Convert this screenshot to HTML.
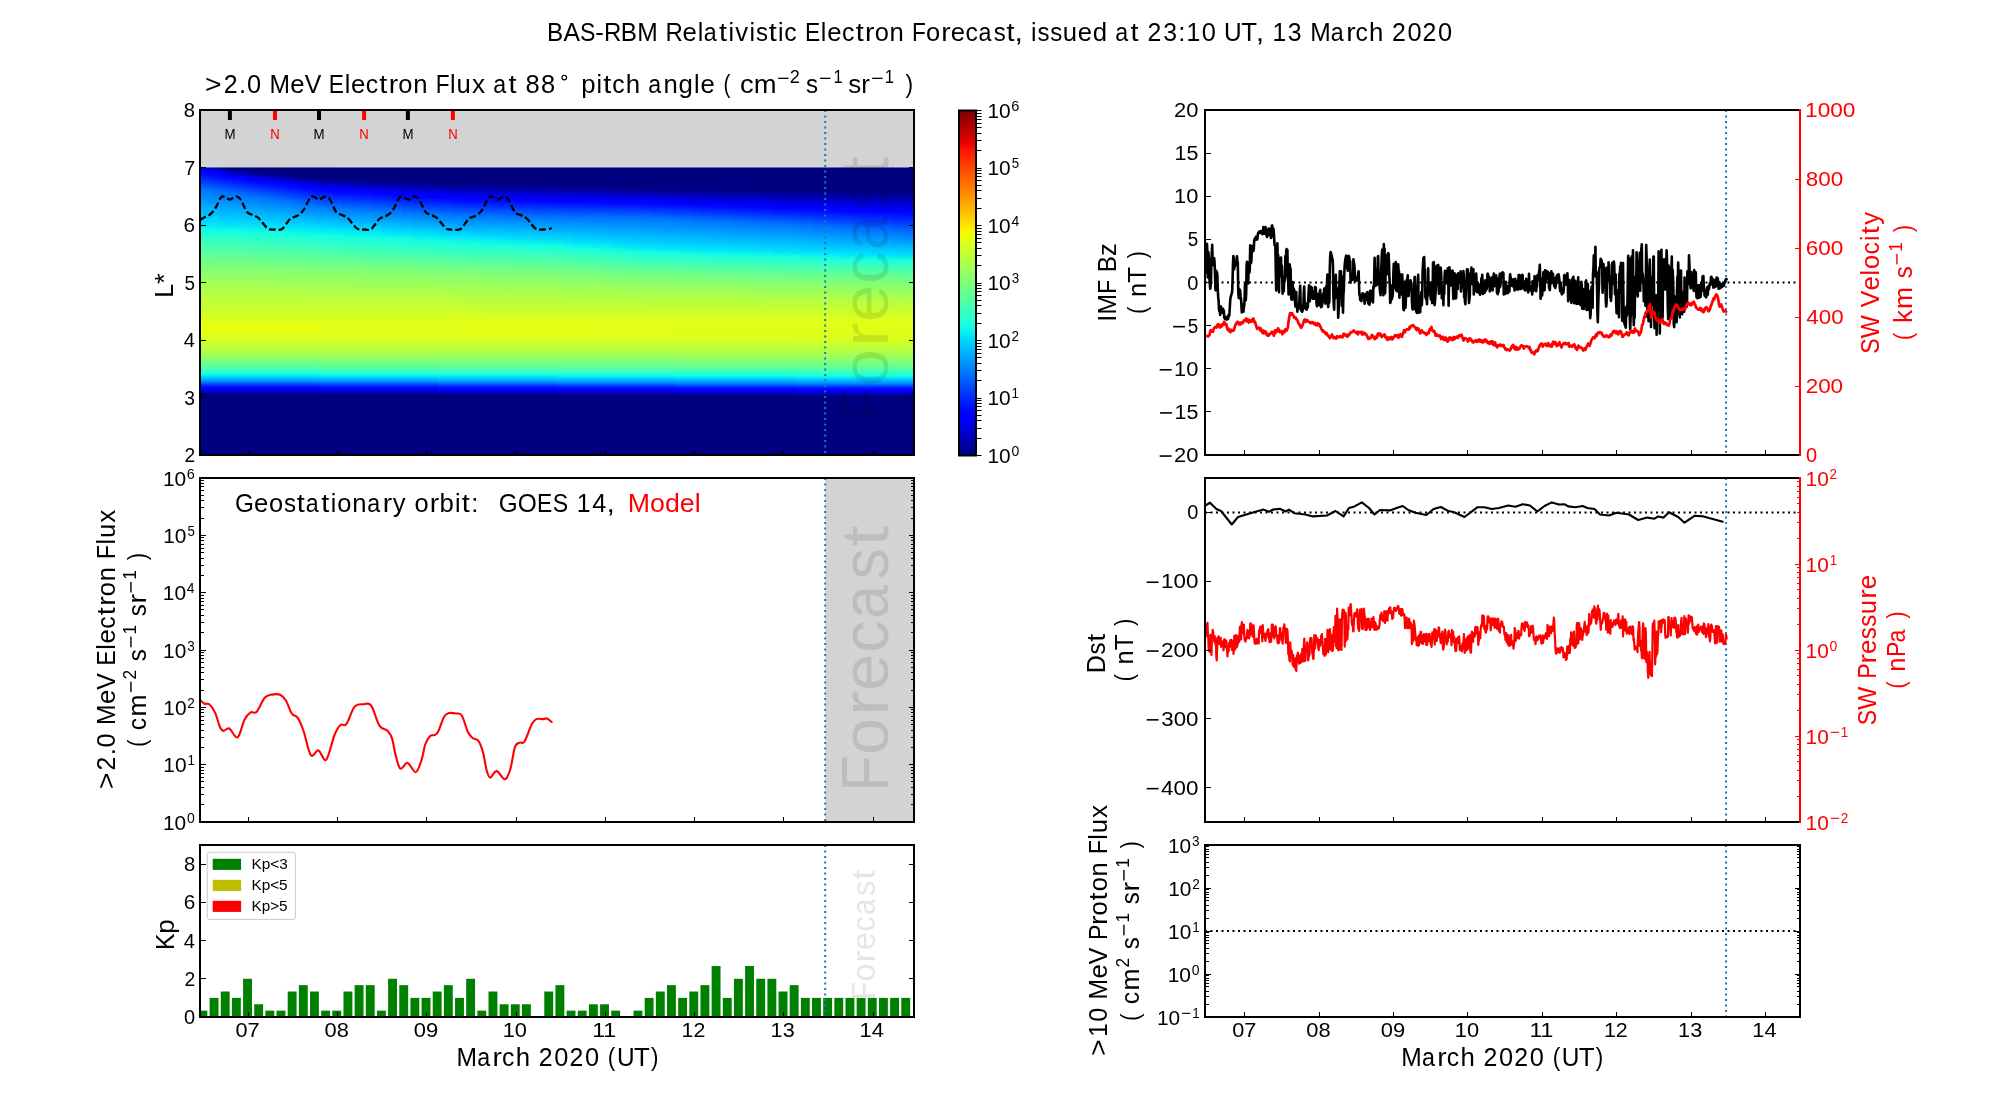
<!DOCTYPE html><html><head><meta charset="utf-8"><title>BAS-RBM Forecast</title><style>html,body{margin:0;padding:0;background:#fff;width:2000px;height:1100px;overflow:hidden}svg{display:block;font-family:"Liberation Sans",sans-serif;will-change:transform}</style></head><body><svg width="2000" height="1100" viewBox="0 0 2000 1100" font-family="Liberation Sans, sans-serif" style="white-space:pre" xml:space="preserve"><defs><clipPath id="c1"><rect x="200" y="110" width="714" height="345"/></clipPath><clipPath id="c2"><rect x="200" y="478" width="714" height="344"/></clipPath><clipPath id="c3"><rect x="200" y="845" width="714" height="172"/></clipPath><clipPath id="c4"><rect x="1205" y="110" width="595" height="345"/></clipPath><clipPath id="c5"><rect x="1205" y="478" width="595" height="344"/></clipPath><clipPath id="c6"><rect x="1205" y="845" width="595" height="172"/></clipPath><linearGradient id="hb0" x1="0" y1="1" x2="0" y2="0"><stop offset="0.000" stop-color="#000080"/><stop offset="0.019" stop-color="#000080"/><stop offset="0.038" stop-color="#000080"/><stop offset="0.058" stop-color="#00009b"/><stop offset="0.077" stop-color="#0000c4"/><stop offset="0.096" stop-color="#0000e3"/><stop offset="0.115" stop-color="#0000fa"/><stop offset="0.135" stop-color="#0004ff"/><stop offset="0.154" stop-color="#001cff"/><stop offset="0.173" stop-color="#0040ff"/><stop offset="0.192" stop-color="#0060ff"/><stop offset="0.212" stop-color="#0084ff"/><stop offset="0.231" stop-color="#00a0ff"/><stop offset="0.250" stop-color="#00b4ff"/><stop offset="0.269" stop-color="#00ccff"/><stop offset="0.288" stop-color="#00e4f8"/><stop offset="0.308" stop-color="#0ff8e7"/><stop offset="0.327" stop-color="#1fffd7"/><stop offset="0.346" stop-color="#30ffc7"/><stop offset="0.365" stop-color="#3cffba"/><stop offset="0.385" stop-color="#46ffb1"/><stop offset="0.404" stop-color="#50ffa7"/><stop offset="0.423" stop-color="#5dff9a"/><stop offset="0.442" stop-color="#66ff90"/><stop offset="0.462" stop-color="#70ff87"/><stop offset="0.538" stop-color="#90ff66"/><stop offset="0.615" stop-color="#b1ff46"/><stop offset="0.692" stop-color="#c4ff33"/><stop offset="0.769" stop-color="#d7ff1f"/><stop offset="0.846" stop-color="#deff19"/><stop offset="0.923" stop-color="#e7ff0f"/><stop offset="1.000" stop-color="#deff19"/></linearGradient><linearGradient id="hb1" x1="0" y1="1" x2="0" y2="0"><stop offset="0.000" stop-color="#000080"/><stop offset="0.019" stop-color="#000080"/><stop offset="0.038" stop-color="#000080"/><stop offset="0.058" stop-color="#0000a4"/><stop offset="0.077" stop-color="#0000cd"/><stop offset="0.096" stop-color="#0000e8"/><stop offset="0.115" stop-color="#0000ff"/><stop offset="0.135" stop-color="#0008ff"/><stop offset="0.154" stop-color="#0024ff"/><stop offset="0.173" stop-color="#0048ff"/><stop offset="0.192" stop-color="#0068ff"/><stop offset="0.212" stop-color="#008cff"/><stop offset="0.231" stop-color="#00a4ff"/><stop offset="0.250" stop-color="#00bcff"/><stop offset="0.269" stop-color="#00d4ff"/><stop offset="0.288" stop-color="#06ecf1"/><stop offset="0.308" stop-color="#13fce4"/><stop offset="0.327" stop-color="#23ffd4"/><stop offset="0.346" stop-color="#33ffc4"/><stop offset="0.365" stop-color="#40ffb7"/><stop offset="0.385" stop-color="#49ffad"/><stop offset="0.404" stop-color="#53ffa4"/><stop offset="0.423" stop-color="#60ff97"/><stop offset="0.442" stop-color="#6aff8d"/><stop offset="0.462" stop-color="#73ff83"/><stop offset="0.538" stop-color="#94ff63"/><stop offset="0.615" stop-color="#b1ff46"/><stop offset="0.692" stop-color="#c4ff33"/><stop offset="0.769" stop-color="#d7ff1f"/><stop offset="0.846" stop-color="#deff19"/><stop offset="0.923" stop-color="#e4ff13"/><stop offset="1.000" stop-color="#e1ff16"/></linearGradient><linearGradient id="hb2" x1="0" y1="1" x2="0" y2="0"><stop offset="0.000" stop-color="#000080"/><stop offset="0.019" stop-color="#000080"/><stop offset="0.038" stop-color="#000089"/><stop offset="0.058" stop-color="#0000b2"/><stop offset="0.077" stop-color="#0000d6"/><stop offset="0.096" stop-color="#0000f1"/><stop offset="0.115" stop-color="#0000ff"/><stop offset="0.135" stop-color="#0010ff"/><stop offset="0.154" stop-color="#0030ff"/><stop offset="0.173" stop-color="#0050ff"/><stop offset="0.192" stop-color="#0074ff"/><stop offset="0.212" stop-color="#0094ff"/><stop offset="0.231" stop-color="#00acff"/><stop offset="0.250" stop-color="#00c4ff"/><stop offset="0.269" stop-color="#00d8ff"/><stop offset="0.288" stop-color="#09f0ee"/><stop offset="0.308" stop-color="#19ffde"/><stop offset="0.327" stop-color="#29ffce"/><stop offset="0.346" stop-color="#36ffc1"/><stop offset="0.365" stop-color="#43ffb4"/><stop offset="0.385" stop-color="#4dffaa"/><stop offset="0.404" stop-color="#56ffa0"/><stop offset="0.423" stop-color="#60ff97"/><stop offset="0.442" stop-color="#6dff8a"/><stop offset="0.462" stop-color="#77ff80"/><stop offset="0.538" stop-color="#94ff63"/><stop offset="0.615" stop-color="#b1ff46"/><stop offset="0.692" stop-color="#c4ff33"/><stop offset="0.769" stop-color="#d7ff1f"/><stop offset="0.846" stop-color="#deff19"/><stop offset="0.923" stop-color="#e4ff13"/><stop offset="1.000" stop-color="#e1ff16"/></linearGradient><linearGradient id="hb3" x1="0" y1="1" x2="0" y2="0"><stop offset="0.000" stop-color="#000080"/><stop offset="0.019" stop-color="#000080"/><stop offset="0.038" stop-color="#000092"/><stop offset="0.058" stop-color="#0000bb"/><stop offset="0.077" stop-color="#0000da"/><stop offset="0.096" stop-color="#0000f6"/><stop offset="0.115" stop-color="#0000ff"/><stop offset="0.135" stop-color="#0018ff"/><stop offset="0.154" stop-color="#0038ff"/><stop offset="0.173" stop-color="#0058ff"/><stop offset="0.192" stop-color="#007cff"/><stop offset="0.212" stop-color="#009cff"/><stop offset="0.231" stop-color="#00b0ff"/><stop offset="0.250" stop-color="#00c8ff"/><stop offset="0.269" stop-color="#00e0fb"/><stop offset="0.288" stop-color="#0cf4eb"/><stop offset="0.308" stop-color="#1cffdb"/><stop offset="0.327" stop-color="#2cffca"/><stop offset="0.346" stop-color="#39ffbe"/><stop offset="0.365" stop-color="#46ffb1"/><stop offset="0.385" stop-color="#50ffa7"/><stop offset="0.404" stop-color="#5aff9d"/><stop offset="0.423" stop-color="#63ff94"/><stop offset="0.442" stop-color="#6dff8a"/><stop offset="0.462" stop-color="#77ff80"/><stop offset="0.538" stop-color="#97ff60"/><stop offset="0.615" stop-color="#b1ff46"/><stop offset="0.692" stop-color="#c4ff33"/><stop offset="0.769" stop-color="#d7ff1f"/><stop offset="0.846" stop-color="#deff19"/><stop offset="0.923" stop-color="#e4ff13"/><stop offset="1.000" stop-color="#e4ff13"/></linearGradient><linearGradient id="hb4" x1="0" y1="1" x2="0" y2="0"><stop offset="0.000" stop-color="#000080"/><stop offset="0.019" stop-color="#000080"/><stop offset="0.038" stop-color="#00009f"/><stop offset="0.058" stop-color="#0000c8"/><stop offset="0.077" stop-color="#0000e3"/><stop offset="0.096" stop-color="#0000ff"/><stop offset="0.115" stop-color="#0004ff"/><stop offset="0.135" stop-color="#0020ff"/><stop offset="0.154" stop-color="#0040ff"/><stop offset="0.173" stop-color="#0064ff"/><stop offset="0.192" stop-color="#0084ff"/><stop offset="0.212" stop-color="#00a0ff"/><stop offset="0.231" stop-color="#00b8ff"/><stop offset="0.250" stop-color="#00d0ff"/><stop offset="0.269" stop-color="#00e4f8"/><stop offset="0.288" stop-color="#13fce4"/><stop offset="0.308" stop-color="#1fffd7"/><stop offset="0.327" stop-color="#30ffc7"/><stop offset="0.346" stop-color="#3cffba"/><stop offset="0.365" stop-color="#46ffb1"/><stop offset="0.385" stop-color="#53ffa4"/><stop offset="0.404" stop-color="#5dff9a"/><stop offset="0.423" stop-color="#66ff90"/><stop offset="0.442" stop-color="#70ff87"/><stop offset="0.462" stop-color="#7aff7d"/><stop offset="0.538" stop-color="#97ff60"/><stop offset="0.615" stop-color="#b1ff46"/><stop offset="0.692" stop-color="#c4ff33"/><stop offset="0.769" stop-color="#d7ff1f"/><stop offset="0.846" stop-color="#deff19"/><stop offset="0.923" stop-color="#e1ff16"/><stop offset="1.000" stop-color="#e4ff13"/></linearGradient><linearGradient id="hb5" x1="0" y1="1" x2="0" y2="0"><stop offset="0.000" stop-color="#000080"/><stop offset="0.019" stop-color="#000080"/><stop offset="0.038" stop-color="#0000a8"/><stop offset="0.058" stop-color="#0000d1"/><stop offset="0.077" stop-color="#0000e8"/><stop offset="0.096" stop-color="#0000ff"/><stop offset="0.115" stop-color="#000cff"/><stop offset="0.135" stop-color="#0028ff"/><stop offset="0.154" stop-color="#0048ff"/><stop offset="0.173" stop-color="#006cff"/><stop offset="0.192" stop-color="#008cff"/><stop offset="0.212" stop-color="#00a8ff"/><stop offset="0.231" stop-color="#00bcff"/><stop offset="0.250" stop-color="#00d4ff"/><stop offset="0.269" stop-color="#06ecf1"/><stop offset="0.288" stop-color="#16ffe1"/><stop offset="0.308" stop-color="#26ffd1"/><stop offset="0.327" stop-color="#33ffc4"/><stop offset="0.346" stop-color="#40ffb7"/><stop offset="0.365" stop-color="#49ffad"/><stop offset="0.385" stop-color="#53ffa4"/><stop offset="0.404" stop-color="#60ff97"/><stop offset="0.423" stop-color="#6aff8d"/><stop offset="0.442" stop-color="#73ff83"/><stop offset="0.462" stop-color="#7aff7d"/><stop offset="0.538" stop-color="#97ff60"/><stop offset="0.615" stop-color="#b1ff46"/><stop offset="0.692" stop-color="#c4ff33"/><stop offset="0.769" stop-color="#d7ff1f"/><stop offset="0.846" stop-color="#dbff1c"/><stop offset="0.923" stop-color="#e1ff16"/><stop offset="1.000" stop-color="#e4ff13"/></linearGradient><linearGradient id="h0" x1="0" y1="1" x2="0" y2="0"><stop offset="0.000" stop-color="#e4ff13"/><stop offset="0.036" stop-color="#dbff1c"/><stop offset="0.073" stop-color="#d1ff26"/><stop offset="0.109" stop-color="#caff2c"/><stop offset="0.145" stop-color="#c1ff36"/><stop offset="0.182" stop-color="#baff3c"/><stop offset="0.218" stop-color="#b1ff46"/><stop offset="0.255" stop-color="#a7ff50"/><stop offset="0.291" stop-color="#9aff5d"/><stop offset="0.327" stop-color="#8dff6a"/><stop offset="0.364" stop-color="#80ff77"/><stop offset="0.400" stop-color="#73ff83"/><stop offset="0.418" stop-color="#6dff8a"/><stop offset="0.440" stop-color="#63ff94"/><stop offset="0.462" stop-color="#5aff9d"/><stop offset="0.484" stop-color="#50ffa7"/><stop offset="0.505" stop-color="#46ffb1"/><stop offset="0.527" stop-color="#3cffba"/><stop offset="0.549" stop-color="#33ffc4"/><stop offset="0.571" stop-color="#26ffd1"/><stop offset="0.593" stop-color="#19ffde"/><stop offset="0.615" stop-color="#0ff8e7"/><stop offset="0.636" stop-color="#02e8f4"/><stop offset="0.658" stop-color="#00dcfe"/><stop offset="0.680" stop-color="#00d0ff"/><stop offset="0.702" stop-color="#00c4ff"/><stop offset="0.724" stop-color="#00bcff"/><stop offset="0.745" stop-color="#00b0ff"/><stop offset="0.767" stop-color="#00a4ff"/><stop offset="0.789" stop-color="#0098ff"/><stop offset="0.811" stop-color="#008cff"/><stop offset="0.833" stop-color="#0080ff"/><stop offset="0.855" stop-color="#0078ff"/><stop offset="0.876" stop-color="#0064ff"/><stop offset="0.898" stop-color="#004cff"/><stop offset="0.920" stop-color="#0034ff"/><stop offset="0.942" stop-color="#001cff"/><stop offset="0.964" stop-color="#0008ff"/><stop offset="0.985" stop-color="#0000ff"/><stop offset="1.000" stop-color="#0000df"/></linearGradient><linearGradient id="h1" x1="0" y1="1" x2="0" y2="0"><stop offset="0.000" stop-color="#e4ff13"/><stop offset="0.036" stop-color="#dbff1c"/><stop offset="0.073" stop-color="#d1ff26"/><stop offset="0.109" stop-color="#caff2c"/><stop offset="0.145" stop-color="#c1ff36"/><stop offset="0.182" stop-color="#baff3c"/><stop offset="0.218" stop-color="#b1ff46"/><stop offset="0.255" stop-color="#a7ff50"/><stop offset="0.291" stop-color="#9aff5d"/><stop offset="0.327" stop-color="#8dff6a"/><stop offset="0.364" stop-color="#80ff77"/><stop offset="0.400" stop-color="#73ff83"/><stop offset="0.418" stop-color="#6dff8a"/><stop offset="0.440" stop-color="#63ff94"/><stop offset="0.462" stop-color="#5aff9d"/><stop offset="0.484" stop-color="#50ffa7"/><stop offset="0.505" stop-color="#46ffb1"/><stop offset="0.527" stop-color="#3cffba"/><stop offset="0.549" stop-color="#30ffc7"/><stop offset="0.571" stop-color="#26ffd1"/><stop offset="0.593" stop-color="#19ffde"/><stop offset="0.615" stop-color="#0ff8e7"/><stop offset="0.636" stop-color="#02e8f4"/><stop offset="0.658" stop-color="#00dcfe"/><stop offset="0.680" stop-color="#00d0ff"/><stop offset="0.702" stop-color="#00c4ff"/><stop offset="0.724" stop-color="#00b8ff"/><stop offset="0.745" stop-color="#00b0ff"/><stop offset="0.767" stop-color="#00a4ff"/><stop offset="0.789" stop-color="#0098ff"/><stop offset="0.811" stop-color="#008cff"/><stop offset="0.833" stop-color="#0080ff"/><stop offset="0.855" stop-color="#0074ff"/><stop offset="0.876" stop-color="#0060ff"/><stop offset="0.898" stop-color="#0048ff"/><stop offset="0.920" stop-color="#0030ff"/><stop offset="0.942" stop-color="#0018ff"/><stop offset="0.964" stop-color="#0000ff"/><stop offset="0.985" stop-color="#0000f6"/><stop offset="1.000" stop-color="#0000cd"/></linearGradient><linearGradient id="h2" x1="0" y1="1" x2="0" y2="0"><stop offset="0.000" stop-color="#e4ff13"/><stop offset="0.036" stop-color="#dbff1c"/><stop offset="0.073" stop-color="#d1ff26"/><stop offset="0.109" stop-color="#caff2c"/><stop offset="0.145" stop-color="#c1ff36"/><stop offset="0.182" stop-color="#baff3c"/><stop offset="0.218" stop-color="#b1ff46"/><stop offset="0.255" stop-color="#a7ff50"/><stop offset="0.291" stop-color="#9aff5d"/><stop offset="0.327" stop-color="#8dff6a"/><stop offset="0.364" stop-color="#80ff77"/><stop offset="0.400" stop-color="#73ff83"/><stop offset="0.418" stop-color="#6dff8a"/><stop offset="0.440" stop-color="#63ff94"/><stop offset="0.462" stop-color="#5aff9d"/><stop offset="0.484" stop-color="#50ffa7"/><stop offset="0.505" stop-color="#46ffb1"/><stop offset="0.527" stop-color="#3cffba"/><stop offset="0.549" stop-color="#30ffc7"/><stop offset="0.571" stop-color="#26ffd1"/><stop offset="0.593" stop-color="#19ffde"/><stop offset="0.615" stop-color="#0cf4eb"/><stop offset="0.636" stop-color="#02e8f4"/><stop offset="0.658" stop-color="#00dcfe"/><stop offset="0.680" stop-color="#00d0ff"/><stop offset="0.702" stop-color="#00c4ff"/><stop offset="0.724" stop-color="#00b8ff"/><stop offset="0.745" stop-color="#00acff"/><stop offset="0.767" stop-color="#00a0ff"/><stop offset="0.789" stop-color="#0094ff"/><stop offset="0.811" stop-color="#008cff"/><stop offset="0.833" stop-color="#0080ff"/><stop offset="0.855" stop-color="#0074ff"/><stop offset="0.876" stop-color="#005cff"/><stop offset="0.898" stop-color="#0044ff"/><stop offset="0.920" stop-color="#002cff"/><stop offset="0.942" stop-color="#0014ff"/><stop offset="0.964" stop-color="#0000ff"/><stop offset="0.985" stop-color="#0000e8"/><stop offset="1.000" stop-color="#0000bf"/></linearGradient><linearGradient id="h3" x1="0" y1="1" x2="0" y2="0"><stop offset="0.000" stop-color="#e4ff13"/><stop offset="0.036" stop-color="#dbff1c"/><stop offset="0.073" stop-color="#d1ff26"/><stop offset="0.109" stop-color="#caff2c"/><stop offset="0.145" stop-color="#c1ff36"/><stop offset="0.182" stop-color="#baff3c"/><stop offset="0.218" stop-color="#b1ff46"/><stop offset="0.255" stop-color="#a7ff50"/><stop offset="0.291" stop-color="#9aff5d"/><stop offset="0.327" stop-color="#8dff6a"/><stop offset="0.364" stop-color="#80ff77"/><stop offset="0.400" stop-color="#73ff83"/><stop offset="0.418" stop-color="#6dff8a"/><stop offset="0.440" stop-color="#63ff94"/><stop offset="0.462" stop-color="#5aff9d"/><stop offset="0.484" stop-color="#50ffa7"/><stop offset="0.505" stop-color="#46ffb1"/><stop offset="0.527" stop-color="#3cffba"/><stop offset="0.549" stop-color="#30ffc7"/><stop offset="0.571" stop-color="#23ffd4"/><stop offset="0.593" stop-color="#19ffde"/><stop offset="0.615" stop-color="#0cf4eb"/><stop offset="0.636" stop-color="#02e8f4"/><stop offset="0.658" stop-color="#00dcfe"/><stop offset="0.680" stop-color="#00d0ff"/><stop offset="0.702" stop-color="#00c4ff"/><stop offset="0.724" stop-color="#00b8ff"/><stop offset="0.745" stop-color="#00acff"/><stop offset="0.767" stop-color="#00a0ff"/><stop offset="0.789" stop-color="#0094ff"/><stop offset="0.811" stop-color="#0088ff"/><stop offset="0.833" stop-color="#007cff"/><stop offset="0.855" stop-color="#0070ff"/><stop offset="0.876" stop-color="#0058ff"/><stop offset="0.898" stop-color="#0040ff"/><stop offset="0.920" stop-color="#0028ff"/><stop offset="0.942" stop-color="#0010ff"/><stop offset="0.964" stop-color="#0000ff"/><stop offset="0.985" stop-color="#0000d6"/><stop offset="1.000" stop-color="#0000ad"/></linearGradient><linearGradient id="h4" x1="0" y1="1" x2="0" y2="0"><stop offset="0.000" stop-color="#e4ff13"/><stop offset="0.036" stop-color="#dbff1c"/><stop offset="0.073" stop-color="#d1ff26"/><stop offset="0.109" stop-color="#caff2c"/><stop offset="0.145" stop-color="#c1ff36"/><stop offset="0.182" stop-color="#baff3c"/><stop offset="0.218" stop-color="#b1ff46"/><stop offset="0.255" stop-color="#a7ff50"/><stop offset="0.291" stop-color="#9aff5d"/><stop offset="0.327" stop-color="#8dff6a"/><stop offset="0.364" stop-color="#80ff77"/><stop offset="0.400" stop-color="#73ff83"/><stop offset="0.418" stop-color="#6aff8d"/><stop offset="0.440" stop-color="#60ff97"/><stop offset="0.462" stop-color="#56ffa0"/><stop offset="0.484" stop-color="#4dffaa"/><stop offset="0.505" stop-color="#43ffb4"/><stop offset="0.527" stop-color="#39ffbe"/><stop offset="0.549" stop-color="#30ffc7"/><stop offset="0.571" stop-color="#23ffd4"/><stop offset="0.593" stop-color="#19ffde"/><stop offset="0.615" stop-color="#0cf4eb"/><stop offset="0.636" stop-color="#02e8f4"/><stop offset="0.658" stop-color="#00dcfe"/><stop offset="0.680" stop-color="#00d0ff"/><stop offset="0.702" stop-color="#00c4ff"/><stop offset="0.724" stop-color="#00b8ff"/><stop offset="0.745" stop-color="#00acff"/><stop offset="0.767" stop-color="#00a0ff"/><stop offset="0.789" stop-color="#0094ff"/><stop offset="0.811" stop-color="#0088ff"/><stop offset="0.833" stop-color="#007cff"/><stop offset="0.855" stop-color="#006cff"/><stop offset="0.876" stop-color="#0054ff"/><stop offset="0.898" stop-color="#003cff"/><stop offset="0.920" stop-color="#0024ff"/><stop offset="0.942" stop-color="#000cff"/><stop offset="0.964" stop-color="#0000ff"/><stop offset="0.985" stop-color="#0000c4"/><stop offset="1.000" stop-color="#000096"/></linearGradient><linearGradient id="h5" x1="0" y1="1" x2="0" y2="0"><stop offset="0.000" stop-color="#e4ff13"/><stop offset="0.036" stop-color="#dbff1c"/><stop offset="0.073" stop-color="#d1ff26"/><stop offset="0.109" stop-color="#caff2c"/><stop offset="0.145" stop-color="#c1ff36"/><stop offset="0.182" stop-color="#baff3c"/><stop offset="0.218" stop-color="#b1ff46"/><stop offset="0.255" stop-color="#a7ff50"/><stop offset="0.291" stop-color="#9aff5d"/><stop offset="0.327" stop-color="#8dff6a"/><stop offset="0.364" stop-color="#80ff77"/><stop offset="0.400" stop-color="#73ff83"/><stop offset="0.418" stop-color="#6aff8d"/><stop offset="0.440" stop-color="#60ff97"/><stop offset="0.462" stop-color="#56ffa0"/><stop offset="0.484" stop-color="#4dffaa"/><stop offset="0.505" stop-color="#43ffb4"/><stop offset="0.527" stop-color="#39ffbe"/><stop offset="0.549" stop-color="#30ffc7"/><stop offset="0.571" stop-color="#23ffd4"/><stop offset="0.593" stop-color="#19ffde"/><stop offset="0.615" stop-color="#0cf4eb"/><stop offset="0.636" stop-color="#00e4f8"/><stop offset="0.658" stop-color="#00d8ff"/><stop offset="0.680" stop-color="#00ccff"/><stop offset="0.702" stop-color="#00c0ff"/><stop offset="0.724" stop-color="#00b4ff"/><stop offset="0.745" stop-color="#00a8ff"/><stop offset="0.767" stop-color="#009cff"/><stop offset="0.789" stop-color="#0090ff"/><stop offset="0.811" stop-color="#0084ff"/><stop offset="0.833" stop-color="#0078ff"/><stop offset="0.855" stop-color="#0068ff"/><stop offset="0.876" stop-color="#0050ff"/><stop offset="0.898" stop-color="#0038ff"/><stop offset="0.920" stop-color="#001cff"/><stop offset="0.942" stop-color="#0004ff"/><stop offset="0.964" stop-color="#0000fa"/><stop offset="0.985" stop-color="#0000b2"/><stop offset="1.000" stop-color="#000080"/></linearGradient><linearGradient id="h6" x1="0" y1="1" x2="0" y2="0"><stop offset="0.000" stop-color="#e4ff13"/><stop offset="0.036" stop-color="#dbff1c"/><stop offset="0.073" stop-color="#d1ff26"/><stop offset="0.109" stop-color="#caff2c"/><stop offset="0.145" stop-color="#c1ff36"/><stop offset="0.182" stop-color="#baff3c"/><stop offset="0.218" stop-color="#b1ff46"/><stop offset="0.255" stop-color="#a7ff50"/><stop offset="0.291" stop-color="#9aff5d"/><stop offset="0.327" stop-color="#8dff6a"/><stop offset="0.364" stop-color="#80ff77"/><stop offset="0.400" stop-color="#73ff83"/><stop offset="0.418" stop-color="#6aff8d"/><stop offset="0.440" stop-color="#60ff97"/><stop offset="0.462" stop-color="#56ffa0"/><stop offset="0.484" stop-color="#4dffaa"/><stop offset="0.505" stop-color="#43ffb4"/><stop offset="0.527" stop-color="#39ffbe"/><stop offset="0.549" stop-color="#30ffc7"/><stop offset="0.571" stop-color="#23ffd4"/><stop offset="0.593" stop-color="#16ffe1"/><stop offset="0.615" stop-color="#0cf4eb"/><stop offset="0.636" stop-color="#00e4f8"/><stop offset="0.658" stop-color="#00d8ff"/><stop offset="0.680" stop-color="#00ccff"/><stop offset="0.702" stop-color="#00c0ff"/><stop offset="0.724" stop-color="#00b4ff"/><stop offset="0.745" stop-color="#00a8ff"/><stop offset="0.767" stop-color="#009cff"/><stop offset="0.789" stop-color="#0090ff"/><stop offset="0.811" stop-color="#0084ff"/><stop offset="0.833" stop-color="#0078ff"/><stop offset="0.855" stop-color="#0064ff"/><stop offset="0.876" stop-color="#004cff"/><stop offset="0.898" stop-color="#0030ff"/><stop offset="0.920" stop-color="#0018ff"/><stop offset="0.942" stop-color="#0000ff"/><stop offset="0.964" stop-color="#0000e8"/><stop offset="0.985" stop-color="#00009b"/><stop offset="1.000" stop-color="#000080"/></linearGradient><linearGradient id="h7" x1="0" y1="1" x2="0" y2="0"><stop offset="0.000" stop-color="#e4ff13"/><stop offset="0.036" stop-color="#dbff1c"/><stop offset="0.073" stop-color="#d1ff26"/><stop offset="0.109" stop-color="#caff2c"/><stop offset="0.145" stop-color="#c1ff36"/><stop offset="0.182" stop-color="#baff3c"/><stop offset="0.218" stop-color="#b1ff46"/><stop offset="0.255" stop-color="#a7ff50"/><stop offset="0.291" stop-color="#9aff5d"/><stop offset="0.327" stop-color="#8dff6a"/><stop offset="0.364" stop-color="#80ff77"/><stop offset="0.400" stop-color="#73ff83"/><stop offset="0.418" stop-color="#6aff8d"/><stop offset="0.440" stop-color="#60ff97"/><stop offset="0.462" stop-color="#56ffa0"/><stop offset="0.484" stop-color="#4dffaa"/><stop offset="0.505" stop-color="#43ffb4"/><stop offset="0.527" stop-color="#39ffbe"/><stop offset="0.549" stop-color="#2cffca"/><stop offset="0.571" stop-color="#23ffd4"/><stop offset="0.593" stop-color="#16ffe1"/><stop offset="0.615" stop-color="#0cf4eb"/><stop offset="0.636" stop-color="#00e4f8"/><stop offset="0.658" stop-color="#00d8ff"/><stop offset="0.680" stop-color="#00ccff"/><stop offset="0.702" stop-color="#00c0ff"/><stop offset="0.724" stop-color="#00b4ff"/><stop offset="0.745" stop-color="#00a8ff"/><stop offset="0.767" stop-color="#009cff"/><stop offset="0.789" stop-color="#0090ff"/><stop offset="0.811" stop-color="#0084ff"/><stop offset="0.833" stop-color="#0074ff"/><stop offset="0.855" stop-color="#0060ff"/><stop offset="0.876" stop-color="#0044ff"/><stop offset="0.898" stop-color="#002cff"/><stop offset="0.920" stop-color="#0014ff"/><stop offset="0.942" stop-color="#0000ff"/><stop offset="0.964" stop-color="#0000d1"/><stop offset="0.985" stop-color="#000080"/><stop offset="1.000" stop-color="#000080"/></linearGradient><linearGradient id="h8" x1="0" y1="1" x2="0" y2="0"><stop offset="0.000" stop-color="#e4ff13"/><stop offset="0.036" stop-color="#dbff1c"/><stop offset="0.073" stop-color="#d1ff26"/><stop offset="0.109" stop-color="#caff2c"/><stop offset="0.145" stop-color="#c1ff36"/><stop offset="0.182" stop-color="#baff3c"/><stop offset="0.218" stop-color="#b1ff46"/><stop offset="0.255" stop-color="#a7ff50"/><stop offset="0.291" stop-color="#9aff5d"/><stop offset="0.327" stop-color="#8dff6a"/><stop offset="0.364" stop-color="#80ff77"/><stop offset="0.400" stop-color="#73ff83"/><stop offset="0.418" stop-color="#6aff8d"/><stop offset="0.440" stop-color="#60ff97"/><stop offset="0.462" stop-color="#56ffa0"/><stop offset="0.484" stop-color="#4dffaa"/><stop offset="0.505" stop-color="#43ffb4"/><stop offset="0.527" stop-color="#39ffbe"/><stop offset="0.549" stop-color="#2cffca"/><stop offset="0.571" stop-color="#23ffd4"/><stop offset="0.593" stop-color="#16ffe1"/><stop offset="0.615" stop-color="#0cf4eb"/><stop offset="0.636" stop-color="#00e4f8"/><stop offset="0.658" stop-color="#00d8ff"/><stop offset="0.680" stop-color="#00ccff"/><stop offset="0.702" stop-color="#00c0ff"/><stop offset="0.724" stop-color="#00b4ff"/><stop offset="0.745" stop-color="#00a4ff"/><stop offset="0.767" stop-color="#0098ff"/><stop offset="0.789" stop-color="#008cff"/><stop offset="0.811" stop-color="#0080ff"/><stop offset="0.833" stop-color="#0074ff"/><stop offset="0.855" stop-color="#005cff"/><stop offset="0.876" stop-color="#0044ff"/><stop offset="0.898" stop-color="#0028ff"/><stop offset="0.920" stop-color="#0010ff"/><stop offset="0.942" stop-color="#0000ff"/><stop offset="0.964" stop-color="#0000c8"/><stop offset="0.985" stop-color="#000080"/><stop offset="1.000" stop-color="#000080"/></linearGradient><linearGradient id="h9" x1="0" y1="1" x2="0" y2="0"><stop offset="0.000" stop-color="#e4ff13"/><stop offset="0.036" stop-color="#dbff1c"/><stop offset="0.073" stop-color="#d1ff26"/><stop offset="0.109" stop-color="#caff2c"/><stop offset="0.145" stop-color="#c1ff36"/><stop offset="0.182" stop-color="#baff3c"/><stop offset="0.218" stop-color="#b1ff46"/><stop offset="0.255" stop-color="#a7ff50"/><stop offset="0.291" stop-color="#9aff5d"/><stop offset="0.327" stop-color="#8dff6a"/><stop offset="0.364" stop-color="#80ff77"/><stop offset="0.400" stop-color="#73ff83"/><stop offset="0.418" stop-color="#6aff8d"/><stop offset="0.440" stop-color="#60ff97"/><stop offset="0.462" stop-color="#56ffa0"/><stop offset="0.484" stop-color="#4dffaa"/><stop offset="0.505" stop-color="#43ffb4"/><stop offset="0.527" stop-color="#39ffbe"/><stop offset="0.549" stop-color="#2cffca"/><stop offset="0.571" stop-color="#23ffd4"/><stop offset="0.593" stop-color="#16ffe1"/><stop offset="0.615" stop-color="#09f0ee"/><stop offset="0.636" stop-color="#00e4f8"/><stop offset="0.658" stop-color="#00d8ff"/><stop offset="0.680" stop-color="#00ccff"/><stop offset="0.702" stop-color="#00bcff"/><stop offset="0.724" stop-color="#00b0ff"/><stop offset="0.745" stop-color="#00a4ff"/><stop offset="0.767" stop-color="#0098ff"/><stop offset="0.789" stop-color="#008cff"/><stop offset="0.811" stop-color="#0080ff"/><stop offset="0.833" stop-color="#0070ff"/><stop offset="0.855" stop-color="#0058ff"/><stop offset="0.876" stop-color="#0040ff"/><stop offset="0.898" stop-color="#0024ff"/><stop offset="0.920" stop-color="#000cff"/><stop offset="0.942" stop-color="#0000ff"/><stop offset="0.964" stop-color="#0000bb"/><stop offset="0.985" stop-color="#000080"/><stop offset="1.000" stop-color="#000080"/></linearGradient><linearGradient id="h10" x1="0" y1="1" x2="0" y2="0"><stop offset="0.000" stop-color="#e4ff13"/><stop offset="0.036" stop-color="#dbff1c"/><stop offset="0.073" stop-color="#d1ff26"/><stop offset="0.109" stop-color="#caff2c"/><stop offset="0.145" stop-color="#c1ff36"/><stop offset="0.182" stop-color="#baff3c"/><stop offset="0.218" stop-color="#b1ff46"/><stop offset="0.255" stop-color="#a7ff50"/><stop offset="0.291" stop-color="#9aff5d"/><stop offset="0.327" stop-color="#8dff6a"/><stop offset="0.364" stop-color="#80ff77"/><stop offset="0.400" stop-color="#73ff83"/><stop offset="0.418" stop-color="#6aff8d"/><stop offset="0.440" stop-color="#60ff97"/><stop offset="0.462" stop-color="#56ffa0"/><stop offset="0.484" stop-color="#4dffaa"/><stop offset="0.505" stop-color="#43ffb4"/><stop offset="0.527" stop-color="#39ffbe"/><stop offset="0.549" stop-color="#2cffca"/><stop offset="0.571" stop-color="#1fffd7"/><stop offset="0.593" stop-color="#16ffe1"/><stop offset="0.615" stop-color="#09f0ee"/><stop offset="0.636" stop-color="#00e4f8"/><stop offset="0.658" stop-color="#00d4ff"/><stop offset="0.680" stop-color="#00c8ff"/><stop offset="0.702" stop-color="#00bcff"/><stop offset="0.724" stop-color="#00b0ff"/><stop offset="0.745" stop-color="#00a4ff"/><stop offset="0.767" stop-color="#0098ff"/><stop offset="0.789" stop-color="#0088ff"/><stop offset="0.811" stop-color="#007cff"/><stop offset="0.833" stop-color="#006cff"/><stop offset="0.855" stop-color="#0054ff"/><stop offset="0.876" stop-color="#003cff"/><stop offset="0.898" stop-color="#0020ff"/><stop offset="0.920" stop-color="#0008ff"/><stop offset="0.942" stop-color="#0000ff"/><stop offset="0.964" stop-color="#0000ad"/><stop offset="0.985" stop-color="#000080"/><stop offset="1.000" stop-color="#000080"/></linearGradient><linearGradient id="h11" x1="0" y1="1" x2="0" y2="0"><stop offset="0.000" stop-color="#e4ff13"/><stop offset="0.036" stop-color="#dbff1c"/><stop offset="0.073" stop-color="#d1ff26"/><stop offset="0.109" stop-color="#caff2c"/><stop offset="0.145" stop-color="#c1ff36"/><stop offset="0.182" stop-color="#baff3c"/><stop offset="0.218" stop-color="#b1ff46"/><stop offset="0.255" stop-color="#a7ff50"/><stop offset="0.291" stop-color="#9aff5d"/><stop offset="0.327" stop-color="#8dff6a"/><stop offset="0.364" stop-color="#80ff77"/><stop offset="0.400" stop-color="#73ff83"/><stop offset="0.418" stop-color="#6aff8d"/><stop offset="0.440" stop-color="#60ff97"/><stop offset="0.462" stop-color="#56ffa0"/><stop offset="0.484" stop-color="#4dffaa"/><stop offset="0.505" stop-color="#43ffb4"/><stop offset="0.527" stop-color="#36ffc1"/><stop offset="0.549" stop-color="#2cffca"/><stop offset="0.571" stop-color="#1fffd7"/><stop offset="0.593" stop-color="#16ffe1"/><stop offset="0.615" stop-color="#09f0ee"/><stop offset="0.636" stop-color="#00e4f8"/><stop offset="0.658" stop-color="#00d4ff"/><stop offset="0.680" stop-color="#00c8ff"/><stop offset="0.702" stop-color="#00bcff"/><stop offset="0.724" stop-color="#00b0ff"/><stop offset="0.745" stop-color="#00a0ff"/><stop offset="0.767" stop-color="#0094ff"/><stop offset="0.789" stop-color="#0088ff"/><stop offset="0.811" stop-color="#007cff"/><stop offset="0.833" stop-color="#0068ff"/><stop offset="0.855" stop-color="#0050ff"/><stop offset="0.876" stop-color="#0038ff"/><stop offset="0.898" stop-color="#001cff"/><stop offset="0.920" stop-color="#0004ff"/><stop offset="0.942" stop-color="#0000f1"/><stop offset="0.964" stop-color="#0000a4"/><stop offset="0.985" stop-color="#000080"/><stop offset="1.000" stop-color="#000080"/></linearGradient><linearGradient id="h12" x1="0" y1="1" x2="0" y2="0"><stop offset="0.000" stop-color="#e4ff13"/><stop offset="0.036" stop-color="#dbff1c"/><stop offset="0.073" stop-color="#d1ff26"/><stop offset="0.109" stop-color="#caff2c"/><stop offset="0.145" stop-color="#c1ff36"/><stop offset="0.182" stop-color="#baff3c"/><stop offset="0.218" stop-color="#b1ff46"/><stop offset="0.255" stop-color="#a7ff50"/><stop offset="0.291" stop-color="#9aff5d"/><stop offset="0.327" stop-color="#8dff6a"/><stop offset="0.364" stop-color="#80ff77"/><stop offset="0.400" stop-color="#73ff83"/><stop offset="0.418" stop-color="#6aff8d"/><stop offset="0.440" stop-color="#60ff97"/><stop offset="0.462" stop-color="#56ffa0"/><stop offset="0.484" stop-color="#4dffaa"/><stop offset="0.505" stop-color="#40ffb7"/><stop offset="0.527" stop-color="#36ffc1"/><stop offset="0.549" stop-color="#2cffca"/><stop offset="0.571" stop-color="#1fffd7"/><stop offset="0.593" stop-color="#13fce4"/><stop offset="0.615" stop-color="#09f0ee"/><stop offset="0.636" stop-color="#00e0fb"/><stop offset="0.658" stop-color="#00d4ff"/><stop offset="0.680" stop-color="#00c8ff"/><stop offset="0.702" stop-color="#00bcff"/><stop offset="0.724" stop-color="#00acff"/><stop offset="0.745" stop-color="#00a0ff"/><stop offset="0.767" stop-color="#0094ff"/><stop offset="0.789" stop-color="#0084ff"/><stop offset="0.811" stop-color="#0078ff"/><stop offset="0.833" stop-color="#0064ff"/><stop offset="0.855" stop-color="#004cff"/><stop offset="0.876" stop-color="#0034ff"/><stop offset="0.898" stop-color="#0018ff"/><stop offset="0.920" stop-color="#0000ff"/><stop offset="0.942" stop-color="#0000e8"/><stop offset="0.964" stop-color="#000096"/><stop offset="0.985" stop-color="#000080"/><stop offset="1.000" stop-color="#000080"/></linearGradient><linearGradient id="h13" x1="0" y1="1" x2="0" y2="0"><stop offset="0.000" stop-color="#e4ff13"/><stop offset="0.036" stop-color="#dbff1c"/><stop offset="0.073" stop-color="#d1ff26"/><stop offset="0.109" stop-color="#caff2c"/><stop offset="0.145" stop-color="#c1ff36"/><stop offset="0.182" stop-color="#baff3c"/><stop offset="0.218" stop-color="#b1ff46"/><stop offset="0.255" stop-color="#a7ff50"/><stop offset="0.291" stop-color="#9aff5d"/><stop offset="0.327" stop-color="#8dff6a"/><stop offset="0.364" stop-color="#80ff77"/><stop offset="0.400" stop-color="#70ff87"/><stop offset="0.418" stop-color="#6aff8d"/><stop offset="0.440" stop-color="#60ff97"/><stop offset="0.462" stop-color="#56ffa0"/><stop offset="0.484" stop-color="#49ffad"/><stop offset="0.505" stop-color="#40ffb7"/><stop offset="0.527" stop-color="#36ffc1"/><stop offset="0.549" stop-color="#29ffce"/><stop offset="0.571" stop-color="#1fffd7"/><stop offset="0.593" stop-color="#13fce4"/><stop offset="0.615" stop-color="#09f0ee"/><stop offset="0.636" stop-color="#00e0fb"/><stop offset="0.658" stop-color="#00d4ff"/><stop offset="0.680" stop-color="#00c8ff"/><stop offset="0.702" stop-color="#00b8ff"/><stop offset="0.724" stop-color="#00acff"/><stop offset="0.745" stop-color="#00a0ff"/><stop offset="0.767" stop-color="#0090ff"/><stop offset="0.789" stop-color="#0084ff"/><stop offset="0.811" stop-color="#0078ff"/><stop offset="0.833" stop-color="#0060ff"/><stop offset="0.855" stop-color="#0048ff"/><stop offset="0.876" stop-color="#0030ff"/><stop offset="0.898" stop-color="#0014ff"/><stop offset="0.920" stop-color="#0000ff"/><stop offset="0.942" stop-color="#0000da"/><stop offset="0.964" stop-color="#00008d"/><stop offset="0.985" stop-color="#000080"/><stop offset="1.000" stop-color="#000080"/></linearGradient><linearGradient id="h14" x1="0" y1="1" x2="0" y2="0"><stop offset="0.000" stop-color="#e4ff13"/><stop offset="0.036" stop-color="#dbff1c"/><stop offset="0.073" stop-color="#d1ff26"/><stop offset="0.109" stop-color="#caff2c"/><stop offset="0.145" stop-color="#c1ff36"/><stop offset="0.182" stop-color="#baff3c"/><stop offset="0.218" stop-color="#b1ff46"/><stop offset="0.255" stop-color="#a7ff50"/><stop offset="0.291" stop-color="#9aff5d"/><stop offset="0.327" stop-color="#8dff6a"/><stop offset="0.364" stop-color="#80ff77"/><stop offset="0.400" stop-color="#70ff87"/><stop offset="0.418" stop-color="#6aff8d"/><stop offset="0.440" stop-color="#60ff97"/><stop offset="0.462" stop-color="#53ffa4"/><stop offset="0.484" stop-color="#49ffad"/><stop offset="0.505" stop-color="#40ffb7"/><stop offset="0.527" stop-color="#36ffc1"/><stop offset="0.549" stop-color="#29ffce"/><stop offset="0.571" stop-color="#1fffd7"/><stop offset="0.593" stop-color="#13fce4"/><stop offset="0.615" stop-color="#09f0ee"/><stop offset="0.636" stop-color="#00e0fb"/><stop offset="0.658" stop-color="#00d4ff"/><stop offset="0.680" stop-color="#00c4ff"/><stop offset="0.702" stop-color="#00b8ff"/><stop offset="0.724" stop-color="#00acff"/><stop offset="0.745" stop-color="#009cff"/><stop offset="0.767" stop-color="#0090ff"/><stop offset="0.789" stop-color="#0084ff"/><stop offset="0.811" stop-color="#0074ff"/><stop offset="0.833" stop-color="#005cff"/><stop offset="0.855" stop-color="#0044ff"/><stop offset="0.876" stop-color="#002cff"/><stop offset="0.898" stop-color="#0010ff"/><stop offset="0.920" stop-color="#0000ff"/><stop offset="0.942" stop-color="#0000d1"/><stop offset="0.964" stop-color="#000084"/><stop offset="0.985" stop-color="#000080"/><stop offset="1.000" stop-color="#000080"/></linearGradient><linearGradient id="h15" x1="0" y1="1" x2="0" y2="0"><stop offset="0.000" stop-color="#e4ff13"/><stop offset="0.036" stop-color="#dbff1c"/><stop offset="0.073" stop-color="#d1ff26"/><stop offset="0.109" stop-color="#caff2c"/><stop offset="0.145" stop-color="#c1ff36"/><stop offset="0.182" stop-color="#baff3c"/><stop offset="0.218" stop-color="#b1ff46"/><stop offset="0.255" stop-color="#a7ff50"/><stop offset="0.291" stop-color="#9aff5d"/><stop offset="0.327" stop-color="#8dff6a"/><stop offset="0.364" stop-color="#80ff77"/><stop offset="0.400" stop-color="#70ff87"/><stop offset="0.418" stop-color="#6aff8d"/><stop offset="0.440" stop-color="#60ff97"/><stop offset="0.462" stop-color="#53ffa4"/><stop offset="0.484" stop-color="#49ffad"/><stop offset="0.505" stop-color="#40ffb7"/><stop offset="0.527" stop-color="#36ffc1"/><stop offset="0.549" stop-color="#29ffce"/><stop offset="0.571" stop-color="#1fffd7"/><stop offset="0.593" stop-color="#13fce4"/><stop offset="0.615" stop-color="#06ecf1"/><stop offset="0.636" stop-color="#00e0fb"/><stop offset="0.658" stop-color="#00d0ff"/><stop offset="0.680" stop-color="#00c4ff"/><stop offset="0.702" stop-color="#00b8ff"/><stop offset="0.724" stop-color="#00a8ff"/><stop offset="0.745" stop-color="#009cff"/><stop offset="0.767" stop-color="#008cff"/><stop offset="0.789" stop-color="#0080ff"/><stop offset="0.811" stop-color="#0070ff"/><stop offset="0.833" stop-color="#0058ff"/><stop offset="0.855" stop-color="#0040ff"/><stop offset="0.876" stop-color="#0028ff"/><stop offset="0.898" stop-color="#000cff"/><stop offset="0.920" stop-color="#0000ff"/><stop offset="0.942" stop-color="#0000c4"/><stop offset="0.964" stop-color="#000080"/><stop offset="0.985" stop-color="#000080"/><stop offset="1.000" stop-color="#000080"/></linearGradient><linearGradient id="h16" x1="0" y1="1" x2="0" y2="0"><stop offset="0.000" stop-color="#e4ff13"/><stop offset="0.036" stop-color="#dbff1c"/><stop offset="0.073" stop-color="#d1ff26"/><stop offset="0.109" stop-color="#caff2c"/><stop offset="0.145" stop-color="#c1ff36"/><stop offset="0.182" stop-color="#baff3c"/><stop offset="0.218" stop-color="#b1ff46"/><stop offset="0.255" stop-color="#a4ff53"/><stop offset="0.291" stop-color="#9aff5d"/><stop offset="0.327" stop-color="#8dff6a"/><stop offset="0.364" stop-color="#80ff77"/><stop offset="0.400" stop-color="#70ff87"/><stop offset="0.418" stop-color="#6aff8d"/><stop offset="0.440" stop-color="#5dff9a"/><stop offset="0.462" stop-color="#53ffa4"/><stop offset="0.484" stop-color="#49ffad"/><stop offset="0.505" stop-color="#40ffb7"/><stop offset="0.527" stop-color="#33ffc4"/><stop offset="0.549" stop-color="#29ffce"/><stop offset="0.571" stop-color="#1cffdb"/><stop offset="0.593" stop-color="#13fce4"/><stop offset="0.615" stop-color="#06ecf1"/><stop offset="0.636" stop-color="#00e0fb"/><stop offset="0.658" stop-color="#00d0ff"/><stop offset="0.680" stop-color="#00c4ff"/><stop offset="0.702" stop-color="#00b4ff"/><stop offset="0.724" stop-color="#00a8ff"/><stop offset="0.745" stop-color="#0098ff"/><stop offset="0.767" stop-color="#008cff"/><stop offset="0.789" stop-color="#0080ff"/><stop offset="0.811" stop-color="#006cff"/><stop offset="0.833" stop-color="#0054ff"/><stop offset="0.855" stop-color="#003cff"/><stop offset="0.876" stop-color="#0024ff"/><stop offset="0.898" stop-color="#000cff"/><stop offset="0.920" stop-color="#0000ff"/><stop offset="0.942" stop-color="#0000bb"/><stop offset="0.964" stop-color="#000080"/><stop offset="0.985" stop-color="#000080"/><stop offset="1.000" stop-color="#000080"/></linearGradient><linearGradient id="h17" x1="0" y1="1" x2="0" y2="0"><stop offset="0.000" stop-color="#e4ff13"/><stop offset="0.036" stop-color="#dbff1c"/><stop offset="0.073" stop-color="#d1ff26"/><stop offset="0.109" stop-color="#caff2c"/><stop offset="0.145" stop-color="#c1ff36"/><stop offset="0.182" stop-color="#b7ff40"/><stop offset="0.218" stop-color="#b1ff46"/><stop offset="0.255" stop-color="#a4ff53"/><stop offset="0.291" stop-color="#9aff5d"/><stop offset="0.327" stop-color="#8dff6a"/><stop offset="0.364" stop-color="#80ff77"/><stop offset="0.400" stop-color="#70ff87"/><stop offset="0.418" stop-color="#66ff90"/><stop offset="0.440" stop-color="#5dff9a"/><stop offset="0.462" stop-color="#53ffa4"/><stop offset="0.484" stop-color="#49ffad"/><stop offset="0.505" stop-color="#40ffb7"/><stop offset="0.527" stop-color="#33ffc4"/><stop offset="0.549" stop-color="#29ffce"/><stop offset="0.571" stop-color="#1cffdb"/><stop offset="0.593" stop-color="#13fce4"/><stop offset="0.615" stop-color="#06ecf1"/><stop offset="0.636" stop-color="#00dcfe"/><stop offset="0.658" stop-color="#00d0ff"/><stop offset="0.680" stop-color="#00c0ff"/><stop offset="0.702" stop-color="#00b4ff"/><stop offset="0.724" stop-color="#00a4ff"/><stop offset="0.745" stop-color="#0098ff"/><stop offset="0.767" stop-color="#008cff"/><stop offset="0.789" stop-color="#007cff"/><stop offset="0.811" stop-color="#0068ff"/><stop offset="0.833" stop-color="#0050ff"/><stop offset="0.855" stop-color="#0038ff"/><stop offset="0.876" stop-color="#0020ff"/><stop offset="0.898" stop-color="#0008ff"/><stop offset="0.920" stop-color="#0000fa"/><stop offset="0.942" stop-color="#0000b2"/><stop offset="0.964" stop-color="#000080"/><stop offset="0.985" stop-color="#000080"/><stop offset="1.000" stop-color="#000080"/></linearGradient><linearGradient id="h18" x1="0" y1="1" x2="0" y2="0"><stop offset="0.000" stop-color="#e4ff13"/><stop offset="0.036" stop-color="#dbff1c"/><stop offset="0.073" stop-color="#d1ff26"/><stop offset="0.109" stop-color="#caff2c"/><stop offset="0.145" stop-color="#c1ff36"/><stop offset="0.182" stop-color="#b7ff40"/><stop offset="0.218" stop-color="#b1ff46"/><stop offset="0.255" stop-color="#a4ff53"/><stop offset="0.291" stop-color="#9aff5d"/><stop offset="0.327" stop-color="#8dff6a"/><stop offset="0.364" stop-color="#80ff77"/><stop offset="0.400" stop-color="#70ff87"/><stop offset="0.418" stop-color="#66ff90"/><stop offset="0.440" stop-color="#5dff9a"/><stop offset="0.462" stop-color="#53ffa4"/><stop offset="0.484" stop-color="#49ffad"/><stop offset="0.505" stop-color="#3cffba"/><stop offset="0.527" stop-color="#33ffc4"/><stop offset="0.549" stop-color="#29ffce"/><stop offset="0.571" stop-color="#1cffdb"/><stop offset="0.593" stop-color="#0ff8e7"/><stop offset="0.615" stop-color="#06ecf1"/><stop offset="0.636" stop-color="#00dcfe"/><stop offset="0.658" stop-color="#00d0ff"/><stop offset="0.680" stop-color="#00c0ff"/><stop offset="0.702" stop-color="#00b4ff"/><stop offset="0.724" stop-color="#00a4ff"/><stop offset="0.745" stop-color="#0098ff"/><stop offset="0.767" stop-color="#0088ff"/><stop offset="0.789" stop-color="#0078ff"/><stop offset="0.811" stop-color="#0064ff"/><stop offset="0.833" stop-color="#004cff"/><stop offset="0.855" stop-color="#0034ff"/><stop offset="0.876" stop-color="#001cff"/><stop offset="0.898" stop-color="#0004ff"/><stop offset="0.920" stop-color="#0000f1"/><stop offset="0.942" stop-color="#0000a8"/><stop offset="0.964" stop-color="#000080"/><stop offset="0.985" stop-color="#000080"/><stop offset="1.000" stop-color="#000080"/></linearGradient><linearGradient id="h19" x1="0" y1="1" x2="0" y2="0"><stop offset="0.000" stop-color="#e4ff13"/><stop offset="0.036" stop-color="#dbff1c"/><stop offset="0.073" stop-color="#d1ff26"/><stop offset="0.109" stop-color="#caff2c"/><stop offset="0.145" stop-color="#c1ff36"/><stop offset="0.182" stop-color="#b7ff40"/><stop offset="0.218" stop-color="#b1ff46"/><stop offset="0.255" stop-color="#a4ff53"/><stop offset="0.291" stop-color="#9aff5d"/><stop offset="0.327" stop-color="#8dff6a"/><stop offset="0.364" stop-color="#80ff77"/><stop offset="0.400" stop-color="#70ff87"/><stop offset="0.418" stop-color="#66ff90"/><stop offset="0.440" stop-color="#5dff9a"/><stop offset="0.462" stop-color="#53ffa4"/><stop offset="0.484" stop-color="#49ffad"/><stop offset="0.505" stop-color="#3cffba"/><stop offset="0.527" stop-color="#33ffc4"/><stop offset="0.549" stop-color="#26ffd1"/><stop offset="0.571" stop-color="#1cffdb"/><stop offset="0.593" stop-color="#0ff8e7"/><stop offset="0.615" stop-color="#06ecf1"/><stop offset="0.636" stop-color="#00dcfe"/><stop offset="0.658" stop-color="#00ccff"/><stop offset="0.680" stop-color="#00c0ff"/><stop offset="0.702" stop-color="#00b0ff"/><stop offset="0.724" stop-color="#00a4ff"/><stop offset="0.745" stop-color="#0094ff"/><stop offset="0.767" stop-color="#0084ff"/><stop offset="0.789" stop-color="#0078ff"/><stop offset="0.811" stop-color="#0060ff"/><stop offset="0.833" stop-color="#0048ff"/><stop offset="0.855" stop-color="#0030ff"/><stop offset="0.876" stop-color="#0018ff"/><stop offset="0.898" stop-color="#0000ff"/><stop offset="0.920" stop-color="#0000e3"/><stop offset="0.942" stop-color="#00009f"/><stop offset="0.964" stop-color="#000080"/><stop offset="0.985" stop-color="#000080"/><stop offset="1.000" stop-color="#000080"/></linearGradient><linearGradient id="h20" x1="0" y1="1" x2="0" y2="0"><stop offset="0.000" stop-color="#e4ff13"/><stop offset="0.036" stop-color="#dbff1c"/><stop offset="0.073" stop-color="#d1ff26"/><stop offset="0.109" stop-color="#caff2c"/><stop offset="0.145" stop-color="#c1ff36"/><stop offset="0.182" stop-color="#b7ff40"/><stop offset="0.218" stop-color="#b1ff46"/><stop offset="0.255" stop-color="#a4ff53"/><stop offset="0.291" stop-color="#97ff60"/><stop offset="0.327" stop-color="#8dff6a"/><stop offset="0.364" stop-color="#80ff77"/><stop offset="0.400" stop-color="#70ff87"/><stop offset="0.418" stop-color="#66ff90"/><stop offset="0.440" stop-color="#5dff9a"/><stop offset="0.462" stop-color="#53ffa4"/><stop offset="0.484" stop-color="#46ffb1"/><stop offset="0.505" stop-color="#3cffba"/><stop offset="0.527" stop-color="#33ffc4"/><stop offset="0.549" stop-color="#26ffd1"/><stop offset="0.571" stop-color="#1cffdb"/><stop offset="0.593" stop-color="#0ff8e7"/><stop offset="0.615" stop-color="#02e8f4"/><stop offset="0.636" stop-color="#00dcfe"/><stop offset="0.658" stop-color="#00ccff"/><stop offset="0.680" stop-color="#00c0ff"/><stop offset="0.702" stop-color="#00b0ff"/><stop offset="0.724" stop-color="#00a0ff"/><stop offset="0.745" stop-color="#0094ff"/><stop offset="0.767" stop-color="#0084ff"/><stop offset="0.789" stop-color="#0074ff"/><stop offset="0.811" stop-color="#005cff"/><stop offset="0.833" stop-color="#0044ff"/><stop offset="0.855" stop-color="#002cff"/><stop offset="0.876" stop-color="#0014ff"/><stop offset="0.898" stop-color="#0000ff"/><stop offset="0.920" stop-color="#0000da"/><stop offset="0.942" stop-color="#00009b"/><stop offset="0.964" stop-color="#000080"/><stop offset="0.985" stop-color="#000080"/><stop offset="1.000" stop-color="#000080"/></linearGradient><linearGradient id="h21" x1="0" y1="1" x2="0" y2="0"><stop offset="0.000" stop-color="#e4ff13"/><stop offset="0.036" stop-color="#dbff1c"/><stop offset="0.073" stop-color="#d1ff26"/><stop offset="0.109" stop-color="#caff2c"/><stop offset="0.145" stop-color="#c1ff36"/><stop offset="0.182" stop-color="#b7ff40"/><stop offset="0.218" stop-color="#b1ff46"/><stop offset="0.255" stop-color="#a4ff53"/><stop offset="0.291" stop-color="#97ff60"/><stop offset="0.327" stop-color="#8dff6a"/><stop offset="0.364" stop-color="#80ff77"/><stop offset="0.400" stop-color="#70ff87"/><stop offset="0.418" stop-color="#66ff90"/><stop offset="0.440" stop-color="#5dff9a"/><stop offset="0.462" stop-color="#50ffa7"/><stop offset="0.484" stop-color="#46ffb1"/><stop offset="0.505" stop-color="#3cffba"/><stop offset="0.527" stop-color="#30ffc7"/><stop offset="0.549" stop-color="#26ffd1"/><stop offset="0.571" stop-color="#19ffde"/><stop offset="0.593" stop-color="#0ff8e7"/><stop offset="0.615" stop-color="#02e8f4"/><stop offset="0.636" stop-color="#00dcfe"/><stop offset="0.658" stop-color="#00ccff"/><stop offset="0.680" stop-color="#00bcff"/><stop offset="0.702" stop-color="#00b0ff"/><stop offset="0.724" stop-color="#00a0ff"/><stop offset="0.745" stop-color="#0090ff"/><stop offset="0.767" stop-color="#0080ff"/><stop offset="0.789" stop-color="#0074ff"/><stop offset="0.811" stop-color="#0058ff"/><stop offset="0.833" stop-color="#0040ff"/><stop offset="0.855" stop-color="#0028ff"/><stop offset="0.876" stop-color="#0010ff"/><stop offset="0.898" stop-color="#0000ff"/><stop offset="0.920" stop-color="#0000d1"/><stop offset="0.942" stop-color="#000092"/><stop offset="0.964" stop-color="#000080"/><stop offset="0.985" stop-color="#000080"/><stop offset="1.000" stop-color="#000080"/></linearGradient><linearGradient id="h22" x1="0" y1="1" x2="0" y2="0"><stop offset="0.000" stop-color="#e4ff13"/><stop offset="0.036" stop-color="#dbff1c"/><stop offset="0.073" stop-color="#d1ff26"/><stop offset="0.109" stop-color="#caff2c"/><stop offset="0.145" stop-color="#c1ff36"/><stop offset="0.182" stop-color="#b7ff40"/><stop offset="0.218" stop-color="#b1ff46"/><stop offset="0.255" stop-color="#a4ff53"/><stop offset="0.291" stop-color="#97ff60"/><stop offset="0.327" stop-color="#8dff6a"/><stop offset="0.364" stop-color="#80ff77"/><stop offset="0.400" stop-color="#70ff87"/><stop offset="0.418" stop-color="#66ff90"/><stop offset="0.440" stop-color="#5dff9a"/><stop offset="0.462" stop-color="#50ffa7"/><stop offset="0.484" stop-color="#46ffb1"/><stop offset="0.505" stop-color="#3cffba"/><stop offset="0.527" stop-color="#30ffc7"/><stop offset="0.549" stop-color="#26ffd1"/><stop offset="0.571" stop-color="#19ffde"/><stop offset="0.593" stop-color="#0ff8e7"/><stop offset="0.615" stop-color="#02e8f4"/><stop offset="0.636" stop-color="#00d8ff"/><stop offset="0.658" stop-color="#00ccff"/><stop offset="0.680" stop-color="#00bcff"/><stop offset="0.702" stop-color="#00acff"/><stop offset="0.724" stop-color="#009cff"/><stop offset="0.745" stop-color="#0090ff"/><stop offset="0.767" stop-color="#0080ff"/><stop offset="0.789" stop-color="#0070ff"/><stop offset="0.811" stop-color="#0054ff"/><stop offset="0.833" stop-color="#003cff"/><stop offset="0.855" stop-color="#0024ff"/><stop offset="0.876" stop-color="#000cff"/><stop offset="0.898" stop-color="#0000ff"/><stop offset="0.920" stop-color="#0000c8"/><stop offset="0.942" stop-color="#00008d"/><stop offset="0.964" stop-color="#000080"/><stop offset="0.985" stop-color="#000080"/><stop offset="1.000" stop-color="#000080"/></linearGradient><linearGradient id="h23" x1="0" y1="1" x2="0" y2="0"><stop offset="0.000" stop-color="#e4ff13"/><stop offset="0.036" stop-color="#dbff1c"/><stop offset="0.073" stop-color="#d1ff26"/><stop offset="0.109" stop-color="#caff2c"/><stop offset="0.145" stop-color="#c1ff36"/><stop offset="0.182" stop-color="#b7ff40"/><stop offset="0.218" stop-color="#b1ff46"/><stop offset="0.255" stop-color="#a4ff53"/><stop offset="0.291" stop-color="#97ff60"/><stop offset="0.327" stop-color="#8aff6d"/><stop offset="0.364" stop-color="#80ff77"/><stop offset="0.400" stop-color="#70ff87"/><stop offset="0.418" stop-color="#66ff90"/><stop offset="0.440" stop-color="#5aff9d"/><stop offset="0.462" stop-color="#50ffa7"/><stop offset="0.484" stop-color="#46ffb1"/><stop offset="0.505" stop-color="#39ffbe"/><stop offset="0.527" stop-color="#30ffc7"/><stop offset="0.549" stop-color="#23ffd4"/><stop offset="0.571" stop-color="#19ffde"/><stop offset="0.593" stop-color="#0cf4eb"/><stop offset="0.615" stop-color="#02e8f4"/><stop offset="0.636" stop-color="#00d8ff"/><stop offset="0.658" stop-color="#00c8ff"/><stop offset="0.680" stop-color="#00bcff"/><stop offset="0.702" stop-color="#00acff"/><stop offset="0.724" stop-color="#009cff"/><stop offset="0.745" stop-color="#008cff"/><stop offset="0.767" stop-color="#007cff"/><stop offset="0.789" stop-color="#006cff"/><stop offset="0.811" stop-color="#0050ff"/><stop offset="0.833" stop-color="#0038ff"/><stop offset="0.855" stop-color="#0020ff"/><stop offset="0.876" stop-color="#0008ff"/><stop offset="0.898" stop-color="#0000ff"/><stop offset="0.920" stop-color="#0000c4"/><stop offset="0.942" stop-color="#000084"/><stop offset="0.964" stop-color="#000080"/><stop offset="0.985" stop-color="#000080"/><stop offset="1.000" stop-color="#000080"/></linearGradient><linearGradient id="h24" x1="0" y1="1" x2="0" y2="0"><stop offset="0.000" stop-color="#e4ff13"/><stop offset="0.036" stop-color="#dbff1c"/><stop offset="0.073" stop-color="#d1ff26"/><stop offset="0.109" stop-color="#caff2c"/><stop offset="0.145" stop-color="#c1ff36"/><stop offset="0.182" stop-color="#b7ff40"/><stop offset="0.218" stop-color="#b1ff46"/><stop offset="0.255" stop-color="#a4ff53"/><stop offset="0.291" stop-color="#97ff60"/><stop offset="0.327" stop-color="#8aff6d"/><stop offset="0.364" stop-color="#80ff77"/><stop offset="0.400" stop-color="#6dff8a"/><stop offset="0.418" stop-color="#66ff90"/><stop offset="0.440" stop-color="#5aff9d"/><stop offset="0.462" stop-color="#50ffa7"/><stop offset="0.484" stop-color="#46ffb1"/><stop offset="0.505" stop-color="#39ffbe"/><stop offset="0.527" stop-color="#30ffc7"/><stop offset="0.549" stop-color="#23ffd4"/><stop offset="0.571" stop-color="#19ffde"/><stop offset="0.593" stop-color="#0cf4eb"/><stop offset="0.615" stop-color="#02e8f4"/><stop offset="0.636" stop-color="#00d8ff"/><stop offset="0.658" stop-color="#00c8ff"/><stop offset="0.680" stop-color="#00b8ff"/><stop offset="0.702" stop-color="#00a8ff"/><stop offset="0.724" stop-color="#0098ff"/><stop offset="0.745" stop-color="#008cff"/><stop offset="0.767" stop-color="#007cff"/><stop offset="0.789" stop-color="#0068ff"/><stop offset="0.811" stop-color="#004cff"/><stop offset="0.833" stop-color="#0034ff"/><stop offset="0.855" stop-color="#001cff"/><stop offset="0.876" stop-color="#0004ff"/><stop offset="0.898" stop-color="#0000f6"/><stop offset="0.920" stop-color="#0000bb"/><stop offset="0.942" stop-color="#000080"/><stop offset="0.964" stop-color="#000080"/><stop offset="0.985" stop-color="#000080"/><stop offset="1.000" stop-color="#000080"/></linearGradient><linearGradient id="h25" x1="0" y1="1" x2="0" y2="0"><stop offset="0.000" stop-color="#e4ff13"/><stop offset="0.036" stop-color="#dbff1c"/><stop offset="0.073" stop-color="#d1ff26"/><stop offset="0.109" stop-color="#caff2c"/><stop offset="0.145" stop-color="#c1ff36"/><stop offset="0.182" stop-color="#b7ff40"/><stop offset="0.218" stop-color="#b1ff46"/><stop offset="0.255" stop-color="#a4ff53"/><stop offset="0.291" stop-color="#97ff60"/><stop offset="0.327" stop-color="#8aff6d"/><stop offset="0.364" stop-color="#80ff77"/><stop offset="0.400" stop-color="#6dff8a"/><stop offset="0.418" stop-color="#66ff90"/><stop offset="0.440" stop-color="#5aff9d"/><stop offset="0.462" stop-color="#50ffa7"/><stop offset="0.484" stop-color="#43ffb4"/><stop offset="0.505" stop-color="#39ffbe"/><stop offset="0.527" stop-color="#30ffc7"/><stop offset="0.549" stop-color="#23ffd4"/><stop offset="0.571" stop-color="#19ffde"/><stop offset="0.593" stop-color="#0cf4eb"/><stop offset="0.615" stop-color="#02e8f4"/><stop offset="0.636" stop-color="#00d8ff"/><stop offset="0.658" stop-color="#00c8ff"/><stop offset="0.680" stop-color="#00b8ff"/><stop offset="0.702" stop-color="#00a8ff"/><stop offset="0.724" stop-color="#0098ff"/><stop offset="0.745" stop-color="#0088ff"/><stop offset="0.767" stop-color="#0078ff"/><stop offset="0.789" stop-color="#0064ff"/><stop offset="0.811" stop-color="#0048ff"/><stop offset="0.833" stop-color="#0030ff"/><stop offset="0.855" stop-color="#0018ff"/><stop offset="0.876" stop-color="#0000ff"/><stop offset="0.898" stop-color="#0000ed"/><stop offset="0.920" stop-color="#0000b2"/><stop offset="0.942" stop-color="#000080"/><stop offset="0.964" stop-color="#000080"/><stop offset="0.985" stop-color="#000080"/><stop offset="1.000" stop-color="#000080"/></linearGradient><linearGradient id="h26" x1="0" y1="1" x2="0" y2="0"><stop offset="0.000" stop-color="#e4ff13"/><stop offset="0.036" stop-color="#dbff1c"/><stop offset="0.073" stop-color="#d1ff26"/><stop offset="0.109" stop-color="#caff2c"/><stop offset="0.145" stop-color="#c1ff36"/><stop offset="0.182" stop-color="#b7ff40"/><stop offset="0.218" stop-color="#b1ff46"/><stop offset="0.255" stop-color="#a4ff53"/><stop offset="0.291" stop-color="#97ff60"/><stop offset="0.327" stop-color="#8aff6d"/><stop offset="0.364" stop-color="#7dff7a"/><stop offset="0.400" stop-color="#6dff8a"/><stop offset="0.418" stop-color="#63ff94"/><stop offset="0.440" stop-color="#5aff9d"/><stop offset="0.462" stop-color="#50ffa7"/><stop offset="0.484" stop-color="#43ffb4"/><stop offset="0.505" stop-color="#39ffbe"/><stop offset="0.527" stop-color="#2cffca"/><stop offset="0.549" stop-color="#23ffd4"/><stop offset="0.571" stop-color="#16ffe1"/><stop offset="0.593" stop-color="#0cf4eb"/><stop offset="0.615" stop-color="#00e4f8"/><stop offset="0.636" stop-color="#00d4ff"/><stop offset="0.658" stop-color="#00c4ff"/><stop offset="0.680" stop-color="#00b4ff"/><stop offset="0.702" stop-color="#00a4ff"/><stop offset="0.724" stop-color="#0094ff"/><stop offset="0.745" stop-color="#0084ff"/><stop offset="0.767" stop-color="#0074ff"/><stop offset="0.789" stop-color="#0060ff"/><stop offset="0.811" stop-color="#0044ff"/><stop offset="0.833" stop-color="#002cff"/><stop offset="0.855" stop-color="#0014ff"/><stop offset="0.876" stop-color="#0000ff"/><stop offset="0.898" stop-color="#0000e3"/><stop offset="0.920" stop-color="#0000ad"/><stop offset="0.942" stop-color="#000080"/><stop offset="0.964" stop-color="#000080"/><stop offset="0.985" stop-color="#000080"/><stop offset="1.000" stop-color="#000080"/></linearGradient><linearGradient id="h27" x1="0" y1="1" x2="0" y2="0"><stop offset="0.000" stop-color="#e4ff13"/><stop offset="0.036" stop-color="#dbff1c"/><stop offset="0.073" stop-color="#d1ff26"/><stop offset="0.109" stop-color="#caff2c"/><stop offset="0.145" stop-color="#c1ff36"/><stop offset="0.182" stop-color="#b7ff40"/><stop offset="0.218" stop-color="#b1ff46"/><stop offset="0.255" stop-color="#a4ff53"/><stop offset="0.291" stop-color="#97ff60"/><stop offset="0.327" stop-color="#8aff6d"/><stop offset="0.364" stop-color="#7dff7a"/><stop offset="0.400" stop-color="#6dff8a"/><stop offset="0.418" stop-color="#63ff94"/><stop offset="0.440" stop-color="#5aff9d"/><stop offset="0.462" stop-color="#50ffa7"/><stop offset="0.484" stop-color="#43ffb4"/><stop offset="0.505" stop-color="#39ffbe"/><stop offset="0.527" stop-color="#2cffca"/><stop offset="0.549" stop-color="#23ffd4"/><stop offset="0.571" stop-color="#16ffe1"/><stop offset="0.593" stop-color="#0cf4eb"/><stop offset="0.615" stop-color="#00e4f8"/><stop offset="0.636" stop-color="#00d4ff"/><stop offset="0.658" stop-color="#00c4ff"/><stop offset="0.680" stop-color="#00b4ff"/><stop offset="0.702" stop-color="#00a4ff"/><stop offset="0.724" stop-color="#0094ff"/><stop offset="0.745" stop-color="#0084ff"/><stop offset="0.767" stop-color="#0074ff"/><stop offset="0.789" stop-color="#005cff"/><stop offset="0.811" stop-color="#0040ff"/><stop offset="0.833" stop-color="#0028ff"/><stop offset="0.855" stop-color="#0010ff"/><stop offset="0.876" stop-color="#0000ff"/><stop offset="0.898" stop-color="#0000da"/><stop offset="0.920" stop-color="#0000a4"/><stop offset="0.942" stop-color="#000080"/><stop offset="0.964" stop-color="#000080"/><stop offset="0.985" stop-color="#000080"/><stop offset="1.000" stop-color="#000080"/></linearGradient><linearGradient id="h28" x1="0" y1="1" x2="0" y2="0"><stop offset="0.000" stop-color="#e4ff13"/><stop offset="0.036" stop-color="#dbff1c"/><stop offset="0.073" stop-color="#d1ff26"/><stop offset="0.109" stop-color="#caff2c"/><stop offset="0.145" stop-color="#c1ff36"/><stop offset="0.182" stop-color="#b7ff40"/><stop offset="0.218" stop-color="#adff49"/><stop offset="0.255" stop-color="#a4ff53"/><stop offset="0.291" stop-color="#97ff60"/><stop offset="0.327" stop-color="#8aff6d"/><stop offset="0.364" stop-color="#7dff7a"/><stop offset="0.400" stop-color="#6dff8a"/><stop offset="0.418" stop-color="#63ff94"/><stop offset="0.440" stop-color="#5aff9d"/><stop offset="0.462" stop-color="#4dffaa"/><stop offset="0.484" stop-color="#43ffb4"/><stop offset="0.505" stop-color="#36ffc1"/><stop offset="0.527" stop-color="#2cffca"/><stop offset="0.549" stop-color="#1fffd7"/><stop offset="0.571" stop-color="#16ffe1"/><stop offset="0.593" stop-color="#09f0ee"/><stop offset="0.615" stop-color="#00e4f8"/><stop offset="0.636" stop-color="#00d4ff"/><stop offset="0.658" stop-color="#00c4ff"/><stop offset="0.680" stop-color="#00b4ff"/><stop offset="0.702" stop-color="#00a0ff"/><stop offset="0.724" stop-color="#0090ff"/><stop offset="0.745" stop-color="#0080ff"/><stop offset="0.767" stop-color="#0070ff"/><stop offset="0.789" stop-color="#0058ff"/><stop offset="0.811" stop-color="#003cff"/><stop offset="0.833" stop-color="#0024ff"/><stop offset="0.855" stop-color="#000cff"/><stop offset="0.876" stop-color="#0000ff"/><stop offset="0.898" stop-color="#0000d6"/><stop offset="0.920" stop-color="#00009f"/><stop offset="0.942" stop-color="#000080"/><stop offset="0.964" stop-color="#000080"/><stop offset="0.985" stop-color="#000080"/><stop offset="1.000" stop-color="#000080"/></linearGradient><linearGradient id="h29" x1="0" y1="1" x2="0" y2="0"><stop offset="0.000" stop-color="#e4ff13"/><stop offset="0.036" stop-color="#dbff1c"/><stop offset="0.073" stop-color="#d1ff26"/><stop offset="0.109" stop-color="#caff2c"/><stop offset="0.145" stop-color="#c1ff36"/><stop offset="0.182" stop-color="#b7ff40"/><stop offset="0.218" stop-color="#adff49"/><stop offset="0.255" stop-color="#a4ff53"/><stop offset="0.291" stop-color="#97ff60"/><stop offset="0.327" stop-color="#8aff6d"/><stop offset="0.364" stop-color="#7dff7a"/><stop offset="0.400" stop-color="#6dff8a"/><stop offset="0.418" stop-color="#63ff94"/><stop offset="0.440" stop-color="#5aff9d"/><stop offset="0.462" stop-color="#4dffaa"/><stop offset="0.484" stop-color="#43ffb4"/><stop offset="0.505" stop-color="#36ffc1"/><stop offset="0.527" stop-color="#2cffca"/><stop offset="0.549" stop-color="#1fffd7"/><stop offset="0.571" stop-color="#16ffe1"/><stop offset="0.593" stop-color="#09f0ee"/><stop offset="0.615" stop-color="#00e4f8"/><stop offset="0.636" stop-color="#00d4ff"/><stop offset="0.658" stop-color="#00c0ff"/><stop offset="0.680" stop-color="#00b0ff"/><stop offset="0.702" stop-color="#00a0ff"/><stop offset="0.724" stop-color="#0090ff"/><stop offset="0.745" stop-color="#0080ff"/><stop offset="0.767" stop-color="#006cff"/><stop offset="0.789" stop-color="#0054ff"/><stop offset="0.811" stop-color="#0038ff"/><stop offset="0.833" stop-color="#0020ff"/><stop offset="0.855" stop-color="#0008ff"/><stop offset="0.876" stop-color="#0000ff"/><stop offset="0.898" stop-color="#0000cd"/><stop offset="0.920" stop-color="#000096"/><stop offset="0.942" stop-color="#000080"/><stop offset="0.964" stop-color="#000080"/><stop offset="0.985" stop-color="#000080"/><stop offset="1.000" stop-color="#000080"/></linearGradient><linearGradient id="h30" x1="0" y1="1" x2="0" y2="0"><stop offset="0.000" stop-color="#e4ff13"/><stop offset="0.036" stop-color="#dbff1c"/><stop offset="0.073" stop-color="#d1ff26"/><stop offset="0.109" stop-color="#caff2c"/><stop offset="0.145" stop-color="#c1ff36"/><stop offset="0.182" stop-color="#b7ff40"/><stop offset="0.218" stop-color="#adff49"/><stop offset="0.255" stop-color="#a4ff53"/><stop offset="0.291" stop-color="#97ff60"/><stop offset="0.327" stop-color="#8aff6d"/><stop offset="0.364" stop-color="#7dff7a"/><stop offset="0.400" stop-color="#6dff8a"/><stop offset="0.418" stop-color="#63ff94"/><stop offset="0.440" stop-color="#56ffa0"/><stop offset="0.462" stop-color="#4dffaa"/><stop offset="0.484" stop-color="#43ffb4"/><stop offset="0.505" stop-color="#36ffc1"/><stop offset="0.527" stop-color="#2cffca"/><stop offset="0.549" stop-color="#1fffd7"/><stop offset="0.571" stop-color="#16ffe1"/><stop offset="0.593" stop-color="#09f0ee"/><stop offset="0.615" stop-color="#00e4f8"/><stop offset="0.636" stop-color="#00d0ff"/><stop offset="0.658" stop-color="#00c0ff"/><stop offset="0.680" stop-color="#00b0ff"/><stop offset="0.702" stop-color="#009cff"/><stop offset="0.724" stop-color="#008cff"/><stop offset="0.745" stop-color="#007cff"/><stop offset="0.767" stop-color="#0068ff"/><stop offset="0.789" stop-color="#0050ff"/><stop offset="0.811" stop-color="#0038ff"/><stop offset="0.833" stop-color="#001cff"/><stop offset="0.855" stop-color="#0004ff"/><stop offset="0.876" stop-color="#0000fa"/><stop offset="0.898" stop-color="#0000c8"/><stop offset="0.920" stop-color="#000092"/><stop offset="0.942" stop-color="#000080"/><stop offset="0.964" stop-color="#000080"/><stop offset="0.985" stop-color="#000080"/><stop offset="1.000" stop-color="#000080"/></linearGradient><linearGradient id="h31" x1="0" y1="1" x2="0" y2="0"><stop offset="0.000" stop-color="#e4ff13"/><stop offset="0.036" stop-color="#dbff1c"/><stop offset="0.073" stop-color="#d1ff26"/><stop offset="0.109" stop-color="#caff2c"/><stop offset="0.145" stop-color="#c1ff36"/><stop offset="0.182" stop-color="#b7ff40"/><stop offset="0.218" stop-color="#adff49"/><stop offset="0.255" stop-color="#a4ff53"/><stop offset="0.291" stop-color="#97ff60"/><stop offset="0.327" stop-color="#8aff6d"/><stop offset="0.364" stop-color="#7dff7a"/><stop offset="0.400" stop-color="#6dff8a"/><stop offset="0.418" stop-color="#63ff94"/><stop offset="0.440" stop-color="#56ffa0"/><stop offset="0.462" stop-color="#4dffaa"/><stop offset="0.484" stop-color="#40ffb7"/><stop offset="0.505" stop-color="#36ffc1"/><stop offset="0.527" stop-color="#29ffce"/><stop offset="0.549" stop-color="#1fffd7"/><stop offset="0.571" stop-color="#13fce4"/><stop offset="0.593" stop-color="#09f0ee"/><stop offset="0.615" stop-color="#00e0fb"/><stop offset="0.636" stop-color="#00d0ff"/><stop offset="0.658" stop-color="#00c0ff"/><stop offset="0.680" stop-color="#00acff"/><stop offset="0.702" stop-color="#009cff"/><stop offset="0.724" stop-color="#008cff"/><stop offset="0.745" stop-color="#0078ff"/><stop offset="0.767" stop-color="#0064ff"/><stop offset="0.789" stop-color="#004cff"/><stop offset="0.811" stop-color="#0034ff"/><stop offset="0.833" stop-color="#001cff"/><stop offset="0.855" stop-color="#0004ff"/><stop offset="0.876" stop-color="#0000f6"/><stop offset="0.898" stop-color="#0000bf"/><stop offset="0.920" stop-color="#00008d"/><stop offset="0.942" stop-color="#000080"/><stop offset="0.964" stop-color="#000080"/><stop offset="0.985" stop-color="#000080"/><stop offset="1.000" stop-color="#000080"/></linearGradient><linearGradient id="h32" x1="0" y1="1" x2="0" y2="0"><stop offset="0.000" stop-color="#e4ff13"/><stop offset="0.036" stop-color="#dbff1c"/><stop offset="0.073" stop-color="#d1ff26"/><stop offset="0.109" stop-color="#caff2c"/><stop offset="0.145" stop-color="#c1ff36"/><stop offset="0.182" stop-color="#b7ff40"/><stop offset="0.218" stop-color="#adff49"/><stop offset="0.255" stop-color="#a4ff53"/><stop offset="0.291" stop-color="#97ff60"/><stop offset="0.327" stop-color="#8aff6d"/><stop offset="0.364" stop-color="#7dff7a"/><stop offset="0.400" stop-color="#6dff8a"/><stop offset="0.418" stop-color="#63ff94"/><stop offset="0.440" stop-color="#56ffa0"/><stop offset="0.462" stop-color="#4dffaa"/><stop offset="0.484" stop-color="#40ffb7"/><stop offset="0.505" stop-color="#36ffc1"/><stop offset="0.527" stop-color="#29ffce"/><stop offset="0.549" stop-color="#1fffd7"/><stop offset="0.571" stop-color="#13fce4"/><stop offset="0.593" stop-color="#09f0ee"/><stop offset="0.615" stop-color="#00e0fb"/><stop offset="0.636" stop-color="#00d0ff"/><stop offset="0.658" stop-color="#00bcff"/><stop offset="0.680" stop-color="#00acff"/><stop offset="0.702" stop-color="#009cff"/><stop offset="0.724" stop-color="#0088ff"/><stop offset="0.745" stop-color="#0078ff"/><stop offset="0.767" stop-color="#0060ff"/><stop offset="0.789" stop-color="#0048ff"/><stop offset="0.811" stop-color="#0030ff"/><stop offset="0.833" stop-color="#0018ff"/><stop offset="0.855" stop-color="#0000ff"/><stop offset="0.876" stop-color="#0000f1"/><stop offset="0.898" stop-color="#0000bf"/><stop offset="0.920" stop-color="#00008d"/><stop offset="0.942" stop-color="#000080"/><stop offset="0.964" stop-color="#000080"/><stop offset="0.985" stop-color="#000080"/><stop offset="1.000" stop-color="#000080"/></linearGradient><linearGradient id="h33" x1="0" y1="1" x2="0" y2="0"><stop offset="0.000" stop-color="#e4ff13"/><stop offset="0.036" stop-color="#dbff1c"/><stop offset="0.073" stop-color="#d1ff26"/><stop offset="0.109" stop-color="#caff2c"/><stop offset="0.145" stop-color="#c1ff36"/><stop offset="0.182" stop-color="#b7ff40"/><stop offset="0.218" stop-color="#adff49"/><stop offset="0.255" stop-color="#a4ff53"/><stop offset="0.291" stop-color="#97ff60"/><stop offset="0.327" stop-color="#8aff6d"/><stop offset="0.364" stop-color="#7dff7a"/><stop offset="0.400" stop-color="#6aff8d"/><stop offset="0.418" stop-color="#60ff97"/><stop offset="0.440" stop-color="#56ffa0"/><stop offset="0.462" stop-color="#49ffad"/><stop offset="0.484" stop-color="#40ffb7"/><stop offset="0.505" stop-color="#33ffc4"/><stop offset="0.527" stop-color="#29ffce"/><stop offset="0.549" stop-color="#1cffdb"/><stop offset="0.571" stop-color="#13fce4"/><stop offset="0.593" stop-color="#06ecf1"/><stop offset="0.615" stop-color="#00e0fb"/><stop offset="0.636" stop-color="#00ccff"/><stop offset="0.658" stop-color="#00bcff"/><stop offset="0.680" stop-color="#00a8ff"/><stop offset="0.702" stop-color="#0098ff"/><stop offset="0.724" stop-color="#0088ff"/><stop offset="0.745" stop-color="#0074ff"/><stop offset="0.767" stop-color="#0060ff"/><stop offset="0.789" stop-color="#0044ff"/><stop offset="0.811" stop-color="#002cff"/><stop offset="0.833" stop-color="#0014ff"/><stop offset="0.855" stop-color="#0000ff"/><stop offset="0.876" stop-color="#0000e8"/><stop offset="0.898" stop-color="#0000bb"/><stop offset="0.920" stop-color="#000089"/><stop offset="0.942" stop-color="#000080"/><stop offset="0.964" stop-color="#000080"/><stop offset="0.985" stop-color="#000080"/><stop offset="1.000" stop-color="#000080"/></linearGradient><linearGradient id="h34" x1="0" y1="1" x2="0" y2="0"><stop offset="0.000" stop-color="#e4ff13"/><stop offset="0.036" stop-color="#dbff1c"/><stop offset="0.073" stop-color="#d1ff26"/><stop offset="0.109" stop-color="#caff2c"/><stop offset="0.145" stop-color="#c1ff36"/><stop offset="0.182" stop-color="#b7ff40"/><stop offset="0.218" stop-color="#adff49"/><stop offset="0.255" stop-color="#a4ff53"/><stop offset="0.291" stop-color="#97ff60"/><stop offset="0.327" stop-color="#8aff6d"/><stop offset="0.364" stop-color="#7dff7a"/><stop offset="0.400" stop-color="#6aff8d"/><stop offset="0.418" stop-color="#60ff97"/><stop offset="0.440" stop-color="#56ffa0"/><stop offset="0.462" stop-color="#49ffad"/><stop offset="0.484" stop-color="#3cffba"/><stop offset="0.505" stop-color="#33ffc4"/><stop offset="0.527" stop-color="#26ffd1"/><stop offset="0.549" stop-color="#1cffdb"/><stop offset="0.571" stop-color="#0ff8e7"/><stop offset="0.593" stop-color="#06ecf1"/><stop offset="0.615" stop-color="#00dcfe"/><stop offset="0.636" stop-color="#00c8ff"/><stop offset="0.658" stop-color="#00b8ff"/><stop offset="0.680" stop-color="#00a8ff"/><stop offset="0.702" stop-color="#0094ff"/><stop offset="0.724" stop-color="#0084ff"/><stop offset="0.745" stop-color="#0070ff"/><stop offset="0.767" stop-color="#0058ff"/><stop offset="0.789" stop-color="#0040ff"/><stop offset="0.811" stop-color="#0028ff"/><stop offset="0.833" stop-color="#0010ff"/><stop offset="0.855" stop-color="#0000ff"/><stop offset="0.876" stop-color="#0000e3"/><stop offset="0.898" stop-color="#0000b2"/><stop offset="0.920" stop-color="#000084"/><stop offset="0.942" stop-color="#000080"/><stop offset="0.964" stop-color="#000080"/><stop offset="0.985" stop-color="#000080"/><stop offset="1.000" stop-color="#000080"/></linearGradient><linearGradient id="h35" x1="0" y1="1" x2="0" y2="0"><stop offset="0.000" stop-color="#e4ff13"/><stop offset="0.036" stop-color="#dbff1c"/><stop offset="0.073" stop-color="#d1ff26"/><stop offset="0.109" stop-color="#caff2c"/><stop offset="0.145" stop-color="#c1ff36"/><stop offset="0.182" stop-color="#b7ff40"/><stop offset="0.218" stop-color="#adff49"/><stop offset="0.255" stop-color="#a0ff56"/><stop offset="0.291" stop-color="#97ff60"/><stop offset="0.327" stop-color="#8aff6d"/><stop offset="0.364" stop-color="#7dff7a"/><stop offset="0.400" stop-color="#6aff8d"/><stop offset="0.418" stop-color="#60ff97"/><stop offset="0.440" stop-color="#53ffa4"/><stop offset="0.462" stop-color="#49ffad"/><stop offset="0.484" stop-color="#3cffba"/><stop offset="0.505" stop-color="#30ffc7"/><stop offset="0.527" stop-color="#26ffd1"/><stop offset="0.549" stop-color="#19ffde"/><stop offset="0.571" stop-color="#0ff8e7"/><stop offset="0.593" stop-color="#02e8f4"/><stop offset="0.615" stop-color="#00d8ff"/><stop offset="0.636" stop-color="#00c8ff"/><stop offset="0.658" stop-color="#00b4ff"/><stop offset="0.680" stop-color="#00a4ff"/><stop offset="0.702" stop-color="#0090ff"/><stop offset="0.724" stop-color="#0080ff"/><stop offset="0.745" stop-color="#006cff"/><stop offset="0.767" stop-color="#0054ff"/><stop offset="0.789" stop-color="#003cff"/><stop offset="0.811" stop-color="#0024ff"/><stop offset="0.833" stop-color="#000cff"/><stop offset="0.855" stop-color="#0000ff"/><stop offset="0.876" stop-color="#0000da"/><stop offset="0.898" stop-color="#0000ad"/><stop offset="0.920" stop-color="#000080"/><stop offset="0.942" stop-color="#000080"/><stop offset="0.964" stop-color="#000080"/><stop offset="0.985" stop-color="#000080"/><stop offset="1.000" stop-color="#000080"/></linearGradient><linearGradient id="h36" x1="0" y1="1" x2="0" y2="0"><stop offset="0.000" stop-color="#e4ff13"/><stop offset="0.036" stop-color="#dbff1c"/><stop offset="0.073" stop-color="#d1ff26"/><stop offset="0.109" stop-color="#caff2c"/><stop offset="0.145" stop-color="#c1ff36"/><stop offset="0.182" stop-color="#b7ff40"/><stop offset="0.218" stop-color="#adff49"/><stop offset="0.255" stop-color="#a0ff56"/><stop offset="0.291" stop-color="#94ff63"/><stop offset="0.327" stop-color="#87ff70"/><stop offset="0.364" stop-color="#7dff7a"/><stop offset="0.400" stop-color="#66ff90"/><stop offset="0.418" stop-color="#5dff9a"/><stop offset="0.440" stop-color="#53ffa4"/><stop offset="0.462" stop-color="#46ffb1"/><stop offset="0.484" stop-color="#39ffbe"/><stop offset="0.505" stop-color="#30ffc7"/><stop offset="0.527" stop-color="#23ffd4"/><stop offset="0.549" stop-color="#19ffde"/><stop offset="0.571" stop-color="#0cf4eb"/><stop offset="0.593" stop-color="#02e8f4"/><stop offset="0.615" stop-color="#00d4ff"/><stop offset="0.636" stop-color="#00c4ff"/><stop offset="0.658" stop-color="#00b0ff"/><stop offset="0.680" stop-color="#00a0ff"/><stop offset="0.702" stop-color="#0090ff"/><stop offset="0.724" stop-color="#007cff"/><stop offset="0.745" stop-color="#0068ff"/><stop offset="0.767" stop-color="#0050ff"/><stop offset="0.789" stop-color="#0038ff"/><stop offset="0.811" stop-color="#0020ff"/><stop offset="0.833" stop-color="#0008ff"/><stop offset="0.855" stop-color="#0000ff"/><stop offset="0.876" stop-color="#0000d1"/><stop offset="0.898" stop-color="#0000a4"/><stop offset="0.920" stop-color="#000080"/><stop offset="0.942" stop-color="#000080"/><stop offset="0.964" stop-color="#000080"/><stop offset="0.985" stop-color="#000080"/><stop offset="1.000" stop-color="#000080"/></linearGradient><linearGradient id="h37" x1="0" y1="1" x2="0" y2="0"><stop offset="0.000" stop-color="#e4ff13"/><stop offset="0.036" stop-color="#dbff1c"/><stop offset="0.073" stop-color="#d1ff26"/><stop offset="0.109" stop-color="#caff2c"/><stop offset="0.145" stop-color="#c1ff36"/><stop offset="0.182" stop-color="#b7ff40"/><stop offset="0.218" stop-color="#adff49"/><stop offset="0.255" stop-color="#a0ff56"/><stop offset="0.291" stop-color="#94ff63"/><stop offset="0.327" stop-color="#87ff70"/><stop offset="0.364" stop-color="#7aff7d"/><stop offset="0.400" stop-color="#66ff90"/><stop offset="0.418" stop-color="#5dff9a"/><stop offset="0.440" stop-color="#50ffa7"/><stop offset="0.462" stop-color="#46ffb1"/><stop offset="0.484" stop-color="#39ffbe"/><stop offset="0.505" stop-color="#2cffca"/><stop offset="0.527" stop-color="#23ffd4"/><stop offset="0.549" stop-color="#16ffe1"/><stop offset="0.571" stop-color="#0cf4eb"/><stop offset="0.593" stop-color="#00e4f8"/><stop offset="0.615" stop-color="#00d4ff"/><stop offset="0.636" stop-color="#00c0ff"/><stop offset="0.658" stop-color="#00b0ff"/><stop offset="0.680" stop-color="#009cff"/><stop offset="0.702" stop-color="#008cff"/><stop offset="0.724" stop-color="#0078ff"/><stop offset="0.745" stop-color="#0064ff"/><stop offset="0.767" stop-color="#004cff"/><stop offset="0.789" stop-color="#0034ff"/><stop offset="0.811" stop-color="#001cff"/><stop offset="0.833" stop-color="#0004ff"/><stop offset="0.855" stop-color="#0000f6"/><stop offset="0.876" stop-color="#0000cd"/><stop offset="0.898" stop-color="#00009f"/><stop offset="0.920" stop-color="#000080"/><stop offset="0.942" stop-color="#000080"/><stop offset="0.964" stop-color="#000080"/><stop offset="0.985" stop-color="#000080"/><stop offset="1.000" stop-color="#000080"/></linearGradient><linearGradient id="h38" x1="0" y1="1" x2="0" y2="0"><stop offset="0.000" stop-color="#e4ff13"/><stop offset="0.036" stop-color="#dbff1c"/><stop offset="0.073" stop-color="#d1ff26"/><stop offset="0.109" stop-color="#caff2c"/><stop offset="0.145" stop-color="#c1ff36"/><stop offset="0.182" stop-color="#b7ff40"/><stop offset="0.218" stop-color="#adff49"/><stop offset="0.255" stop-color="#a0ff56"/><stop offset="0.291" stop-color="#94ff63"/><stop offset="0.327" stop-color="#87ff70"/><stop offset="0.364" stop-color="#7aff7d"/><stop offset="0.400" stop-color="#66ff90"/><stop offset="0.418" stop-color="#5dff9a"/><stop offset="0.440" stop-color="#50ffa7"/><stop offset="0.462" stop-color="#43ffb4"/><stop offset="0.484" stop-color="#39ffbe"/><stop offset="0.505" stop-color="#2cffca"/><stop offset="0.527" stop-color="#1fffd7"/><stop offset="0.549" stop-color="#16ffe1"/><stop offset="0.571" stop-color="#09f0ee"/><stop offset="0.593" stop-color="#00e0fb"/><stop offset="0.615" stop-color="#00d0ff"/><stop offset="0.636" stop-color="#00bcff"/><stop offset="0.658" stop-color="#00acff"/><stop offset="0.680" stop-color="#0098ff"/><stop offset="0.702" stop-color="#0088ff"/><stop offset="0.724" stop-color="#0078ff"/><stop offset="0.745" stop-color="#0060ff"/><stop offset="0.767" stop-color="#0048ff"/><stop offset="0.789" stop-color="#0030ff"/><stop offset="0.811" stop-color="#0018ff"/><stop offset="0.833" stop-color="#0000ff"/><stop offset="0.855" stop-color="#0000ed"/><stop offset="0.876" stop-color="#0000c4"/><stop offset="0.898" stop-color="#00009b"/><stop offset="0.920" stop-color="#000080"/><stop offset="0.942" stop-color="#000080"/><stop offset="0.964" stop-color="#000080"/><stop offset="0.985" stop-color="#000080"/><stop offset="1.000" stop-color="#000080"/></linearGradient><linearGradient id="h39" x1="0" y1="1" x2="0" y2="0"><stop offset="0.000" stop-color="#e4ff13"/><stop offset="0.036" stop-color="#dbff1c"/><stop offset="0.073" stop-color="#d1ff26"/><stop offset="0.109" stop-color="#caff2c"/><stop offset="0.145" stop-color="#c1ff36"/><stop offset="0.182" stop-color="#b7ff40"/><stop offset="0.218" stop-color="#adff49"/><stop offset="0.255" stop-color="#a0ff56"/><stop offset="0.291" stop-color="#94ff63"/><stop offset="0.327" stop-color="#87ff70"/><stop offset="0.364" stop-color="#7aff7d"/><stop offset="0.400" stop-color="#63ff94"/><stop offset="0.418" stop-color="#5aff9d"/><stop offset="0.440" stop-color="#50ffa7"/><stop offset="0.462" stop-color="#43ffb4"/><stop offset="0.484" stop-color="#36ffc1"/><stop offset="0.505" stop-color="#29ffce"/><stop offset="0.527" stop-color="#1fffd7"/><stop offset="0.549" stop-color="#13fce4"/><stop offset="0.571" stop-color="#06ecf1"/><stop offset="0.593" stop-color="#00dcfe"/><stop offset="0.615" stop-color="#00ccff"/><stop offset="0.636" stop-color="#00bcff"/><stop offset="0.658" stop-color="#00a8ff"/><stop offset="0.680" stop-color="#0098ff"/><stop offset="0.702" stop-color="#0084ff"/><stop offset="0.724" stop-color="#0074ff"/><stop offset="0.745" stop-color="#005cff"/><stop offset="0.767" stop-color="#0044ff"/><stop offset="0.789" stop-color="#0028ff"/><stop offset="0.811" stop-color="#0010ff"/><stop offset="0.833" stop-color="#0000ff"/><stop offset="0.855" stop-color="#0000e8"/><stop offset="0.876" stop-color="#0000bf"/><stop offset="0.898" stop-color="#000096"/><stop offset="0.920" stop-color="#000080"/><stop offset="0.942" stop-color="#000080"/><stop offset="0.964" stop-color="#000080"/><stop offset="0.985" stop-color="#000080"/><stop offset="1.000" stop-color="#000080"/></linearGradient><linearGradient id="h40" x1="0" y1="1" x2="0" y2="0"><stop offset="0.000" stop-color="#e4ff13"/><stop offset="0.036" stop-color="#dbff1c"/><stop offset="0.073" stop-color="#d1ff26"/><stop offset="0.109" stop-color="#caff2c"/><stop offset="0.145" stop-color="#c1ff36"/><stop offset="0.182" stop-color="#b7ff40"/><stop offset="0.218" stop-color="#adff49"/><stop offset="0.255" stop-color="#a0ff56"/><stop offset="0.291" stop-color="#94ff63"/><stop offset="0.327" stop-color="#87ff70"/><stop offset="0.364" stop-color="#77ff80"/><stop offset="0.400" stop-color="#63ff94"/><stop offset="0.418" stop-color="#5aff9d"/><stop offset="0.440" stop-color="#4dffaa"/><stop offset="0.462" stop-color="#40ffb7"/><stop offset="0.484" stop-color="#36ffc1"/><stop offset="0.505" stop-color="#29ffce"/><stop offset="0.527" stop-color="#1cffdb"/><stop offset="0.549" stop-color="#13fce4"/><stop offset="0.571" stop-color="#06ecf1"/><stop offset="0.593" stop-color="#00dcfe"/><stop offset="0.615" stop-color="#00c8ff"/><stop offset="0.636" stop-color="#00b8ff"/><stop offset="0.658" stop-color="#00a4ff"/><stop offset="0.680" stop-color="#0094ff"/><stop offset="0.702" stop-color="#0080ff"/><stop offset="0.724" stop-color="#006cff"/><stop offset="0.745" stop-color="#0054ff"/><stop offset="0.767" stop-color="#003cff"/><stop offset="0.789" stop-color="#0024ff"/><stop offset="0.811" stop-color="#000cff"/><stop offset="0.833" stop-color="#0000ff"/><stop offset="0.855" stop-color="#0000df"/><stop offset="0.876" stop-color="#0000b6"/><stop offset="0.898" stop-color="#000092"/><stop offset="0.920" stop-color="#000080"/><stop offset="0.942" stop-color="#000080"/><stop offset="0.964" stop-color="#000080"/><stop offset="0.985" stop-color="#000080"/><stop offset="1.000" stop-color="#000080"/></linearGradient><linearGradient id="h41" x1="0" y1="1" x2="0" y2="0"><stop offset="0.000" stop-color="#e4ff13"/><stop offset="0.036" stop-color="#dbff1c"/><stop offset="0.073" stop-color="#d1ff26"/><stop offset="0.109" stop-color="#caff2c"/><stop offset="0.145" stop-color="#c1ff36"/><stop offset="0.182" stop-color="#b7ff40"/><stop offset="0.218" stop-color="#adff49"/><stop offset="0.255" stop-color="#a0ff56"/><stop offset="0.291" stop-color="#94ff63"/><stop offset="0.327" stop-color="#87ff70"/><stop offset="0.364" stop-color="#77ff80"/><stop offset="0.400" stop-color="#63ff94"/><stop offset="0.418" stop-color="#5aff9d"/><stop offset="0.440" stop-color="#4dffaa"/><stop offset="0.462" stop-color="#40ffb7"/><stop offset="0.484" stop-color="#33ffc4"/><stop offset="0.505" stop-color="#26ffd1"/><stop offset="0.527" stop-color="#1cffdb"/><stop offset="0.549" stop-color="#0ff8e7"/><stop offset="0.571" stop-color="#02e8f4"/><stop offset="0.593" stop-color="#00d8ff"/><stop offset="0.615" stop-color="#00c4ff"/><stop offset="0.636" stop-color="#00b4ff"/><stop offset="0.658" stop-color="#00a0ff"/><stop offset="0.680" stop-color="#0090ff"/><stop offset="0.702" stop-color="#007cff"/><stop offset="0.724" stop-color="#0068ff"/><stop offset="0.745" stop-color="#0050ff"/><stop offset="0.767" stop-color="#0038ff"/><stop offset="0.789" stop-color="#0020ff"/><stop offset="0.811" stop-color="#0008ff"/><stop offset="0.833" stop-color="#0000ff"/><stop offset="0.855" stop-color="#0000da"/><stop offset="0.876" stop-color="#0000b2"/><stop offset="0.898" stop-color="#00008d"/><stop offset="0.920" stop-color="#000080"/><stop offset="0.942" stop-color="#000080"/><stop offset="0.964" stop-color="#000080"/><stop offset="0.985" stop-color="#000080"/><stop offset="1.000" stop-color="#000080"/></linearGradient><linearGradient id="h42" x1="0" y1="1" x2="0" y2="0"><stop offset="0.000" stop-color="#e4ff13"/><stop offset="0.036" stop-color="#dbff1c"/><stop offset="0.073" stop-color="#d1ff26"/><stop offset="0.109" stop-color="#caff2c"/><stop offset="0.145" stop-color="#c1ff36"/><stop offset="0.182" stop-color="#b7ff40"/><stop offset="0.218" stop-color="#adff49"/><stop offset="0.255" stop-color="#a0ff56"/><stop offset="0.291" stop-color="#94ff63"/><stop offset="0.327" stop-color="#83ff73"/><stop offset="0.364" stop-color="#77ff80"/><stop offset="0.400" stop-color="#60ff97"/><stop offset="0.418" stop-color="#56ffa0"/><stop offset="0.440" stop-color="#49ffad"/><stop offset="0.462" stop-color="#3cffba"/><stop offset="0.484" stop-color="#33ffc4"/><stop offset="0.505" stop-color="#26ffd1"/><stop offset="0.527" stop-color="#19ffde"/><stop offset="0.549" stop-color="#0cf4eb"/><stop offset="0.571" stop-color="#02e8f4"/><stop offset="0.593" stop-color="#00d4ff"/><stop offset="0.615" stop-color="#00c4ff"/><stop offset="0.636" stop-color="#00b0ff"/><stop offset="0.658" stop-color="#00a0ff"/><stop offset="0.680" stop-color="#008cff"/><stop offset="0.702" stop-color="#007cff"/><stop offset="0.724" stop-color="#0064ff"/><stop offset="0.745" stop-color="#004cff"/><stop offset="0.767" stop-color="#0034ff"/><stop offset="0.789" stop-color="#001cff"/><stop offset="0.811" stop-color="#0004ff"/><stop offset="0.833" stop-color="#0000fa"/><stop offset="0.855" stop-color="#0000d1"/><stop offset="0.876" stop-color="#0000ad"/><stop offset="0.898" stop-color="#000089"/><stop offset="0.920" stop-color="#000080"/><stop offset="0.942" stop-color="#000080"/><stop offset="0.964" stop-color="#000080"/><stop offset="0.985" stop-color="#000080"/><stop offset="1.000" stop-color="#000080"/></linearGradient><linearGradient id="h43" x1="0" y1="1" x2="0" y2="0"><stop offset="0.000" stop-color="#e4ff13"/><stop offset="0.036" stop-color="#dbff1c"/><stop offset="0.073" stop-color="#d1ff26"/><stop offset="0.109" stop-color="#caff2c"/><stop offset="0.145" stop-color="#c1ff36"/><stop offset="0.182" stop-color="#b7ff40"/><stop offset="0.218" stop-color="#adff49"/><stop offset="0.255" stop-color="#a0ff56"/><stop offset="0.291" stop-color="#90ff66"/><stop offset="0.327" stop-color="#83ff73"/><stop offset="0.364" stop-color="#73ff83"/><stop offset="0.400" stop-color="#60ff97"/><stop offset="0.418" stop-color="#56ffa0"/><stop offset="0.440" stop-color="#49ffad"/><stop offset="0.462" stop-color="#3cffba"/><stop offset="0.484" stop-color="#30ffc7"/><stop offset="0.505" stop-color="#23ffd4"/><stop offset="0.527" stop-color="#19ffde"/><stop offset="0.549" stop-color="#0cf4eb"/><stop offset="0.571" stop-color="#00e4f8"/><stop offset="0.593" stop-color="#00d0ff"/><stop offset="0.615" stop-color="#00c0ff"/><stop offset="0.636" stop-color="#00acff"/><stop offset="0.658" stop-color="#009cff"/><stop offset="0.680" stop-color="#0088ff"/><stop offset="0.702" stop-color="#0078ff"/><stop offset="0.724" stop-color="#0060ff"/><stop offset="0.745" stop-color="#0048ff"/><stop offset="0.767" stop-color="#0030ff"/><stop offset="0.789" stop-color="#0018ff"/><stop offset="0.811" stop-color="#0000ff"/><stop offset="0.833" stop-color="#0000f1"/><stop offset="0.855" stop-color="#0000cd"/><stop offset="0.876" stop-color="#0000a8"/><stop offset="0.898" stop-color="#000084"/><stop offset="0.920" stop-color="#000080"/><stop offset="0.942" stop-color="#000080"/><stop offset="0.964" stop-color="#000080"/><stop offset="0.985" stop-color="#000080"/><stop offset="1.000" stop-color="#000080"/></linearGradient><linearGradient id="h44" x1="0" y1="1" x2="0" y2="0"><stop offset="0.000" stop-color="#e4ff13"/><stop offset="0.036" stop-color="#dbff1c"/><stop offset="0.073" stop-color="#d4ff23"/><stop offset="0.109" stop-color="#caff2c"/><stop offset="0.145" stop-color="#c1ff36"/><stop offset="0.182" stop-color="#b7ff40"/><stop offset="0.218" stop-color="#adff49"/><stop offset="0.255" stop-color="#9dff5a"/><stop offset="0.291" stop-color="#90ff66"/><stop offset="0.327" stop-color="#83ff73"/><stop offset="0.364" stop-color="#73ff83"/><stop offset="0.400" stop-color="#60ff97"/><stop offset="0.418" stop-color="#53ffa4"/><stop offset="0.440" stop-color="#46ffb1"/><stop offset="0.462" stop-color="#39ffbe"/><stop offset="0.484" stop-color="#30ffc7"/><stop offset="0.505" stop-color="#23ffd4"/><stop offset="0.527" stop-color="#16ffe1"/><stop offset="0.549" stop-color="#09f0ee"/><stop offset="0.571" stop-color="#00e0fb"/><stop offset="0.593" stop-color="#00d0ff"/><stop offset="0.615" stop-color="#00bcff"/><stop offset="0.636" stop-color="#00acff"/><stop offset="0.658" stop-color="#0098ff"/><stop offset="0.680" stop-color="#0084ff"/><stop offset="0.702" stop-color="#0074ff"/><stop offset="0.724" stop-color="#005cff"/><stop offset="0.745" stop-color="#0044ff"/><stop offset="0.767" stop-color="#002cff"/><stop offset="0.789" stop-color="#0014ff"/><stop offset="0.811" stop-color="#0000ff"/><stop offset="0.833" stop-color="#0000ed"/><stop offset="0.855" stop-color="#0000c8"/><stop offset="0.876" stop-color="#0000a4"/><stop offset="0.898" stop-color="#000080"/><stop offset="0.920" stop-color="#000080"/><stop offset="0.942" stop-color="#000080"/><stop offset="0.964" stop-color="#000080"/><stop offset="0.985" stop-color="#000080"/><stop offset="1.000" stop-color="#000080"/></linearGradient><linearGradient id="h45" x1="0" y1="1" x2="0" y2="0"><stop offset="0.000" stop-color="#e4ff13"/><stop offset="0.036" stop-color="#dbff1c"/><stop offset="0.073" stop-color="#d4ff23"/><stop offset="0.109" stop-color="#caff2c"/><stop offset="0.145" stop-color="#c1ff36"/><stop offset="0.182" stop-color="#b7ff40"/><stop offset="0.218" stop-color="#aaff4d"/><stop offset="0.255" stop-color="#9dff5a"/><stop offset="0.291" stop-color="#90ff66"/><stop offset="0.327" stop-color="#83ff73"/><stop offset="0.364" stop-color="#73ff83"/><stop offset="0.400" stop-color="#5dff9a"/><stop offset="0.418" stop-color="#53ffa4"/><stop offset="0.440" stop-color="#46ffb1"/><stop offset="0.462" stop-color="#39ffbe"/><stop offset="0.484" stop-color="#2cffca"/><stop offset="0.505" stop-color="#1fffd7"/><stop offset="0.527" stop-color="#13fce4"/><stop offset="0.549" stop-color="#09f0ee"/><stop offset="0.571" stop-color="#00dcfe"/><stop offset="0.593" stop-color="#00ccff"/><stop offset="0.615" stop-color="#00b8ff"/><stop offset="0.636" stop-color="#00a8ff"/><stop offset="0.658" stop-color="#0094ff"/><stop offset="0.680" stop-color="#0084ff"/><stop offset="0.702" stop-color="#0070ff"/><stop offset="0.724" stop-color="#0058ff"/><stop offset="0.745" stop-color="#0040ff"/><stop offset="0.767" stop-color="#0028ff"/><stop offset="0.789" stop-color="#0010ff"/><stop offset="0.811" stop-color="#0000ff"/><stop offset="0.833" stop-color="#0000e3"/><stop offset="0.855" stop-color="#0000c4"/><stop offset="0.876" stop-color="#00009f"/><stop offset="0.898" stop-color="#000080"/><stop offset="0.920" stop-color="#000080"/><stop offset="0.942" stop-color="#000080"/><stop offset="0.964" stop-color="#000080"/><stop offset="0.985" stop-color="#000080"/><stop offset="1.000" stop-color="#000080"/></linearGradient><linearGradient id="h46" x1="0" y1="1" x2="0" y2="0"><stop offset="0.000" stop-color="#e7ff0f"/><stop offset="0.036" stop-color="#deff19"/><stop offset="0.073" stop-color="#d4ff23"/><stop offset="0.109" stop-color="#c7ff30"/><stop offset="0.145" stop-color="#beff39"/><stop offset="0.182" stop-color="#b4ff43"/><stop offset="0.218" stop-color="#aaff4d"/><stop offset="0.255" stop-color="#9dff5a"/><stop offset="0.291" stop-color="#90ff66"/><stop offset="0.327" stop-color="#83ff73"/><stop offset="0.364" stop-color="#73ff83"/><stop offset="0.400" stop-color="#5dff9a"/><stop offset="0.418" stop-color="#53ffa4"/><stop offset="0.440" stop-color="#46ffb1"/><stop offset="0.462" stop-color="#39ffbe"/><stop offset="0.484" stop-color="#2cffca"/><stop offset="0.505" stop-color="#1fffd7"/><stop offset="0.527" stop-color="#13fce4"/><stop offset="0.549" stop-color="#06ecf1"/><stop offset="0.571" stop-color="#00dcfe"/><stop offset="0.593" stop-color="#00c8ff"/><stop offset="0.615" stop-color="#00b8ff"/><stop offset="0.636" stop-color="#00a4ff"/><stop offset="0.658" stop-color="#0094ff"/><stop offset="0.680" stop-color="#0080ff"/><stop offset="0.702" stop-color="#0070ff"/><stop offset="0.724" stop-color="#0054ff"/><stop offset="0.745" stop-color="#003cff"/><stop offset="0.767" stop-color="#0024ff"/><stop offset="0.789" stop-color="#000cff"/><stop offset="0.811" stop-color="#0000ff"/><stop offset="0.833" stop-color="#0000e3"/><stop offset="0.855" stop-color="#0000bf"/><stop offset="0.876" stop-color="#00009f"/><stop offset="0.898" stop-color="#000080"/><stop offset="0.920" stop-color="#000080"/><stop offset="0.942" stop-color="#000080"/><stop offset="0.964" stop-color="#000080"/><stop offset="0.985" stop-color="#000080"/><stop offset="1.000" stop-color="#000080"/></linearGradient><linearGradient id="h47" x1="0" y1="1" x2="0" y2="0"><stop offset="0.000" stop-color="#e7ff0f"/><stop offset="0.036" stop-color="#deff19"/><stop offset="0.073" stop-color="#d4ff23"/><stop offset="0.109" stop-color="#c7ff30"/><stop offset="0.145" stop-color="#beff39"/><stop offset="0.182" stop-color="#b4ff43"/><stop offset="0.218" stop-color="#aaff4d"/><stop offset="0.255" stop-color="#9dff5a"/><stop offset="0.291" stop-color="#90ff66"/><stop offset="0.327" stop-color="#83ff73"/><stop offset="0.364" stop-color="#70ff87"/><stop offset="0.400" stop-color="#5dff9a"/><stop offset="0.418" stop-color="#50ffa7"/><stop offset="0.440" stop-color="#43ffb4"/><stop offset="0.462" stop-color="#36ffc1"/><stop offset="0.484" stop-color="#29ffce"/><stop offset="0.505" stop-color="#1fffd7"/><stop offset="0.527" stop-color="#13fce4"/><stop offset="0.549" stop-color="#06ecf1"/><stop offset="0.571" stop-color="#00d8ff"/><stop offset="0.593" stop-color="#00c8ff"/><stop offset="0.615" stop-color="#00b4ff"/><stop offset="0.636" stop-color="#00a4ff"/><stop offset="0.658" stop-color="#0094ff"/><stop offset="0.680" stop-color="#0080ff"/><stop offset="0.702" stop-color="#006cff"/><stop offset="0.724" stop-color="#0054ff"/><stop offset="0.745" stop-color="#003cff"/><stop offset="0.767" stop-color="#0024ff"/><stop offset="0.789" stop-color="#000cff"/><stop offset="0.811" stop-color="#0000ff"/><stop offset="0.833" stop-color="#0000df"/><stop offset="0.855" stop-color="#0000bf"/><stop offset="0.876" stop-color="#00009b"/><stop offset="0.898" stop-color="#000080"/><stop offset="0.920" stop-color="#000080"/><stop offset="0.942" stop-color="#000080"/><stop offset="0.964" stop-color="#000080"/><stop offset="0.985" stop-color="#000080"/><stop offset="1.000" stop-color="#000080"/></linearGradient><linearGradient id="h48" x1="0" y1="1" x2="0" y2="0"><stop offset="0.000" stop-color="#e7ff0f"/><stop offset="0.036" stop-color="#deff19"/><stop offset="0.073" stop-color="#d1ff26"/><stop offset="0.109" stop-color="#c7ff30"/><stop offset="0.145" stop-color="#beff39"/><stop offset="0.182" stop-color="#b4ff43"/><stop offset="0.218" stop-color="#aaff4d"/><stop offset="0.255" stop-color="#9dff5a"/><stop offset="0.291" stop-color="#90ff66"/><stop offset="0.327" stop-color="#80ff77"/><stop offset="0.364" stop-color="#70ff87"/><stop offset="0.400" stop-color="#5aff9d"/><stop offset="0.418" stop-color="#50ffa7"/><stop offset="0.440" stop-color="#43ffb4"/><stop offset="0.462" stop-color="#36ffc1"/><stop offset="0.484" stop-color="#29ffce"/><stop offset="0.505" stop-color="#1cffdb"/><stop offset="0.527" stop-color="#0ff8e7"/><stop offset="0.549" stop-color="#02e8f4"/><stop offset="0.571" stop-color="#00d8ff"/><stop offset="0.593" stop-color="#00c4ff"/><stop offset="0.615" stop-color="#00b4ff"/><stop offset="0.636" stop-color="#00a4ff"/><stop offset="0.658" stop-color="#0090ff"/><stop offset="0.680" stop-color="#0080ff"/><stop offset="0.702" stop-color="#006cff"/><stop offset="0.724" stop-color="#0054ff"/><stop offset="0.745" stop-color="#003cff"/><stop offset="0.767" stop-color="#0024ff"/><stop offset="0.789" stop-color="#000cff"/><stop offset="0.811" stop-color="#0000ff"/><stop offset="0.833" stop-color="#0000df"/><stop offset="0.855" stop-color="#0000bb"/><stop offset="0.876" stop-color="#00009b"/><stop offset="0.898" stop-color="#000080"/><stop offset="0.920" stop-color="#000080"/><stop offset="0.942" stop-color="#000080"/><stop offset="0.964" stop-color="#000080"/><stop offset="0.985" stop-color="#000080"/><stop offset="1.000" stop-color="#000080"/></linearGradient><linearGradient id="h49" x1="0" y1="1" x2="0" y2="0"><stop offset="0.000" stop-color="#e7ff0f"/><stop offset="0.036" stop-color="#deff19"/><stop offset="0.073" stop-color="#d1ff26"/><stop offset="0.109" stop-color="#c7ff30"/><stop offset="0.145" stop-color="#beff39"/><stop offset="0.182" stop-color="#b4ff43"/><stop offset="0.218" stop-color="#aaff4d"/><stop offset="0.255" stop-color="#9dff5a"/><stop offset="0.291" stop-color="#8dff6a"/><stop offset="0.327" stop-color="#80ff77"/><stop offset="0.364" stop-color="#70ff87"/><stop offset="0.400" stop-color="#5aff9d"/><stop offset="0.418" stop-color="#50ffa7"/><stop offset="0.440" stop-color="#43ffb4"/><stop offset="0.462" stop-color="#36ffc1"/><stop offset="0.484" stop-color="#29ffce"/><stop offset="0.505" stop-color="#1cffdb"/><stop offset="0.527" stop-color="#0ff8e7"/><stop offset="0.549" stop-color="#02e8f4"/><stop offset="0.571" stop-color="#00d4ff"/><stop offset="0.593" stop-color="#00c4ff"/><stop offset="0.615" stop-color="#00b4ff"/><stop offset="0.636" stop-color="#00a0ff"/><stop offset="0.658" stop-color="#0090ff"/><stop offset="0.680" stop-color="#0080ff"/><stop offset="0.702" stop-color="#006cff"/><stop offset="0.724" stop-color="#0054ff"/><stop offset="0.745" stop-color="#0038ff"/><stop offset="0.767" stop-color="#0020ff"/><stop offset="0.789" stop-color="#0008ff"/><stop offset="0.811" stop-color="#0000ff"/><stop offset="0.833" stop-color="#0000da"/><stop offset="0.855" stop-color="#0000bb"/><stop offset="0.876" stop-color="#000096"/><stop offset="0.898" stop-color="#000080"/><stop offset="0.920" stop-color="#000080"/><stop offset="0.942" stop-color="#000080"/><stop offset="0.964" stop-color="#000080"/><stop offset="0.985" stop-color="#000080"/><stop offset="1.000" stop-color="#000080"/></linearGradient><linearGradient id="h50" x1="0" y1="1" x2="0" y2="0"><stop offset="0.000" stop-color="#e7ff0f"/><stop offset="0.036" stop-color="#deff19"/><stop offset="0.073" stop-color="#d1ff26"/><stop offset="0.109" stop-color="#c7ff30"/><stop offset="0.145" stop-color="#beff39"/><stop offset="0.182" stop-color="#b4ff43"/><stop offset="0.218" stop-color="#aaff4d"/><stop offset="0.255" stop-color="#9aff5d"/><stop offset="0.291" stop-color="#8dff6a"/><stop offset="0.327" stop-color="#80ff77"/><stop offset="0.364" stop-color="#70ff87"/><stop offset="0.400" stop-color="#5aff9d"/><stop offset="0.418" stop-color="#50ffa7"/><stop offset="0.440" stop-color="#43ffb4"/><stop offset="0.462" stop-color="#36ffc1"/><stop offset="0.484" stop-color="#26ffd1"/><stop offset="0.505" stop-color="#19ffde"/><stop offset="0.527" stop-color="#0cf4eb"/><stop offset="0.549" stop-color="#00e4f8"/><stop offset="0.571" stop-color="#00d4ff"/><stop offset="0.593" stop-color="#00c0ff"/><stop offset="0.615" stop-color="#00b0ff"/><stop offset="0.636" stop-color="#00a0ff"/><stop offset="0.658" stop-color="#0090ff"/><stop offset="0.680" stop-color="#007cff"/><stop offset="0.702" stop-color="#0068ff"/><stop offset="0.724" stop-color="#0050ff"/><stop offset="0.745" stop-color="#0038ff"/><stop offset="0.767" stop-color="#0020ff"/><stop offset="0.789" stop-color="#0008ff"/><stop offset="0.811" stop-color="#0000ff"/><stop offset="0.833" stop-color="#0000da"/><stop offset="0.855" stop-color="#0000b6"/><stop offset="0.876" stop-color="#000096"/><stop offset="0.898" stop-color="#000080"/><stop offset="0.920" stop-color="#000080"/><stop offset="0.942" stop-color="#000080"/><stop offset="0.964" stop-color="#000080"/><stop offset="0.985" stop-color="#000080"/><stop offset="1.000" stop-color="#000080"/></linearGradient><linearGradient id="h51" x1="0" y1="1" x2="0" y2="0"><stop offset="0.000" stop-color="#e7ff0f"/><stop offset="0.036" stop-color="#deff19"/><stop offset="0.073" stop-color="#d1ff26"/><stop offset="0.109" stop-color="#c7ff30"/><stop offset="0.145" stop-color="#beff39"/><stop offset="0.182" stop-color="#b4ff43"/><stop offset="0.218" stop-color="#a7ff50"/><stop offset="0.255" stop-color="#9aff5d"/><stop offset="0.291" stop-color="#8dff6a"/><stop offset="0.327" stop-color="#80ff77"/><stop offset="0.364" stop-color="#6dff8a"/><stop offset="0.400" stop-color="#5aff9d"/><stop offset="0.418" stop-color="#4dffaa"/><stop offset="0.440" stop-color="#40ffb7"/><stop offset="0.462" stop-color="#33ffc4"/><stop offset="0.484" stop-color="#26ffd1"/><stop offset="0.505" stop-color="#19ffde"/><stop offset="0.527" stop-color="#0cf4eb"/><stop offset="0.549" stop-color="#00e0fb"/><stop offset="0.571" stop-color="#00d0ff"/><stop offset="0.593" stop-color="#00c0ff"/><stop offset="0.615" stop-color="#00b0ff"/><stop offset="0.636" stop-color="#00a0ff"/><stop offset="0.658" stop-color="#008cff"/><stop offset="0.680" stop-color="#007cff"/><stop offset="0.702" stop-color="#0068ff"/><stop offset="0.724" stop-color="#0050ff"/><stop offset="0.745" stop-color="#0038ff"/><stop offset="0.767" stop-color="#0020ff"/><stop offset="0.789" stop-color="#0004ff"/><stop offset="0.811" stop-color="#0000fa"/><stop offset="0.833" stop-color="#0000d6"/><stop offset="0.855" stop-color="#0000b6"/><stop offset="0.876" stop-color="#000092"/><stop offset="0.898" stop-color="#000080"/><stop offset="0.920" stop-color="#000080"/><stop offset="0.942" stop-color="#000080"/><stop offset="0.964" stop-color="#000080"/><stop offset="0.985" stop-color="#000080"/><stop offset="1.000" stop-color="#000080"/></linearGradient><linearGradient id="h52" x1="0" y1="1" x2="0" y2="0"><stop offset="0.000" stop-color="#e7ff0f"/><stop offset="0.036" stop-color="#deff19"/><stop offset="0.073" stop-color="#d1ff26"/><stop offset="0.109" stop-color="#c7ff30"/><stop offset="0.145" stop-color="#beff39"/><stop offset="0.182" stop-color="#b4ff43"/><stop offset="0.218" stop-color="#a7ff50"/><stop offset="0.255" stop-color="#9aff5d"/><stop offset="0.291" stop-color="#8dff6a"/><stop offset="0.327" stop-color="#80ff77"/><stop offset="0.364" stop-color="#6dff8a"/><stop offset="0.400" stop-color="#56ffa0"/><stop offset="0.418" stop-color="#4dffaa"/><stop offset="0.440" stop-color="#40ffb7"/><stop offset="0.462" stop-color="#33ffc4"/><stop offset="0.484" stop-color="#26ffd1"/><stop offset="0.505" stop-color="#16ffe1"/><stop offset="0.527" stop-color="#09f0ee"/><stop offset="0.549" stop-color="#00e0fb"/><stop offset="0.571" stop-color="#00d0ff"/><stop offset="0.593" stop-color="#00c0ff"/><stop offset="0.615" stop-color="#00acff"/><stop offset="0.636" stop-color="#009cff"/><stop offset="0.658" stop-color="#008cff"/><stop offset="0.680" stop-color="#007cff"/><stop offset="0.702" stop-color="#0068ff"/><stop offset="0.724" stop-color="#0050ff"/><stop offset="0.745" stop-color="#0034ff"/><stop offset="0.767" stop-color="#001cff"/><stop offset="0.789" stop-color="#0004ff"/><stop offset="0.811" stop-color="#0000fa"/><stop offset="0.833" stop-color="#0000d6"/><stop offset="0.855" stop-color="#0000b2"/><stop offset="0.876" stop-color="#000092"/><stop offset="0.898" stop-color="#000080"/><stop offset="0.920" stop-color="#000080"/><stop offset="0.942" stop-color="#000080"/><stop offset="0.964" stop-color="#000080"/><stop offset="0.985" stop-color="#000080"/><stop offset="1.000" stop-color="#000080"/></linearGradient><linearGradient id="h53" x1="0" y1="1" x2="0" y2="0"><stop offset="0.000" stop-color="#e7ff0f"/><stop offset="0.036" stop-color="#deff19"/><stop offset="0.073" stop-color="#d1ff26"/><stop offset="0.109" stop-color="#c7ff30"/><stop offset="0.145" stop-color="#beff39"/><stop offset="0.182" stop-color="#b4ff43"/><stop offset="0.218" stop-color="#a7ff50"/><stop offset="0.255" stop-color="#9aff5d"/><stop offset="0.291" stop-color="#8dff6a"/><stop offset="0.327" stop-color="#80ff77"/><stop offset="0.364" stop-color="#6dff8a"/><stop offset="0.400" stop-color="#56ffa0"/><stop offset="0.418" stop-color="#4dffaa"/><stop offset="0.440" stop-color="#40ffb7"/><stop offset="0.462" stop-color="#33ffc4"/><stop offset="0.484" stop-color="#23ffd4"/><stop offset="0.505" stop-color="#16ffe1"/><stop offset="0.527" stop-color="#09f0ee"/><stop offset="0.549" stop-color="#00dcfe"/><stop offset="0.571" stop-color="#00ccff"/><stop offset="0.593" stop-color="#00bcff"/><stop offset="0.615" stop-color="#00acff"/><stop offset="0.636" stop-color="#009cff"/><stop offset="0.658" stop-color="#008cff"/><stop offset="0.680" stop-color="#007cff"/><stop offset="0.702" stop-color="#0064ff"/><stop offset="0.724" stop-color="#004cff"/><stop offset="0.745" stop-color="#0034ff"/><stop offset="0.767" stop-color="#001cff"/><stop offset="0.789" stop-color="#0004ff"/><stop offset="0.811" stop-color="#0000f6"/><stop offset="0.833" stop-color="#0000d1"/><stop offset="0.855" stop-color="#0000b2"/><stop offset="0.876" stop-color="#00008d"/><stop offset="0.898" stop-color="#000080"/><stop offset="0.920" stop-color="#000080"/><stop offset="0.942" stop-color="#000080"/><stop offset="0.964" stop-color="#000080"/><stop offset="0.985" stop-color="#000080"/><stop offset="1.000" stop-color="#000080"/></linearGradient><linearGradient id="h54" x1="0" y1="1" x2="0" y2="0"><stop offset="0.000" stop-color="#e7ff0f"/><stop offset="0.036" stop-color="#deff19"/><stop offset="0.073" stop-color="#d1ff26"/><stop offset="0.109" stop-color="#c7ff30"/><stop offset="0.145" stop-color="#beff39"/><stop offset="0.182" stop-color="#b4ff43"/><stop offset="0.218" stop-color="#a7ff50"/><stop offset="0.255" stop-color="#9aff5d"/><stop offset="0.291" stop-color="#8dff6a"/><stop offset="0.327" stop-color="#7dff7a"/><stop offset="0.364" stop-color="#6aff8d"/><stop offset="0.400" stop-color="#56ffa0"/><stop offset="0.418" stop-color="#4dffaa"/><stop offset="0.440" stop-color="#40ffb7"/><stop offset="0.462" stop-color="#30ffc7"/><stop offset="0.484" stop-color="#23ffd4"/><stop offset="0.505" stop-color="#16ffe1"/><stop offset="0.527" stop-color="#06ecf1"/><stop offset="0.549" stop-color="#00dcfe"/><stop offset="0.571" stop-color="#00ccff"/><stop offset="0.593" stop-color="#00bcff"/><stop offset="0.615" stop-color="#00acff"/><stop offset="0.636" stop-color="#009cff"/><stop offset="0.658" stop-color="#008cff"/><stop offset="0.680" stop-color="#0078ff"/><stop offset="0.702" stop-color="#0064ff"/><stop offset="0.724" stop-color="#004cff"/><stop offset="0.745" stop-color="#0034ff"/><stop offset="0.767" stop-color="#0018ff"/><stop offset="0.789" stop-color="#0000ff"/><stop offset="0.811" stop-color="#0000f6"/><stop offset="0.833" stop-color="#0000d1"/><stop offset="0.855" stop-color="#0000ad"/><stop offset="0.876" stop-color="#00008d"/><stop offset="0.898" stop-color="#000080"/><stop offset="0.920" stop-color="#000080"/><stop offset="0.942" stop-color="#000080"/><stop offset="0.964" stop-color="#000080"/><stop offset="0.985" stop-color="#000080"/><stop offset="1.000" stop-color="#000080"/></linearGradient><linearGradient id="h55" x1="0" y1="1" x2="0" y2="0"><stop offset="0.000" stop-color="#e7ff0f"/><stop offset="0.036" stop-color="#deff19"/><stop offset="0.073" stop-color="#d1ff26"/><stop offset="0.109" stop-color="#c7ff30"/><stop offset="0.145" stop-color="#beff39"/><stop offset="0.182" stop-color="#b4ff43"/><stop offset="0.218" stop-color="#a7ff50"/><stop offset="0.255" stop-color="#9aff5d"/><stop offset="0.291" stop-color="#8aff6d"/><stop offset="0.327" stop-color="#7dff7a"/><stop offset="0.364" stop-color="#6aff8d"/><stop offset="0.400" stop-color="#56ffa0"/><stop offset="0.418" stop-color="#49ffad"/><stop offset="0.440" stop-color="#3cffba"/><stop offset="0.462" stop-color="#30ffc7"/><stop offset="0.484" stop-color="#23ffd4"/><stop offset="0.505" stop-color="#13fce4"/><stop offset="0.527" stop-color="#06ecf1"/><stop offset="0.549" stop-color="#00d8ff"/><stop offset="0.571" stop-color="#00c8ff"/><stop offset="0.593" stop-color="#00b8ff"/><stop offset="0.615" stop-color="#00a8ff"/><stop offset="0.636" stop-color="#0098ff"/><stop offset="0.658" stop-color="#0088ff"/><stop offset="0.680" stop-color="#0078ff"/><stop offset="0.702" stop-color="#0064ff"/><stop offset="0.724" stop-color="#004cff"/><stop offset="0.745" stop-color="#0030ff"/><stop offset="0.767" stop-color="#0018ff"/><stop offset="0.789" stop-color="#0000ff"/><stop offset="0.811" stop-color="#0000f1"/><stop offset="0.833" stop-color="#0000cd"/><stop offset="0.855" stop-color="#0000ad"/><stop offset="0.876" stop-color="#000089"/><stop offset="0.898" stop-color="#000080"/><stop offset="0.920" stop-color="#000080"/><stop offset="0.942" stop-color="#000080"/><stop offset="0.964" stop-color="#000080"/><stop offset="0.985" stop-color="#000080"/><stop offset="1.000" stop-color="#000080"/></linearGradient><linearGradient id="h56" x1="0" y1="1" x2="0" y2="0"><stop offset="0.000" stop-color="#e7ff0f"/><stop offset="0.036" stop-color="#deff19"/><stop offset="0.073" stop-color="#d1ff26"/><stop offset="0.109" stop-color="#c7ff30"/><stop offset="0.145" stop-color="#beff39"/><stop offset="0.182" stop-color="#b1ff46"/><stop offset="0.218" stop-color="#a7ff50"/><stop offset="0.255" stop-color="#97ff60"/><stop offset="0.291" stop-color="#8aff6d"/><stop offset="0.327" stop-color="#7dff7a"/><stop offset="0.364" stop-color="#6aff8d"/><stop offset="0.400" stop-color="#53ffa4"/><stop offset="0.418" stop-color="#49ffad"/><stop offset="0.440" stop-color="#3cffba"/><stop offset="0.462" stop-color="#2cffca"/><stop offset="0.484" stop-color="#1fffd7"/><stop offset="0.505" stop-color="#0ff8e7"/><stop offset="0.527" stop-color="#02e8f4"/><stop offset="0.549" stop-color="#00d8ff"/><stop offset="0.571" stop-color="#00c8ff"/><stop offset="0.593" stop-color="#00b8ff"/><stop offset="0.615" stop-color="#00a8ff"/><stop offset="0.636" stop-color="#0098ff"/><stop offset="0.658" stop-color="#0088ff"/><stop offset="0.680" stop-color="#0078ff"/><stop offset="0.702" stop-color="#0064ff"/><stop offset="0.724" stop-color="#0048ff"/><stop offset="0.745" stop-color="#0030ff"/><stop offset="0.767" stop-color="#0018ff"/><stop offset="0.789" stop-color="#0000ff"/><stop offset="0.811" stop-color="#0000f1"/><stop offset="0.833" stop-color="#0000cd"/><stop offset="0.855" stop-color="#0000a8"/><stop offset="0.876" stop-color="#000084"/><stop offset="0.898" stop-color="#000080"/><stop offset="0.920" stop-color="#000080"/><stop offset="0.942" stop-color="#000080"/><stop offset="0.964" stop-color="#000080"/><stop offset="0.985" stop-color="#000080"/><stop offset="1.000" stop-color="#000080"/></linearGradient><linearGradient id="h57" x1="0" y1="1" x2="0" y2="0"><stop offset="0.000" stop-color="#e7ff0f"/><stop offset="0.036" stop-color="#deff19"/><stop offset="0.073" stop-color="#d1ff26"/><stop offset="0.109" stop-color="#c7ff30"/><stop offset="0.145" stop-color="#beff39"/><stop offset="0.182" stop-color="#b1ff46"/><stop offset="0.218" stop-color="#a7ff50"/><stop offset="0.255" stop-color="#97ff60"/><stop offset="0.291" stop-color="#8aff6d"/><stop offset="0.327" stop-color="#7dff7a"/><stop offset="0.364" stop-color="#66ff90"/><stop offset="0.400" stop-color="#50ffa7"/><stop offset="0.418" stop-color="#46ffb1"/><stop offset="0.440" stop-color="#39ffbe"/><stop offset="0.462" stop-color="#29ffce"/><stop offset="0.484" stop-color="#1cffdb"/><stop offset="0.505" stop-color="#0cf4eb"/><stop offset="0.527" stop-color="#00e4f8"/><stop offset="0.549" stop-color="#00d4ff"/><stop offset="0.571" stop-color="#00c4ff"/><stop offset="0.593" stop-color="#00b4ff"/><stop offset="0.615" stop-color="#00a4ff"/><stop offset="0.636" stop-color="#0098ff"/><stop offset="0.658" stop-color="#0088ff"/><stop offset="0.680" stop-color="#0078ff"/><stop offset="0.702" stop-color="#0060ff"/><stop offset="0.724" stop-color="#0048ff"/><stop offset="0.745" stop-color="#0030ff"/><stop offset="0.767" stop-color="#0014ff"/><stop offset="0.789" stop-color="#0000ff"/><stop offset="0.811" stop-color="#0000ed"/><stop offset="0.833" stop-color="#0000c8"/><stop offset="0.855" stop-color="#0000a8"/><stop offset="0.876" stop-color="#000084"/><stop offset="0.898" stop-color="#000080"/><stop offset="0.920" stop-color="#000080"/><stop offset="0.942" stop-color="#000080"/><stop offset="0.964" stop-color="#000080"/><stop offset="0.985" stop-color="#000080"/><stop offset="1.000" stop-color="#000080"/></linearGradient><linearGradient id="h58" x1="0" y1="1" x2="0" y2="0"><stop offset="0.000" stop-color="#e7ff0f"/><stop offset="0.036" stop-color="#deff19"/><stop offset="0.073" stop-color="#d1ff26"/><stop offset="0.109" stop-color="#c7ff30"/><stop offset="0.145" stop-color="#beff39"/><stop offset="0.182" stop-color="#b1ff46"/><stop offset="0.218" stop-color="#a4ff53"/><stop offset="0.255" stop-color="#97ff60"/><stop offset="0.291" stop-color="#8aff6d"/><stop offset="0.327" stop-color="#7aff7d"/><stop offset="0.364" stop-color="#66ff90"/><stop offset="0.400" stop-color="#50ffa7"/><stop offset="0.418" stop-color="#43ffb4"/><stop offset="0.440" stop-color="#36ffc1"/><stop offset="0.462" stop-color="#29ffce"/><stop offset="0.484" stop-color="#19ffde"/><stop offset="0.505" stop-color="#09f0ee"/><stop offset="0.527" stop-color="#00e0fb"/><stop offset="0.549" stop-color="#00d0ff"/><stop offset="0.571" stop-color="#00c4ff"/><stop offset="0.593" stop-color="#00b4ff"/><stop offset="0.615" stop-color="#00a4ff"/><stop offset="0.636" stop-color="#0094ff"/><stop offset="0.658" stop-color="#0088ff"/><stop offset="0.680" stop-color="#0078ff"/><stop offset="0.702" stop-color="#0060ff"/><stop offset="0.724" stop-color="#0048ff"/><stop offset="0.745" stop-color="#002cff"/><stop offset="0.767" stop-color="#0014ff"/><stop offset="0.789" stop-color="#0000ff"/><stop offset="0.811" stop-color="#0000e8"/><stop offset="0.833" stop-color="#0000c8"/><stop offset="0.855" stop-color="#0000a4"/><stop offset="0.876" stop-color="#000080"/><stop offset="0.898" stop-color="#000080"/><stop offset="0.920" stop-color="#000080"/><stop offset="0.942" stop-color="#000080"/><stop offset="0.964" stop-color="#000080"/><stop offset="0.985" stop-color="#000080"/><stop offset="1.000" stop-color="#000080"/></linearGradient><linearGradient id="h59" x1="0" y1="1" x2="0" y2="0"><stop offset="0.000" stop-color="#e7ff0f"/><stop offset="0.036" stop-color="#deff19"/><stop offset="0.073" stop-color="#d1ff26"/><stop offset="0.109" stop-color="#c7ff30"/><stop offset="0.145" stop-color="#beff39"/><stop offset="0.182" stop-color="#b1ff46"/><stop offset="0.218" stop-color="#a4ff53"/><stop offset="0.255" stop-color="#97ff60"/><stop offset="0.291" stop-color="#8aff6d"/><stop offset="0.327" stop-color="#7aff7d"/><stop offset="0.364" stop-color="#63ff94"/><stop offset="0.400" stop-color="#4dffaa"/><stop offset="0.418" stop-color="#43ffb4"/><stop offset="0.440" stop-color="#33ffc4"/><stop offset="0.462" stop-color="#26ffd1"/><stop offset="0.484" stop-color="#16ffe1"/><stop offset="0.505" stop-color="#06ecf1"/><stop offset="0.527" stop-color="#00dcfe"/><stop offset="0.549" stop-color="#00d0ff"/><stop offset="0.571" stop-color="#00c0ff"/><stop offset="0.593" stop-color="#00b0ff"/><stop offset="0.615" stop-color="#00a4ff"/><stop offset="0.636" stop-color="#0094ff"/><stop offset="0.658" stop-color="#0084ff"/><stop offset="0.680" stop-color="#0078ff"/><stop offset="0.702" stop-color="#0060ff"/><stop offset="0.724" stop-color="#0044ff"/><stop offset="0.745" stop-color="#002cff"/><stop offset="0.767" stop-color="#0014ff"/><stop offset="0.789" stop-color="#0000ff"/><stop offset="0.811" stop-color="#0000e8"/><stop offset="0.833" stop-color="#0000c4"/><stop offset="0.855" stop-color="#00009f"/><stop offset="0.876" stop-color="#000080"/><stop offset="0.898" stop-color="#000080"/><stop offset="0.920" stop-color="#000080"/><stop offset="0.942" stop-color="#000080"/><stop offset="0.964" stop-color="#000080"/><stop offset="0.985" stop-color="#000080"/><stop offset="1.000" stop-color="#000080"/></linearGradient><linearGradient id="h60" x1="0" y1="1" x2="0" y2="0"><stop offset="0.000" stop-color="#e4ff13"/><stop offset="0.036" stop-color="#deff19"/><stop offset="0.073" stop-color="#d1ff26"/><stop offset="0.109" stop-color="#c7ff30"/><stop offset="0.145" stop-color="#beff39"/><stop offset="0.182" stop-color="#b1ff46"/><stop offset="0.218" stop-color="#a4ff53"/><stop offset="0.255" stop-color="#97ff60"/><stop offset="0.291" stop-color="#87ff70"/><stop offset="0.327" stop-color="#77ff80"/><stop offset="0.364" stop-color="#60ff97"/><stop offset="0.400" stop-color="#4dffaa"/><stop offset="0.418" stop-color="#40ffb7"/><stop offset="0.440" stop-color="#33ffc4"/><stop offset="0.462" stop-color="#23ffd4"/><stop offset="0.484" stop-color="#13fce4"/><stop offset="0.505" stop-color="#06ecf1"/><stop offset="0.527" stop-color="#00dcfe"/><stop offset="0.549" stop-color="#00ccff"/><stop offset="0.571" stop-color="#00bcff"/><stop offset="0.593" stop-color="#00b0ff"/><stop offset="0.615" stop-color="#00a0ff"/><stop offset="0.636" stop-color="#0094ff"/><stop offset="0.658" stop-color="#0084ff"/><stop offset="0.680" stop-color="#0078ff"/><stop offset="0.702" stop-color="#0060ff"/><stop offset="0.724" stop-color="#0044ff"/><stop offset="0.745" stop-color="#002cff"/><stop offset="0.767" stop-color="#0010ff"/><stop offset="0.789" stop-color="#0000ff"/><stop offset="0.811" stop-color="#0000e3"/><stop offset="0.833" stop-color="#0000c4"/><stop offset="0.855" stop-color="#00009f"/><stop offset="0.876" stop-color="#000080"/><stop offset="0.898" stop-color="#000080"/><stop offset="0.920" stop-color="#000080"/><stop offset="0.942" stop-color="#000080"/><stop offset="0.964" stop-color="#000080"/><stop offset="0.985" stop-color="#000080"/><stop offset="1.000" stop-color="#000080"/></linearGradient><linearGradient id="h61" x1="0" y1="1" x2="0" y2="0"><stop offset="0.000" stop-color="#e4ff13"/><stop offset="0.036" stop-color="#deff19"/><stop offset="0.073" stop-color="#d1ff26"/><stop offset="0.109" stop-color="#c7ff30"/><stop offset="0.145" stop-color="#beff39"/><stop offset="0.182" stop-color="#b1ff46"/><stop offset="0.218" stop-color="#a4ff53"/><stop offset="0.255" stop-color="#97ff60"/><stop offset="0.291" stop-color="#87ff70"/><stop offset="0.327" stop-color="#77ff80"/><stop offset="0.364" stop-color="#60ff97"/><stop offset="0.400" stop-color="#49ffad"/><stop offset="0.418" stop-color="#3cffba"/><stop offset="0.440" stop-color="#30ffc7"/><stop offset="0.462" stop-color="#1fffd7"/><stop offset="0.484" stop-color="#0ff8e7"/><stop offset="0.505" stop-color="#02e8f4"/><stop offset="0.527" stop-color="#00d8ff"/><stop offset="0.549" stop-color="#00c8ff"/><stop offset="0.571" stop-color="#00bcff"/><stop offset="0.593" stop-color="#00acff"/><stop offset="0.615" stop-color="#00a0ff"/><stop offset="0.636" stop-color="#0090ff"/><stop offset="0.658" stop-color="#0084ff"/><stop offset="0.680" stop-color="#0074ff"/><stop offset="0.702" stop-color="#005cff"/><stop offset="0.724" stop-color="#0044ff"/><stop offset="0.745" stop-color="#0028ff"/><stop offset="0.767" stop-color="#0010ff"/><stop offset="0.789" stop-color="#0000ff"/><stop offset="0.811" stop-color="#0000e3"/><stop offset="0.833" stop-color="#0000bf"/><stop offset="0.855" stop-color="#00009b"/><stop offset="0.876" stop-color="#000080"/><stop offset="0.898" stop-color="#000080"/><stop offset="0.920" stop-color="#000080"/><stop offset="0.942" stop-color="#000080"/><stop offset="0.964" stop-color="#000080"/><stop offset="0.985" stop-color="#000080"/><stop offset="1.000" stop-color="#000080"/></linearGradient><linearGradient id="h62" x1="0" y1="1" x2="0" y2="0"><stop offset="0.000" stop-color="#e4ff13"/><stop offset="0.036" stop-color="#deff19"/><stop offset="0.073" stop-color="#d1ff26"/><stop offset="0.109" stop-color="#c7ff30"/><stop offset="0.145" stop-color="#beff39"/><stop offset="0.182" stop-color="#b1ff46"/><stop offset="0.218" stop-color="#a4ff53"/><stop offset="0.255" stop-color="#94ff63"/><stop offset="0.291" stop-color="#87ff70"/><stop offset="0.327" stop-color="#73ff83"/><stop offset="0.364" stop-color="#5dff9a"/><stop offset="0.400" stop-color="#46ffb1"/><stop offset="0.418" stop-color="#3cffba"/><stop offset="0.440" stop-color="#2cffca"/><stop offset="0.462" stop-color="#1cffdb"/><stop offset="0.484" stop-color="#0cf4eb"/><stop offset="0.505" stop-color="#00e4f8"/><stop offset="0.527" stop-color="#00d4ff"/><stop offset="0.549" stop-color="#00c8ff"/><stop offset="0.571" stop-color="#00b8ff"/><stop offset="0.593" stop-color="#00acff"/><stop offset="0.615" stop-color="#00a0ff"/><stop offset="0.636" stop-color="#0090ff"/><stop offset="0.658" stop-color="#0084ff"/><stop offset="0.680" stop-color="#0074ff"/><stop offset="0.702" stop-color="#005cff"/><stop offset="0.724" stop-color="#0040ff"/><stop offset="0.745" stop-color="#0028ff"/><stop offset="0.767" stop-color="#000cff"/><stop offset="0.789" stop-color="#0000ff"/><stop offset="0.811" stop-color="#0000df"/><stop offset="0.833" stop-color="#0000bb"/><stop offset="0.855" stop-color="#000096"/><stop offset="0.876" stop-color="#000080"/><stop offset="0.898" stop-color="#000080"/><stop offset="0.920" stop-color="#000080"/><stop offset="0.942" stop-color="#000080"/><stop offset="0.964" stop-color="#000080"/><stop offset="0.985" stop-color="#000080"/><stop offset="1.000" stop-color="#000080"/></linearGradient><linearGradient id="h63" x1="0" y1="1" x2="0" y2="0"><stop offset="0.000" stop-color="#e4ff13"/><stop offset="0.036" stop-color="#deff19"/><stop offset="0.073" stop-color="#d1ff26"/><stop offset="0.109" stop-color="#c7ff30"/><stop offset="0.145" stop-color="#beff39"/><stop offset="0.182" stop-color="#b1ff46"/><stop offset="0.218" stop-color="#a4ff53"/><stop offset="0.255" stop-color="#94ff63"/><stop offset="0.291" stop-color="#83ff73"/><stop offset="0.327" stop-color="#73ff83"/><stop offset="0.364" stop-color="#5dff9a"/><stop offset="0.400" stop-color="#43ffb4"/><stop offset="0.418" stop-color="#39ffbe"/><stop offset="0.440" stop-color="#29ffce"/><stop offset="0.462" stop-color="#19ffde"/><stop offset="0.484" stop-color="#09f0ee"/><stop offset="0.505" stop-color="#00e0fb"/><stop offset="0.527" stop-color="#00d4ff"/><stop offset="0.549" stop-color="#00c4ff"/><stop offset="0.571" stop-color="#00b8ff"/><stop offset="0.593" stop-color="#00acff"/><stop offset="0.615" stop-color="#009cff"/><stop offset="0.636" stop-color="#0090ff"/><stop offset="0.658" stop-color="#0084ff"/><stop offset="0.680" stop-color="#0074ff"/><stop offset="0.702" stop-color="#005cff"/><stop offset="0.724" stop-color="#0040ff"/><stop offset="0.745" stop-color="#0028ff"/><stop offset="0.767" stop-color="#000cff"/><stop offset="0.789" stop-color="#0000ff"/><stop offset="0.811" stop-color="#0000df"/><stop offset="0.833" stop-color="#0000bb"/><stop offset="0.855" stop-color="#000096"/><stop offset="0.876" stop-color="#000080"/><stop offset="0.898" stop-color="#000080"/><stop offset="0.920" stop-color="#000080"/><stop offset="0.942" stop-color="#000080"/><stop offset="0.964" stop-color="#000080"/><stop offset="0.985" stop-color="#000080"/><stop offset="1.000" stop-color="#000080"/></linearGradient><linearGradient id="h64" x1="0" y1="1" x2="0" y2="0"><stop offset="0.000" stop-color="#e4ff13"/><stop offset="0.036" stop-color="#deff19"/><stop offset="0.073" stop-color="#d1ff26"/><stop offset="0.109" stop-color="#c7ff30"/><stop offset="0.145" stop-color="#baff3c"/><stop offset="0.182" stop-color="#b1ff46"/><stop offset="0.218" stop-color="#a4ff53"/><stop offset="0.255" stop-color="#94ff63"/><stop offset="0.291" stop-color="#83ff73"/><stop offset="0.327" stop-color="#70ff87"/><stop offset="0.364" stop-color="#5aff9d"/><stop offset="0.400" stop-color="#43ffb4"/><stop offset="0.418" stop-color="#36ffc1"/><stop offset="0.440" stop-color="#26ffd1"/><stop offset="0.462" stop-color="#16ffe1"/><stop offset="0.484" stop-color="#09f0ee"/><stop offset="0.505" stop-color="#00dcfe"/><stop offset="0.527" stop-color="#00d0ff"/><stop offset="0.549" stop-color="#00c4ff"/><stop offset="0.571" stop-color="#00b8ff"/><stop offset="0.593" stop-color="#00a8ff"/><stop offset="0.615" stop-color="#009cff"/><stop offset="0.636" stop-color="#0090ff"/><stop offset="0.658" stop-color="#0080ff"/><stop offset="0.680" stop-color="#0074ff"/><stop offset="0.702" stop-color="#005cff"/><stop offset="0.724" stop-color="#0040ff"/><stop offset="0.745" stop-color="#0024ff"/><stop offset="0.767" stop-color="#000cff"/><stop offset="0.789" stop-color="#0000ff"/><stop offset="0.811" stop-color="#0000da"/><stop offset="0.833" stop-color="#0000b6"/><stop offset="0.855" stop-color="#000092"/><stop offset="0.876" stop-color="#000080"/><stop offset="0.898" stop-color="#000080"/><stop offset="0.920" stop-color="#000080"/><stop offset="0.942" stop-color="#000080"/><stop offset="0.964" stop-color="#000080"/><stop offset="0.985" stop-color="#000080"/><stop offset="1.000" stop-color="#000080"/></linearGradient><linearGradient id="h65" x1="0" y1="1" x2="0" y2="0"><stop offset="0.000" stop-color="#e4ff13"/><stop offset="0.036" stop-color="#deff19"/><stop offset="0.073" stop-color="#d1ff26"/><stop offset="0.109" stop-color="#c7ff30"/><stop offset="0.145" stop-color="#baff3c"/><stop offset="0.182" stop-color="#b1ff46"/><stop offset="0.218" stop-color="#a0ff56"/><stop offset="0.255" stop-color="#94ff63"/><stop offset="0.291" stop-color="#83ff73"/><stop offset="0.327" stop-color="#70ff87"/><stop offset="0.364" stop-color="#56ffa0"/><stop offset="0.400" stop-color="#40ffb7"/><stop offset="0.418" stop-color="#33ffc4"/><stop offset="0.440" stop-color="#23ffd4"/><stop offset="0.462" stop-color="#16ffe1"/><stop offset="0.484" stop-color="#06ecf1"/><stop offset="0.505" stop-color="#00dcfe"/><stop offset="0.527" stop-color="#00d0ff"/><stop offset="0.549" stop-color="#00c0ff"/><stop offset="0.571" stop-color="#00b4ff"/><stop offset="0.593" stop-color="#00a8ff"/><stop offset="0.615" stop-color="#009cff"/><stop offset="0.636" stop-color="#008cff"/><stop offset="0.658" stop-color="#0080ff"/><stop offset="0.680" stop-color="#0074ff"/><stop offset="0.702" stop-color="#0058ff"/><stop offset="0.724" stop-color="#003cff"/><stop offset="0.745" stop-color="#0024ff"/><stop offset="0.767" stop-color="#0008ff"/><stop offset="0.789" stop-color="#0000fa"/><stop offset="0.811" stop-color="#0000d6"/><stop offset="0.833" stop-color="#0000b2"/><stop offset="0.855" stop-color="#00008d"/><stop offset="0.876" stop-color="#000080"/><stop offset="0.898" stop-color="#000080"/><stop offset="0.920" stop-color="#000080"/><stop offset="0.942" stop-color="#000080"/><stop offset="0.964" stop-color="#000080"/><stop offset="0.985" stop-color="#000080"/><stop offset="1.000" stop-color="#000080"/></linearGradient><linearGradient id="h66" x1="0" y1="1" x2="0" y2="0"><stop offset="0.000" stop-color="#e4ff13"/><stop offset="0.036" stop-color="#deff19"/><stop offset="0.073" stop-color="#d1ff26"/><stop offset="0.109" stop-color="#c7ff30"/><stop offset="0.145" stop-color="#baff3c"/><stop offset="0.182" stop-color="#b1ff46"/><stop offset="0.218" stop-color="#a0ff56"/><stop offset="0.255" stop-color="#94ff63"/><stop offset="0.291" stop-color="#83ff73"/><stop offset="0.327" stop-color="#70ff87"/><stop offset="0.364" stop-color="#56ffa0"/><stop offset="0.400" stop-color="#40ffb7"/><stop offset="0.418" stop-color="#33ffc4"/><stop offset="0.440" stop-color="#23ffd4"/><stop offset="0.462" stop-color="#13fce4"/><stop offset="0.484" stop-color="#02e8f4"/><stop offset="0.505" stop-color="#00dcfe"/><stop offset="0.527" stop-color="#00ccff"/><stop offset="0.549" stop-color="#00c0ff"/><stop offset="0.571" stop-color="#00b4ff"/><stop offset="0.593" stop-color="#00a4ff"/><stop offset="0.615" stop-color="#0098ff"/><stop offset="0.636" stop-color="#008cff"/><stop offset="0.658" stop-color="#0080ff"/><stop offset="0.680" stop-color="#0070ff"/><stop offset="0.702" stop-color="#0054ff"/><stop offset="0.724" stop-color="#003cff"/><stop offset="0.745" stop-color="#0020ff"/><stop offset="0.767" stop-color="#0004ff"/><stop offset="0.789" stop-color="#0000fa"/><stop offset="0.811" stop-color="#0000d6"/><stop offset="0.833" stop-color="#0000b2"/><stop offset="0.855" stop-color="#00008d"/><stop offset="0.876" stop-color="#000080"/><stop offset="0.898" stop-color="#000080"/><stop offset="0.920" stop-color="#000080"/><stop offset="0.942" stop-color="#000080"/><stop offset="0.964" stop-color="#000080"/><stop offset="0.985" stop-color="#000080"/><stop offset="1.000" stop-color="#000080"/></linearGradient><linearGradient id="h67" x1="0" y1="1" x2="0" y2="0"><stop offset="0.000" stop-color="#e4ff13"/><stop offset="0.036" stop-color="#deff19"/><stop offset="0.073" stop-color="#d1ff26"/><stop offset="0.109" stop-color="#c7ff30"/><stop offset="0.145" stop-color="#baff3c"/><stop offset="0.182" stop-color="#b1ff46"/><stop offset="0.218" stop-color="#a0ff56"/><stop offset="0.255" stop-color="#90ff66"/><stop offset="0.291" stop-color="#83ff73"/><stop offset="0.327" stop-color="#6dff8a"/><stop offset="0.364" stop-color="#56ffa0"/><stop offset="0.400" stop-color="#40ffb7"/><stop offset="0.418" stop-color="#33ffc4"/><stop offset="0.440" stop-color="#23ffd4"/><stop offset="0.462" stop-color="#13fce4"/><stop offset="0.484" stop-color="#02e8f4"/><stop offset="0.505" stop-color="#00d8ff"/><stop offset="0.527" stop-color="#00ccff"/><stop offset="0.549" stop-color="#00c0ff"/><stop offset="0.571" stop-color="#00b0ff"/><stop offset="0.593" stop-color="#00a4ff"/><stop offset="0.615" stop-color="#0098ff"/><stop offset="0.636" stop-color="#008cff"/><stop offset="0.658" stop-color="#007cff"/><stop offset="0.680" stop-color="#006cff"/><stop offset="0.702" stop-color="#0050ff"/><stop offset="0.724" stop-color="#0038ff"/><stop offset="0.745" stop-color="#001cff"/><stop offset="0.767" stop-color="#0004ff"/><stop offset="0.789" stop-color="#0000f6"/><stop offset="0.811" stop-color="#0000d1"/><stop offset="0.833" stop-color="#0000ad"/><stop offset="0.855" stop-color="#00008d"/><stop offset="0.876" stop-color="#000080"/><stop offset="0.898" stop-color="#000080"/><stop offset="0.920" stop-color="#000080"/><stop offset="0.942" stop-color="#000080"/><stop offset="0.964" stop-color="#000080"/><stop offset="0.985" stop-color="#000080"/><stop offset="1.000" stop-color="#000080"/></linearGradient><linearGradient id="h68" x1="0" y1="1" x2="0" y2="0"><stop offset="0.000" stop-color="#e4ff13"/><stop offset="0.036" stop-color="#deff19"/><stop offset="0.073" stop-color="#d1ff26"/><stop offset="0.109" stop-color="#c7ff30"/><stop offset="0.145" stop-color="#baff3c"/><stop offset="0.182" stop-color="#b1ff46"/><stop offset="0.218" stop-color="#a0ff56"/><stop offset="0.255" stop-color="#90ff66"/><stop offset="0.291" stop-color="#80ff77"/><stop offset="0.327" stop-color="#6dff8a"/><stop offset="0.364" stop-color="#56ffa0"/><stop offset="0.400" stop-color="#3cffba"/><stop offset="0.418" stop-color="#30ffc7"/><stop offset="0.440" stop-color="#1fffd7"/><stop offset="0.462" stop-color="#0ff8e7"/><stop offset="0.484" stop-color="#00e4f8"/><stop offset="0.505" stop-color="#00d8ff"/><stop offset="0.527" stop-color="#00ccff"/><stop offset="0.549" stop-color="#00bcff"/><stop offset="0.571" stop-color="#00b0ff"/><stop offset="0.593" stop-color="#00a4ff"/><stop offset="0.615" stop-color="#0094ff"/><stop offset="0.636" stop-color="#0088ff"/><stop offset="0.658" stop-color="#007cff"/><stop offset="0.680" stop-color="#0068ff"/><stop offset="0.702" stop-color="#0050ff"/><stop offset="0.724" stop-color="#0034ff"/><stop offset="0.745" stop-color="#001cff"/><stop offset="0.767" stop-color="#0000ff"/><stop offset="0.789" stop-color="#0000f1"/><stop offset="0.811" stop-color="#0000d1"/><stop offset="0.833" stop-color="#0000ad"/><stop offset="0.855" stop-color="#000089"/><stop offset="0.876" stop-color="#000080"/><stop offset="0.898" stop-color="#000080"/><stop offset="0.920" stop-color="#000080"/><stop offset="0.942" stop-color="#000080"/><stop offset="0.964" stop-color="#000080"/><stop offset="0.985" stop-color="#000080"/><stop offset="1.000" stop-color="#000080"/></linearGradient><linearGradient id="h69" x1="0" y1="1" x2="0" y2="0"><stop offset="0.000" stop-color="#e4ff13"/><stop offset="0.036" stop-color="#deff19"/><stop offset="0.073" stop-color="#d1ff26"/><stop offset="0.109" stop-color="#c7ff30"/><stop offset="0.145" stop-color="#baff3c"/><stop offset="0.182" stop-color="#b1ff46"/><stop offset="0.218" stop-color="#a0ff56"/><stop offset="0.255" stop-color="#90ff66"/><stop offset="0.291" stop-color="#80ff77"/><stop offset="0.327" stop-color="#6dff8a"/><stop offset="0.364" stop-color="#53ffa4"/><stop offset="0.400" stop-color="#3cffba"/><stop offset="0.418" stop-color="#30ffc7"/><stop offset="0.440" stop-color="#1fffd7"/><stop offset="0.462" stop-color="#0ff8e7"/><stop offset="0.484" stop-color="#00e4f8"/><stop offset="0.505" stop-color="#00d8ff"/><stop offset="0.527" stop-color="#00c8ff"/><stop offset="0.549" stop-color="#00bcff"/><stop offset="0.571" stop-color="#00b0ff"/><stop offset="0.593" stop-color="#00a0ff"/><stop offset="0.615" stop-color="#0094ff"/><stop offset="0.636" stop-color="#0088ff"/><stop offset="0.658" stop-color="#0078ff"/><stop offset="0.680" stop-color="#0064ff"/><stop offset="0.702" stop-color="#004cff"/><stop offset="0.724" stop-color="#0030ff"/><stop offset="0.745" stop-color="#0018ff"/><stop offset="0.767" stop-color="#0000ff"/><stop offset="0.789" stop-color="#0000ed"/><stop offset="0.811" stop-color="#0000cd"/><stop offset="0.833" stop-color="#0000ad"/><stop offset="0.855" stop-color="#000089"/><stop offset="0.876" stop-color="#000080"/><stop offset="0.898" stop-color="#000080"/><stop offset="0.920" stop-color="#000080"/><stop offset="0.942" stop-color="#000080"/><stop offset="0.964" stop-color="#000080"/><stop offset="0.985" stop-color="#000080"/><stop offset="1.000" stop-color="#000080"/></linearGradient><linearGradient id="h70" x1="0" y1="1" x2="0" y2="0"><stop offset="0.000" stop-color="#e4ff13"/><stop offset="0.036" stop-color="#deff19"/><stop offset="0.073" stop-color="#d1ff26"/><stop offset="0.109" stop-color="#c7ff30"/><stop offset="0.145" stop-color="#baff3c"/><stop offset="0.182" stop-color="#b1ff46"/><stop offset="0.218" stop-color="#a0ff56"/><stop offset="0.255" stop-color="#90ff66"/><stop offset="0.291" stop-color="#80ff77"/><stop offset="0.327" stop-color="#6aff8d"/><stop offset="0.364" stop-color="#53ffa4"/><stop offset="0.400" stop-color="#3cffba"/><stop offset="0.418" stop-color="#30ffc7"/><stop offset="0.440" stop-color="#1cffdb"/><stop offset="0.462" stop-color="#0cf4eb"/><stop offset="0.484" stop-color="#00e4f8"/><stop offset="0.505" stop-color="#00d4ff"/><stop offset="0.527" stop-color="#00c8ff"/><stop offset="0.549" stop-color="#00bcff"/><stop offset="0.571" stop-color="#00acff"/><stop offset="0.593" stop-color="#00a0ff"/><stop offset="0.615" stop-color="#0094ff"/><stop offset="0.636" stop-color="#0084ff"/><stop offset="0.658" stop-color="#0078ff"/><stop offset="0.680" stop-color="#0060ff"/><stop offset="0.702" stop-color="#0048ff"/><stop offset="0.724" stop-color="#002cff"/><stop offset="0.745" stop-color="#0014ff"/><stop offset="0.767" stop-color="#0000ff"/><stop offset="0.789" stop-color="#0000ed"/><stop offset="0.811" stop-color="#0000c8"/><stop offset="0.833" stop-color="#0000a8"/><stop offset="0.855" stop-color="#000089"/><stop offset="0.876" stop-color="#000080"/><stop offset="0.898" stop-color="#000080"/><stop offset="0.920" stop-color="#000080"/><stop offset="0.942" stop-color="#000080"/><stop offset="0.964" stop-color="#000080"/><stop offset="0.985" stop-color="#000080"/><stop offset="1.000" stop-color="#000080"/></linearGradient><linearGradient id="h71" x1="0" y1="1" x2="0" y2="0"><stop offset="0.000" stop-color="#e4ff13"/><stop offset="0.036" stop-color="#deff19"/><stop offset="0.073" stop-color="#d1ff26"/><stop offset="0.109" stop-color="#c7ff30"/><stop offset="0.145" stop-color="#baff3c"/><stop offset="0.182" stop-color="#b1ff46"/><stop offset="0.218" stop-color="#a0ff56"/><stop offset="0.255" stop-color="#90ff66"/><stop offset="0.291" stop-color="#80ff77"/><stop offset="0.327" stop-color="#6aff8d"/><stop offset="0.364" stop-color="#53ffa4"/><stop offset="0.400" stop-color="#39ffbe"/><stop offset="0.418" stop-color="#2cffca"/><stop offset="0.440" stop-color="#1cffdb"/><stop offset="0.462" stop-color="#0cf4eb"/><stop offset="0.484" stop-color="#00e0fb"/><stop offset="0.505" stop-color="#00d4ff"/><stop offset="0.527" stop-color="#00c8ff"/><stop offset="0.549" stop-color="#00b8ff"/><stop offset="0.571" stop-color="#00acff"/><stop offset="0.593" stop-color="#00a0ff"/><stop offset="0.615" stop-color="#0090ff"/><stop offset="0.636" stop-color="#0084ff"/><stop offset="0.658" stop-color="#0074ff"/><stop offset="0.680" stop-color="#005cff"/><stop offset="0.702" stop-color="#0044ff"/><stop offset="0.724" stop-color="#002cff"/><stop offset="0.745" stop-color="#0010ff"/><stop offset="0.767" stop-color="#0000ff"/><stop offset="0.789" stop-color="#0000e8"/><stop offset="0.811" stop-color="#0000c8"/><stop offset="0.833" stop-color="#0000a8"/><stop offset="0.855" stop-color="#000089"/><stop offset="0.876" stop-color="#000080"/><stop offset="0.898" stop-color="#000080"/><stop offset="0.920" stop-color="#000080"/><stop offset="0.942" stop-color="#000080"/><stop offset="0.964" stop-color="#000080"/><stop offset="0.985" stop-color="#000080"/><stop offset="1.000" stop-color="#000080"/></linearGradient><linearGradient id="h72" x1="0" y1="1" x2="0" y2="0"><stop offset="0.000" stop-color="#e4ff13"/><stop offset="0.036" stop-color="#deff19"/><stop offset="0.073" stop-color="#d1ff26"/><stop offset="0.109" stop-color="#c7ff30"/><stop offset="0.145" stop-color="#baff3c"/><stop offset="0.182" stop-color="#b1ff46"/><stop offset="0.218" stop-color="#a0ff56"/><stop offset="0.255" stop-color="#90ff66"/><stop offset="0.291" stop-color="#80ff77"/><stop offset="0.327" stop-color="#6aff8d"/><stop offset="0.364" stop-color="#50ffa7"/><stop offset="0.400" stop-color="#39ffbe"/><stop offset="0.418" stop-color="#2cffca"/><stop offset="0.440" stop-color="#1cffdb"/><stop offset="0.462" stop-color="#0cf4eb"/><stop offset="0.484" stop-color="#00e0fb"/><stop offset="0.505" stop-color="#00d4ff"/><stop offset="0.527" stop-color="#00c4ff"/><stop offset="0.549" stop-color="#00b8ff"/><stop offset="0.571" stop-color="#00a8ff"/><stop offset="0.593" stop-color="#009cff"/><stop offset="0.615" stop-color="#0090ff"/><stop offset="0.636" stop-color="#0080ff"/><stop offset="0.658" stop-color="#0074ff"/><stop offset="0.680" stop-color="#005cff"/><stop offset="0.702" stop-color="#0040ff"/><stop offset="0.724" stop-color="#0028ff"/><stop offset="0.745" stop-color="#0010ff"/><stop offset="0.767" stop-color="#0000ff"/><stop offset="0.789" stop-color="#0000e3"/><stop offset="0.811" stop-color="#0000c4"/><stop offset="0.833" stop-color="#0000a4"/><stop offset="0.855" stop-color="#000084"/><stop offset="0.876" stop-color="#000080"/><stop offset="0.898" stop-color="#000080"/><stop offset="0.920" stop-color="#000080"/><stop offset="0.942" stop-color="#000080"/><stop offset="0.964" stop-color="#000080"/><stop offset="0.985" stop-color="#000080"/><stop offset="1.000" stop-color="#000080"/></linearGradient><linearGradient id="h73" x1="0" y1="1" x2="0" y2="0"><stop offset="0.000" stop-color="#e4ff13"/><stop offset="0.036" stop-color="#deff19"/><stop offset="0.073" stop-color="#d1ff26"/><stop offset="0.109" stop-color="#c7ff30"/><stop offset="0.145" stop-color="#baff3c"/><stop offset="0.182" stop-color="#b1ff46"/><stop offset="0.218" stop-color="#a0ff56"/><stop offset="0.255" stop-color="#90ff66"/><stop offset="0.291" stop-color="#80ff77"/><stop offset="0.327" stop-color="#6aff8d"/><stop offset="0.364" stop-color="#50ffa7"/><stop offset="0.400" stop-color="#39ffbe"/><stop offset="0.418" stop-color="#29ffce"/><stop offset="0.440" stop-color="#19ffde"/><stop offset="0.462" stop-color="#09f0ee"/><stop offset="0.484" stop-color="#00e0fb"/><stop offset="0.505" stop-color="#00d0ff"/><stop offset="0.527" stop-color="#00c4ff"/><stop offset="0.549" stop-color="#00b4ff"/><stop offset="0.571" stop-color="#00a8ff"/><stop offset="0.593" stop-color="#009cff"/><stop offset="0.615" stop-color="#008cff"/><stop offset="0.636" stop-color="#0080ff"/><stop offset="0.658" stop-color="#0070ff"/><stop offset="0.680" stop-color="#0058ff"/><stop offset="0.702" stop-color="#0040ff"/><stop offset="0.724" stop-color="#0024ff"/><stop offset="0.745" stop-color="#000cff"/><stop offset="0.767" stop-color="#0000ff"/><stop offset="0.789" stop-color="#0000e3"/><stop offset="0.811" stop-color="#0000c4"/><stop offset="0.833" stop-color="#0000a4"/><stop offset="0.855" stop-color="#000084"/><stop offset="0.876" stop-color="#000080"/><stop offset="0.898" stop-color="#000080"/><stop offset="0.920" stop-color="#000080"/><stop offset="0.942" stop-color="#000080"/><stop offset="0.964" stop-color="#000080"/><stop offset="0.985" stop-color="#000080"/><stop offset="1.000" stop-color="#000080"/></linearGradient><linearGradient id="h74" x1="0" y1="1" x2="0" y2="0"><stop offset="0.000" stop-color="#e4ff13"/><stop offset="0.036" stop-color="#deff19"/><stop offset="0.073" stop-color="#d1ff26"/><stop offset="0.109" stop-color="#c7ff30"/><stop offset="0.145" stop-color="#baff3c"/><stop offset="0.182" stop-color="#adff49"/><stop offset="0.218" stop-color="#a0ff56"/><stop offset="0.255" stop-color="#90ff66"/><stop offset="0.291" stop-color="#7dff7a"/><stop offset="0.327" stop-color="#66ff90"/><stop offset="0.364" stop-color="#50ffa7"/><stop offset="0.400" stop-color="#36ffc1"/><stop offset="0.418" stop-color="#29ffce"/><stop offset="0.440" stop-color="#19ffde"/><stop offset="0.462" stop-color="#09f0ee"/><stop offset="0.484" stop-color="#00dcfe"/><stop offset="0.505" stop-color="#00d0ff"/><stop offset="0.527" stop-color="#00c4ff"/><stop offset="0.549" stop-color="#00b4ff"/><stop offset="0.571" stop-color="#00a8ff"/><stop offset="0.593" stop-color="#0098ff"/><stop offset="0.615" stop-color="#008cff"/><stop offset="0.636" stop-color="#007cff"/><stop offset="0.658" stop-color="#006cff"/><stop offset="0.680" stop-color="#0054ff"/><stop offset="0.702" stop-color="#003cff"/><stop offset="0.724" stop-color="#0020ff"/><stop offset="0.745" stop-color="#0008ff"/><stop offset="0.767" stop-color="#0000ff"/><stop offset="0.789" stop-color="#0000df"/><stop offset="0.811" stop-color="#0000bf"/><stop offset="0.833" stop-color="#0000a4"/><stop offset="0.855" stop-color="#000084"/><stop offset="0.876" stop-color="#000080"/><stop offset="0.898" stop-color="#000080"/><stop offset="0.920" stop-color="#000080"/><stop offset="0.942" stop-color="#000080"/><stop offset="0.964" stop-color="#000080"/><stop offset="0.985" stop-color="#000080"/><stop offset="1.000" stop-color="#000080"/></linearGradient><linearGradient id="h75" x1="0" y1="1" x2="0" y2="0"><stop offset="0.000" stop-color="#e4ff13"/><stop offset="0.036" stop-color="#deff19"/><stop offset="0.073" stop-color="#d1ff26"/><stop offset="0.109" stop-color="#c7ff30"/><stop offset="0.145" stop-color="#baff3c"/><stop offset="0.182" stop-color="#adff49"/><stop offset="0.218" stop-color="#a0ff56"/><stop offset="0.255" stop-color="#8dff6a"/><stop offset="0.291" stop-color="#7dff7a"/><stop offset="0.327" stop-color="#66ff90"/><stop offset="0.364" stop-color="#50ffa7"/><stop offset="0.400" stop-color="#36ffc1"/><stop offset="0.418" stop-color="#29ffce"/><stop offset="0.440" stop-color="#16ffe1"/><stop offset="0.462" stop-color="#06ecf1"/><stop offset="0.484" stop-color="#00dcfe"/><stop offset="0.505" stop-color="#00d0ff"/><stop offset="0.527" stop-color="#00c0ff"/><stop offset="0.549" stop-color="#00b4ff"/><stop offset="0.571" stop-color="#00a4ff"/><stop offset="0.593" stop-color="#0098ff"/><stop offset="0.615" stop-color="#0088ff"/><stop offset="0.636" stop-color="#007cff"/><stop offset="0.658" stop-color="#0068ff"/><stop offset="0.680" stop-color="#0050ff"/><stop offset="0.702" stop-color="#0038ff"/><stop offset="0.724" stop-color="#0020ff"/><stop offset="0.745" stop-color="#0008ff"/><stop offset="0.767" stop-color="#0000fa"/><stop offset="0.789" stop-color="#0000df"/><stop offset="0.811" stop-color="#0000bf"/><stop offset="0.833" stop-color="#00009f"/><stop offset="0.855" stop-color="#000080"/><stop offset="0.876" stop-color="#000080"/><stop offset="0.898" stop-color="#000080"/><stop offset="0.920" stop-color="#000080"/><stop offset="0.942" stop-color="#000080"/><stop offset="0.964" stop-color="#000080"/><stop offset="0.985" stop-color="#000080"/><stop offset="1.000" stop-color="#000080"/></linearGradient><linearGradient id="h76" x1="0" y1="1" x2="0" y2="0"><stop offset="0.000" stop-color="#e4ff13"/><stop offset="0.036" stop-color="#deff19"/><stop offset="0.073" stop-color="#d1ff26"/><stop offset="0.109" stop-color="#c7ff30"/><stop offset="0.145" stop-color="#baff3c"/><stop offset="0.182" stop-color="#adff49"/><stop offset="0.218" stop-color="#9dff5a"/><stop offset="0.255" stop-color="#8dff6a"/><stop offset="0.291" stop-color="#7dff7a"/><stop offset="0.327" stop-color="#66ff90"/><stop offset="0.364" stop-color="#4dffaa"/><stop offset="0.400" stop-color="#36ffc1"/><stop offset="0.418" stop-color="#26ffd1"/><stop offset="0.440" stop-color="#16ffe1"/><stop offset="0.462" stop-color="#06ecf1"/><stop offset="0.484" stop-color="#00dcfe"/><stop offset="0.505" stop-color="#00ccff"/><stop offset="0.527" stop-color="#00c0ff"/><stop offset="0.549" stop-color="#00b0ff"/><stop offset="0.571" stop-color="#00a4ff"/><stop offset="0.593" stop-color="#0094ff"/><stop offset="0.615" stop-color="#0088ff"/><stop offset="0.636" stop-color="#007cff"/><stop offset="0.658" stop-color="#0068ff"/><stop offset="0.680" stop-color="#004cff"/><stop offset="0.702" stop-color="#0034ff"/><stop offset="0.724" stop-color="#001cff"/><stop offset="0.745" stop-color="#0004ff"/><stop offset="0.767" stop-color="#0000fa"/><stop offset="0.789" stop-color="#0000da"/><stop offset="0.811" stop-color="#0000bb"/><stop offset="0.833" stop-color="#00009f"/><stop offset="0.855" stop-color="#000080"/><stop offset="0.876" stop-color="#000080"/><stop offset="0.898" stop-color="#000080"/><stop offset="0.920" stop-color="#000080"/><stop offset="0.942" stop-color="#000080"/><stop offset="0.964" stop-color="#000080"/><stop offset="0.985" stop-color="#000080"/><stop offset="1.000" stop-color="#000080"/></linearGradient><linearGradient id="h77" x1="0" y1="1" x2="0" y2="0"><stop offset="0.000" stop-color="#e4ff13"/><stop offset="0.036" stop-color="#deff19"/><stop offset="0.073" stop-color="#d1ff26"/><stop offset="0.109" stop-color="#c7ff30"/><stop offset="0.145" stop-color="#baff3c"/><stop offset="0.182" stop-color="#adff49"/><stop offset="0.218" stop-color="#9dff5a"/><stop offset="0.255" stop-color="#8dff6a"/><stop offset="0.291" stop-color="#7dff7a"/><stop offset="0.327" stop-color="#66ff90"/><stop offset="0.364" stop-color="#4dffaa"/><stop offset="0.400" stop-color="#33ffc4"/><stop offset="0.418" stop-color="#26ffd1"/><stop offset="0.440" stop-color="#16ffe1"/><stop offset="0.462" stop-color="#02e8f4"/><stop offset="0.484" stop-color="#00d8ff"/><stop offset="0.505" stop-color="#00ccff"/><stop offset="0.527" stop-color="#00bcff"/><stop offset="0.549" stop-color="#00b0ff"/><stop offset="0.571" stop-color="#00a0ff"/><stop offset="0.593" stop-color="#0094ff"/><stop offset="0.615" stop-color="#0088ff"/><stop offset="0.636" stop-color="#0078ff"/><stop offset="0.658" stop-color="#0064ff"/><stop offset="0.680" stop-color="#004cff"/><stop offset="0.702" stop-color="#0030ff"/><stop offset="0.724" stop-color="#0018ff"/><stop offset="0.745" stop-color="#0000ff"/><stop offset="0.767" stop-color="#0000f6"/><stop offset="0.789" stop-color="#0000d6"/><stop offset="0.811" stop-color="#0000bb"/><stop offset="0.833" stop-color="#00009f"/><stop offset="0.855" stop-color="#000080"/><stop offset="0.876" stop-color="#000080"/><stop offset="0.898" stop-color="#000080"/><stop offset="0.920" stop-color="#000080"/><stop offset="0.942" stop-color="#000080"/><stop offset="0.964" stop-color="#000080"/><stop offset="0.985" stop-color="#000080"/><stop offset="1.000" stop-color="#000080"/></linearGradient><linearGradient id="h78" x1="0" y1="1" x2="0" y2="0"><stop offset="0.000" stop-color="#e4ff13"/><stop offset="0.036" stop-color="#deff19"/><stop offset="0.073" stop-color="#d1ff26"/><stop offset="0.109" stop-color="#c7ff30"/><stop offset="0.145" stop-color="#baff3c"/><stop offset="0.182" stop-color="#adff49"/><stop offset="0.218" stop-color="#9dff5a"/><stop offset="0.255" stop-color="#8dff6a"/><stop offset="0.291" stop-color="#7dff7a"/><stop offset="0.327" stop-color="#63ff94"/><stop offset="0.364" stop-color="#4dffaa"/><stop offset="0.400" stop-color="#33ffc4"/><stop offset="0.418" stop-color="#23ffd4"/><stop offset="0.440" stop-color="#13fce4"/><stop offset="0.462" stop-color="#02e8f4"/><stop offset="0.484" stop-color="#00d8ff"/><stop offset="0.505" stop-color="#00ccff"/><stop offset="0.527" stop-color="#00bcff"/><stop offset="0.549" stop-color="#00b0ff"/><stop offset="0.571" stop-color="#00a0ff"/><stop offset="0.593" stop-color="#0094ff"/><stop offset="0.615" stop-color="#0084ff"/><stop offset="0.636" stop-color="#0078ff"/><stop offset="0.658" stop-color="#0060ff"/><stop offset="0.680" stop-color="#0048ff"/><stop offset="0.702" stop-color="#0030ff"/><stop offset="0.724" stop-color="#0018ff"/><stop offset="0.745" stop-color="#0000ff"/><stop offset="0.767" stop-color="#0000f1"/><stop offset="0.789" stop-color="#0000d6"/><stop offset="0.811" stop-color="#0000bb"/><stop offset="0.833" stop-color="#00009b"/><stop offset="0.855" stop-color="#000080"/><stop offset="0.876" stop-color="#000080"/><stop offset="0.898" stop-color="#000080"/><stop offset="0.920" stop-color="#000080"/><stop offset="0.942" stop-color="#000080"/><stop offset="0.964" stop-color="#000080"/><stop offset="0.985" stop-color="#000080"/><stop offset="1.000" stop-color="#000080"/></linearGradient><linearGradient id="h79" x1="0" y1="1" x2="0" y2="0"><stop offset="0.000" stop-color="#e4ff13"/><stop offset="0.036" stop-color="#deff19"/><stop offset="0.073" stop-color="#d1ff26"/><stop offset="0.109" stop-color="#c7ff30"/><stop offset="0.145" stop-color="#baff3c"/><stop offset="0.182" stop-color="#adff49"/><stop offset="0.218" stop-color="#9dff5a"/><stop offset="0.255" stop-color="#8dff6a"/><stop offset="0.291" stop-color="#7dff7a"/><stop offset="0.327" stop-color="#63ff94"/><stop offset="0.364" stop-color="#49ffad"/><stop offset="0.400" stop-color="#30ffc7"/><stop offset="0.418" stop-color="#23ffd4"/><stop offset="0.440" stop-color="#13fce4"/><stop offset="0.462" stop-color="#00e4f8"/><stop offset="0.484" stop-color="#00d8ff"/><stop offset="0.505" stop-color="#00c8ff"/><stop offset="0.527" stop-color="#00bcff"/><stop offset="0.549" stop-color="#00acff"/><stop offset="0.571" stop-color="#00a0ff"/><stop offset="0.593" stop-color="#0090ff"/><stop offset="0.615" stop-color="#0084ff"/><stop offset="0.636" stop-color="#0074ff"/><stop offset="0.658" stop-color="#005cff"/><stop offset="0.680" stop-color="#0044ff"/><stop offset="0.702" stop-color="#002cff"/><stop offset="0.724" stop-color="#0014ff"/><stop offset="0.745" stop-color="#0000ff"/><stop offset="0.767" stop-color="#0000f1"/><stop offset="0.789" stop-color="#0000d1"/><stop offset="0.811" stop-color="#0000b6"/><stop offset="0.833" stop-color="#00009b"/><stop offset="0.855" stop-color="#000080"/><stop offset="0.876" stop-color="#000080"/><stop offset="0.898" stop-color="#000080"/><stop offset="0.920" stop-color="#000080"/><stop offset="0.942" stop-color="#000080"/><stop offset="0.964" stop-color="#000080"/><stop offset="0.985" stop-color="#000080"/><stop offset="1.000" stop-color="#000080"/></linearGradient><linearGradient id="h80" x1="0" y1="1" x2="0" y2="0"><stop offset="0.000" stop-color="#e4ff13"/><stop offset="0.036" stop-color="#deff19"/><stop offset="0.073" stop-color="#d1ff26"/><stop offset="0.109" stop-color="#c7ff30"/><stop offset="0.145" stop-color="#baff3c"/><stop offset="0.182" stop-color="#adff49"/><stop offset="0.218" stop-color="#9dff5a"/><stop offset="0.255" stop-color="#8dff6a"/><stop offset="0.291" stop-color="#7aff7d"/><stop offset="0.327" stop-color="#63ff94"/><stop offset="0.364" stop-color="#49ffad"/><stop offset="0.400" stop-color="#30ffc7"/><stop offset="0.418" stop-color="#23ffd4"/><stop offset="0.440" stop-color="#0ff8e7"/><stop offset="0.462" stop-color="#00e4f8"/><stop offset="0.484" stop-color="#00d4ff"/><stop offset="0.505" stop-color="#00c8ff"/><stop offset="0.527" stop-color="#00b8ff"/><stop offset="0.549" stop-color="#00acff"/><stop offset="0.571" stop-color="#009cff"/><stop offset="0.593" stop-color="#0090ff"/><stop offset="0.615" stop-color="#0080ff"/><stop offset="0.636" stop-color="#0070ff"/><stop offset="0.658" stop-color="#0058ff"/><stop offset="0.680" stop-color="#0040ff"/><stop offset="0.702" stop-color="#0028ff"/><stop offset="0.724" stop-color="#0010ff"/><stop offset="0.745" stop-color="#0000ff"/><stop offset="0.767" stop-color="#0000ed"/><stop offset="0.789" stop-color="#0000d1"/><stop offset="0.811" stop-color="#0000b6"/><stop offset="0.833" stop-color="#00009b"/><stop offset="0.855" stop-color="#000080"/><stop offset="0.876" stop-color="#000080"/><stop offset="0.898" stop-color="#000080"/><stop offset="0.920" stop-color="#000080"/><stop offset="0.942" stop-color="#000080"/><stop offset="0.964" stop-color="#000080"/><stop offset="0.985" stop-color="#000080"/><stop offset="1.000" stop-color="#000080"/></linearGradient><linearGradient id="h81" x1="0" y1="1" x2="0" y2="0"><stop offset="0.000" stop-color="#e4ff13"/><stop offset="0.036" stop-color="#deff19"/><stop offset="0.073" stop-color="#d1ff26"/><stop offset="0.109" stop-color="#c7ff30"/><stop offset="0.145" stop-color="#baff3c"/><stop offset="0.182" stop-color="#adff49"/><stop offset="0.218" stop-color="#9dff5a"/><stop offset="0.255" stop-color="#8dff6a"/><stop offset="0.291" stop-color="#7aff7d"/><stop offset="0.327" stop-color="#63ff94"/><stop offset="0.364" stop-color="#49ffad"/><stop offset="0.400" stop-color="#30ffc7"/><stop offset="0.418" stop-color="#1fffd7"/><stop offset="0.440" stop-color="#0ff8e7"/><stop offset="0.462" stop-color="#00e4f8"/><stop offset="0.484" stop-color="#00d4ff"/><stop offset="0.505" stop-color="#00c4ff"/><stop offset="0.527" stop-color="#00b8ff"/><stop offset="0.549" stop-color="#00a8ff"/><stop offset="0.571" stop-color="#009cff"/><stop offset="0.593" stop-color="#008cff"/><stop offset="0.615" stop-color="#007cff"/><stop offset="0.636" stop-color="#006cff"/><stop offset="0.658" stop-color="#0054ff"/><stop offset="0.680" stop-color="#003cff"/><stop offset="0.702" stop-color="#0024ff"/><stop offset="0.724" stop-color="#0010ff"/><stop offset="0.745" stop-color="#0000ff"/><stop offset="0.767" stop-color="#0000ed"/><stop offset="0.789" stop-color="#0000d1"/><stop offset="0.811" stop-color="#0000b2"/><stop offset="0.833" stop-color="#000096"/><stop offset="0.855" stop-color="#000080"/><stop offset="0.876" stop-color="#000080"/><stop offset="0.898" stop-color="#000080"/><stop offset="0.920" stop-color="#000080"/><stop offset="0.942" stop-color="#000080"/><stop offset="0.964" stop-color="#000080"/><stop offset="0.985" stop-color="#000080"/><stop offset="1.000" stop-color="#000080"/></linearGradient><linearGradient id="h82" x1="0" y1="1" x2="0" y2="0"><stop offset="0.000" stop-color="#e4ff13"/><stop offset="0.036" stop-color="#deff19"/><stop offset="0.073" stop-color="#d1ff26"/><stop offset="0.109" stop-color="#c7ff30"/><stop offset="0.145" stop-color="#baff3c"/><stop offset="0.182" stop-color="#adff49"/><stop offset="0.218" stop-color="#9dff5a"/><stop offset="0.255" stop-color="#8aff6d"/><stop offset="0.291" stop-color="#7aff7d"/><stop offset="0.327" stop-color="#60ff97"/><stop offset="0.364" stop-color="#49ffad"/><stop offset="0.400" stop-color="#2cffca"/><stop offset="0.418" stop-color="#1fffd7"/><stop offset="0.440" stop-color="#0cf4eb"/><stop offset="0.462" stop-color="#00e0fb"/><stop offset="0.484" stop-color="#00d4ff"/><stop offset="0.505" stop-color="#00c4ff"/><stop offset="0.527" stop-color="#00b4ff"/><stop offset="0.549" stop-color="#00a8ff"/><stop offset="0.571" stop-color="#0098ff"/><stop offset="0.593" stop-color="#0088ff"/><stop offset="0.615" stop-color="#007cff"/><stop offset="0.636" stop-color="#0068ff"/><stop offset="0.658" stop-color="#0050ff"/><stop offset="0.680" stop-color="#0038ff"/><stop offset="0.702" stop-color="#0024ff"/><stop offset="0.724" stop-color="#000cff"/><stop offset="0.745" stop-color="#0000ff"/><stop offset="0.767" stop-color="#0000e8"/><stop offset="0.789" stop-color="#0000cd"/><stop offset="0.811" stop-color="#0000b2"/><stop offset="0.833" stop-color="#000096"/><stop offset="0.855" stop-color="#000080"/><stop offset="0.876" stop-color="#000080"/><stop offset="0.898" stop-color="#000080"/><stop offset="0.920" stop-color="#000080"/><stop offset="0.942" stop-color="#000080"/><stop offset="0.964" stop-color="#000080"/><stop offset="0.985" stop-color="#000080"/><stop offset="1.000" stop-color="#000080"/></linearGradient><linearGradient id="h83" x1="0" y1="1" x2="0" y2="0"><stop offset="0.000" stop-color="#e4ff13"/><stop offset="0.036" stop-color="#deff19"/><stop offset="0.073" stop-color="#d1ff26"/><stop offset="0.109" stop-color="#c7ff30"/><stop offset="0.145" stop-color="#baff3c"/><stop offset="0.182" stop-color="#adff49"/><stop offset="0.218" stop-color="#9dff5a"/><stop offset="0.255" stop-color="#8aff6d"/><stop offset="0.291" stop-color="#7aff7d"/><stop offset="0.327" stop-color="#60ff97"/><stop offset="0.364" stop-color="#46ffb1"/><stop offset="0.400" stop-color="#2cffca"/><stop offset="0.418" stop-color="#1cffdb"/><stop offset="0.440" stop-color="#0cf4eb"/><stop offset="0.462" stop-color="#00e0fb"/><stop offset="0.484" stop-color="#00d0ff"/><stop offset="0.505" stop-color="#00c0ff"/><stop offset="0.527" stop-color="#00b4ff"/><stop offset="0.549" stop-color="#00a4ff"/><stop offset="0.571" stop-color="#0094ff"/><stop offset="0.593" stop-color="#0088ff"/><stop offset="0.615" stop-color="#0078ff"/><stop offset="0.636" stop-color="#0064ff"/><stop offset="0.658" stop-color="#004cff"/><stop offset="0.680" stop-color="#0034ff"/><stop offset="0.702" stop-color="#0020ff"/><stop offset="0.724" stop-color="#0008ff"/><stop offset="0.745" stop-color="#0000ff"/><stop offset="0.767" stop-color="#0000e8"/><stop offset="0.789" stop-color="#0000cd"/><stop offset="0.811" stop-color="#0000b2"/><stop offset="0.833" stop-color="#000096"/><stop offset="0.855" stop-color="#000080"/><stop offset="0.876" stop-color="#000080"/><stop offset="0.898" stop-color="#000080"/><stop offset="0.920" stop-color="#000080"/><stop offset="0.942" stop-color="#000080"/><stop offset="0.964" stop-color="#000080"/><stop offset="0.985" stop-color="#000080"/><stop offset="1.000" stop-color="#000080"/></linearGradient><linearGradient id="h84" x1="0" y1="1" x2="0" y2="0"><stop offset="0.000" stop-color="#e4ff13"/><stop offset="0.036" stop-color="#deff19"/><stop offset="0.073" stop-color="#d1ff26"/><stop offset="0.109" stop-color="#c7ff30"/><stop offset="0.145" stop-color="#baff3c"/><stop offset="0.182" stop-color="#adff49"/><stop offset="0.218" stop-color="#9dff5a"/><stop offset="0.255" stop-color="#8aff6d"/><stop offset="0.291" stop-color="#7aff7d"/><stop offset="0.327" stop-color="#60ff97"/><stop offset="0.364" stop-color="#46ffb1"/><stop offset="0.400" stop-color="#2cffca"/><stop offset="0.418" stop-color="#1cffdb"/><stop offset="0.440" stop-color="#09f0ee"/><stop offset="0.462" stop-color="#00e0fb"/><stop offset="0.484" stop-color="#00d0ff"/><stop offset="0.505" stop-color="#00c0ff"/><stop offset="0.527" stop-color="#00b0ff"/><stop offset="0.549" stop-color="#00a0ff"/><stop offset="0.571" stop-color="#0094ff"/><stop offset="0.593" stop-color="#0084ff"/><stop offset="0.615" stop-color="#0074ff"/><stop offset="0.636" stop-color="#0060ff"/><stop offset="0.658" stop-color="#0048ff"/><stop offset="0.680" stop-color="#0034ff"/><stop offset="0.702" stop-color="#001cff"/><stop offset="0.724" stop-color="#0008ff"/><stop offset="0.745" stop-color="#0000ff"/><stop offset="0.767" stop-color="#0000e3"/><stop offset="0.789" stop-color="#0000c8"/><stop offset="0.811" stop-color="#0000ad"/><stop offset="0.833" stop-color="#000092"/><stop offset="0.855" stop-color="#000080"/><stop offset="0.876" stop-color="#000080"/><stop offset="0.898" stop-color="#000080"/><stop offset="0.920" stop-color="#000080"/><stop offset="0.942" stop-color="#000080"/><stop offset="0.964" stop-color="#000080"/><stop offset="0.985" stop-color="#000080"/><stop offset="1.000" stop-color="#000080"/></linearGradient><linearGradient id="h85" x1="0" y1="1" x2="0" y2="0"><stop offset="0.000" stop-color="#e4ff13"/><stop offset="0.036" stop-color="#deff19"/><stop offset="0.073" stop-color="#d1ff26"/><stop offset="0.109" stop-color="#c7ff30"/><stop offset="0.145" stop-color="#baff3c"/><stop offset="0.182" stop-color="#adff49"/><stop offset="0.218" stop-color="#9aff5d"/><stop offset="0.255" stop-color="#8aff6d"/><stop offset="0.291" stop-color="#77ff80"/><stop offset="0.327" stop-color="#60ff97"/><stop offset="0.364" stop-color="#46ffb1"/><stop offset="0.400" stop-color="#29ffce"/><stop offset="0.418" stop-color="#1cffdb"/><stop offset="0.440" stop-color="#09f0ee"/><stop offset="0.462" stop-color="#00dcfe"/><stop offset="0.484" stop-color="#00ccff"/><stop offset="0.505" stop-color="#00c0ff"/><stop offset="0.527" stop-color="#00b0ff"/><stop offset="0.549" stop-color="#00a0ff"/><stop offset="0.571" stop-color="#0090ff"/><stop offset="0.593" stop-color="#0080ff"/><stop offset="0.615" stop-color="#0070ff"/><stop offset="0.636" stop-color="#005cff"/><stop offset="0.658" stop-color="#0044ff"/><stop offset="0.680" stop-color="#0030ff"/><stop offset="0.702" stop-color="#0018ff"/><stop offset="0.724" stop-color="#0004ff"/><stop offset="0.745" stop-color="#0000ff"/><stop offset="0.767" stop-color="#0000e3"/><stop offset="0.789" stop-color="#0000c8"/><stop offset="0.811" stop-color="#0000ad"/><stop offset="0.833" stop-color="#000092"/><stop offset="0.855" stop-color="#000080"/><stop offset="0.876" stop-color="#000080"/><stop offset="0.898" stop-color="#000080"/><stop offset="0.920" stop-color="#000080"/><stop offset="0.942" stop-color="#000080"/><stop offset="0.964" stop-color="#000080"/><stop offset="0.985" stop-color="#000080"/><stop offset="1.000" stop-color="#000080"/></linearGradient><linearGradient id="h86" x1="0" y1="1" x2="0" y2="0"><stop offset="0.000" stop-color="#e4ff13"/><stop offset="0.036" stop-color="#deff19"/><stop offset="0.073" stop-color="#d1ff26"/><stop offset="0.109" stop-color="#c7ff30"/><stop offset="0.145" stop-color="#baff3c"/><stop offset="0.182" stop-color="#adff49"/><stop offset="0.218" stop-color="#9aff5d"/><stop offset="0.255" stop-color="#8aff6d"/><stop offset="0.291" stop-color="#77ff80"/><stop offset="0.327" stop-color="#5dff9a"/><stop offset="0.364" stop-color="#46ffb1"/><stop offset="0.400" stop-color="#29ffce"/><stop offset="0.418" stop-color="#19ffde"/><stop offset="0.440" stop-color="#06ecf1"/><stop offset="0.462" stop-color="#00dcfe"/><stop offset="0.484" stop-color="#00ccff"/><stop offset="0.505" stop-color="#00bcff"/><stop offset="0.527" stop-color="#00acff"/><stop offset="0.549" stop-color="#009cff"/><stop offset="0.571" stop-color="#008cff"/><stop offset="0.593" stop-color="#007cff"/><stop offset="0.615" stop-color="#006cff"/><stop offset="0.636" stop-color="#0058ff"/><stop offset="0.658" stop-color="#0040ff"/><stop offset="0.680" stop-color="#002cff"/><stop offset="0.702" stop-color="#0018ff"/><stop offset="0.724" stop-color="#0000ff"/><stop offset="0.745" stop-color="#0000fa"/><stop offset="0.767" stop-color="#0000df"/><stop offset="0.789" stop-color="#0000c4"/><stop offset="0.811" stop-color="#0000ad"/><stop offset="0.833" stop-color="#000092"/><stop offset="0.855" stop-color="#000080"/><stop offset="0.876" stop-color="#000080"/><stop offset="0.898" stop-color="#000080"/><stop offset="0.920" stop-color="#000080"/><stop offset="0.942" stop-color="#000080"/><stop offset="0.964" stop-color="#000080"/><stop offset="0.985" stop-color="#000080"/><stop offset="1.000" stop-color="#000080"/></linearGradient><linearGradient id="h87" x1="0" y1="1" x2="0" y2="0"><stop offset="0.000" stop-color="#e4ff13"/><stop offset="0.036" stop-color="#deff19"/><stop offset="0.073" stop-color="#d1ff26"/><stop offset="0.109" stop-color="#c7ff30"/><stop offset="0.145" stop-color="#baff3c"/><stop offset="0.182" stop-color="#adff49"/><stop offset="0.218" stop-color="#9aff5d"/><stop offset="0.255" stop-color="#8aff6d"/><stop offset="0.291" stop-color="#77ff80"/><stop offset="0.327" stop-color="#5dff9a"/><stop offset="0.364" stop-color="#43ffb4"/><stop offset="0.400" stop-color="#29ffce"/><stop offset="0.418" stop-color="#19ffde"/><stop offset="0.440" stop-color="#06ecf1"/><stop offset="0.462" stop-color="#00d8ff"/><stop offset="0.484" stop-color="#00c8ff"/><stop offset="0.505" stop-color="#00b8ff"/><stop offset="0.527" stop-color="#00acff"/><stop offset="0.549" stop-color="#009cff"/><stop offset="0.571" stop-color="#008cff"/><stop offset="0.593" stop-color="#007cff"/><stop offset="0.615" stop-color="#0068ff"/><stop offset="0.636" stop-color="#0054ff"/><stop offset="0.658" stop-color="#0040ff"/><stop offset="0.680" stop-color="#0028ff"/><stop offset="0.702" stop-color="#0014ff"/><stop offset="0.724" stop-color="#0000ff"/><stop offset="0.745" stop-color="#0000fa"/><stop offset="0.767" stop-color="#0000df"/><stop offset="0.789" stop-color="#0000c4"/><stop offset="0.811" stop-color="#0000a8"/><stop offset="0.833" stop-color="#00008d"/><stop offset="0.855" stop-color="#000080"/><stop offset="0.876" stop-color="#000080"/><stop offset="0.898" stop-color="#000080"/><stop offset="0.920" stop-color="#000080"/><stop offset="0.942" stop-color="#000080"/><stop offset="0.964" stop-color="#000080"/><stop offset="0.985" stop-color="#000080"/><stop offset="1.000" stop-color="#000080"/></linearGradient><linearGradient id="h88" x1="0" y1="1" x2="0" y2="0"><stop offset="0.000" stop-color="#e4ff13"/><stop offset="0.036" stop-color="#deff19"/><stop offset="0.073" stop-color="#d1ff26"/><stop offset="0.109" stop-color="#c4ff33"/><stop offset="0.145" stop-color="#baff3c"/><stop offset="0.182" stop-color="#adff49"/><stop offset="0.218" stop-color="#9aff5d"/><stop offset="0.255" stop-color="#8aff6d"/><stop offset="0.291" stop-color="#77ff80"/><stop offset="0.327" stop-color="#5dff9a"/><stop offset="0.364" stop-color="#43ffb4"/><stop offset="0.400" stop-color="#26ffd1"/><stop offset="0.418" stop-color="#16ffe1"/><stop offset="0.440" stop-color="#02e8f4"/><stop offset="0.462" stop-color="#00d8ff"/><stop offset="0.484" stop-color="#00c8ff"/><stop offset="0.505" stop-color="#00b8ff"/><stop offset="0.527" stop-color="#00a8ff"/><stop offset="0.549" stop-color="#0098ff"/><stop offset="0.571" stop-color="#0088ff"/><stop offset="0.593" stop-color="#0078ff"/><stop offset="0.615" stop-color="#0064ff"/><stop offset="0.636" stop-color="#0050ff"/><stop offset="0.658" stop-color="#003cff"/><stop offset="0.680" stop-color="#0028ff"/><stop offset="0.702" stop-color="#0014ff"/><stop offset="0.724" stop-color="#0000ff"/><stop offset="0.745" stop-color="#0000f6"/><stop offset="0.767" stop-color="#0000da"/><stop offset="0.789" stop-color="#0000c4"/><stop offset="0.811" stop-color="#0000a8"/><stop offset="0.833" stop-color="#00008d"/><stop offset="0.855" stop-color="#000080"/><stop offset="0.876" stop-color="#000080"/><stop offset="0.898" stop-color="#000080"/><stop offset="0.920" stop-color="#000080"/><stop offset="0.942" stop-color="#000080"/><stop offset="0.964" stop-color="#000080"/><stop offset="0.985" stop-color="#000080"/><stop offset="1.000" stop-color="#000080"/></linearGradient><linearGradient id="h89" x1="0" y1="1" x2="0" y2="0"><stop offset="0.000" stop-color="#e4ff13"/><stop offset="0.036" stop-color="#deff19"/><stop offset="0.073" stop-color="#d1ff26"/><stop offset="0.109" stop-color="#c4ff33"/><stop offset="0.145" stop-color="#baff3c"/><stop offset="0.182" stop-color="#aaff4d"/><stop offset="0.218" stop-color="#9aff5d"/><stop offset="0.255" stop-color="#8aff6d"/><stop offset="0.291" stop-color="#77ff80"/><stop offset="0.327" stop-color="#5dff9a"/><stop offset="0.364" stop-color="#43ffb4"/><stop offset="0.400" stop-color="#26ffd1"/><stop offset="0.418" stop-color="#16ffe1"/><stop offset="0.440" stop-color="#02e8f4"/><stop offset="0.462" stop-color="#00d8ff"/><stop offset="0.484" stop-color="#00c8ff"/><stop offset="0.505" stop-color="#00b4ff"/><stop offset="0.527" stop-color="#00a4ff"/><stop offset="0.549" stop-color="#0094ff"/><stop offset="0.571" stop-color="#0084ff"/><stop offset="0.593" stop-color="#0074ff"/><stop offset="0.615" stop-color="#0060ff"/><stop offset="0.636" stop-color="#004cff"/><stop offset="0.658" stop-color="#0038ff"/><stop offset="0.680" stop-color="#0024ff"/><stop offset="0.702" stop-color="#0010ff"/><stop offset="0.724" stop-color="#0000ff"/><stop offset="0.745" stop-color="#0000f6"/><stop offset="0.767" stop-color="#0000da"/><stop offset="0.789" stop-color="#0000bf"/><stop offset="0.811" stop-color="#0000a8"/><stop offset="0.833" stop-color="#00008d"/><stop offset="0.855" stop-color="#000080"/><stop offset="0.876" stop-color="#000080"/><stop offset="0.898" stop-color="#000080"/><stop offset="0.920" stop-color="#000080"/><stop offset="0.942" stop-color="#000080"/><stop offset="0.964" stop-color="#000080"/><stop offset="0.985" stop-color="#000080"/><stop offset="1.000" stop-color="#000080"/></linearGradient><linearGradient id="h90" x1="0" y1="1" x2="0" y2="0"><stop offset="0.000" stop-color="#e4ff13"/><stop offset="0.036" stop-color="#deff19"/><stop offset="0.073" stop-color="#d1ff26"/><stop offset="0.109" stop-color="#c4ff33"/><stop offset="0.145" stop-color="#b7ff40"/><stop offset="0.182" stop-color="#aaff4d"/><stop offset="0.218" stop-color="#9aff5d"/><stop offset="0.255" stop-color="#87ff70"/><stop offset="0.291" stop-color="#73ff83"/><stop offset="0.327" stop-color="#5aff9d"/><stop offset="0.364" stop-color="#43ffb4"/><stop offset="0.400" stop-color="#23ffd4"/><stop offset="0.418" stop-color="#13fce4"/><stop offset="0.440" stop-color="#00e4f8"/><stop offset="0.462" stop-color="#00d4ff"/><stop offset="0.484" stop-color="#00c4ff"/><stop offset="0.505" stop-color="#00b4ff"/><stop offset="0.527" stop-color="#00a4ff"/><stop offset="0.549" stop-color="#0090ff"/><stop offset="0.571" stop-color="#0080ff"/><stop offset="0.593" stop-color="#0070ff"/><stop offset="0.615" stop-color="#005cff"/><stop offset="0.636" stop-color="#0048ff"/><stop offset="0.658" stop-color="#0034ff"/><stop offset="0.680" stop-color="#0020ff"/><stop offset="0.702" stop-color="#000cff"/><stop offset="0.724" stop-color="#0000ff"/><stop offset="0.745" stop-color="#0000f1"/><stop offset="0.767" stop-color="#0000da"/><stop offset="0.789" stop-color="#0000bf"/><stop offset="0.811" stop-color="#0000a4"/><stop offset="0.833" stop-color="#00008d"/><stop offset="0.855" stop-color="#000080"/><stop offset="0.876" stop-color="#000080"/><stop offset="0.898" stop-color="#000080"/><stop offset="0.920" stop-color="#000080"/><stop offset="0.942" stop-color="#000080"/><stop offset="0.964" stop-color="#000080"/><stop offset="0.985" stop-color="#000080"/><stop offset="1.000" stop-color="#000080"/></linearGradient><linearGradient id="h91" x1="0" y1="1" x2="0" y2="0"><stop offset="0.000" stop-color="#e4ff13"/><stop offset="0.036" stop-color="#deff19"/><stop offset="0.073" stop-color="#d1ff26"/><stop offset="0.109" stop-color="#c4ff33"/><stop offset="0.145" stop-color="#b7ff40"/><stop offset="0.182" stop-color="#aaff4d"/><stop offset="0.218" stop-color="#9aff5d"/><stop offset="0.255" stop-color="#87ff70"/><stop offset="0.291" stop-color="#73ff83"/><stop offset="0.327" stop-color="#5aff9d"/><stop offset="0.364" stop-color="#40ffb7"/><stop offset="0.400" stop-color="#23ffd4"/><stop offset="0.418" stop-color="#13fce4"/><stop offset="0.440" stop-color="#00e4f8"/><stop offset="0.462" stop-color="#00d4ff"/><stop offset="0.484" stop-color="#00c4ff"/><stop offset="0.505" stop-color="#00b0ff"/><stop offset="0.527" stop-color="#00a0ff"/><stop offset="0.549" stop-color="#0090ff"/><stop offset="0.571" stop-color="#0080ff"/><stop offset="0.593" stop-color="#006cff"/><stop offset="0.615" stop-color="#005cff"/><stop offset="0.636" stop-color="#0048ff"/><stop offset="0.658" stop-color="#0034ff"/><stop offset="0.680" stop-color="#0020ff"/><stop offset="0.702" stop-color="#000cff"/><stop offset="0.724" stop-color="#0000ff"/><stop offset="0.745" stop-color="#0000f1"/><stop offset="0.767" stop-color="#0000d6"/><stop offset="0.789" stop-color="#0000bf"/><stop offset="0.811" stop-color="#0000a4"/><stop offset="0.833" stop-color="#000089"/><stop offset="0.855" stop-color="#000080"/><stop offset="0.876" stop-color="#000080"/><stop offset="0.898" stop-color="#000080"/><stop offset="0.920" stop-color="#000080"/><stop offset="0.942" stop-color="#000080"/><stop offset="0.964" stop-color="#000080"/><stop offset="0.985" stop-color="#000080"/><stop offset="1.000" stop-color="#000080"/></linearGradient><linearGradient id="cbg" x1="0" y1="1" x2="0" y2="0"><stop offset="0.0000" stop-color="#000080"/><stop offset="0.0156" stop-color="#000092"/><stop offset="0.0312" stop-color="#0000a4"/><stop offset="0.0469" stop-color="#0000b6"/><stop offset="0.0625" stop-color="#0000c8"/><stop offset="0.0781" stop-color="#0000da"/><stop offset="0.0938" stop-color="#0000ed"/><stop offset="0.1094" stop-color="#0000ff"/><stop offset="0.1250" stop-color="#0000ff"/><stop offset="0.1406" stop-color="#0010ff"/><stop offset="0.1562" stop-color="#0020ff"/><stop offset="0.1719" stop-color="#0030ff"/><stop offset="0.1875" stop-color="#0040ff"/><stop offset="0.2031" stop-color="#0050ff"/><stop offset="0.2188" stop-color="#0060ff"/><stop offset="0.2344" stop-color="#0070ff"/><stop offset="0.2500" stop-color="#0080ff"/><stop offset="0.2656" stop-color="#0090ff"/><stop offset="0.2812" stop-color="#00a0ff"/><stop offset="0.2969" stop-color="#00b0ff"/><stop offset="0.3125" stop-color="#00c0ff"/><stop offset="0.3281" stop-color="#00d0ff"/><stop offset="0.3438" stop-color="#00e0fb"/><stop offset="0.3594" stop-color="#09f0ee"/><stop offset="0.3750" stop-color="#16ffe1"/><stop offset="0.3906" stop-color="#23ffd4"/><stop offset="0.4062" stop-color="#30ffc7"/><stop offset="0.4219" stop-color="#3cffba"/><stop offset="0.4375" stop-color="#49ffad"/><stop offset="0.4531" stop-color="#56ffa0"/><stop offset="0.4688" stop-color="#63ff94"/><stop offset="0.4844" stop-color="#70ff87"/><stop offset="0.5000" stop-color="#7dff7a"/><stop offset="0.5156" stop-color="#8aff6d"/><stop offset="0.5312" stop-color="#97ff60"/><stop offset="0.5469" stop-color="#a4ff53"/><stop offset="0.5625" stop-color="#b1ff46"/><stop offset="0.5781" stop-color="#beff39"/><stop offset="0.5938" stop-color="#caff2c"/><stop offset="0.6094" stop-color="#d7ff1f"/><stop offset="0.6250" stop-color="#e4ff13"/><stop offset="0.6406" stop-color="#f1fc06"/><stop offset="0.6562" stop-color="#feed00"/><stop offset="0.6719" stop-color="#ffde00"/><stop offset="0.6875" stop-color="#ffd000"/><stop offset="0.7031" stop-color="#ffc100"/><stop offset="0.7188" stop-color="#ffb200"/><stop offset="0.7344" stop-color="#ffa300"/><stop offset="0.7500" stop-color="#ff9400"/><stop offset="0.7656" stop-color="#ff8600"/><stop offset="0.7812" stop-color="#ff7700"/><stop offset="0.7969" stop-color="#ff6800"/><stop offset="0.8125" stop-color="#ff5900"/><stop offset="0.8281" stop-color="#ff4a00"/><stop offset="0.8438" stop-color="#ff3b00"/><stop offset="0.8594" stop-color="#ff2d00"/><stop offset="0.8750" stop-color="#ff1e00"/><stop offset="0.8906" stop-color="#fa0f00"/><stop offset="0.9062" stop-color="#e80000"/><stop offset="0.9219" stop-color="#d60000"/><stop offset="0.9375" stop-color="#c40000"/><stop offset="0.9531" stop-color="#b20000"/><stop offset="0.9688" stop-color="#9f0000"/><stop offset="0.9844" stop-color="#8d0000"/><stop offset="1.0000" stop-color="#800000"/></linearGradient></defs><rect width="2000" height="1100" fill="#fff"/><text x="547.08" y="41.00" font-size="25.44" textLength="16.17" lengthAdjust="spacingAndGlyphs">B</text><text x="563.43" y="41.00" font-size="25.44" textLength="16.50" lengthAdjust="spacingAndGlyphs">A</text><text x="579.97" y="41.00" font-size="25.44" textLength="15.43" lengthAdjust="spacingAndGlyphs">S</text><text x="595.26" y="41.00" font-size="25.44" textLength="8.55" lengthAdjust="spacingAndGlyphs">-</text><text x="603.96" y="41.00" font-size="25.44" textLength="17.36" lengthAdjust="spacingAndGlyphs">R</text><text x="620.74" y="41.00" font-size="25.44" textLength="16.17" lengthAdjust="spacingAndGlyphs">B</text><text x="637.25" y="41.00" font-size="25.44" textLength="20.49" lengthAdjust="spacingAndGlyphs">M</text><text x="665.61" y="41.00" font-size="25.44" textLength="17.36" lengthAdjust="spacingAndGlyphs">R</text><text x="682.55" y="41.00" font-size="25.44" textLength="14.30" lengthAdjust="spacingAndGlyphs">e</text><text x="697.63" y="41.00" font-size="25.44" textLength="5.54" lengthAdjust="spacingAndGlyphs">l</text><text x="703.79" y="41.00" font-size="25.44" textLength="12.92" lengthAdjust="spacingAndGlyphs">a</text><text x="719.12" y="41.00" font-size="25.44" textLength="8.03" lengthAdjust="spacingAndGlyphs">t</text><text x="728.51" y="41.00" font-size="25.44" textLength="5.54" lengthAdjust="spacingAndGlyphs">i</text><text x="735.31" y="41.00" font-size="25.44" textLength="12.85" lengthAdjust="spacingAndGlyphs">v</text><text x="749.44" y="41.00" font-size="25.44" textLength="5.54" lengthAdjust="spacingAndGlyphs">i</text><text x="755.96" y="41.00" font-size="25.44" textLength="12.04" lengthAdjust="spacingAndGlyphs">s</text><text x="768.71" y="41.00" font-size="25.44" textLength="8.03" lengthAdjust="spacingAndGlyphs">t</text><text x="778.10" y="41.00" font-size="25.44" textLength="5.54" lengthAdjust="spacingAndGlyphs">i</text><text x="784.37" y="41.00" font-size="25.44" textLength="12.34" lengthAdjust="spacingAndGlyphs">c</text><text x="805.06" y="41.00" font-size="25.44" textLength="15.19" lengthAdjust="spacingAndGlyphs">E</text><text x="820.87" y="41.00" font-size="25.44" textLength="5.54" lengthAdjust="spacingAndGlyphs">l</text><text x="827.29" y="41.00" font-size="25.44" textLength="14.30" lengthAdjust="spacingAndGlyphs">e</text><text x="841.95" y="41.00" font-size="25.44" textLength="12.34" lengthAdjust="spacingAndGlyphs">c</text><text x="855.65" y="41.00" font-size="25.44" textLength="8.03" lengthAdjust="spacingAndGlyphs">t</text><text x="865.09" y="41.00" font-size="25.44" textLength="9.40" lengthAdjust="spacingAndGlyphs">r</text><text x="874.64" y="41.00" font-size="25.44" textLength="14.17" lengthAdjust="spacingAndGlyphs">o</text><text x="889.62" y="41.00" font-size="25.44" textLength="14.28" lengthAdjust="spacingAndGlyphs">n</text><text x="912.00" y="41.00" font-size="25.44" textLength="13.83" lengthAdjust="spacingAndGlyphs">F</text><text x="926.11" y="41.00" font-size="25.44" textLength="14.17" lengthAdjust="spacingAndGlyphs">o</text><text x="941.19" y="41.00" font-size="25.44" textLength="9.40" lengthAdjust="spacingAndGlyphs">r</text><text x="950.75" y="41.00" font-size="25.44" textLength="14.30" lengthAdjust="spacingAndGlyphs">e</text><text x="965.42" y="41.00" font-size="25.44" textLength="12.34" lengthAdjust="spacingAndGlyphs">c</text><text x="978.53" y="41.00" font-size="25.44" textLength="12.92" lengthAdjust="spacingAndGlyphs">a</text><text x="993.65" y="41.00" font-size="25.44" textLength="12.04" lengthAdjust="spacingAndGlyphs">s</text><text x="1006.40" y="41.00" font-size="25.44" textLength="8.03" lengthAdjust="spacingAndGlyphs">t</text><text x="1014.58" y="41.00" font-size="25.44" textLength="8.42" lengthAdjust="spacingAndGlyphs">,</text><text x="1031.10" y="41.00" font-size="25.44" textLength="5.54" lengthAdjust="spacingAndGlyphs">i</text><text x="1037.61" y="41.00" font-size="25.44" textLength="12.04" lengthAdjust="spacingAndGlyphs">s</text><text x="1050.15" y="41.00" font-size="25.44" textLength="12.04" lengthAdjust="spacingAndGlyphs">s</text><text x="1062.71" y="41.00" font-size="25.44" textLength="14.28" lengthAdjust="spacingAndGlyphs">u</text><text x="1077.83" y="41.00" font-size="25.44" textLength="14.30" lengthAdjust="spacingAndGlyphs">e</text><text x="1092.66" y="41.00" font-size="25.44" textLength="14.34" lengthAdjust="spacingAndGlyphs">d</text><text x="1115.31" y="41.00" font-size="25.44" textLength="12.92" lengthAdjust="spacingAndGlyphs">a</text><text x="1130.64" y="41.00" font-size="25.44" textLength="8.03" lengthAdjust="spacingAndGlyphs">t</text><text x="1147.52" y="41.00" font-size="25.44" textLength="13.82" lengthAdjust="spacingAndGlyphs">2</text><text x="1163.20" y="41.00" font-size="25.44" textLength="13.80" lengthAdjust="spacingAndGlyphs">3</text><text x="1178.21" y="41.00" font-size="25.44" textLength="7.15" lengthAdjust="spacingAndGlyphs">:</text><text x="1186.49" y="41.00" font-size="25.44" textLength="13.75" lengthAdjust="spacingAndGlyphs">1</text><text x="1201.74" y="41.00" font-size="25.44" textLength="14.11" lengthAdjust="spacingAndGlyphs">0</text><text x="1224.11" y="41.00" font-size="25.44" textLength="17.62" lengthAdjust="spacingAndGlyphs">U</text><text x="1241.19" y="41.00" font-size="25.44" textLength="15.79" lengthAdjust="spacingAndGlyphs">T</text><text x="1255.79" y="41.00" font-size="25.44" textLength="8.42" lengthAdjust="spacingAndGlyphs">,</text><text x="1272.38" y="41.00" font-size="25.44" textLength="13.75" lengthAdjust="spacingAndGlyphs">1</text><text x="1287.82" y="41.00" font-size="25.44" textLength="13.80" lengthAdjust="spacingAndGlyphs">3</text><text x="1310.15" y="41.00" font-size="25.44" textLength="20.49" lengthAdjust="spacingAndGlyphs">M</text><text x="1330.82" y="41.00" font-size="25.44" textLength="12.92" lengthAdjust="spacingAndGlyphs">a</text><text x="1346.15" y="41.00" font-size="25.44" textLength="9.40" lengthAdjust="spacingAndGlyphs">r</text><text x="1355.58" y="41.00" font-size="25.44" textLength="12.34" lengthAdjust="spacingAndGlyphs">c</text><text x="1369.12" y="41.00" font-size="25.44" textLength="14.34" lengthAdjust="spacingAndGlyphs">h</text><text x="1391.97" y="41.00" font-size="25.44" textLength="13.82" lengthAdjust="spacingAndGlyphs">2</text><text x="1407.46" y="41.00" font-size="25.44" textLength="14.11" lengthAdjust="spacingAndGlyphs">0</text><text x="1422.59" y="41.00" font-size="25.44" textLength="13.82" lengthAdjust="spacingAndGlyphs">2</text><text x="1438.08" y="41.00" font-size="25.44" textLength="14.11" lengthAdjust="spacingAndGlyphs">0</text><rect x="200" y="110" width="714" height="345" fill="#d3d3d3"/><g clip-path="url(#c1)"><rect x="200" y="391.75" width="714" height="63.25" fill="#000080"/><rect x="200.0" y="322.75" width="119.5" height="74.75" fill="url(#hb0)"/><rect x="319.0" y="322.75" width="119.5" height="74.75" fill="url(#hb1)"/><rect x="438.0" y="322.75" width="119.5" height="74.75" fill="url(#hb2)"/><rect x="557.0" y="322.75" width="119.5" height="74.75" fill="url(#hb3)"/><rect x="676.0" y="322.75" width="119.5" height="74.75" fill="url(#hb4)"/><rect x="795.0" y="322.75" width="119.5" height="74.75" fill="url(#hb5)"/><rect x="200" y="167.50" width="4.50" height="158.62" fill="url(#h0)"/><rect x="204" y="167.50" width="4.50" height="158.62" fill="url(#h1)"/><rect x="208" y="167.50" width="4.50" height="158.62" fill="url(#h2)"/><rect x="212" y="167.50" width="4.50" height="158.62" fill="url(#h3)"/><rect x="216" y="167.50" width="4.50" height="158.62" fill="url(#h4)"/><rect x="220" y="167.50" width="4.50" height="158.62" fill="url(#h5)"/><rect x="224" y="167.50" width="4.50" height="158.62" fill="url(#h6)"/><rect x="228" y="167.50" width="4.50" height="158.62" fill="url(#h7)"/><rect x="232" y="167.50" width="4.50" height="158.62" fill="url(#h8)"/><rect x="236" y="167.50" width="4.50" height="158.62" fill="url(#h9)"/><rect x="240" y="167.50" width="4.50" height="158.62" fill="url(#h10)"/><rect x="244" y="167.50" width="4.50" height="158.62" fill="url(#h11)"/><rect x="248" y="167.50" width="4.50" height="158.62" fill="url(#h12)"/><rect x="252" y="167.50" width="4.50" height="158.62" fill="url(#h13)"/><rect x="256" y="167.50" width="4.50" height="158.62" fill="url(#h14)"/><rect x="260" y="167.50" width="4.50" height="158.62" fill="url(#h15)"/><rect x="264" y="167.50" width="4.50" height="158.62" fill="url(#h16)"/><rect x="268" y="167.50" width="4.50" height="158.62" fill="url(#h17)"/><rect x="272" y="167.50" width="4.50" height="158.62" fill="url(#h18)"/><rect x="276" y="167.50" width="4.50" height="158.62" fill="url(#h19)"/><rect x="280" y="167.50" width="4.50" height="158.62" fill="url(#h20)"/><rect x="284" y="167.50" width="4.50" height="158.62" fill="url(#h21)"/><rect x="288" y="167.50" width="4.50" height="158.62" fill="url(#h22)"/><rect x="292" y="167.50" width="4.50" height="158.62" fill="url(#h23)"/><rect x="296" y="167.50" width="4.50" height="158.62" fill="url(#h24)"/><rect x="300" y="167.50" width="4.50" height="158.62" fill="url(#h25)"/><rect x="304" y="167.50" width="4.50" height="158.62" fill="url(#h26)"/><rect x="308" y="167.50" width="4.50" height="158.62" fill="url(#h27)"/><rect x="312" y="167.50" width="4.50" height="158.62" fill="url(#h28)"/><rect x="316" y="167.50" width="4.50" height="158.62" fill="url(#h29)"/><rect x="320" y="167.50" width="4.50" height="158.62" fill="url(#h30)"/><rect x="324" y="167.50" width="4.50" height="158.62" fill="url(#h31)"/><rect x="328" y="167.50" width="4.50" height="158.62" fill="url(#h32)"/><rect x="332" y="167.50" width="10.50" height="158.62" fill="url(#h33)"/><rect x="342" y="167.50" width="10.50" height="158.62" fill="url(#h34)"/><rect x="352" y="167.50" width="10.50" height="158.62" fill="url(#h35)"/><rect x="362" y="167.50" width="10.50" height="158.62" fill="url(#h36)"/><rect x="372" y="167.50" width="10.50" height="158.62" fill="url(#h37)"/><rect x="382" y="167.50" width="10.50" height="158.62" fill="url(#h38)"/><rect x="392" y="167.50" width="10.50" height="158.62" fill="url(#h39)"/><rect x="402" y="167.50" width="10.50" height="158.62" fill="url(#h40)"/><rect x="412" y="167.50" width="10.50" height="158.62" fill="url(#h41)"/><rect x="422" y="167.50" width="10.50" height="158.62" fill="url(#h42)"/><rect x="432" y="167.50" width="10.50" height="158.62" fill="url(#h43)"/><rect x="442" y="167.50" width="10.50" height="158.62" fill="url(#h44)"/><rect x="452" y="167.50" width="10.50" height="158.62" fill="url(#h45)"/><rect x="462" y="167.50" width="10.50" height="158.62" fill="url(#h46)"/><rect x="472" y="167.50" width="10.50" height="158.62" fill="url(#h47)"/><rect x="482" y="167.50" width="10.50" height="158.62" fill="url(#h48)"/><rect x="492" y="167.50" width="10.50" height="158.62" fill="url(#h49)"/><rect x="502" y="167.50" width="10.50" height="158.62" fill="url(#h50)"/><rect x="512" y="167.50" width="10.50" height="158.62" fill="url(#h51)"/><rect x="522" y="167.50" width="10.50" height="158.62" fill="url(#h52)"/><rect x="532" y="167.50" width="10.50" height="158.62" fill="url(#h53)"/><rect x="542" y="167.50" width="10.50" height="158.62" fill="url(#h54)"/><rect x="552" y="167.50" width="10.50" height="158.62" fill="url(#h55)"/><rect x="562" y="167.50" width="10.50" height="158.62" fill="url(#h56)"/><rect x="572" y="167.50" width="10.50" height="158.62" fill="url(#h57)"/><rect x="582" y="167.50" width="10.50" height="158.62" fill="url(#h58)"/><rect x="592" y="167.50" width="10.50" height="158.62" fill="url(#h59)"/><rect x="602" y="167.50" width="10.50" height="158.62" fill="url(#h60)"/><rect x="612" y="167.50" width="10.50" height="158.62" fill="url(#h61)"/><rect x="622" y="167.50" width="10.50" height="158.62" fill="url(#h62)"/><rect x="632" y="167.50" width="10.50" height="158.62" fill="url(#h63)"/><rect x="642" y="167.50" width="10.50" height="158.62" fill="url(#h64)"/><rect x="652" y="167.50" width="10.50" height="158.62" fill="url(#h65)"/><rect x="662" y="167.50" width="10.50" height="158.62" fill="url(#h66)"/><rect x="672" y="167.50" width="10.50" height="158.62" fill="url(#h67)"/><rect x="682" y="167.50" width="10.50" height="158.62" fill="url(#h68)"/><rect x="692" y="167.50" width="10.50" height="158.62" fill="url(#h69)"/><rect x="702" y="167.50" width="10.50" height="158.62" fill="url(#h70)"/><rect x="712" y="167.50" width="10.50" height="158.62" fill="url(#h71)"/><rect x="722" y="167.50" width="10.50" height="158.62" fill="url(#h72)"/><rect x="732" y="167.50" width="10.50" height="158.62" fill="url(#h73)"/><rect x="742" y="167.50" width="10.50" height="158.62" fill="url(#h74)"/><rect x="752" y="167.50" width="10.50" height="158.62" fill="url(#h75)"/><rect x="762" y="167.50" width="10.50" height="158.62" fill="url(#h76)"/><rect x="772" y="167.50" width="10.50" height="158.62" fill="url(#h77)"/><rect x="782" y="167.50" width="10.50" height="158.62" fill="url(#h78)"/><rect x="792" y="167.50" width="10.50" height="158.62" fill="url(#h79)"/><rect x="802" y="167.50" width="10.50" height="158.62" fill="url(#h80)"/><rect x="812" y="167.50" width="10.50" height="158.62" fill="url(#h81)"/><rect x="822" y="167.50" width="10.50" height="158.62" fill="url(#h82)"/><rect x="832" y="167.50" width="10.50" height="158.62" fill="url(#h83)"/><rect x="842" y="167.50" width="10.50" height="158.62" fill="url(#h84)"/><rect x="852" y="167.50" width="10.50" height="158.62" fill="url(#h85)"/><rect x="862" y="167.50" width="10.50" height="158.62" fill="url(#h86)"/><rect x="872" y="167.50" width="10.50" height="158.62" fill="url(#h87)"/><rect x="882" y="167.50" width="10.50" height="158.62" fill="url(#h88)"/><rect x="892" y="167.50" width="10.50" height="158.62" fill="url(#h89)"/><rect x="902" y="167.50" width="10.50" height="158.62" fill="url(#h90)"/><rect x="912" y="167.50" width="2.50" height="158.62" fill="url(#h91)"/></g><g clip-path="url(#c1)"><path d="M200.00,220.00C200.83,219.50 203.33,217.92 205.00,217.00C206.67,216.08 208.33,215.83 210.00,214.50C211.67,213.17 213.17,211.83 215.00,209.00C216.83,206.17 219.33,199.50 221.00,197.50C222.67,195.50 223.58,196.67 225.00,197.00C226.42,197.33 228.17,199.33 229.50,199.50C230.83,199.67 231.75,198.50 233.00,198.00C234.25,197.50 235.67,196.17 237.00,196.50C238.33,196.83 239.33,197.42 241.00,200.00C242.67,202.58 244.83,209.42 247.00,212.00C249.17,214.58 252.00,214.42 254.00,215.50C256.00,216.58 256.83,216.42 259.00,218.50C261.17,220.58 265.00,226.17 267.00,228.00C269.00,229.83 269.67,229.25 271.00,229.50C272.33,229.75 273.17,229.58 275.00,229.50C276.83,229.42 279.50,230.75 282.00,229.00C284.50,227.25 287.96,221.00 290.00,219.00C292.04,217.00 292.71,217.75 294.25,217.00C295.79,216.25 297.58,215.83 299.25,214.50C300.92,213.17 302.42,211.83 304.25,209.00C306.08,206.17 308.58,199.50 310.25,197.50C311.92,195.50 312.83,196.67 314.25,197.00C315.67,197.33 317.42,199.33 318.75,199.50C320.08,199.67 321.00,198.50 322.25,198.00C323.50,197.50 324.92,196.17 326.25,196.50C327.58,196.83 328.58,197.42 330.25,200.00C331.92,202.58 334.08,209.42 336.25,212.00C338.42,214.58 341.25,214.42 343.25,215.50C345.25,216.58 346.08,216.42 348.25,218.50C350.42,220.58 354.25,226.17 356.25,228.00C358.25,229.83 358.92,229.25 360.25,229.50C361.58,229.75 362.42,229.58 364.25,229.50C366.08,229.42 368.75,230.75 371.25,229.00C373.75,227.25 377.21,221.00 379.25,219.00C381.29,217.00 381.96,217.75 383.50,217.00C385.04,216.25 386.83,215.83 388.50,214.50C390.17,213.17 391.67,211.83 393.50,209.00C395.33,206.17 397.83,199.50 399.50,197.50C401.17,195.50 402.08,196.67 403.50,197.00C404.92,197.33 406.67,199.33 408.00,199.50C409.33,199.67 410.25,198.50 411.50,198.00C412.75,197.50 414.17,196.17 415.50,196.50C416.83,196.83 417.83,197.42 419.50,200.00C421.17,202.58 423.33,209.42 425.50,212.00C427.67,214.58 430.50,214.42 432.50,215.50C434.50,216.58 435.33,216.42 437.50,218.50C439.67,220.58 443.50,226.17 445.50,228.00C447.50,229.83 448.17,229.25 449.50,229.50C450.83,229.75 451.67,229.58 453.50,229.50C455.33,229.42 458.00,230.75 460.50,229.00C463.00,227.25 466.46,221.00 468.50,219.00C470.54,217.00 471.21,217.75 472.75,217.00C474.29,216.25 476.08,215.83 477.75,214.50C479.42,213.17 480.92,211.83 482.75,209.00C484.58,206.17 487.08,199.50 488.75,197.50C490.42,195.50 491.33,196.67 492.75,197.00C494.17,197.33 495.92,199.33 497.25,199.50C498.58,199.67 499.50,198.50 500.75,198.00C502.00,197.50 503.42,196.17 504.75,196.50C506.08,196.83 507.08,197.42 508.75,200.00C510.42,202.58 512.58,209.42 514.75,212.00C516.92,214.58 519.75,214.42 521.75,215.50C523.75,216.58 524.58,216.42 526.75,218.50C528.92,220.58 532.75,226.17 534.75,228.00C536.75,229.83 537.42,229.25 538.75,229.50C540.08,229.75 540.92,229.58 542.75,229.50C544.58,229.42 548.29,229.33 549.75,229.00C551.21,228.67 551.21,227.75 551.50,227.50" fill="none" stroke="#000" stroke-width="2.3" stroke-linejoin="round" stroke-dasharray="6.8 2.9" stroke-linecap="butt"/></g><rect x="227.9" y="110" width="4" height="10" fill="#000"/><text x="224.38" y="138.80" font-size="14.10" textLength="11.05" lengthAdjust="spacingAndGlyphs" fill="#000">M</text><rect x="273.0" y="110" width="4" height="10" fill="#ff0000"/><text x="270.25" y="138.80" font-size="14.10" textLength="9.49" lengthAdjust="spacingAndGlyphs" fill="#ff0000">N</text><rect x="317.0" y="110" width="4" height="10" fill="#000"/><text x="313.48" y="138.80" font-size="14.10" textLength="11.05" lengthAdjust="spacingAndGlyphs" fill="#000">M</text><rect x="362.1" y="110" width="4" height="10" fill="#ff0000"/><text x="359.35" y="138.80" font-size="14.10" textLength="9.49" lengthAdjust="spacingAndGlyphs" fill="#ff0000">N</text><rect x="405.9" y="110" width="4" height="10" fill="#000"/><text x="402.38" y="138.80" font-size="14.10" textLength="11.05" lengthAdjust="spacingAndGlyphs" fill="#000">M</text><rect x="450.9" y="110" width="4" height="10" fill="#ff0000"/><text x="448.15" y="138.80" font-size="14.10" textLength="9.49" lengthAdjust="spacingAndGlyphs" fill="#ff0000">N</text><line x1="825.20" y1="110.00" x2="825.20" y2="455.00" stroke="#1f77b4" stroke-width="2" stroke-dasharray="2 3.5"/><g transform="rotate(-90 888.00 288.50)" fill-opacity="0.1"><text x="753.95" y="288.50" font-size="66.25" textLength="36.01" lengthAdjust="spacingAndGlyphs" fill="#000">F</text><text x="790.60" y="288.50" font-size="66.25" textLength="36.90" lengthAdjust="spacingAndGlyphs" fill="#000">o</text><text x="829.77" y="288.50" font-size="66.25" textLength="24.49" lengthAdjust="spacingAndGlyphs" fill="#000">r</text><text x="854.59" y="288.50" font-size="66.25" textLength="37.23" lengthAdjust="spacingAndGlyphs" fill="#000">e</text><text x="892.68" y="288.50" font-size="66.25" textLength="32.14" lengthAdjust="spacingAndGlyphs" fill="#000">c</text><text x="926.74" y="288.50" font-size="66.25" textLength="33.66" lengthAdjust="spacingAndGlyphs" fill="#000">a</text><text x="966.00" y="288.50" font-size="66.25" textLength="31.34" lengthAdjust="spacingAndGlyphs" fill="#000">s</text><text x="999.12" y="288.50" font-size="66.25" textLength="20.91" lengthAdjust="spacingAndGlyphs" fill="#000">t</text></g><line x1="200.00" y1="397.50" x2="206.00" y2="397.50" stroke="#000" stroke-width="1.0" /><line x1="200.00" y1="340.50" x2="206.00" y2="340.50" stroke="#000" stroke-width="1.0" /><line x1="200.00" y1="282.50" x2="206.00" y2="282.50" stroke="#000" stroke-width="1.0" /><line x1="200.00" y1="225.50" x2="206.00" y2="225.50" stroke="#000" stroke-width="1.0" /><line x1="200.00" y1="167.50" x2="206.00" y2="167.50" stroke="#000" stroke-width="1.0" /><line x1="914.00" y1="397.50" x2="909.00" y2="397.50" stroke="#000" stroke-width="1.0" /><line x1="914.00" y1="340.50" x2="909.00" y2="340.50" stroke="#000" stroke-width="1.0" /><line x1="914.00" y1="282.50" x2="909.00" y2="282.50" stroke="#000" stroke-width="1.0" /><line x1="914.00" y1="225.50" x2="909.00" y2="225.50" stroke="#000" stroke-width="1.0" /><line x1="914.00" y1="167.50" x2="909.00" y2="167.50" stroke="#000" stroke-width="1.0" /><line x1="248.50" y1="455.00" x2="248.50" y2="450.00" stroke="#000" stroke-width="1.0" /><line x1="337.50" y1="455.00" x2="337.50" y2="450.00" stroke="#000" stroke-width="1.0" /><line x1="426.50" y1="455.00" x2="426.50" y2="450.00" stroke="#000" stroke-width="1.0" /><line x1="516.50" y1="455.00" x2="516.50" y2="450.00" stroke="#000" stroke-width="1.0" /><line x1="605.50" y1="455.00" x2="605.50" y2="450.00" stroke="#000" stroke-width="1.0" /><line x1="694.50" y1="455.00" x2="694.50" y2="450.00" stroke="#000" stroke-width="1.0" /><line x1="783.50" y1="455.00" x2="783.50" y2="450.00" stroke="#000" stroke-width="1.0" /><line x1="873.50" y1="455.00" x2="873.50" y2="450.00" stroke="#000" stroke-width="1.0" /><path d="M200,455 L200,110 L914,110" fill="none" stroke="#000" stroke-width="2" stroke-linecap="square"/><path d="M200,455 L914,455" fill="none" stroke="#000" stroke-width="2" stroke-linecap="square"/><path d="M914,110 L914,455" fill="none" stroke="#000" stroke-width="2" stroke-linecap="square"/><text x="184.43" y="462.00" font-size="20.14" textLength="10.74" lengthAdjust="spacingAndGlyphs">2</text><text x="184.35" y="404.50" font-size="20.14" textLength="10.70" lengthAdjust="spacingAndGlyphs">3</text><text x="183.65" y="347.00" font-size="20.14" textLength="11.14" lengthAdjust="spacingAndGlyphs">4</text><text x="184.48" y="289.50" font-size="20.14" textLength="10.51" lengthAdjust="spacingAndGlyphs">5</text><text x="183.58" y="232.00" font-size="20.14" textLength="11.53" lengthAdjust="spacingAndGlyphs">6</text><text x="184.29" y="174.50" font-size="20.14" textLength="10.90" lengthAdjust="spacingAndGlyphs">7</text><text x="183.82" y="117.00" font-size="20.14" textLength="11.26" lengthAdjust="spacingAndGlyphs">8</text><g transform="rotate(-90 173.00 285.30)"><text x="160.54" y="285.30" font-size="25.44" textLength="13.92" lengthAdjust="spacingAndGlyphs">L</text><text x="174.30" y="285.30" font-size="25.44" textLength="10.75" lengthAdjust="spacingAndGlyphs">*</text></g><text x="205.05" y="92.70" font-size="25.44" textLength="16.54" lengthAdjust="spacingAndGlyphs">&gt;</text><text x="223.81" y="92.70" font-size="25.44" textLength="13.82" lengthAdjust="spacingAndGlyphs">2</text><text x="238.92" y="92.70" font-size="25.44" textLength="7.15" lengthAdjust="spacingAndGlyphs">.</text><text x="246.92" y="92.70" font-size="25.44" textLength="14.11" lengthAdjust="spacingAndGlyphs">0</text><text x="269.40" y="92.70" font-size="25.44" textLength="20.49" lengthAdjust="spacingAndGlyphs">M</text><text x="290.30" y="92.70" font-size="25.44" textLength="14.30" lengthAdjust="spacingAndGlyphs">e</text><text x="304.73" y="92.70" font-size="25.44" textLength="16.57" lengthAdjust="spacingAndGlyphs">V</text><text x="328.85" y="92.70" font-size="25.44" textLength="15.19" lengthAdjust="spacingAndGlyphs">E</text><text x="344.64" y="92.70" font-size="25.44" textLength="5.54" lengthAdjust="spacingAndGlyphs">l</text><text x="351.04" y="92.70" font-size="25.44" textLength="14.30" lengthAdjust="spacingAndGlyphs">e</text><text x="365.70" y="92.70" font-size="25.44" textLength="12.34" lengthAdjust="spacingAndGlyphs">c</text><text x="379.38" y="92.70" font-size="25.44" textLength="8.03" lengthAdjust="spacingAndGlyphs">t</text><text x="388.81" y="92.70" font-size="25.44" textLength="9.40" lengthAdjust="spacingAndGlyphs">r</text><text x="398.34" y="92.70" font-size="25.44" textLength="14.17" lengthAdjust="spacingAndGlyphs">o</text><text x="413.30" y="92.70" font-size="25.44" textLength="14.28" lengthAdjust="spacingAndGlyphs">n</text><text x="435.65" y="92.70" font-size="25.44" textLength="13.83" lengthAdjust="spacingAndGlyphs">F</text><text x="450.04" y="92.70" font-size="25.44" textLength="5.54" lengthAdjust="spacingAndGlyphs">l</text><text x="456.58" y="92.70" font-size="25.44" textLength="14.28" lengthAdjust="spacingAndGlyphs">u</text><text x="471.93" y="92.70" font-size="25.44" textLength="13.04" lengthAdjust="spacingAndGlyphs">x</text><text x="493.30" y="92.70" font-size="25.44" textLength="12.92" lengthAdjust="spacingAndGlyphs">a</text><text x="508.61" y="92.70" font-size="25.44" textLength="8.03" lengthAdjust="spacingAndGlyphs">t</text><text x="525.60" y="92.70" font-size="25.44" textLength="14.19" lengthAdjust="spacingAndGlyphs">8</text><text x="540.90" y="92.70" font-size="25.44" textLength="14.19" lengthAdjust="spacingAndGlyphs">8</text><circle cx="564.3" cy="77.6" r="2.3" fill="none" stroke="#000" stroke-width="1.15"/><text x="581.23" y="92.70" font-size="25.44" textLength="14.35" lengthAdjust="spacingAndGlyphs">p</text><text x="596.49" y="92.70" font-size="25.44" textLength="5.54" lengthAdjust="spacingAndGlyphs">i</text><text x="603.22" y="92.70" font-size="25.44" textLength="8.03" lengthAdjust="spacingAndGlyphs">t</text><text x="612.21" y="92.70" font-size="25.44" textLength="12.34" lengthAdjust="spacingAndGlyphs">c</text><text x="625.76" y="92.70" font-size="25.44" textLength="14.34" lengthAdjust="spacingAndGlyphs">h</text><text x="648.26" y="92.70" font-size="25.44" textLength="12.92" lengthAdjust="spacingAndGlyphs">a</text><text x="663.51" y="92.70" font-size="25.44" textLength="14.28" lengthAdjust="spacingAndGlyphs">n</text><text x="678.56" y="92.70" font-size="25.44" textLength="14.34" lengthAdjust="spacingAndGlyphs">g</text><text x="694.10" y="92.70" font-size="25.44" textLength="5.54" lengthAdjust="spacingAndGlyphs">l</text><text x="700.52" y="92.70" font-size="25.44" textLength="14.30" lengthAdjust="spacingAndGlyphs">e</text><text x="723.46" y="92.70" font-size="25.44" textLength="6.91" lengthAdjust="spacingAndGlyphs">(</text><text x="740.09" y="92.70" font-size="25.44" textLength="36.52" lengthAdjust="spacingAndGlyphs">cm</text><rect x="778.1" y="77.7" width="10.50" height="1.3"/><text x="789.84" y="82.90" font-size="17.81" textLength="10.07" lengthAdjust="spacingAndGlyphs">2</text><rect x="819.9" y="77.7" width="10.50" height="1.3"/><text x="833.55" y="82.90" font-size="17.81" textLength="9.16" lengthAdjust="spacingAndGlyphs">1</text><rect x="872.2" y="77.7" width="10.40" height="1.3"/><text x="884.63" y="82.90" font-size="17.81" textLength="9.29" lengthAdjust="spacingAndGlyphs">1</text><text x="806.03" y="92.70" font-size="25.44" textLength="12.04" lengthAdjust="spacingAndGlyphs">s</text><text x="848.28" y="92.70" font-size="25.44" textLength="21.55" lengthAdjust="spacingAndGlyphs">sr</text><text x="905.57" y="92.70" font-size="25.44" textLength="7.66" lengthAdjust="spacingAndGlyphs">)</text><rect x="959" y="110.5" width="17" height="345.0" fill="url(#cbg)"/><line x1="977.00" y1="438.50" x2="981.50" y2="438.50" stroke="#000" stroke-width="1" /><line x1="977.00" y1="428.50" x2="981.50" y2="428.50" stroke="#000" stroke-width="1" /><line x1="977.00" y1="420.50" x2="981.50" y2="420.50" stroke="#000" stroke-width="1" /><line x1="977.00" y1="415.50" x2="981.50" y2="415.50" stroke="#000" stroke-width="1" /><line x1="977.00" y1="410.50" x2="981.50" y2="410.50" stroke="#000" stroke-width="1" /><line x1="977.00" y1="406.50" x2="981.50" y2="406.50" stroke="#000" stroke-width="1" /><line x1="977.00" y1="403.50" x2="981.50" y2="403.50" stroke="#000" stroke-width="1" /><line x1="977.00" y1="400.50" x2="981.50" y2="400.50" stroke="#000" stroke-width="1" /><line x1="977.00" y1="380.50" x2="981.50" y2="380.50" stroke="#000" stroke-width="1" /><line x1="977.00" y1="370.50" x2="981.50" y2="370.50" stroke="#000" stroke-width="1" /><line x1="977.00" y1="363.50" x2="981.50" y2="363.50" stroke="#000" stroke-width="1" /><line x1="977.00" y1="357.50" x2="981.50" y2="357.50" stroke="#000" stroke-width="1" /><line x1="977.00" y1="353.50" x2="981.50" y2="353.50" stroke="#000" stroke-width="1" /><line x1="977.00" y1="349.50" x2="981.50" y2="349.50" stroke="#000" stroke-width="1" /><line x1="977.00" y1="346.50" x2="981.50" y2="346.50" stroke="#000" stroke-width="1" /><line x1="977.00" y1="343.50" x2="981.50" y2="343.50" stroke="#000" stroke-width="1" /><line x1="977.00" y1="323.50" x2="981.50" y2="323.50" stroke="#000" stroke-width="1" /><line x1="977.00" y1="313.50" x2="981.50" y2="313.50" stroke="#000" stroke-width="1" /><line x1="977.00" y1="305.50" x2="981.50" y2="305.50" stroke="#000" stroke-width="1" /><line x1="977.00" y1="300.50" x2="981.50" y2="300.50" stroke="#000" stroke-width="1" /><line x1="977.00" y1="295.50" x2="981.50" y2="295.50" stroke="#000" stroke-width="1" /><line x1="977.00" y1="291.50" x2="981.50" y2="291.50" stroke="#000" stroke-width="1" /><line x1="977.00" y1="288.50" x2="981.50" y2="288.50" stroke="#000" stroke-width="1" /><line x1="977.00" y1="285.50" x2="981.50" y2="285.50" stroke="#000" stroke-width="1" /><line x1="977.00" y1="265.50" x2="981.50" y2="265.50" stroke="#000" stroke-width="1" /><line x1="977.00" y1="255.50" x2="981.50" y2="255.50" stroke="#000" stroke-width="1" /><line x1="977.00" y1="248.50" x2="981.50" y2="248.50" stroke="#000" stroke-width="1" /><line x1="977.00" y1="242.50" x2="981.50" y2="242.50" stroke="#000" stroke-width="1" /><line x1="977.00" y1="238.50" x2="981.50" y2="238.50" stroke="#000" stroke-width="1" /><line x1="977.00" y1="234.50" x2="981.50" y2="234.50" stroke="#000" stroke-width="1" /><line x1="977.00" y1="231.50" x2="981.50" y2="231.50" stroke="#000" stroke-width="1" /><line x1="977.00" y1="228.50" x2="981.50" y2="228.50" stroke="#000" stroke-width="1" /><line x1="977.00" y1="208.50" x2="981.50" y2="208.50" stroke="#000" stroke-width="1" /><line x1="977.00" y1="198.50" x2="981.50" y2="198.50" stroke="#000" stroke-width="1" /><line x1="977.00" y1="190.50" x2="981.50" y2="190.50" stroke="#000" stroke-width="1" /><line x1="977.00" y1="185.50" x2="981.50" y2="185.50" stroke="#000" stroke-width="1" /><line x1="977.00" y1="180.50" x2="981.50" y2="180.50" stroke="#000" stroke-width="1" /><line x1="977.00" y1="176.50" x2="981.50" y2="176.50" stroke="#000" stroke-width="1" /><line x1="977.00" y1="173.50" x2="981.50" y2="173.50" stroke="#000" stroke-width="1" /><line x1="977.00" y1="170.50" x2="981.50" y2="170.50" stroke="#000" stroke-width="1" /><line x1="977.00" y1="150.50" x2="981.50" y2="150.50" stroke="#000" stroke-width="1" /><line x1="977.00" y1="140.50" x2="981.50" y2="140.50" stroke="#000" stroke-width="1" /><line x1="977.00" y1="133.50" x2="981.50" y2="133.50" stroke="#000" stroke-width="1" /><line x1="977.00" y1="127.50" x2="981.50" y2="127.50" stroke="#000" stroke-width="1" /><line x1="977.00" y1="123.50" x2="981.50" y2="123.50" stroke="#000" stroke-width="1" /><line x1="977.00" y1="119.50" x2="981.50" y2="119.50" stroke="#000" stroke-width="1" /><line x1="977.00" y1="116.50" x2="981.50" y2="116.50" stroke="#000" stroke-width="1" /><line x1="977.00" y1="113.50" x2="981.50" y2="113.50" stroke="#000" stroke-width="1" /><line x1="977.00" y1="455.50" x2="981.50" y2="455.50" stroke="#000" stroke-width="1" /><line x1="977.00" y1="398.50" x2="981.50" y2="398.50" stroke="#000" stroke-width="1" /><line x1="977.00" y1="340.50" x2="981.50" y2="340.50" stroke="#000" stroke-width="1" /><line x1="977.00" y1="283.50" x2="981.50" y2="283.50" stroke="#000" stroke-width="1" /><line x1="977.00" y1="225.50" x2="981.50" y2="225.50" stroke="#000" stroke-width="1" /><line x1="977.00" y1="168.50" x2="981.50" y2="168.50" stroke="#000" stroke-width="1" /><line x1="977.00" y1="110.50" x2="981.50" y2="110.50" stroke="#000" stroke-width="1" /><rect x="959" y="110.5" width="17" height="345.0" fill="none" stroke="#000" stroke-width="2"/><text x="987.50" y="462.90" font-size="20.14" textLength="23.23" lengthAdjust="spacingAndGlyphs">10</text><text x="1011.51" y="455.90" font-size="14.10" textLength="7.80" lengthAdjust="spacingAndGlyphs">0</text><text x="987.50" y="405.40" font-size="20.14" textLength="23.23" lengthAdjust="spacingAndGlyphs">10</text><text x="1011.62" y="398.40" font-size="14.10" textLength="7.45" lengthAdjust="spacingAndGlyphs">1</text><text x="987.50" y="347.90" font-size="20.14" textLength="23.23" lengthAdjust="spacingAndGlyphs">10</text><text x="1011.47" y="340.90" font-size="14.10" textLength="7.52" lengthAdjust="spacingAndGlyphs">2</text><text x="987.50" y="290.40" font-size="20.14" textLength="23.23" lengthAdjust="spacingAndGlyphs">10</text><text x="1011.68" y="283.40" font-size="14.10" textLength="7.49" lengthAdjust="spacingAndGlyphs">3</text><text x="987.50" y="232.90" font-size="20.14" textLength="23.23" lengthAdjust="spacingAndGlyphs">10</text><text x="1011.50" y="225.90" font-size="14.10" textLength="7.80" lengthAdjust="spacingAndGlyphs">4</text><text x="987.50" y="175.40" font-size="20.14" textLength="23.23" lengthAdjust="spacingAndGlyphs">10</text><text x="1011.67" y="168.40" font-size="14.10" textLength="7.36" lengthAdjust="spacingAndGlyphs">5</text><text x="987.50" y="117.90" font-size="20.14" textLength="23.23" lengthAdjust="spacingAndGlyphs">10</text><text x="1011.37" y="110.90" font-size="14.10" textLength="8.07" lengthAdjust="spacingAndGlyphs">6</text><rect x="825.2" y="478" width="88.79999999999995" height="344" fill="#d3d3d3"/><g transform="rotate(-90 888.40 657.50)" fill-opacity="0.1"><text x="754.35" y="657.50" font-size="66.25" textLength="36.01" lengthAdjust="spacingAndGlyphs" fill="#000">F</text><text x="791.00" y="657.50" font-size="66.25" textLength="36.90" lengthAdjust="spacingAndGlyphs" fill="#000">o</text><text x="830.17" y="657.50" font-size="66.25" textLength="24.49" lengthAdjust="spacingAndGlyphs" fill="#000">r</text><text x="854.99" y="657.50" font-size="66.25" textLength="37.23" lengthAdjust="spacingAndGlyphs" fill="#000">e</text><text x="893.08" y="657.50" font-size="66.25" textLength="32.14" lengthAdjust="spacingAndGlyphs" fill="#000">c</text><text x="927.14" y="657.50" font-size="66.25" textLength="33.66" lengthAdjust="spacingAndGlyphs" fill="#000">a</text><text x="966.40" y="657.50" font-size="66.25" textLength="31.34" lengthAdjust="spacingAndGlyphs" fill="#000">s</text><text x="999.52" y="657.50" font-size="66.25" textLength="20.91" lengthAdjust="spacingAndGlyphs" fill="#000">t</text></g><line x1="825.20" y1="478.00" x2="825.20" y2="822.00" stroke="#1f77b4" stroke-width="2" stroke-dasharray="2 3.5"/><g clip-path="url(#c2)"><path d="M200.30,700.10C201.00,700.70 203.02,703.00 204.50,703.70C205.98,704.40 207.43,702.82 209.20,704.30C210.97,705.78 213.33,708.87 215.10,712.60C216.87,716.33 218.42,723.65 219.80,726.70C221.18,729.75 221.82,730.60 223.40,730.90C224.98,731.20 226.93,727.42 229.30,728.50C231.67,729.58 235.05,738.88 237.60,737.40C240.15,735.92 242.43,723.78 244.60,719.60C246.77,715.42 248.62,713.57 250.60,712.30C252.58,711.03 254.15,714.42 256.50,712.00C258.85,709.58 262.15,700.70 264.70,697.80C267.25,694.90 269.23,695.10 271.80,694.60C274.37,694.10 277.73,693.78 280.10,694.80C282.47,695.82 284.03,697.55 286.00,700.70C287.97,703.85 289.93,710.83 291.90,713.70C293.87,716.57 295.83,714.93 297.80,717.90C299.77,720.87 301.53,725.30 303.70,731.50C305.87,737.70 308.33,751.95 310.80,755.10C313.27,758.25 315.93,749.62 318.50,750.40C321.07,751.18 323.53,762.37 326.20,759.80C328.87,757.23 332.13,740.80 334.50,735.00C336.87,729.20 338.43,726.82 340.40,725.00C342.37,723.18 343.93,727.17 346.30,724.10C348.67,721.03 351.85,709.90 354.60,706.60C357.35,703.30 360.05,704.48 362.80,704.30C365.55,704.12 368.33,701.95 371.10,705.50C373.87,709.05 376.63,721.37 379.40,725.60C382.17,729.83 385.58,728.73 387.70,730.90C389.82,733.07 390.78,734.57 392.10,738.60C393.42,742.63 394.22,750.08 395.60,755.10C396.98,760.12 398.42,767.42 400.40,768.70C402.38,769.98 404.95,762.22 407.50,762.80C410.05,763.38 413.35,772.70 415.70,772.20C418.05,771.70 420.02,764.42 421.60,759.80C423.18,755.18 423.82,748.43 425.20,744.50C426.58,740.57 428.33,737.78 429.90,736.20C431.47,734.62 433.22,735.78 434.60,735.00C435.98,734.22 436.62,734.55 438.20,731.50C439.78,728.45 442.33,719.77 444.10,716.70C445.87,713.63 446.83,713.63 448.80,713.10C450.77,712.57 453.73,713.10 455.90,713.50C458.07,713.90 459.83,712.50 461.80,715.50C463.77,718.50 465.92,727.75 467.70,731.50C469.48,735.25 470.72,736.43 472.50,738.00C474.28,739.57 476.63,738.45 478.40,740.90C480.17,743.35 481.72,747.77 483.10,752.70C484.48,757.63 485.52,766.35 486.70,770.50C487.88,774.65 488.53,777.50 490.20,777.60C491.87,777.70 494.23,770.82 496.70,771.10C499.17,771.38 502.73,779.60 505.00,779.30C507.27,779.00 508.63,774.72 510.30,769.30C511.97,763.88 513.42,751.23 515.00,746.80C516.58,742.37 518.22,743.58 519.80,742.70C521.38,741.82 522.53,744.55 524.50,741.50C526.47,738.45 529.63,728.13 531.60,724.40C533.57,720.67 534.33,719.98 536.30,719.10C538.27,718.22 541.62,719.20 543.40,719.10C545.18,719.00 545.62,718.02 547.00,718.50C548.38,718.98 550.92,721.42 551.70,722.00" fill="none" stroke="#ff0000" stroke-width="2.1" stroke-linejoin="round" stroke-linecap="round" /></g><line x1="200.00" y1="764.50" x2="206.00" y2="764.50" stroke="#000" stroke-width="1.0" /><line x1="200.00" y1="707.50" x2="206.00" y2="707.50" stroke="#000" stroke-width="1.0" /><line x1="200.00" y1="650.50" x2="206.00" y2="650.50" stroke="#000" stroke-width="1.0" /><line x1="200.00" y1="592.50" x2="206.00" y2="592.50" stroke="#000" stroke-width="1.0" /><line x1="200.00" y1="535.50" x2="206.00" y2="535.50" stroke="#000" stroke-width="1.0" /><line x1="200.00" y1="804.50" x2="204.00" y2="804.50" stroke="#000" stroke-width="1.0" /><line x1="200.00" y1="794.50" x2="204.00" y2="794.50" stroke="#000" stroke-width="1.0" /><line x1="200.00" y1="787.50" x2="204.00" y2="787.50" stroke="#000" stroke-width="1.0" /><line x1="200.00" y1="781.50" x2="204.00" y2="781.50" stroke="#000" stroke-width="1.0" /><line x1="200.00" y1="777.50" x2="204.00" y2="777.50" stroke="#000" stroke-width="1.0" /><line x1="200.00" y1="773.50" x2="204.00" y2="773.50" stroke="#000" stroke-width="1.0" /><line x1="200.00" y1="770.50" x2="204.00" y2="770.50" stroke="#000" stroke-width="1.0" /><line x1="200.00" y1="767.50" x2="204.00" y2="767.50" stroke="#000" stroke-width="1.0" /><line x1="200.00" y1="747.50" x2="204.00" y2="747.50" stroke="#000" stroke-width="1.0" /><line x1="200.00" y1="737.50" x2="204.00" y2="737.50" stroke="#000" stroke-width="1.0" /><line x1="200.00" y1="730.50" x2="204.00" y2="730.50" stroke="#000" stroke-width="1.0" /><line x1="200.00" y1="724.50" x2="204.00" y2="724.50" stroke="#000" stroke-width="1.0" /><line x1="200.00" y1="720.50" x2="204.00" y2="720.50" stroke="#000" stroke-width="1.0" /><line x1="200.00" y1="716.50" x2="204.00" y2="716.50" stroke="#000" stroke-width="1.0" /><line x1="200.00" y1="712.50" x2="204.00" y2="712.50" stroke="#000" stroke-width="1.0" /><line x1="200.00" y1="709.50" x2="204.00" y2="709.50" stroke="#000" stroke-width="1.0" /><line x1="200.00" y1="690.50" x2="204.00" y2="690.50" stroke="#000" stroke-width="1.0" /><line x1="200.00" y1="679.50" x2="204.00" y2="679.50" stroke="#000" stroke-width="1.0" /><line x1="200.00" y1="672.50" x2="204.00" y2="672.50" stroke="#000" stroke-width="1.0" /><line x1="200.00" y1="667.50" x2="204.00" y2="667.50" stroke="#000" stroke-width="1.0" /><line x1="200.00" y1="662.50" x2="204.00" y2="662.50" stroke="#000" stroke-width="1.0" /><line x1="200.00" y1="658.50" x2="204.00" y2="658.50" stroke="#000" stroke-width="1.0" /><line x1="200.00" y1="655.50" x2="204.00" y2="655.50" stroke="#000" stroke-width="1.0" /><line x1="200.00" y1="652.50" x2="204.00" y2="652.50" stroke="#000" stroke-width="1.0" /><line x1="200.00" y1="632.50" x2="204.00" y2="632.50" stroke="#000" stroke-width="1.0" /><line x1="200.00" y1="622.50" x2="204.00" y2="622.50" stroke="#000" stroke-width="1.0" /><line x1="200.00" y1="615.50" x2="204.00" y2="615.50" stroke="#000" stroke-width="1.0" /><line x1="200.00" y1="609.50" x2="204.00" y2="609.50" stroke="#000" stroke-width="1.0" /><line x1="200.00" y1="605.50" x2="204.00" y2="605.50" stroke="#000" stroke-width="1.0" /><line x1="200.00" y1="601.50" x2="204.00" y2="601.50" stroke="#000" stroke-width="1.0" /><line x1="200.00" y1="598.50" x2="204.00" y2="598.50" stroke="#000" stroke-width="1.0" /><line x1="200.00" y1="595.50" x2="204.00" y2="595.50" stroke="#000" stroke-width="1.0" /><line x1="200.00" y1="575.50" x2="204.00" y2="575.50" stroke="#000" stroke-width="1.0" /><line x1="200.00" y1="565.50" x2="204.00" y2="565.50" stroke="#000" stroke-width="1.0" /><line x1="200.00" y1="558.50" x2="204.00" y2="558.50" stroke="#000" stroke-width="1.0" /><line x1="200.00" y1="552.50" x2="204.00" y2="552.50" stroke="#000" stroke-width="1.0" /><line x1="200.00" y1="548.50" x2="204.00" y2="548.50" stroke="#000" stroke-width="1.0" /><line x1="200.00" y1="544.50" x2="204.00" y2="544.50" stroke="#000" stroke-width="1.0" /><line x1="200.00" y1="540.50" x2="204.00" y2="540.50" stroke="#000" stroke-width="1.0" /><line x1="200.00" y1="537.50" x2="204.00" y2="537.50" stroke="#000" stroke-width="1.0" /><line x1="200.00" y1="518.50" x2="204.00" y2="518.50" stroke="#000" stroke-width="1.0" /><line x1="200.00" y1="507.50" x2="204.00" y2="507.50" stroke="#000" stroke-width="1.0" /><line x1="200.00" y1="500.50" x2="204.00" y2="500.50" stroke="#000" stroke-width="1.0" /><line x1="200.00" y1="495.50" x2="204.00" y2="495.50" stroke="#000" stroke-width="1.0" /><line x1="200.00" y1="490.50" x2="204.00" y2="490.50" stroke="#000" stroke-width="1.0" /><line x1="200.00" y1="486.50" x2="204.00" y2="486.50" stroke="#000" stroke-width="1.0" /><line x1="200.00" y1="483.50" x2="204.00" y2="483.50" stroke="#000" stroke-width="1.0" /><line x1="200.00" y1="480.50" x2="204.00" y2="480.50" stroke="#000" stroke-width="1.0" /><line x1="914.00" y1="764.50" x2="909.00" y2="764.50" stroke="#000" stroke-width="1.0" /><line x1="914.00" y1="707.50" x2="909.00" y2="707.50" stroke="#000" stroke-width="1.0" /><line x1="914.00" y1="650.50" x2="909.00" y2="650.50" stroke="#000" stroke-width="1.0" /><line x1="914.00" y1="592.50" x2="909.00" y2="592.50" stroke="#000" stroke-width="1.0" /><line x1="914.00" y1="535.50" x2="909.00" y2="535.50" stroke="#000" stroke-width="1.0" /><line x1="914.00" y1="804.50" x2="911.00" y2="804.50" stroke="#000" stroke-width="1.0" /><line x1="914.00" y1="794.50" x2="911.00" y2="794.50" stroke="#000" stroke-width="1.0" /><line x1="914.00" y1="787.50" x2="911.00" y2="787.50" stroke="#000" stroke-width="1.0" /><line x1="914.00" y1="781.50" x2="911.00" y2="781.50" stroke="#000" stroke-width="1.0" /><line x1="914.00" y1="777.50" x2="911.00" y2="777.50" stroke="#000" stroke-width="1.0" /><line x1="914.00" y1="773.50" x2="911.00" y2="773.50" stroke="#000" stroke-width="1.0" /><line x1="914.00" y1="770.50" x2="911.00" y2="770.50" stroke="#000" stroke-width="1.0" /><line x1="914.00" y1="767.50" x2="911.00" y2="767.50" stroke="#000" stroke-width="1.0" /><line x1="914.00" y1="747.50" x2="911.00" y2="747.50" stroke="#000" stroke-width="1.0" /><line x1="914.00" y1="737.50" x2="911.00" y2="737.50" stroke="#000" stroke-width="1.0" /><line x1="914.00" y1="730.50" x2="911.00" y2="730.50" stroke="#000" stroke-width="1.0" /><line x1="914.00" y1="724.50" x2="911.00" y2="724.50" stroke="#000" stroke-width="1.0" /><line x1="914.00" y1="720.50" x2="911.00" y2="720.50" stroke="#000" stroke-width="1.0" /><line x1="914.00" y1="716.50" x2="911.00" y2="716.50" stroke="#000" stroke-width="1.0" /><line x1="914.00" y1="712.50" x2="911.00" y2="712.50" stroke="#000" stroke-width="1.0" /><line x1="914.00" y1="709.50" x2="911.00" y2="709.50" stroke="#000" stroke-width="1.0" /><line x1="914.00" y1="690.50" x2="911.00" y2="690.50" stroke="#000" stroke-width="1.0" /><line x1="914.00" y1="679.50" x2="911.00" y2="679.50" stroke="#000" stroke-width="1.0" /><line x1="914.00" y1="672.50" x2="911.00" y2="672.50" stroke="#000" stroke-width="1.0" /><line x1="914.00" y1="667.50" x2="911.00" y2="667.50" stroke="#000" stroke-width="1.0" /><line x1="914.00" y1="662.50" x2="911.00" y2="662.50" stroke="#000" stroke-width="1.0" /><line x1="914.00" y1="658.50" x2="911.00" y2="658.50" stroke="#000" stroke-width="1.0" /><line x1="914.00" y1="655.50" x2="911.00" y2="655.50" stroke="#000" stroke-width="1.0" /><line x1="914.00" y1="652.50" x2="911.00" y2="652.50" stroke="#000" stroke-width="1.0" /><line x1="914.00" y1="632.50" x2="911.00" y2="632.50" stroke="#000" stroke-width="1.0" /><line x1="914.00" y1="622.50" x2="911.00" y2="622.50" stroke="#000" stroke-width="1.0" /><line x1="914.00" y1="615.50" x2="911.00" y2="615.50" stroke="#000" stroke-width="1.0" /><line x1="914.00" y1="609.50" x2="911.00" y2="609.50" stroke="#000" stroke-width="1.0" /><line x1="914.00" y1="605.50" x2="911.00" y2="605.50" stroke="#000" stroke-width="1.0" /><line x1="914.00" y1="601.50" x2="911.00" y2="601.50" stroke="#000" stroke-width="1.0" /><line x1="914.00" y1="598.50" x2="911.00" y2="598.50" stroke="#000" stroke-width="1.0" /><line x1="914.00" y1="595.50" x2="911.00" y2="595.50" stroke="#000" stroke-width="1.0" /><line x1="914.00" y1="575.50" x2="911.00" y2="575.50" stroke="#000" stroke-width="1.0" /><line x1="914.00" y1="565.50" x2="911.00" y2="565.50" stroke="#000" stroke-width="1.0" /><line x1="914.00" y1="558.50" x2="911.00" y2="558.50" stroke="#000" stroke-width="1.0" /><line x1="914.00" y1="552.50" x2="911.00" y2="552.50" stroke="#000" stroke-width="1.0" /><line x1="914.00" y1="548.50" x2="911.00" y2="548.50" stroke="#000" stroke-width="1.0" /><line x1="914.00" y1="544.50" x2="911.00" y2="544.50" stroke="#000" stroke-width="1.0" /><line x1="914.00" y1="540.50" x2="911.00" y2="540.50" stroke="#000" stroke-width="1.0" /><line x1="914.00" y1="537.50" x2="911.00" y2="537.50" stroke="#000" stroke-width="1.0" /><line x1="914.00" y1="518.50" x2="911.00" y2="518.50" stroke="#000" stroke-width="1.0" /><line x1="914.00" y1="507.50" x2="911.00" y2="507.50" stroke="#000" stroke-width="1.0" /><line x1="914.00" y1="500.50" x2="911.00" y2="500.50" stroke="#000" stroke-width="1.0" /><line x1="914.00" y1="495.50" x2="911.00" y2="495.50" stroke="#000" stroke-width="1.0" /><line x1="914.00" y1="490.50" x2="911.00" y2="490.50" stroke="#000" stroke-width="1.0" /><line x1="914.00" y1="486.50" x2="911.00" y2="486.50" stroke="#000" stroke-width="1.0" /><line x1="914.00" y1="483.50" x2="911.00" y2="483.50" stroke="#000" stroke-width="1.0" /><line x1="914.00" y1="480.50" x2="911.00" y2="480.50" stroke="#000" stroke-width="1.0" /><line x1="248.50" y1="822.00" x2="248.50" y2="817.00" stroke="#000" stroke-width="1.0" /><line x1="337.50" y1="822.00" x2="337.50" y2="817.00" stroke="#000" stroke-width="1.0" /><line x1="426.50" y1="822.00" x2="426.50" y2="817.00" stroke="#000" stroke-width="1.0" /><line x1="516.50" y1="822.00" x2="516.50" y2="817.00" stroke="#000" stroke-width="1.0" /><line x1="605.50" y1="822.00" x2="605.50" y2="817.00" stroke="#000" stroke-width="1.0" /><line x1="694.50" y1="822.00" x2="694.50" y2="817.00" stroke="#000" stroke-width="1.0" /><line x1="783.50" y1="822.00" x2="783.50" y2="817.00" stroke="#000" stroke-width="1.0" /><line x1="873.50" y1="822.00" x2="873.50" y2="817.00" stroke="#000" stroke-width="1.0" /><path d="M200,822 L200,478 L914,478" fill="none" stroke="#000" stroke-width="2" stroke-linecap="square"/><path d="M200,822 L914,822" fill="none" stroke="#000" stroke-width="2" stroke-linecap="square"/><path d="M914,478 L914,822" fill="none" stroke="#000" stroke-width="2" stroke-linecap="square"/><text x="162.94" y="829.50" font-size="20.14" textLength="23.23" lengthAdjust="spacingAndGlyphs">10</text><text x="186.95" y="822.50" font-size="14.10" textLength="7.80" lengthAdjust="spacingAndGlyphs">0</text><text x="163.29" y="772.17" font-size="20.14" textLength="23.23" lengthAdjust="spacingAndGlyphs">10</text><text x="187.41" y="765.17" font-size="14.10" textLength="7.45" lengthAdjust="spacingAndGlyphs">1</text><text x="163.39" y="714.83" font-size="20.14" textLength="23.23" lengthAdjust="spacingAndGlyphs">10</text><text x="187.36" y="707.83" font-size="14.10" textLength="7.52" lengthAdjust="spacingAndGlyphs">2</text><text x="163.12" y="657.50" font-size="20.14" textLength="23.23" lengthAdjust="spacingAndGlyphs">10</text><text x="187.30" y="650.50" font-size="14.10" textLength="7.49" lengthAdjust="spacingAndGlyphs">3</text><text x="162.80" y="600.17" font-size="20.14" textLength="23.23" lengthAdjust="spacingAndGlyphs">10</text><text x="186.81" y="593.17" font-size="14.10" textLength="7.80" lengthAdjust="spacingAndGlyphs">4</text><text x="163.22" y="542.83" font-size="20.14" textLength="23.23" lengthAdjust="spacingAndGlyphs">10</text><text x="187.40" y="535.83" font-size="14.10" textLength="7.36" lengthAdjust="spacingAndGlyphs">5</text><text x="162.90" y="485.50" font-size="20.14" textLength="23.23" lengthAdjust="spacingAndGlyphs">10</text><text x="186.77" y="478.50" font-size="14.10" textLength="8.07" lengthAdjust="spacingAndGlyphs">6</text><text x="234.88" y="512.00" font-size="25.44" textLength="18.90" lengthAdjust="spacingAndGlyphs">G</text><text x="254.13" y="512.00" font-size="25.44" textLength="14.30" lengthAdjust="spacingAndGlyphs">e</text><text x="269.05" y="512.00" font-size="25.44" textLength="14.17" lengthAdjust="spacingAndGlyphs">o</text><text x="284.04" y="512.00" font-size="25.44" textLength="12.04" lengthAdjust="spacingAndGlyphs">s</text><text x="296.89" y="512.00" font-size="25.44" textLength="8.03" lengthAdjust="spacingAndGlyphs">t</text><text x="305.85" y="512.00" font-size="25.44" textLength="12.92" lengthAdjust="spacingAndGlyphs">a</text><text x="321.29" y="512.00" font-size="25.44" textLength="8.03" lengthAdjust="spacingAndGlyphs">t</text><text x="330.76" y="512.00" font-size="25.44" textLength="5.54" lengthAdjust="spacingAndGlyphs">i</text><text x="337.25" y="512.00" font-size="25.44" textLength="14.17" lengthAdjust="spacingAndGlyphs">o</text><text x="352.36" y="512.00" font-size="25.44" textLength="14.28" lengthAdjust="spacingAndGlyphs">n</text><text x="367.26" y="512.00" font-size="25.44" textLength="12.92" lengthAdjust="spacingAndGlyphs">a</text><text x="382.73" y="512.00" font-size="25.44" textLength="9.40" lengthAdjust="spacingAndGlyphs">r</text><text x="392.80" y="512.00" font-size="25.44" textLength="12.81" lengthAdjust="spacingAndGlyphs">y</text><text x="414.47" y="512.00" font-size="25.44" textLength="14.17" lengthAdjust="spacingAndGlyphs">o</text><text x="429.67" y="512.00" font-size="25.44" textLength="9.40" lengthAdjust="spacingAndGlyphs">r</text><text x="439.64" y="512.00" font-size="25.44" textLength="14.35" lengthAdjust="spacingAndGlyphs">b</text><text x="455.00" y="512.00" font-size="25.44" textLength="5.54" lengthAdjust="spacingAndGlyphs">i</text><text x="461.80" y="512.00" font-size="25.44" textLength="8.03" lengthAdjust="spacingAndGlyphs">t</text><text x="471.17" y="512.00" font-size="25.44" textLength="7.15" lengthAdjust="spacingAndGlyphs">:</text><text x="498.66" y="512.00" font-size="25.44" textLength="18.90" lengthAdjust="spacingAndGlyphs">G</text><text x="517.79" y="512.00" font-size="25.44" textLength="19.04" lengthAdjust="spacingAndGlyphs">O</text><text x="537.10" y="512.00" font-size="25.44" textLength="15.19" lengthAdjust="spacingAndGlyphs">E</text><text x="552.68" y="512.00" font-size="25.44" textLength="15.43" lengthAdjust="spacingAndGlyphs">S</text><text x="576.67" y="512.00" font-size="25.44" textLength="13.75" lengthAdjust="spacingAndGlyphs">1</text><text x="592.22" y="512.00" font-size="25.44" textLength="14.11" lengthAdjust="spacingAndGlyphs">4</text><text x="606.53" y="512.00" font-size="25.44" textLength="8.42" lengthAdjust="spacingAndGlyphs">,</text><text x="627.81" y="512.00" font-size="25.44" textLength="72.78" lengthAdjust="spacingAndGlyphs" fill="#ff0000">Model</text><g transform="rotate(-90 115.00 650.00)"><text x="-24.18" y="650.00" font-size="25.44" textLength="16.54" lengthAdjust="spacingAndGlyphs">&gt;</text><text x="-5.44" y="650.00" font-size="25.44" textLength="13.82" lengthAdjust="spacingAndGlyphs">2</text><text x="9.65" y="650.00" font-size="25.44" textLength="7.15" lengthAdjust="spacingAndGlyphs">.</text><text x="17.63" y="650.00" font-size="25.44" textLength="14.11" lengthAdjust="spacingAndGlyphs">0</text><text x="40.07" y="650.00" font-size="25.44" textLength="20.49" lengthAdjust="spacingAndGlyphs">M</text><text x="60.94" y="650.00" font-size="25.44" textLength="14.30" lengthAdjust="spacingAndGlyphs">e</text><text x="75.35" y="650.00" font-size="25.44" textLength="16.57" lengthAdjust="spacingAndGlyphs">V</text><text x="99.43" y="650.00" font-size="25.44" textLength="15.19" lengthAdjust="spacingAndGlyphs">E</text><text x="115.20" y="650.00" font-size="25.44" textLength="5.54" lengthAdjust="spacingAndGlyphs">l</text><text x="121.59" y="650.00" font-size="25.44" textLength="14.30" lengthAdjust="spacingAndGlyphs">e</text><text x="136.22" y="650.00" font-size="25.44" textLength="12.34" lengthAdjust="spacingAndGlyphs">c</text><text x="149.88" y="650.00" font-size="25.44" textLength="8.03" lengthAdjust="spacingAndGlyphs">t</text><text x="159.29" y="650.00" font-size="25.44" textLength="9.40" lengthAdjust="spacingAndGlyphs">r</text><text x="168.81" y="650.00" font-size="25.44" textLength="14.17" lengthAdjust="spacingAndGlyphs">o</text><text x="183.74" y="650.00" font-size="25.44" textLength="14.28" lengthAdjust="spacingAndGlyphs">n</text><text x="206.06" y="650.00" font-size="25.44" textLength="13.83" lengthAdjust="spacingAndGlyphs">F</text><text x="220.43" y="650.00" font-size="25.44" textLength="5.54" lengthAdjust="spacingAndGlyphs">l</text><text x="226.95" y="650.00" font-size="25.44" textLength="14.28" lengthAdjust="spacingAndGlyphs">u</text><text x="242.28" y="650.00" font-size="25.44" textLength="13.04" lengthAdjust="spacingAndGlyphs">x</text></g><g transform="rotate(-90 146.00 650.00)"><text x="48.89" y="650.00" font-size="25.44" textLength="7.48" lengthAdjust="spacingAndGlyphs">(</text><text x="65.64" y="650.00" font-size="25.44" textLength="12.34" lengthAdjust="spacingAndGlyphs">c</text><text x="79.42" y="650.00" font-size="25.44" textLength="22.05" lengthAdjust="spacingAndGlyphs">m</text><rect x="103.85" y="634.24" width="10.52" height="1.39"/><text x="116.43" y="640.20" font-size="17.81" textLength="9.68" lengthAdjust="spacingAndGlyphs">2</text><text x="134.87" y="650.00" font-size="25.44" textLength="12.04" lengthAdjust="spacingAndGlyphs">s</text><rect x="148.75" y="634.24" width="10.52" height="1.39"/><text x="161.49" y="640.20" font-size="17.81" textLength="9.63" lengthAdjust="spacingAndGlyphs">1</text><text x="179.76" y="650.00" font-size="25.44" textLength="12.04" lengthAdjust="spacingAndGlyphs">s</text><text x="192.49" y="650.00" font-size="25.44" textLength="9.40" lengthAdjust="spacingAndGlyphs">r</text><rect x="203.52" y="634.24" width="10.52" height="1.39"/><text x="216.25" y="640.20" font-size="17.81" textLength="9.63" lengthAdjust="spacingAndGlyphs">1</text><text x="235.63" y="650.00" font-size="25.44" textLength="7.48" lengthAdjust="spacingAndGlyphs">)</text></g><g transform="rotate(-90 875.00 934.00)" fill-opacity="0.1"><text x="809.58" y="934.00" font-size="32.33" textLength="17.57" lengthAdjust="spacingAndGlyphs" fill="#000">F</text><text x="827.47" y="934.00" font-size="32.33" textLength="18.01" lengthAdjust="spacingAndGlyphs" fill="#000">o</text><text x="846.58" y="934.00" font-size="32.33" textLength="11.95" lengthAdjust="spacingAndGlyphs" fill="#000">r</text><text x="858.70" y="934.00" font-size="32.33" textLength="18.17" lengthAdjust="spacingAndGlyphs" fill="#000">e</text><text x="877.29" y="934.00" font-size="32.33" textLength="15.68" lengthAdjust="spacingAndGlyphs" fill="#000">c</text><text x="893.90" y="934.00" font-size="32.33" textLength="16.43" lengthAdjust="spacingAndGlyphs" fill="#000">a</text><text x="913.07" y="934.00" font-size="32.33" textLength="15.30" lengthAdjust="spacingAndGlyphs" fill="#000">s</text><text x="929.23" y="934.00" font-size="32.33" textLength="10.20" lengthAdjust="spacingAndGlyphs" fill="#000">t</text></g><g clip-path="url(#c3)"><rect x="198.45" y="1010.63" width="8.9" height="6.37" fill="#008000"/><rect x="209.61" y="997.89" width="8.9" height="19.11" fill="#008000"/><rect x="220.76" y="991.52" width="8.9" height="25.48" fill="#008000"/><rect x="231.92" y="997.89" width="8.9" height="19.11" fill="#008000"/><rect x="243.07" y="978.78" width="8.9" height="38.22" fill="#008000"/><rect x="254.23" y="1004.26" width="8.9" height="12.74" fill="#008000"/><rect x="265.39" y="1010.63" width="8.9" height="6.37" fill="#008000"/><rect x="276.54" y="1010.63" width="8.9" height="6.37" fill="#008000"/><rect x="287.70" y="991.52" width="8.9" height="25.48" fill="#008000"/><rect x="298.85" y="985.15" width="8.9" height="31.85" fill="#008000"/><rect x="310.01" y="991.52" width="8.9" height="25.48" fill="#008000"/><rect x="321.17" y="1010.63" width="8.9" height="6.37" fill="#008000"/><rect x="332.32" y="1010.63" width="8.9" height="6.37" fill="#008000"/><rect x="343.48" y="991.52" width="8.9" height="25.48" fill="#008000"/><rect x="354.63" y="985.15" width="8.9" height="31.85" fill="#008000"/><rect x="365.79" y="985.15" width="8.9" height="31.85" fill="#008000"/><rect x="376.95" y="1010.63" width="8.9" height="6.37" fill="#008000"/><rect x="388.10" y="978.78" width="8.9" height="38.22" fill="#008000"/><rect x="399.26" y="985.15" width="8.9" height="31.85" fill="#008000"/><rect x="410.41" y="997.89" width="8.9" height="19.11" fill="#008000"/><rect x="421.57" y="997.89" width="8.9" height="19.11" fill="#008000"/><rect x="432.73" y="991.52" width="8.9" height="25.48" fill="#008000"/><rect x="443.88" y="985.15" width="8.9" height="31.85" fill="#008000"/><rect x="455.04" y="997.89" width="8.9" height="19.11" fill="#008000"/><rect x="466.19" y="978.78" width="8.9" height="38.22" fill="#008000"/><rect x="477.35" y="1010.63" width="8.9" height="6.37" fill="#008000"/><rect x="488.51" y="991.52" width="8.9" height="25.48" fill="#008000"/><rect x="499.66" y="1004.26" width="8.9" height="12.74" fill="#008000"/><rect x="510.82" y="1004.26" width="8.9" height="12.74" fill="#008000"/><rect x="521.97" y="1004.26" width="8.9" height="12.74" fill="#008000"/><rect x="544.29" y="991.52" width="8.9" height="25.48" fill="#008000"/><rect x="555.44" y="985.15" width="8.9" height="31.85" fill="#008000"/><rect x="566.60" y="1010.63" width="8.9" height="6.37" fill="#008000"/><rect x="577.75" y="1010.63" width="8.9" height="6.37" fill="#008000"/><rect x="588.91" y="1004.26" width="8.9" height="12.74" fill="#008000"/><rect x="600.07" y="1004.26" width="8.9" height="12.74" fill="#008000"/><rect x="611.22" y="1010.63" width="8.9" height="6.37" fill="#008000"/><rect x="633.53" y="1010.63" width="8.9" height="6.37" fill="#008000"/><rect x="644.69" y="997.89" width="8.9" height="19.11" fill="#008000"/><rect x="655.85" y="991.52" width="8.9" height="25.48" fill="#008000"/><rect x="667.00" y="985.15" width="8.9" height="31.85" fill="#008000"/><rect x="678.16" y="997.89" width="8.9" height="19.11" fill="#008000"/><rect x="689.31" y="991.52" width="8.9" height="25.48" fill="#008000"/><rect x="700.47" y="985.15" width="8.9" height="31.85" fill="#008000"/><rect x="711.63" y="966.04" width="8.9" height="50.96" fill="#008000"/><rect x="722.78" y="997.89" width="8.9" height="19.11" fill="#008000"/><rect x="733.94" y="978.78" width="8.9" height="38.22" fill="#008000"/><rect x="745.09" y="966.04" width="8.9" height="50.96" fill="#008000"/><rect x="756.25" y="978.78" width="8.9" height="38.22" fill="#008000"/><rect x="767.41" y="978.78" width="8.9" height="38.22" fill="#008000"/><rect x="778.56" y="991.52" width="8.9" height="25.48" fill="#008000"/><rect x="789.72" y="985.15" width="8.9" height="31.85" fill="#008000"/><rect x="800.87" y="997.89" width="8.9" height="19.11" fill="#008000"/><rect x="812.03" y="997.89" width="8.9" height="19.11" fill="#008000"/><rect x="823.19" y="997.89" width="8.9" height="19.11" fill="#008000"/><rect x="834.34" y="997.89" width="8.9" height="19.11" fill="#008000"/><rect x="845.50" y="997.89" width="8.9" height="19.11" fill="#008000"/><rect x="856.65" y="997.89" width="8.9" height="19.11" fill="#008000"/><rect x="867.81" y="997.89" width="8.9" height="19.11" fill="#008000"/><rect x="878.97" y="997.89" width="8.9" height="19.11" fill="#008000"/><rect x="890.12" y="997.89" width="8.9" height="19.11" fill="#008000"/><rect x="901.28" y="997.89" width="8.9" height="19.11" fill="#008000"/></g><line x1="825.20" y1="845.00" x2="825.20" y2="1017.00" stroke="#1f77b4" stroke-width="2" stroke-dasharray="2 3.5"/><line x1="200.00" y1="978.50" x2="206.00" y2="978.50" stroke="#000" stroke-width="1.0" /><line x1="200.00" y1="940.50" x2="206.00" y2="940.50" stroke="#000" stroke-width="1.0" /><line x1="200.00" y1="902.50" x2="206.00" y2="902.50" stroke="#000" stroke-width="1.0" /><line x1="200.00" y1="864.50" x2="206.00" y2="864.50" stroke="#000" stroke-width="1.0" /><line x1="914.00" y1="978.50" x2="909.00" y2="978.50" stroke="#000" stroke-width="1.0" /><line x1="914.00" y1="940.50" x2="909.00" y2="940.50" stroke="#000" stroke-width="1.0" /><line x1="914.00" y1="902.50" x2="909.00" y2="902.50" stroke="#000" stroke-width="1.0" /><line x1="914.00" y1="864.50" x2="909.00" y2="864.50" stroke="#000" stroke-width="1.0" /><line x1="248.50" y1="1017.00" x2="248.50" y2="1012.00" stroke="#000" stroke-width="1.0" /><line x1="337.50" y1="1017.00" x2="337.50" y2="1012.00" stroke="#000" stroke-width="1.0" /><line x1="426.50" y1="1017.00" x2="426.50" y2="1012.00" stroke="#000" stroke-width="1.0" /><line x1="516.50" y1="1017.00" x2="516.50" y2="1012.00" stroke="#000" stroke-width="1.0" /><line x1="605.50" y1="1017.00" x2="605.50" y2="1012.00" stroke="#000" stroke-width="1.0" /><line x1="694.50" y1="1017.00" x2="694.50" y2="1012.00" stroke="#000" stroke-width="1.0" /><line x1="783.50" y1="1017.00" x2="783.50" y2="1012.00" stroke="#000" stroke-width="1.0" /><line x1="873.50" y1="1017.00" x2="873.50" y2="1012.00" stroke="#000" stroke-width="1.0" /><path d="M200,1017 L200,845 L914,845" fill="none" stroke="#000" stroke-width="2" stroke-linecap="square"/><path d="M200,1017 L914,1017" fill="none" stroke="#000" stroke-width="2" stroke-linecap="square"/><path d="M914,845 L914,1017" fill="none" stroke="#000" stroke-width="2" stroke-linecap="square"/><text x="183.94" y="1024.00" font-size="20.14" textLength="11.14" lengthAdjust="spacingAndGlyphs">0</text><text x="184.53" y="985.78" font-size="20.14" textLength="10.74" lengthAdjust="spacingAndGlyphs">2</text><text x="183.75" y="947.56" font-size="20.14" textLength="11.14" lengthAdjust="spacingAndGlyphs">4</text><text x="183.68" y="909.33" font-size="20.14" textLength="11.53" lengthAdjust="spacingAndGlyphs">6</text><text x="183.92" y="871.11" font-size="20.14" textLength="11.26" lengthAdjust="spacingAndGlyphs">8</text><g transform="rotate(-90 173.60 934.60)"><text x="158.28" y="934.60" font-size="25.44" textLength="16.51" lengthAdjust="spacingAndGlyphs">K</text><text x="174.44" y="934.60" font-size="25.44" textLength="14.35" lengthAdjust="spacingAndGlyphs">p</text></g><text x="235.55" y="1036.80" font-size="20.14" textLength="24.15" lengthAdjust="spacingAndGlyphs">07</text><text x="324.63" y="1036.80" font-size="20.14" textLength="24.34" lengthAdjust="spacingAndGlyphs">08</text><text x="413.89" y="1036.80" font-size="20.14" textLength="24.40" lengthAdjust="spacingAndGlyphs">09</text><text x="502.72" y="1036.80" font-size="20.14" textLength="24.25" lengthAdjust="spacingAndGlyphs">10</text><text x="592.24" y="1036.80" font-size="20.14" textLength="23.94" lengthAdjust="spacingAndGlyphs">11</text><text x="681.57" y="1036.80" font-size="20.14" textLength="23.81" lengthAdjust="spacingAndGlyphs">12</text><text x="770.61" y="1036.80" font-size="20.14" textLength="24.08" lengthAdjust="spacingAndGlyphs">13</text><text x="859.62" y="1036.80" font-size="20.14" textLength="24.23" lengthAdjust="spacingAndGlyphs">14</text><text x="456.42" y="1066.00" font-size="25.44" textLength="20.49" lengthAdjust="spacingAndGlyphs">M</text><text x="477.18" y="1066.00" font-size="25.44" textLength="12.92" lengthAdjust="spacingAndGlyphs">a</text><text x="492.58" y="1066.00" font-size="25.44" textLength="9.40" lengthAdjust="spacingAndGlyphs">r</text><text x="502.06" y="1066.00" font-size="25.44" textLength="12.34" lengthAdjust="spacingAndGlyphs">c</text><text x="515.67" y="1066.00" font-size="25.44" textLength="14.34" lengthAdjust="spacingAndGlyphs">h</text><text x="538.64" y="1066.00" font-size="25.44" textLength="13.82" lengthAdjust="spacingAndGlyphs">2</text><text x="554.21" y="1066.00" font-size="25.44" textLength="14.11" lengthAdjust="spacingAndGlyphs">0</text><text x="569.42" y="1066.00" font-size="25.44" textLength="13.82" lengthAdjust="spacingAndGlyphs">2</text><text x="584.98" y="1066.00" font-size="25.44" textLength="14.11" lengthAdjust="spacingAndGlyphs">0</text><text x="607.84" y="1066.00" font-size="25.44" textLength="7.48" lengthAdjust="spacingAndGlyphs">(</text><text x="616.90" y="1066.00" font-size="25.44" textLength="17.62" lengthAdjust="spacingAndGlyphs">U</text><text x="634.07" y="1066.00" font-size="25.44" textLength="15.79" lengthAdjust="spacingAndGlyphs">T</text><text x="650.88" y="1066.00" font-size="25.44" textLength="7.48" lengthAdjust="spacingAndGlyphs">)</text><rect x="207.3" y="852.3" width="88.1" height="67.2" rx="2.5" fill="#fff" fill-opacity="0.8" stroke="#cccccc" stroke-width="1"/><rect x="212.7" y="858.8" width="28.4" height="11.1" fill="#008000"/><text x="251.44" y="868.60" font-size="14.10" textLength="36.34" lengthAdjust="spacingAndGlyphs">Kp&lt;3</text><rect x="212.7" y="879.8" width="28.4" height="11.1" fill="#bfbf00"/><text x="251.44" y="889.60" font-size="14.10" textLength="36.20" lengthAdjust="spacingAndGlyphs">Kp&lt;5</text><rect x="212.7" y="900.8" width="28.4" height="11.1" fill="#ff0000"/><text x="251.44" y="910.60" font-size="14.10" textLength="36.20" lengthAdjust="spacingAndGlyphs">Kp&gt;5</text><line x1="1205.00" y1="282.50" x2="1800.00" y2="282.50" stroke="#000" stroke-width="2" stroke-dasharray="2 3.5"/><line x1="1726.02" y1="110.00" x2="1726.02" y2="455.00" stroke="#1f77b4" stroke-width="2" stroke-dasharray="2 3.5"/><g clip-path="url(#c4)"><polyline points="1205.0,241.7 1205.4,250.2 1205.8,272.1 1206.2,260.8 1206.6,245.2 1207.0,243.9 1207.4,254.2 1207.8,277.4 1208.2,251.8 1208.6,253.8 1209.0,268.4 1209.4,278.0 1209.8,283.4 1210.2,288.7 1210.6,286.3 1211.0,280.7 1211.4,259.2 1211.8,253.9 1212.2,244.7 1212.6,260.7 1213.0,262.5 1213.4,265.1 1213.8,259.2 1214.2,258.3 1214.6,262.9 1215.0,274.2 1215.4,289.0 1215.8,290.3 1216.2,270.8 1216.6,281.4 1217.0,272.4 1217.4,276.2 1217.8,289.8 1218.2,297.1 1218.6,300.7 1219.0,309.2 1219.4,311.2 1219.8,310.8 1220.2,314.9 1220.6,308.1 1221.0,306.4 1221.4,309.7 1221.8,309.0 1222.2,311.3 1222.6,312.6 1223.0,308.9 1223.4,312.3 1223.8,310.2 1224.2,317.6 1224.6,316.6 1225.0,319.0 1225.4,319.0 1225.8,318.6 1226.2,316.9 1226.6,319.6 1227.0,319.2 1227.4,317.2 1227.8,319.0 1228.2,318.7 1228.6,314.7 1229.0,316.1 1229.4,314.8 1229.8,307.8 1230.2,300.7 1230.6,297.1 1231.0,296.0 1231.4,294.5 1231.8,293.1 1232.2,291.0 1232.6,278.8 1233.0,263.1 1233.4,256.1 1233.8,259.0 1234.2,269.1 1234.6,261.0 1235.0,266.4 1235.4,261.7 1235.8,264.9 1236.2,263.3 1236.6,259.6 1237.0,256.3 1237.4,261.5 1237.8,262.4 1238.2,288.7 1238.6,297.6 1239.0,288.8 1239.4,298.2 1239.8,289.6 1240.2,291.0 1240.6,296.7 1241.0,298.5 1241.4,304.9 1241.8,312.5 1242.2,307.8 1242.6,304.5 1243.0,306.1 1243.4,311.8 1243.8,307.2 1244.2,306.5 1244.6,297.9 1245.0,284.5 1245.4,293.4 1245.8,300.2 1246.2,292.8 1246.6,265.0 1247.0,261.7 1247.4,262.3 1247.8,266.4 1248.2,283.4 1248.6,269.1 1249.0,267.3 1249.4,272.6 1249.8,268.8 1250.2,245.4 1250.6,252.1 1251.0,263.2 1251.4,260.8 1251.8,250.9 1252.2,246.0 1252.6,246.2 1253.0,249.5 1253.4,250.9 1253.8,248.8 1254.2,240.8 1254.6,238.8 1255.0,240.1 1255.4,238.2 1255.8,236.8 1256.2,238.3 1256.6,238.5 1257.0,239.6 1257.4,238.8 1257.8,234.5 1258.2,232.8 1258.6,233.5 1259.0,231.7 1259.4,232.6 1259.8,231.3 1260.2,232.7 1260.6,232.4 1261.0,231.1 1261.4,231.1 1261.8,232.0 1262.2,234.1 1262.6,232.6 1263.0,231.6 1263.4,227.1 1263.8,232.0 1264.2,233.7 1264.6,233.0 1265.0,231.1 1265.4,227.0 1265.8,228.0 1266.2,229.2 1266.6,235.8 1267.0,236.9 1267.4,234.5 1267.8,229.5 1268.2,234.6 1268.6,235.2 1269.0,228.6 1269.4,228.9 1269.8,230.1 1270.2,230.3 1270.6,235.3 1271.0,238.0 1271.4,237.1 1271.8,225.7 1272.2,225.3 1272.6,231.3 1273.0,235.7 1273.4,228.6 1273.8,231.2 1274.2,238.9 1274.6,245.2 1275.0,245.0 1275.4,247.1 1275.8,270.8 1276.2,290.5 1276.6,269.3 1277.0,255.4 1277.4,243.3 1277.8,267.6 1278.2,255.2 1278.6,279.7 1279.0,292.3 1279.4,269.1 1279.8,268.5 1280.2,267.3 1280.6,257.7 1281.0,257.6 1281.4,276.2 1281.8,265.6 1282.2,274.2 1282.6,293.7 1283.0,287.0 1283.4,287.1 1283.8,291.1 1284.2,280.1 1284.6,281.4 1285.0,275.2 1285.4,256.1 1285.8,276.3 1286.2,250.9 1286.6,249.0 1287.0,249.8 1287.4,250.1 1287.8,278.0 1288.2,281.7 1288.6,294.4 1289.0,281.7 1289.4,265.6 1289.8,264.4 1290.2,280.2 1290.6,268.5 1291.0,293.8 1291.4,299.5 1291.8,290.0 1292.2,299.6 1292.6,282.0 1293.0,290.8 1293.4,290.7 1293.8,288.8 1294.2,290.1 1294.6,294.9 1295.0,301.1 1295.4,306.5 1295.8,296.0 1296.2,292.1 1296.6,306.4 1297.0,306.8 1297.4,311.7 1297.8,304.6 1298.2,306.4 1298.6,308.2 1299.0,308.3 1299.4,300.1 1299.8,291.5 1300.2,285.7 1300.6,302.9 1301.0,310.2 1301.4,308.9 1301.8,311.2 1302.2,311.7 1302.6,310.3 1303.0,308.3 1303.4,305.0 1303.8,292.7 1304.2,286.5 1304.6,302.6 1305.0,307.9 1305.4,308.4 1305.8,306.1 1306.2,306.6 1306.6,309.8 1307.0,303.5 1307.4,305.2 1307.8,307.4 1308.2,300.1 1308.6,292.5 1309.0,285.4 1309.4,292.9 1309.8,301.2 1310.2,289.1 1310.6,286.7 1311.0,287.6 1311.4,287.1 1311.8,288.1 1312.2,298.0 1312.6,298.6 1313.0,297.4 1313.4,292.4 1313.8,291.5 1314.2,298.7 1314.6,295.6 1315.0,287.0 1315.4,295.6 1315.8,287.6 1316.2,296.4 1316.6,304.1 1317.0,306.3 1317.4,304.5 1317.8,298.3 1318.2,294.0 1318.6,299.2 1319.0,305.0 1319.4,294.4 1319.8,292.3 1320.2,289.9 1320.6,296.9 1321.0,307.3 1321.4,297.8 1321.8,306.6 1322.2,303.8 1322.6,300.7 1323.0,296.0 1323.4,293.3 1323.8,297.7 1324.2,288.5 1324.6,297.5 1325.0,302.4 1325.4,303.6 1325.8,292.0 1326.2,286.3 1326.6,289.9 1327.0,283.2 1327.4,274.6 1327.8,299.1 1328.2,306.9 1328.6,295.0 1329.0,303.4 1329.4,300.8 1329.8,268.0 1330.2,256.2 1330.6,252.0 1331.0,253.0 1331.4,256.2 1331.8,255.6 1332.2,259.8 1332.6,259.1 1333.0,266.5 1333.4,296.4 1333.8,305.5 1334.2,309.6 1334.6,283.5 1335.0,283.1 1335.4,297.9 1335.8,274.9 1336.2,294.6 1336.6,287.8 1337.0,295.0 1337.4,292.7 1337.8,296.7 1338.2,317.8 1338.6,310.8 1339.0,297.9 1339.4,284.4 1339.8,271.4 1340.2,283.6 1340.6,274.3 1341.0,271.2 1341.4,286.2 1341.8,306.0 1342.2,276.3 1342.6,284.3 1343.0,312.6 1343.4,294.6 1343.8,290.4 1344.2,277.2 1344.6,266.5 1345.0,261.8 1345.4,259.1 1345.8,257.2 1346.2,255.7 1346.6,267.9 1347.0,265.6 1347.4,260.0 1347.8,270.7 1348.2,259.8 1348.6,255.7 1349.0,256.8 1349.4,257.9 1349.8,263.4 1350.2,261.0 1350.6,282.6 1351.0,276.5 1351.4,275.2 1351.8,280.0 1352.2,278.8 1352.6,279.8 1353.0,278.0 1353.4,259.4 1353.8,262.4 1354.2,263.7 1354.6,268.5 1355.0,280.5 1355.4,281.2 1355.8,279.1 1356.2,279.5 1356.6,277.6 1357.0,279.8 1357.4,280.2 1357.8,277.3 1358.2,272.7 1358.6,271.3 1359.0,283.8 1359.4,294.6 1359.8,294.1 1360.2,299.9 1360.6,297.6 1361.0,298.0 1361.4,301.2 1361.8,297.0 1362.2,296.3 1362.6,293.2 1363.0,296.9 1363.4,294.3 1363.8,294.0 1364.2,296.3 1364.6,303.8 1365.0,299.9 1365.4,295.0 1365.8,299.9 1366.2,293.7 1366.6,296.1 1367.0,292.7 1367.4,292.0 1367.8,299.5 1368.2,303.4 1368.6,300.4 1369.0,295.1 1369.4,304.8 1369.8,302.7 1370.2,290.8 1370.6,293.0 1371.0,290.9 1371.4,291.3 1371.8,300.5 1372.2,298.8 1372.6,300.7 1373.0,302.4 1373.4,286.7 1373.8,288.0 1374.2,279.3 1374.6,257.7 1375.0,272.7 1375.4,284.3 1375.8,285.6 1376.2,269.7 1376.6,276.4 1377.0,284.8 1377.4,283.1 1377.8,257.1 1378.2,256.0 1378.6,281.2 1379.0,280.7 1379.4,283.2 1379.8,289.4 1380.2,292.9 1380.6,295.2 1381.0,273.8 1381.4,265.8 1381.8,255.3 1382.2,249.7 1382.6,253.7 1383.0,264.5 1383.4,295.3 1383.8,244.1 1384.2,251.8 1384.6,248.8 1385.0,293.4 1385.4,286.4 1385.8,255.9 1386.2,264.2 1386.6,255.4 1387.0,274.1 1387.4,255.8 1387.8,254.7 1388.2,253.1 1388.6,253.7 1389.0,263.0 1389.4,276.8 1389.8,285.3 1390.2,302.9 1390.6,302.1 1391.0,285.4 1391.4,289.3 1391.8,299.2 1392.2,296.6 1392.6,296.4 1393.0,290.7 1393.4,272.6 1393.8,263.8 1394.2,287.8 1394.6,276.7 1395.0,265.1 1395.4,272.7 1395.8,262.0 1396.2,290.5 1396.6,287.6 1397.0,285.9 1397.4,291.5 1397.8,290.7 1398.2,264.3 1398.6,270.7 1399.0,271.2 1399.4,297.7 1399.8,280.9 1400.2,274.2 1400.6,291.2 1401.0,294.4 1401.4,279.8 1401.8,278.8 1402.2,274.6 1402.6,282.2 1403.0,295.8 1403.4,309.3 1403.8,310.2 1404.2,297.2 1404.6,281.8 1405.0,285.7 1405.4,307.9 1405.8,301.3 1406.2,290.0 1406.6,280.0 1407.0,283.8 1407.4,278.2 1407.8,275.3 1408.2,295.9 1408.6,295.9 1409.0,288.5 1409.4,282.7 1409.8,285.8 1410.2,285.4 1410.6,280.3 1411.0,283.5 1411.4,282.9 1411.8,297.4 1412.2,306.4 1412.6,309.4 1413.0,304.8 1413.4,309.3 1413.8,309.2 1414.2,287.8 1414.6,277.1 1415.0,277.0 1415.4,295.1 1415.8,291.3 1416.2,311.6 1416.6,310.9 1417.0,313.0 1417.4,307.8 1417.8,288.2 1418.2,274.9 1418.6,306.2 1419.0,312.6 1419.4,306.8 1419.8,307.7 1420.2,312.2 1420.6,301.4 1421.0,297.7 1421.4,292.0 1421.8,305.2 1422.2,297.7 1422.6,272.1 1423.0,264.7 1423.4,257.7 1423.8,269.1 1424.2,257.1 1424.6,275.5 1425.0,269.6 1425.4,297.4 1425.8,296.5 1426.2,299.2 1426.6,299.2 1427.0,304.2 1427.4,291.9 1427.8,296.2 1428.2,268.2 1428.6,291.6 1429.0,291.6 1429.4,286.3 1429.8,285.8 1430.2,283.0 1430.6,297.1 1431.0,299.6 1431.4,282.5 1431.8,290.8 1432.2,303.1 1432.6,301.1 1433.0,262.8 1433.4,265.0 1433.8,262.1 1434.2,279.0 1434.6,305.1 1435.0,301.2 1435.4,294.9 1435.8,290.2 1436.2,277.9 1436.6,265.9 1437.0,267.7 1437.4,272.8 1437.8,265.3 1438.2,264.9 1438.6,285.6 1439.0,293.6 1439.4,282.5 1439.8,285.9 1440.2,272.7 1440.6,267.5 1441.0,270.9 1441.4,280.4 1441.8,298.2 1442.2,297.7 1442.6,296.8 1443.0,286.7 1443.4,305.2 1443.8,289.8 1444.2,294.1 1444.6,275.8 1445.0,270.7 1445.4,278.7 1445.8,271.5 1446.2,283.1 1446.6,271.1 1447.0,277.1 1447.4,277.0 1447.8,268.4 1448.2,268.4 1448.6,305.7 1449.0,282.2 1449.4,267.4 1449.8,272.0 1450.2,273.0 1450.6,270.8 1451.0,285.5 1451.4,281.0 1451.8,276.6 1452.2,271.7 1452.6,270.7 1453.0,288.5 1453.4,299.0 1453.8,281.3 1454.2,275.8 1454.6,273.4 1455.0,284.1 1455.4,287.2 1455.8,298.4 1456.2,297.6 1456.6,274.7 1457.0,280.4 1457.4,283.0 1457.8,289.0 1458.2,273.3 1458.6,274.1 1459.0,277.0 1459.4,273.9 1459.8,278.1 1460.2,282.3 1460.6,271.2 1461.0,291.4 1461.4,280.4 1461.8,273.1 1462.2,287.1 1462.6,286.3 1463.0,282.1 1463.4,271.0 1463.8,276.1 1464.2,297.3 1464.6,297.2 1465.0,301.8 1465.4,304.3 1465.8,290.4 1466.2,284.3 1466.6,279.7 1467.0,269.2 1467.4,269.8 1467.8,269.4 1468.2,273.7 1468.6,293.0 1469.0,303.0 1469.4,299.1 1469.8,295.6 1470.2,275.2 1470.6,273.6 1471.0,280.7 1471.4,267.6 1471.8,283.8 1472.2,279.4 1472.6,284.1 1473.0,279.9 1473.4,269.2 1473.8,294.5 1474.2,280.3 1474.6,291.2 1475.0,284.4 1475.4,287.6 1475.8,278.3 1476.2,273.6 1476.6,284.0 1477.0,291.9 1477.4,282.5 1477.8,282.6 1478.2,292.5 1478.6,285.8 1479.0,292.9 1479.4,284.9 1479.8,290.7 1480.2,294.8 1480.6,286.2 1481.0,289.5 1481.4,278.4 1481.8,284.4 1482.2,274.7 1482.6,281.3 1483.0,294.0 1483.4,289.6 1483.8,285.0 1484.2,292.8 1484.6,292.7 1485.0,283.0 1485.4,280.3 1485.8,290.9 1486.2,288.5 1486.6,289.3 1487.0,286.7 1487.4,274.5 1487.8,273.7 1488.2,276.3 1488.6,277.7 1489.0,276.5 1489.4,283.1 1489.8,291.5 1490.2,286.6 1490.6,289.2 1491.0,284.6 1491.4,281.6 1491.8,277.6 1492.2,279.6 1492.6,290.4 1493.0,279.5 1493.4,278.0 1493.8,273.5 1494.2,277.0 1494.6,286.1 1495.0,284.2 1495.4,276.9 1495.8,277.5 1496.2,275.4 1496.6,283.3 1497.0,292.9 1497.4,287.5 1497.8,294.2 1498.2,281.0 1498.6,291.6 1499.0,277.6 1499.4,287.6 1499.8,273.7 1500.2,286.6 1500.6,283.0 1501.0,275.4 1501.4,273.2 1501.8,276.3 1502.2,276.6 1502.6,272.2 1503.0,274.6 1503.4,273.1 1503.8,294.4 1504.2,290.5 1504.6,293.9 1505.0,294.0 1505.4,287.6 1505.8,281.8 1506.2,286.4 1506.6,292.6 1507.0,292.9 1507.4,286.1 1507.8,293.3 1508.2,292.4 1508.6,287.5 1509.0,290.3 1509.4,291.5 1509.8,277.6 1510.2,274.4 1510.6,277.8 1511.0,278.6 1511.4,280.6 1511.8,285.1 1512.2,286.1 1512.6,286.1 1513.0,282.1 1513.4,279.4 1513.8,281.6 1514.2,286.5 1514.6,290.5 1515.0,281.9 1515.4,278.8 1515.8,286.3 1516.2,289.2 1516.6,282.6 1517.0,281.8 1517.4,286.5 1517.8,289.7 1518.2,286.8 1518.6,275.0 1519.0,276.9 1519.4,275.0 1519.8,275.5 1520.2,288.9 1520.6,287.1 1521.0,289.0 1521.4,283.5 1521.8,276.2 1522.2,274.8 1522.6,274.9 1523.0,288.1 1523.4,285.6 1523.8,281.6 1524.2,289.2 1524.6,289.9 1525.0,281.4 1525.4,290.5 1525.8,288.4 1526.2,278.9 1526.6,281.2 1527.0,284.9 1527.4,282.4 1527.8,287.7 1528.2,292.4 1528.6,285.6 1529.0,273.8 1529.4,288.5 1529.8,287.5 1530.2,290.5 1530.6,289.6 1531.0,287.4 1531.4,285.8 1531.8,286.0 1532.2,294.5 1532.6,281.2 1533.0,287.3 1533.4,290.9 1533.8,290.2 1534.2,286.3 1534.6,276.0 1535.0,277.2 1535.4,289.3 1535.8,285.7 1536.2,291.1 1536.6,284.1 1537.0,286.8 1537.4,275.3 1537.8,279.4 1538.2,276.5 1538.6,280.1 1539.0,272.2 1539.4,269.7 1539.8,264.8 1540.2,278.7 1540.6,298.8 1541.0,294.1 1541.4,292.3 1541.8,293.6 1542.2,295.5 1542.6,278.3 1543.0,281.7 1543.4,272.2 1543.8,283.6 1544.2,290.4 1544.6,290.2 1545.0,270.4 1545.4,275.3 1545.8,280.9 1546.2,270.8 1546.6,278.4 1547.0,279.0 1547.4,277.6 1547.8,271.9 1548.2,276.1 1548.6,272.7 1549.0,286.9 1549.4,288.5 1549.8,290.1 1550.2,285.0 1550.6,280.1 1551.0,275.7 1551.4,271.3 1551.8,278.2 1552.2,276.1 1552.6,282.9 1553.0,273.8 1553.4,281.1 1553.8,280.9 1554.2,286.2 1554.6,285.4 1555.0,278.4 1555.4,287.9 1555.8,284.5 1556.2,283.3 1556.6,276.3 1557.0,277.9 1557.4,274.8 1557.8,277.1 1558.2,279.8 1558.6,274.4 1559.0,276.8 1559.4,280.2 1559.8,287.5 1560.2,291.2 1560.6,282.4 1561.0,287.8 1561.4,291.5 1561.8,294.4 1562.2,291.2 1562.6,288.8 1563.0,291.2 1563.4,293.0 1563.8,288.8 1564.2,275.6 1564.6,274.8 1565.0,276.9 1565.4,284.7 1565.8,278.3 1566.2,284.4 1566.6,283.1 1567.0,284.2 1567.4,273.4 1567.8,282.9 1568.2,301.2 1568.6,299.4 1569.0,292.0 1569.4,280.1 1569.8,289.7 1570.2,291.0 1570.6,282.7 1571.0,295.9 1571.4,302.9 1571.8,298.1 1572.2,279.3 1572.6,278.3 1573.0,285.3 1573.4,276.9 1573.8,287.3 1574.2,303.3 1574.6,296.4 1575.0,288.6 1575.4,280.9 1575.8,291.6 1576.2,303.1 1576.6,296.9 1577.0,303.9 1577.4,303.0 1577.8,298.5 1578.2,277.4 1578.6,286.5 1579.0,303.8 1579.4,298.6 1579.8,293.3 1580.2,300.8 1580.6,305.2 1581.0,289.7 1581.4,281.7 1581.8,285.7 1582.2,308.8 1582.6,300.8 1583.0,308.4 1583.4,289.0 1583.8,308.9 1584.2,294.6 1584.6,306.9 1585.0,293.1 1585.4,289.3 1585.8,281.3 1586.2,280.4 1586.6,309.9 1587.0,291.2 1587.4,297.6 1587.8,284.0 1588.2,298.6 1588.6,310.0 1589.0,302.5 1589.4,291.1 1589.8,291.3 1590.2,318.1 1590.6,313.8 1591.0,299.3 1591.4,289.2 1591.8,286.2 1592.2,303.8 1592.6,307.7 1593.0,274.1 1593.4,268.7 1593.8,255.3 1594.2,256.4 1594.6,257.0 1595.0,276.1 1595.4,246.8 1595.8,274.0 1596.2,276.2 1596.6,271.7 1597.0,282.2 1597.4,311.9 1597.8,322.1 1598.2,306.8 1598.6,292.4 1599.0,286.1 1599.4,268.1 1599.8,266.8 1600.2,267.0 1600.6,258.7 1601.0,261.4 1601.4,259.8 1601.8,262.6 1602.2,264.8 1602.6,292.8 1603.0,285.4 1603.4,264.0 1603.8,268.1 1604.2,272.3 1604.6,267.8 1605.0,269.5 1605.4,282.6 1605.8,300.9 1606.2,306.5 1606.6,302.6 1607.0,269.2 1607.4,267.4 1607.8,278.6 1608.2,279.2 1608.6,262.3 1609.0,280.2 1609.4,276.4 1609.8,280.7 1610.2,297.5 1610.6,295.0 1611.0,300.9 1611.4,294.9 1611.8,265.9 1612.2,263.1 1612.6,283.4 1613.0,283.8 1613.4,267.5 1613.8,261.5 1614.2,264.1 1614.6,279.2 1615.0,294.2 1615.4,274.8 1615.8,274.6 1616.2,303.4 1616.6,313.3 1617.0,299.1 1617.4,296.9 1617.8,290.2 1618.2,309.1 1618.6,310.0 1619.0,317.1 1619.4,273.6 1619.8,278.0 1620.2,266.3 1620.6,293.0 1621.0,262.8 1621.4,281.0 1621.8,287.5 1622.2,320.6 1622.6,276.3 1623.0,263.1 1623.4,297.0 1623.8,322.1 1624.2,308.3 1624.6,323.9 1625.0,325.5 1625.4,326.0 1625.8,327.6 1626.2,310.1 1626.6,306.2 1627.0,315.4 1627.4,308.6 1627.8,277.2 1628.2,255.9 1628.6,271.2 1629.0,263.4 1629.4,258.4 1629.8,317.5 1630.2,329.1 1630.6,317.0 1631.0,312.9 1631.4,275.5 1631.8,256.4 1632.2,261.9 1632.6,264.8 1633.0,250.4 1633.4,312.4 1633.8,325.2 1634.2,311.7 1634.6,317.9 1635.0,294.4 1635.4,276.7 1635.8,277.9 1636.2,285.9 1636.6,252.3 1637.0,261.2 1637.4,291.2 1637.8,296.5 1638.2,261.7 1638.6,271.9 1639.0,275.4 1639.4,272.5 1639.8,252.9 1640.2,290.7 1640.6,263.4 1641.0,260.5 1641.4,248.2 1641.8,244.2 1642.2,282.4 1642.6,273.4 1643.0,276.8 1643.4,280.4 1643.8,301.2 1644.2,297.5 1644.6,281.9 1645.0,289.7 1645.4,305.8 1645.8,284.2 1646.2,245.1 1646.6,256.9 1647.0,287.1 1647.4,316.9 1647.8,293.1 1648.2,297.9 1648.6,321.2 1649.0,285.8 1649.4,266.3 1649.8,259.5 1650.2,305.6 1650.6,276.8 1651.0,326.9 1651.4,290.0 1651.8,304.9 1652.2,295.4 1652.6,293.8 1653.0,272.2 1653.4,256.6 1653.8,256.5 1654.2,316.4 1654.6,328.3 1655.0,326.2 1655.4,327.4 1655.8,302.6 1656.2,295.2 1656.6,334.7 1657.0,309.6 1657.4,297.2 1657.8,306.3 1658.2,305.9 1658.6,251.2 1659.0,265.0 1659.4,281.1 1659.8,333.5 1660.2,312.1 1660.6,312.0 1661.0,266.3 1661.4,249.7 1661.8,271.5 1662.2,309.4 1662.6,317.6 1663.0,278.5 1663.4,277.2 1663.8,275.1 1664.2,259.3 1664.6,270.2 1665.0,289.5 1665.4,283.5 1665.8,287.2 1666.2,268.4 1666.6,250.4 1667.0,260.4 1667.4,286.9 1667.8,306.7 1668.2,319.3 1668.6,265.6 1669.0,268.9 1669.4,304.6 1669.8,311.9 1670.2,318.2 1670.6,309.5 1671.0,309.1 1671.4,269.8 1671.8,256.5 1672.2,296.3 1672.6,269.8 1673.0,276.6 1673.4,291.3 1673.8,324.1 1674.2,327.1 1674.6,298.6 1675.0,310.2 1675.4,305.6 1675.8,296.2 1676.2,299.8 1676.6,322.3 1677.0,291.1 1677.4,276.7 1677.8,281.4 1678.2,262.5 1678.6,275.9 1679.0,293.2 1679.4,314.1 1679.8,317.4 1680.2,294.7 1680.6,273.5 1681.0,270.5 1681.4,302.7 1681.8,291.4 1682.2,314.3 1682.6,307.0 1683.0,306.0 1683.4,302.8 1683.8,294.6 1684.2,311.8 1684.6,277.6 1685.0,298.2 1685.4,306.0 1685.8,295.9 1686.2,306.5 1686.6,306.9 1687.0,305.4 1687.4,271.3 1687.8,273.5 1688.2,284.2 1688.6,283.2 1689.0,255.3 1689.4,264.0 1689.8,277.2 1690.2,280.6 1690.6,288.3 1691.0,282.5 1691.4,272.0 1691.8,281.0 1692.2,275.9 1692.6,279.1 1693.0,278.6 1693.4,289.0 1693.8,290.9 1694.2,270.0 1694.6,272.0 1695.0,281.9 1695.4,274.2 1695.8,272.3 1696.2,291.6 1696.6,297.5 1697.0,291.2 1697.4,298.3 1697.8,286.9 1698.2,285.3 1698.6,295.3 1699.0,297.8 1699.4,295.7 1699.8,292.9 1700.2,284.7 1700.6,297.0 1701.0,292.6 1701.4,283.2 1701.8,291.0 1702.2,284.4 1702.6,276.3 1703.0,287.1 1703.4,276.0 1703.8,286.4 1704.2,288.1 1704.6,295.7 1705.0,296.1 1705.4,290.2 1705.8,292.9 1706.2,297.3 1706.6,295.1 1707.0,290.3 1707.4,287.1 1707.8,294.6 1708.2,286.7 1708.6,286.1 1709.0,289.2 1709.4,285.4 1709.8,283.3 1710.2,285.1 1710.6,282.7 1711.0,276.9 1711.4,276.8 1711.8,278.0 1712.2,280.1 1712.6,284.4 1713.0,279.4 1713.4,287.7 1713.8,286.6 1714.2,282.2 1714.6,280.1 1715.0,282.5 1715.4,287.0 1715.8,285.0 1716.2,285.6 1716.6,277.6 1717.0,278.4 1717.4,277.9 1717.8,278.7 1718.2,282.7 1718.6,288.8 1719.0,285.7 1719.4,282.3 1719.8,288.4 1720.2,286.8 1720.6,286.5 1721.0,284.1 1721.4,285.6 1721.8,287.3 1722.2,286.8 1722.6,285.9 1723.0,285.2 1723.4,283.8 1723.8,285.8 1724.2,283.9 1724.6,283.0 1725.0,282.1 1725.4,280.1 1725.8,279.5 1726.2,279.0 1726.6,279.4" fill="none" stroke="#000" stroke-width="2.6" stroke-linejoin="round" stroke-linecap="round" /></g><g clip-path="url(#c4)"><polyline points="1206.0,335.8 1206.7,336.0 1207.4,336.0 1208.1,336.4 1208.8,335.4 1209.5,335.4 1210.2,331.1 1210.9,330.2 1211.6,331.5 1212.3,331.0 1213.0,331.8 1213.7,328.6 1214.4,328.2 1215.1,326.9 1215.8,327.2 1216.5,327.5 1217.2,325.1 1217.9,324.4 1218.6,324.2 1219.3,326.8 1220.0,327.6 1220.7,325.4 1221.4,326.7 1222.1,324.5 1222.8,325.2 1223.5,323.4 1224.2,321.7 1224.9,324.5 1225.6,324.0 1226.3,324.1 1227.0,327.7 1227.7,329.7 1228.4,328.7 1229.1,331.2 1229.8,331.2 1230.5,332.1 1231.2,329.7 1231.9,330.9 1232.6,330.2 1233.3,330.6 1234.0,330.2 1234.7,327.0 1235.4,325.0 1236.1,323.5 1236.8,322.6 1237.5,321.8 1238.2,322.5 1238.9,324.3 1239.6,322.8 1240.3,324.5 1241.0,323.3 1241.7,322.2 1242.4,323.4 1243.1,322.4 1243.8,320.7 1244.5,320.1 1245.2,320.6 1245.9,318.6 1246.6,321.5 1247.3,319.1 1248.0,320.9 1248.7,322.5 1249.4,319.8 1250.1,321.7 1250.8,321.1 1251.5,321.7 1252.2,319.7 1252.9,318.7 1253.6,318.7 1254.3,322.3 1255.0,321.7 1255.7,324.2 1256.4,326.9 1257.1,328.8 1257.8,327.7 1258.5,327.5 1259.2,328.3 1259.9,330.0 1260.6,328.2 1261.3,330.2 1262.0,331.8 1262.7,333.2 1263.4,330.6 1264.1,333.3 1264.8,331.3 1265.5,331.5 1266.2,332.8 1266.9,335.0 1267.6,333.8 1268.3,335.8 1269.0,335.4 1269.7,334.3 1270.4,333.7 1271.1,332.8 1271.8,331.9 1272.5,331.8 1273.2,333.9 1273.9,335.7 1274.6,332.8 1275.3,330.2 1276.0,332.5 1276.7,331.5 1277.4,330.0 1278.1,328.3 1278.8,329.9 1279.5,332.1 1280.2,332.1 1280.9,332.2 1281.6,331.0 1282.3,334.3 1283.0,331.9 1283.7,331.5 1284.4,332.4 1285.1,329.4 1285.8,329.8 1286.5,330.7 1287.2,329.3 1287.9,327.3 1288.6,321.1 1289.3,317.3 1290.0,313.2 1290.7,315.0 1291.4,313.5 1292.1,313.1 1292.8,315.0 1293.5,315.6 1294.2,317.8 1294.9,317.3 1295.6,317.6 1296.3,319.3 1297.0,319.6 1297.7,320.9 1298.4,323.1 1299.1,324.3 1299.8,324.8 1300.5,326.9 1301.2,327.8 1301.9,326.6 1302.6,325.0 1303.3,323.1 1304.0,320.5 1304.7,319.5 1305.4,320.9 1306.1,321.8 1306.8,319.9 1307.5,320.3 1308.2,321.3 1308.9,321.8 1309.6,322.2 1310.3,323.1 1311.0,322.1 1311.7,323.2 1312.4,322.2 1313.1,322.4 1313.8,323.8 1314.5,324.4 1315.2,323.0 1315.9,325.2 1316.6,325.2 1317.3,325.3 1318.0,323.2 1318.7,324.7 1319.4,324.5 1320.1,326.5 1320.8,327.1 1321.5,329.3 1322.2,330.2 1322.9,331.6 1323.6,330.8 1324.3,331.8 1325.0,332.8 1325.7,334.0 1326.4,332.8 1327.1,334.3 1327.8,335.6 1328.5,335.7 1329.2,337.2 1329.9,338.1 1330.6,336.8 1331.3,336.2 1332.0,334.4 1332.7,336.3 1333.4,338.1 1334.1,337.2 1334.8,337.7 1335.5,338.3 1336.2,338.7 1336.9,336.2 1337.6,337.3 1338.3,337.1 1339.0,337.2 1339.7,336.2 1340.4,336.4 1341.1,337.1 1341.8,336.9 1342.5,337.4 1343.2,334.6 1343.9,333.6 1344.6,334.3 1345.3,335.7 1346.0,334.6 1346.7,336.1 1347.4,336.8 1348.1,334.7 1348.8,335.3 1349.5,334.4 1350.2,332.9 1350.9,332.2 1351.6,332.4 1352.3,331.9 1353.0,331.5 1353.7,330.4 1354.4,331.5 1355.1,331.7 1355.8,332.7 1356.5,333.1 1357.2,331.9 1357.9,334.4 1358.6,332.0 1359.3,332.4 1360.0,332.2 1360.7,332.7 1361.4,331.8 1362.1,334.5 1362.8,334.2 1363.5,332.6 1364.2,334.3 1364.9,333.1 1365.6,334.4 1366.3,334.4 1367.0,335.5 1367.7,337.9 1368.4,338.9 1369.1,337.6 1369.8,338.4 1370.5,338.2 1371.2,336.8 1371.9,334.9 1372.6,335.8 1373.3,336.1 1374.0,338.0 1374.7,339.2 1375.4,338.3 1376.1,336.6 1376.8,337.9 1377.5,334.7 1378.2,333.3 1378.9,334.4 1379.6,335.3 1380.3,333.7 1381.0,335.0 1381.7,337.0 1382.4,336.0 1383.1,335.7 1383.8,334.7 1384.5,334.4 1385.2,337.3 1385.9,336.5 1386.6,338.6 1387.3,339.8 1388.0,339.1 1388.7,337.3 1389.4,339.4 1390.1,338.6 1390.8,337.8 1391.5,337.0 1392.2,339.5 1392.9,338.6 1393.6,337.1 1394.3,336.9 1395.0,335.2 1395.7,336.3 1396.4,336.1 1397.1,335.2 1397.8,336.8 1398.5,337.8 1399.2,334.8 1399.9,335.2 1400.6,334.3 1401.3,336.5 1402.0,336.9 1402.7,334.1 1403.4,332.2 1404.1,330.2 1404.8,332.4 1405.5,330.2 1406.2,330.0 1406.9,329.2 1407.6,329.4 1408.3,329.2 1409.0,329.5 1409.7,326.7 1410.4,327.7 1411.1,326.1 1411.8,326.0 1412.5,325.1 1413.2,325.1 1413.9,326.3 1414.6,327.0 1415.3,327.2 1416.0,329.2 1416.7,330.0 1417.4,328.2 1418.1,328.4 1418.8,329.3 1419.5,331.9 1420.2,333.4 1420.9,332.8 1421.6,330.3 1422.3,332.1 1423.0,331.8 1423.7,332.3 1424.4,333.3 1425.1,333.6 1425.8,333.2 1426.5,334.9 1427.2,333.7 1427.9,332.8 1428.6,333.4 1429.3,330.5 1430.0,328.8 1430.7,329.8 1431.4,326.9 1432.1,329.8 1432.8,331.2 1433.5,331.3 1434.2,331.0 1434.9,333.4 1435.6,335.7 1436.3,334.0 1437.0,334.9 1437.7,335.8 1438.4,336.2 1439.1,336.0 1439.8,335.2 1440.5,336.9 1441.2,339.1 1441.9,337.4 1442.6,336.7 1443.3,338.9 1444.0,340.0 1444.7,340.0 1445.4,337.3 1446.1,338.6 1446.8,340.5 1447.5,341.7 1448.2,341.1 1448.9,337.8 1449.6,339.3 1450.3,337.4 1451.0,338.2 1451.7,340.0 1452.4,340.1 1453.1,337.6 1453.8,336.9 1454.5,339.2 1455.2,337.2 1455.9,338.1 1456.6,337.8 1457.3,336.5 1458.0,337.8 1458.7,336.1 1459.4,335.3 1460.1,336.1 1460.8,335.3 1461.5,334.7 1462.2,336.7 1462.9,338.6 1463.6,340.5 1464.3,338.4 1465.0,338.5 1465.7,338.1 1466.4,339.2 1467.1,339.4 1467.8,341.5 1468.5,340.4 1469.2,338.4 1469.9,340.0 1470.6,338.7 1471.3,340.1 1472.0,340.4 1472.7,342.4 1473.4,342.1 1474.1,342.3 1474.8,340.8 1475.5,341.2 1476.2,340.2 1476.9,341.8 1477.6,341.7 1478.3,340.1 1479.0,339.5 1479.7,339.8 1480.4,341.7 1481.1,340.3 1481.8,341.9 1482.5,342.6 1483.2,340.6 1483.9,342.0 1484.6,340.3 1485.3,339.4 1486.0,341.0 1486.7,340.5 1487.4,343.0 1488.1,342.8 1488.8,342.1 1489.5,343.9 1490.2,341.6 1490.9,343.4 1491.6,341.6 1492.3,341.1 1493.0,344.4 1493.7,345.2 1494.4,343.8 1495.1,342.5 1495.8,345.7 1496.5,346.2 1497.2,347.4 1497.9,345.1 1498.6,346.0 1499.3,345.4 1500.0,344.6 1500.7,344.7 1501.4,346.0 1502.1,345.7 1502.8,345.8 1503.5,344.8 1504.2,347.4 1504.9,348.2 1505.6,349.5 1506.3,348.7 1507.0,350.1 1507.7,349.6 1508.4,349.7 1509.1,349.8 1509.8,350.6 1510.5,349.5 1511.2,347.5 1511.9,345.9 1512.6,345.8 1513.3,344.9 1514.0,348.1 1514.7,348.2 1515.4,349.5 1516.1,346.9 1516.8,347.4 1517.5,349.5 1518.2,349.6 1518.9,348.8 1519.6,348.4 1520.3,346.6 1521.0,345.7 1521.7,345.2 1522.4,345.8 1523.1,346.2 1523.8,348.6 1524.5,346.8 1525.2,346.5 1525.9,346.5 1526.6,346.1 1527.3,346.5 1528.0,346.7 1528.7,347.9 1529.4,346.8 1530.1,350.2 1530.8,349.9 1531.5,352.3 1532.2,352.8 1532.9,353.1 1533.6,352.5 1534.3,354.4 1535.0,351.6 1535.7,351.9 1536.4,350.2 1537.1,350.7 1537.8,351.0 1538.5,348.5 1539.2,346.9 1539.9,345.0 1540.6,344.6 1541.3,343.4 1542.0,344.0 1542.7,346.6 1543.4,345.3 1544.1,344.4 1544.8,344.5 1545.5,343.8 1546.2,345.3 1546.9,346.0 1547.6,344.0 1548.3,343.1 1549.0,344.4 1549.7,346.3 1550.4,346.1 1551.1,345.0 1551.8,346.7 1552.5,343.4 1553.2,341.7 1553.9,344.0 1554.6,343.8 1555.3,342.1 1556.0,343.4 1556.7,346.1 1557.4,345.8 1558.1,344.9 1558.8,343.2 1559.5,342.2 1560.2,345.3 1560.9,345.4 1561.6,347.5 1562.3,344.9 1563.0,344.2 1563.7,343.1 1564.4,343.9 1565.1,343.0 1565.8,343.4 1566.5,344.3 1567.2,344.5 1567.9,343.5 1568.6,342.9 1569.3,346.7 1570.0,345.5 1570.7,346.2 1571.4,346.2 1572.1,346.8 1572.8,345.2 1573.5,345.3 1574.2,344.4 1574.9,345.9 1575.6,348.4 1576.3,348.6 1577.0,349.8 1577.7,347.7 1578.4,345.6 1579.1,346.7 1579.8,347.2 1580.5,347.8 1581.2,347.4 1581.9,348.2 1582.6,349.2 1583.3,350.6 1584.0,348.8 1584.7,348.4 1585.4,349.8 1586.1,348.1 1586.8,346.2 1587.5,345.3 1588.2,343.5 1588.9,345.1 1589.6,345.9 1590.3,343.9 1591.0,341.5 1591.7,339.6 1592.4,338.8 1593.1,337.3 1593.8,337.6 1594.5,338.2 1595.2,336.7 1595.9,334.7 1596.6,336.0 1597.3,333.6 1598.0,332.5 1598.7,332.6 1599.4,333.0 1600.1,332.0 1600.8,332.8 1601.5,332.8 1602.2,334.7 1602.9,334.9 1603.6,336.6 1604.3,336.4 1605.0,336.8 1605.7,336.2 1606.4,335.2 1607.1,336.2 1607.8,336.1 1608.5,337.3 1609.2,337.0 1609.9,336.7 1610.6,334.5 1611.3,335.6 1612.0,334.4 1612.7,332.5 1613.4,331.2 1614.1,330.9 1614.8,331.1 1615.5,333.1 1616.2,332.6 1616.9,331.4 1617.6,333.8 1618.3,334.3 1619.0,332.3 1619.7,331.3 1620.4,331.0 1621.1,331.9 1621.8,334.7 1622.5,336.8 1623.2,336.6 1623.9,334.8 1624.6,334.6 1625.3,334.3 1626.0,333.9 1626.7,332.4 1627.4,333.6 1628.1,335.1 1628.8,335.3 1629.5,332.5 1630.2,332.5 1630.9,330.7 1631.6,331.8 1632.3,331.1 1633.0,332.6 1633.7,332.7 1634.4,329.6 1635.1,328.5 1635.8,331.3 1636.5,331.1 1637.2,331.1 1637.9,331.4 1638.6,333.2 1639.3,335.2 1640.0,333.7 1640.7,332.8 1641.4,329.8 1642.1,324.9 1642.8,324.2 1643.5,321.1 1644.2,316.7 1644.9,317.3 1645.6,312.6 1646.3,312.1 1647.0,310.8 1647.7,311.3 1648.4,308.9 1649.1,306.1 1649.8,304.1 1650.5,311.8 1651.2,317.9 1651.9,314.3 1652.6,312.5 1653.3,311.6 1654.0,312.4 1654.7,312.8 1655.4,316.6 1656.1,318.7 1656.8,320.5 1657.5,320.9 1658.2,320.6 1658.9,319.7 1659.6,322.6 1660.3,322.8 1661.0,320.7 1661.7,320.0 1662.4,319.3 1663.1,321.7 1663.8,323.9 1664.5,322.3 1665.2,323.9 1665.9,322.8 1666.6,323.8 1667.3,325.2 1668.0,325.1 1668.7,325.8 1669.4,324.1 1670.1,319.9 1670.8,318.8 1671.5,317.8 1672.2,314.7 1672.9,313.1 1673.6,311.1 1674.3,307.9 1675.0,306.5 1675.7,305.3 1676.4,304.3 1677.1,306.0 1677.8,305.7 1678.5,308.2 1679.2,309.0 1679.9,310.1 1680.6,309.8 1681.3,309.5 1682.0,308.9 1682.7,309.8 1683.4,308.4 1684.1,308.7 1684.8,309.2 1685.5,308.3 1686.2,306.5 1686.9,304.3 1687.6,302.8 1688.3,302.9 1689.0,303.8 1689.7,304.9 1690.4,305.2 1691.1,303.3 1691.8,304.8 1692.5,302.6 1693.2,303.4 1693.9,301.7 1694.6,303.9 1695.3,305.0 1696.0,307.2 1696.7,308.4 1697.4,308.5 1698.1,309.4 1698.8,309.7 1699.5,309.6 1700.2,307.9 1700.9,308.5 1701.6,310.8 1702.3,309.4 1703.0,312.1 1703.7,311.9 1704.4,310.6 1705.1,308.0 1705.8,308.1 1706.5,307.1 1707.2,308.4 1707.9,310.3 1708.6,311.3 1709.3,310.5 1710.0,308.9 1710.7,306.3 1711.4,305.0 1712.1,302.5 1712.8,300.6 1713.5,298.4 1714.2,299.5 1714.9,297.0 1715.6,295.7 1716.3,294.5 1717.0,295.1 1717.7,296.5 1718.4,300.0 1719.1,305.0 1719.8,306.7 1720.5,305.7 1721.2,304.5 1721.9,306.4 1722.6,308.9 1723.3,310.8 1724.0,311.6 1724.7,311.0 1725.4,310.9 1726.1,311.5" fill="none" stroke="#ff0000" stroke-width="2.7" stroke-linejoin="round" stroke-linecap="round" /></g><line x1="1205.00" y1="411.50" x2="1211.00" y2="411.50" stroke="#000" stroke-width="1.0" /><line x1="1205.00" y1="368.50" x2="1211.00" y2="368.50" stroke="#000" stroke-width="1.0" /><line x1="1205.00" y1="325.50" x2="1211.00" y2="325.50" stroke="#000" stroke-width="1.0" /><line x1="1205.00" y1="282.50" x2="1211.00" y2="282.50" stroke="#000" stroke-width="1.0" /><line x1="1205.00" y1="239.50" x2="1211.00" y2="239.50" stroke="#000" stroke-width="1.0" /><line x1="1205.00" y1="196.50" x2="1211.00" y2="196.50" stroke="#000" stroke-width="1.0" /><line x1="1205.00" y1="153.50" x2="1211.00" y2="153.50" stroke="#000" stroke-width="1.0" /><line x1="1800.00" y1="386.50" x2="1795.00" y2="386.50" stroke="#ff0000" stroke-width="1.0" /><line x1="1800.00" y1="317.50" x2="1795.00" y2="317.50" stroke="#ff0000" stroke-width="1.0" /><line x1="1800.00" y1="248.50" x2="1795.00" y2="248.50" stroke="#ff0000" stroke-width="1.0" /><line x1="1800.00" y1="179.50" x2="1795.00" y2="179.50" stroke="#ff0000" stroke-width="1.0" /><line x1="1244.50" y1="455.00" x2="1244.50" y2="450.00" stroke="#000" stroke-width="1.0" /><line x1="1319.50" y1="455.00" x2="1319.50" y2="450.00" stroke="#000" stroke-width="1.0" /><line x1="1393.50" y1="455.00" x2="1393.50" y2="450.00" stroke="#000" stroke-width="1.0" /><line x1="1467.50" y1="455.00" x2="1467.50" y2="450.00" stroke="#000" stroke-width="1.0" /><line x1="1542.50" y1="455.00" x2="1542.50" y2="450.00" stroke="#000" stroke-width="1.0" /><line x1="1616.50" y1="455.00" x2="1616.50" y2="450.00" stroke="#000" stroke-width="1.0" /><line x1="1691.50" y1="455.00" x2="1691.50" y2="450.00" stroke="#000" stroke-width="1.0" /><line x1="1765.50" y1="455.00" x2="1765.50" y2="450.00" stroke="#000" stroke-width="1.0" /><path d="M1205,455 L1205,110 L1800,110" fill="none" stroke="#000" stroke-width="2" stroke-linecap="square"/><path d="M1205,455 L1800,455" fill="none" stroke="#000" stroke-width="2" stroke-linecap="square"/><path d="M1800,110 L1800,455" fill="none" stroke="#ff0000" stroke-width="2" stroke-linecap="square"/><rect x="1159.69" y="455.26" width="11.89" height="1.58"/><text x="1173.96" y="462.00" font-size="20.14" textLength="24.39" lengthAdjust="spacingAndGlyphs">20</text><rect x="1160.09" y="412.13" width="11.89" height="1.58"/><text x="1174.52" y="418.88" font-size="20.14" textLength="23.88" lengthAdjust="spacingAndGlyphs">15</text><rect x="1159.69" y="369.01" width="11.89" height="1.58"/><text x="1174.10" y="375.75" font-size="20.14" textLength="24.25" lengthAdjust="spacingAndGlyphs">10</text><rect x="1173.09" y="325.88" width="11.89" height="1.58"/><text x="1187.78" y="332.62" font-size="20.14" textLength="10.51" lengthAdjust="spacingAndGlyphs">5</text><text x="1187.14" y="289.50" font-size="20.14" textLength="11.14" lengthAdjust="spacingAndGlyphs">0</text><text x="1187.78" y="246.38" font-size="20.14" textLength="10.51" lengthAdjust="spacingAndGlyphs">5</text><text x="1174.10" y="203.25" font-size="20.14" textLength="24.25" lengthAdjust="spacingAndGlyphs">10</text><text x="1174.52" y="160.12" font-size="20.14" textLength="23.88" lengthAdjust="spacingAndGlyphs">15</text><text x="1173.96" y="117.00" font-size="20.14" textLength="24.39" lengthAdjust="spacingAndGlyphs">20</text><text x="1806.02" y="462.00" font-size="20.14" textLength="11.14" lengthAdjust="spacingAndGlyphs" fill="#ff0000">0</text><text x="1805.67" y="393.00" font-size="20.14" textLength="37.44" lengthAdjust="spacingAndGlyphs" fill="#ff0000">200</text><text x="1806.29" y="324.00" font-size="20.14" textLength="37.28" lengthAdjust="spacingAndGlyphs" fill="#ff0000">400</text><text x="1805.66" y="255.00" font-size="20.14" textLength="37.52" lengthAdjust="spacingAndGlyphs" fill="#ff0000">600</text><text x="1805.83" y="186.00" font-size="20.14" textLength="37.39" lengthAdjust="spacingAndGlyphs" fill="#ff0000">800</text><text x="1805.08" y="117.00" font-size="20.14" textLength="50.35" lengthAdjust="spacingAndGlyphs" fill="#ff0000">1000</text><g transform="rotate(-90 1116.40 282.50)"><text x="1077.27" y="282.50" font-size="25.44" textLength="7.06" lengthAdjust="spacingAndGlyphs">I</text><text x="1084.45" y="282.50" font-size="25.44" textLength="20.49" lengthAdjust="spacingAndGlyphs">M</text><text x="1105.04" y="282.50" font-size="25.44" textLength="13.83" lengthAdjust="spacingAndGlyphs">F</text><text x="1126.60" y="282.50" font-size="25.44" textLength="16.17" lengthAdjust="spacingAndGlyphs">B</text><text x="1142.96" y="282.50" font-size="25.44" textLength="12.80" lengthAdjust="spacingAndGlyphs">z</text></g><g transform="rotate(-90 1146.00 282.50)"><text x="1114.45" y="282.50" font-size="25.44" textLength="7.48" lengthAdjust="spacingAndGlyphs">(</text><text x="1131.58" y="282.50" font-size="25.44" textLength="14.28" lengthAdjust="spacingAndGlyphs">n</text><text x="1145.72" y="282.50" font-size="25.44" textLength="15.79" lengthAdjust="spacingAndGlyphs">T</text><text x="1170.07" y="282.50" font-size="25.44" textLength="7.48" lengthAdjust="spacingAndGlyphs">)</text></g><g transform="rotate(-90 1879.00 282.50)"><text x="1807.73" y="282.50" font-size="25.44" textLength="15.43" lengthAdjust="spacingAndGlyphs" fill="#ff0000">S</text><text x="1823.25" y="282.50" font-size="25.44" textLength="23.07" lengthAdjust="spacingAndGlyphs" fill="#ff0000">W</text><text x="1854.21" y="282.50" font-size="25.44" textLength="16.57" lengthAdjust="spacingAndGlyphs" fill="#ff0000">V</text><text x="1870.99" y="282.50" font-size="25.44" textLength="14.30" lengthAdjust="spacingAndGlyphs" fill="#ff0000">e</text><text x="1886.04" y="282.50" font-size="25.44" textLength="5.54" lengthAdjust="spacingAndGlyphs" fill="#ff0000">l</text><text x="1892.40" y="282.50" font-size="25.44" textLength="14.17" lengthAdjust="spacingAndGlyphs" fill="#ff0000">o</text><text x="1906.97" y="282.50" font-size="25.44" textLength="12.34" lengthAdjust="spacingAndGlyphs" fill="#ff0000">c</text><text x="1920.60" y="282.50" font-size="25.44" textLength="5.54" lengthAdjust="spacingAndGlyphs" fill="#ff0000">i</text><text x="1927.30" y="282.50" font-size="25.44" textLength="8.03" lengthAdjust="spacingAndGlyphs" fill="#ff0000">t</text><text x="1936.79" y="282.50" font-size="25.44" textLength="12.81" lengthAdjust="spacingAndGlyphs" fill="#ff0000">y</text></g><g transform="rotate(-90 1912.00 282.50)"><text x="1854.30" y="282.50" font-size="25.44" textLength="7.48" lengthAdjust="spacingAndGlyphs" fill="#ff0000">(</text><text x="1871.46" y="282.50" font-size="25.44" textLength="13.10" lengthAdjust="spacingAndGlyphs" fill="#ff0000">k</text><text x="1885.54" y="282.50" font-size="25.44" textLength="22.05" lengthAdjust="spacingAndGlyphs" fill="#ff0000">m</text><text x="1916.22" y="282.50" font-size="25.44" textLength="12.04" lengthAdjust="spacingAndGlyphs" fill="#ff0000">s</text><rect x="1930.10" y="266.74" width="10.52" height="1.39" fill="#ff0000"/><text x="1942.84" y="272.70" font-size="17.81" textLength="9.63" lengthAdjust="spacingAndGlyphs" fill="#ff0000">1</text><text x="1962.22" y="282.50" font-size="25.44" textLength="7.48" lengthAdjust="spacingAndGlyphs" fill="#ff0000">)</text></g><line x1="1205.00" y1="512.40" x2="1800.00" y2="512.40" stroke="#000" stroke-width="2" stroke-dasharray="2 3.5"/><line x1="1726.02" y1="478.00" x2="1726.02" y2="822.00" stroke="#1f77b4" stroke-width="2" stroke-dasharray="2 3.5"/><g clip-path="url(#c5)"><polyline points="1205.5,505.5 1210.0,502.7 1216.4,509.0 1221.0,511.0 1231.8,524.5 1238.0,517.0 1254.5,512.0 1263.6,509.6 1269.0,511.8 1272.7,509.6 1280.0,508.7 1285.5,511.5 1289.0,509.6 1294.5,513.3 1305.5,514.5 1312.7,516.4 1327.0,515.5 1335.5,511.0 1343.6,516.4 1349.0,508.0 1354.5,506.4 1361.8,502.4 1369.0,508.0 1374.5,514.5 1380.0,510.0 1390.0,510.4 1397.3,507.8 1402.7,506.0 1408.2,510.0 1415.5,512.7 1426.4,515.0 1433.6,509.0 1440.9,507.0 1448.2,511.0 1453.6,512.0 1464.5,517.0 1477.3,507.3 1484.5,507.3 1491.8,509.0 1499.0,508.0 1508.2,505.5 1515.5,506.7 1522.7,504.2 1530.0,505.5 1537.3,511.5 1544.5,506.0 1551.8,502.4 1559.0,504.5 1564.5,504.2 1568.2,506.4 1575.5,507.3 1582.7,506.0 1587.3,508.0 1594.5,509.0 1600.0,514.5 1609.0,515.5 1616.4,512.7 1629.0,514.5 1638.2,520.0 1647.3,517.6 1654.5,518.7 1658.2,516.4 1663.6,517.6 1669.0,512.2 1678.2,517.0 1684.5,522.7 1694.5,515.8 1703.6,516.4 1709.0,518.0 1716.4,520.0 1722.7,521.8" fill="none" stroke="#000" stroke-width="2.1" stroke-linejoin="round" stroke-linecap="round" /></g><g clip-path="url(#c5)"><polyline points="1205.5,631.2 1205.9,636.3 1206.3,634.7 1206.7,632.2 1207.1,623.8 1207.5,622.8 1207.9,634.0 1208.3,638.7 1208.7,649.6 1209.1,651.0 1209.5,649.3 1209.9,651.9 1210.3,634.9 1210.7,644.5 1211.1,650.5 1211.5,654.9 1211.9,637.4 1212.3,635.0 1212.7,629.8 1213.1,631.9 1213.5,635.8 1213.9,636.0 1214.3,641.9 1214.7,636.1 1215.1,639.8 1215.5,644.4 1215.9,638.5 1216.3,655.3 1216.7,660.4 1217.1,649.5 1217.5,644.0 1217.9,637.7 1218.3,636.8 1218.7,636.3 1219.1,641.7 1219.5,643.8 1219.9,640.6 1220.3,641.4 1220.7,637.9 1221.1,646.8 1221.5,641.4 1221.9,643.2 1222.3,646.0 1222.7,641.6 1223.1,641.9 1223.5,650.4 1223.9,640.7 1224.3,639.4 1224.7,639.3 1225.1,644.0 1225.5,647.3 1225.9,646.9 1226.3,640.6 1226.7,646.0 1227.1,650.3 1227.5,656.5 1227.9,648.2 1228.3,650.5 1228.7,651.3 1229.1,642.9 1229.5,646.9 1229.9,642.9 1230.3,640.0 1230.7,646.2 1231.1,639.9 1231.5,641.5 1231.9,649.9 1232.3,640.6 1232.7,644.6 1233.1,645.3 1233.5,654.0 1233.9,649.4 1234.3,635.9 1234.7,647.8 1235.1,649.4 1235.5,643.6 1235.9,635.1 1236.3,640.9 1236.7,647.5 1237.1,645.8 1237.5,645.3 1237.9,642.9 1238.3,635.5 1238.7,639.0 1239.1,641.9 1239.5,639.0 1239.9,626.9 1240.3,636.0 1240.7,639.4 1241.1,639.2 1241.5,625.0 1241.9,622.2 1242.3,628.3 1242.7,627.7 1243.1,626.5 1243.5,633.9 1243.9,624.5 1244.3,636.2 1244.7,640.2 1245.1,639.2 1245.5,641.7 1245.9,637.9 1246.3,638.9 1246.7,637.5 1247.1,632.8 1247.5,629.9 1247.9,637.5 1248.3,637.7 1248.7,631.5 1249.1,638.4 1249.5,636.8 1249.9,633.7 1250.3,623.8 1250.7,623.3 1251.1,624.1 1251.5,624.6 1251.9,634.8 1252.3,627.5 1252.7,636.6 1253.1,627.6 1253.5,625.4 1253.9,630.1 1254.3,638.3 1254.7,643.4 1255.1,642.1 1255.5,643.1 1255.9,643.8 1256.3,640.1 1256.7,638.8 1257.1,640.8 1257.5,643.1 1257.9,643.1 1258.3,639.4 1258.7,643.5 1259.1,630.0 1259.5,632.4 1259.9,629.3 1260.3,626.6 1260.7,626.5 1261.1,633.2 1261.5,630.7 1261.9,633.5 1262.3,641.3 1262.7,625.2 1263.1,630.9 1263.5,632.6 1263.9,635.5 1264.3,637.2 1264.7,634.1 1265.1,638.8 1265.5,640.9 1265.9,637.1 1266.3,633.4 1266.7,636.0 1267.1,632.0 1267.5,631.2 1267.9,629.6 1268.3,629.2 1268.7,638.5 1269.1,635.0 1269.5,642.2 1269.9,633.8 1270.3,633.3 1270.7,640.2 1271.1,641.7 1271.5,635.7 1271.9,624.6 1272.3,625.9 1272.7,624.5 1273.1,629.1 1273.5,637.0 1273.9,630.5 1274.3,638.5 1274.7,627.9 1275.1,632.9 1275.5,626.0 1275.9,627.3 1276.3,636.1 1276.7,635.0 1277.1,636.4 1277.5,642.3 1277.9,643.3 1278.3,642.7 1278.7,635.0 1279.1,642.7 1279.5,640.6 1279.9,628.2 1280.3,628.3 1280.7,635.1 1281.1,633.1 1281.5,634.1 1281.9,639.4 1282.3,641.1 1282.7,643.7 1283.1,632.3 1283.5,627.0 1283.9,631.7 1284.3,624.4 1284.7,631.3 1285.1,627.8 1285.5,637.3 1285.9,642.9 1286.3,635.8 1286.7,628.8 1287.1,629.4 1287.5,630.7 1287.9,639.4 1288.3,654.2 1288.7,649.3 1289.1,655.7 1289.5,660.3 1289.9,661.4 1290.3,642.4 1290.7,656.8 1291.1,656.1 1291.5,650.3 1291.9,654.5 1292.3,658.8 1292.7,664.8 1293.1,654.8 1293.5,666.3 1293.9,658.6 1294.3,667.1 1294.7,665.5 1295.1,658.4 1295.5,668.6 1295.9,670.0 1296.3,670.9 1296.7,657.7 1297.1,655.3 1297.5,656.2 1297.9,652.7 1298.3,654.6 1298.7,661.6 1299.1,663.7 1299.5,657.0 1299.9,656.0 1300.3,662.8 1300.7,662.5 1301.1,654.8 1301.5,653.3 1301.9,661.8 1302.3,649.0 1302.7,660.3 1303.1,654.2 1303.5,661.3 1303.9,644.5 1304.3,638.6 1304.7,652.2 1305.1,661.0 1305.5,649.9 1305.9,649.7 1306.3,647.9 1306.7,647.6 1307.1,642.3 1307.5,644.3 1307.9,660.0 1308.3,660.3 1308.7,656.0 1309.1,656.0 1309.5,654.2 1309.9,643.0 1310.3,638.1 1310.7,647.4 1311.1,638.2 1311.5,638.1 1311.9,646.8 1312.3,653.7 1312.7,653.7 1313.1,658.3 1313.5,659.0 1313.9,648.7 1314.3,635.1 1314.7,640.6 1315.1,648.5 1315.5,643.5 1315.9,635.7 1316.3,640.6 1316.7,642.0 1317.1,640.9 1317.5,638.3 1317.9,641.3 1318.3,647.6 1318.7,650.2 1319.1,644.7 1319.5,640.1 1319.9,646.1 1320.3,643.7 1320.7,643.0 1321.1,635.7 1321.5,638.0 1321.9,634.1 1322.3,640.5 1322.7,646.5 1323.1,651.8 1323.5,654.4 1323.9,647.0 1324.3,652.2 1324.7,655.8 1325.1,638.9 1325.5,646.0 1325.9,654.4 1326.3,651.9 1326.7,648.1 1327.1,646.3 1327.5,629.8 1327.9,631.7 1328.3,652.1 1328.7,640.8 1329.1,648.1 1329.5,632.5 1329.9,629.1 1330.3,636.7 1330.7,649.6 1331.1,636.4 1331.5,635.0 1331.9,639.1 1332.3,651.1 1332.7,650.5 1333.1,647.6 1333.5,632.5 1333.9,627.0 1334.3,640.1 1334.7,641.6 1335.1,628.7 1335.5,615.8 1335.9,646.1 1336.3,638.6 1336.7,648.2 1337.1,608.6 1337.5,617.9 1337.9,625.1 1338.3,650.3 1338.7,644.2 1339.1,643.1 1339.5,649.7 1339.9,619.3 1340.3,635.3 1340.7,640.3 1341.1,629.2 1341.5,650.0 1341.9,621.5 1342.3,612.6 1342.7,609.5 1343.1,613.8 1343.5,616.4 1343.9,610.1 1344.3,615.1 1344.7,646.6 1345.1,630.7 1345.5,612.7 1345.9,616.2 1346.3,640.6 1346.7,633.9 1347.1,627.9 1347.5,638.9 1347.9,626.3 1348.3,629.5 1348.7,607.5 1349.1,609.5 1349.5,608.5 1349.9,615.3 1350.3,605.7 1350.7,604.1 1351.1,610.2 1351.5,615.0 1351.9,623.1 1352.3,625.6 1352.7,621.5 1353.1,631.0 1353.5,631.4 1353.9,621.4 1354.3,614.0 1354.7,614.0 1355.1,612.8 1355.5,614.6 1355.9,614.6 1356.3,616.5 1356.7,615.1 1357.1,609.3 1357.5,613.8 1357.9,624.6 1358.3,628.9 1358.7,626.8 1359.1,631.0 1359.5,621.4 1359.9,609.7 1360.3,610.4 1360.7,611.7 1361.1,618.5 1361.5,608.8 1361.9,628.5 1362.3,619.4 1362.7,629.2 1363.1,625.8 1363.5,614.5 1363.9,608.5 1364.3,612.8 1364.7,616.8 1365.1,618.4 1365.5,630.0 1365.9,625.2 1366.3,625.2 1366.7,629.8 1367.1,618.8 1367.5,626.2 1367.9,627.5 1368.3,619.6 1368.7,618.7 1369.1,624.1 1369.5,622.1 1369.9,629.9 1370.3,628.1 1370.7,627.9 1371.1,626.5 1371.5,618.5 1371.9,627.2 1372.3,625.8 1372.7,626.5 1373.1,619.2 1373.5,617.1 1373.9,623.0 1374.3,629.6 1374.7,629.8 1375.1,622.2 1375.5,623.1 1375.9,625.1 1376.3,629.8 1376.7,626.7 1377.1,626.5 1377.5,628.2 1377.9,627.8 1378.3,628.8 1378.7,628.7 1379.1,626.9 1379.5,625.5 1379.9,619.0 1380.3,615.0 1380.7,614.8 1381.1,615.3 1381.5,612.6 1381.9,619.6 1382.3,615.5 1382.7,618.4 1383.1,621.2 1383.5,620.6 1383.9,619.1 1384.3,611.2 1384.7,620.6 1385.1,623.0 1385.5,617.4 1385.9,612.5 1386.3,611.3 1386.7,613.7 1387.1,617.3 1387.5,620.7 1387.9,611.0 1388.3,610.5 1388.7,613.3 1389.1,608.4 1389.5,613.0 1389.9,607.7 1390.3,607.3 1390.7,611.3 1391.1,611.4 1391.5,612.6 1391.9,615.6 1392.3,619.0 1392.7,612.1 1393.1,617.8 1393.5,611.4 1393.9,608.9 1394.3,607.7 1394.7,608.9 1395.1,608.5 1395.5,608.5 1395.9,611.0 1396.3,608.0 1396.7,609.2 1397.1,609.0 1397.5,608.0 1397.9,606.4 1398.3,606.0 1398.7,608.5 1399.1,612.2 1399.5,614.0 1399.9,613.6 1400.3,610.0 1400.7,609.1 1401.1,615.6 1401.5,610.4 1401.9,610.6 1402.3,609.0 1402.7,612.2 1403.1,615.3 1403.5,615.4 1403.9,615.3 1404.3,614.2 1404.7,620.4 1405.1,628.2 1405.5,627.9 1405.9,619.1 1406.3,617.6 1406.7,617.5 1407.1,625.1 1407.5,628.2 1407.9,620.8 1408.3,628.0 1408.7,624.2 1409.1,618.5 1409.5,628.1 1409.9,627.0 1410.3,622.0 1410.7,623.1 1411.1,628.5 1411.5,624.3 1411.9,644.2 1412.3,641.0 1412.7,640.0 1413.1,641.2 1413.5,639.6 1413.9,620.6 1414.3,623.5 1414.7,626.0 1415.1,632.0 1415.5,636.9 1415.9,640.1 1416.3,639.3 1416.7,645.1 1417.1,637.6 1417.5,642.6 1417.9,641.1 1418.3,646.0 1418.7,635.5 1419.1,645.0 1419.5,635.2 1419.9,637.6 1420.3,633.9 1420.7,631.8 1421.1,632.0 1421.5,643.2 1421.9,643.4 1422.3,635.7 1422.7,638.2 1423.1,643.8 1423.5,641.5 1423.9,634.2 1424.3,641.2 1424.7,635.0 1425.1,635.2 1425.5,637.8 1425.9,633.8 1426.3,645.0 1426.7,638.6 1427.1,644.9 1427.5,640.6 1427.9,634.3 1428.3,641.1 1428.7,639.9 1429.1,639.9 1429.5,633.9 1429.9,641.4 1430.3,641.0 1430.7,644.0 1431.1,636.7 1431.5,646.9 1431.9,642.4 1432.3,632.3 1432.7,632.4 1433.1,639.5 1433.5,634.0 1433.9,633.7 1434.3,629.1 1434.7,644.7 1435.1,639.8 1435.5,629.5 1435.9,632.5 1436.3,630.8 1436.7,640.9 1437.1,637.2 1437.5,636.8 1437.9,634.3 1438.3,633.5 1438.7,627.3 1439.1,627.7 1439.5,636.6 1439.9,636.2 1440.3,638.9 1440.7,642.8 1441.1,641.0 1441.5,633.9 1441.9,635.3 1442.3,631.6 1442.7,644.2 1443.1,649.6 1443.5,648.8 1443.9,645.2 1444.3,639.7 1444.7,632.4 1445.1,629.6 1445.5,632.1 1445.9,636.3 1446.3,641.0 1446.7,644.4 1447.1,638.8 1447.5,639.0 1447.9,641.4 1448.3,632.0 1448.7,630.7 1449.1,632.2 1449.5,633.5 1449.9,637.0 1450.3,635.1 1450.7,638.2 1451.1,638.8 1451.5,645.3 1451.9,630.2 1452.3,637.1 1452.7,637.1 1453.1,631.6 1453.5,637.3 1453.9,642.5 1454.3,637.2 1454.7,642.4 1455.1,648.6 1455.5,651.1 1455.9,651.1 1456.3,650.3 1456.7,638.8 1457.1,638.5 1457.5,642.3 1457.9,638.0 1458.3,637.2 1458.7,643.4 1459.1,636.3 1459.5,641.5 1459.9,650.2 1460.3,645.7 1460.7,647.0 1461.1,645.8 1461.5,648.8 1461.9,651.4 1462.3,648.5 1462.7,642.9 1463.1,642.9 1463.5,642.8 1463.9,634.1 1464.3,645.7 1464.7,653.0 1465.1,639.0 1465.5,645.0 1465.9,643.9 1466.3,647.5 1466.7,650.5 1467.1,638.6 1467.5,636.9 1467.9,648.8 1468.3,644.3 1468.7,636.2 1469.1,638.4 1469.5,635.2 1469.9,637.9 1470.3,651.0 1470.7,652.7 1471.1,651.8 1471.5,636.1 1471.9,631.6 1472.3,633.7 1472.7,637.5 1473.1,641.6 1473.5,633.0 1473.9,633.1 1474.3,635.1 1474.7,636.7 1475.1,628.2 1475.5,626.9 1475.9,630.2 1476.3,633.6 1476.7,632.2 1477.1,631.0 1477.5,627.0 1477.9,634.9 1478.3,644.9 1478.7,640.8 1479.1,640.1 1479.5,632.5 1479.9,632.2 1480.3,638.2 1480.7,629.8 1481.1,625.5 1481.5,624.7 1481.9,626.3 1482.3,615.4 1482.7,615.5 1483.1,618.6 1483.5,621.7 1483.9,616.2 1484.3,628.6 1484.7,628.7 1485.1,630.5 1485.5,626.0 1485.9,632.7 1486.3,630.3 1486.7,625.6 1487.1,628.9 1487.5,617.4 1487.9,616.4 1488.3,616.3 1488.7,622.0 1489.1,620.8 1489.5,622.7 1489.9,618.4 1490.3,620.2 1490.7,630.3 1491.1,625.9 1491.5,622.5 1491.9,618.6 1492.3,618.7 1492.7,619.6 1493.1,624.9 1493.5,618.3 1493.9,622.2 1494.3,625.0 1494.7,627.9 1495.1,625.5 1495.5,618.8 1495.9,620.1 1496.3,621.8 1496.7,626.7 1497.1,628.9 1497.5,624.4 1497.9,618.6 1498.3,618.9 1498.7,630.0 1499.1,631.3 1499.5,629.8 1499.9,632.7 1500.3,624.2 1500.7,624.6 1501.1,623.6 1501.5,621.3 1501.9,625.3 1502.3,622.2 1502.7,626.1 1503.1,626.7 1503.5,627.5 1503.9,626.9 1504.3,632.5 1504.7,635.7 1505.1,635.4 1505.5,639.8 1505.9,639.5 1506.3,633.2 1506.7,642.5 1507.1,640.4 1507.5,635.0 1507.9,642.3 1508.3,644.9 1508.7,635.4 1509.1,645.9 1509.5,644.8 1509.9,643.4 1510.3,645.3 1510.7,644.9 1511.1,634.8 1511.5,642.0 1511.9,642.7 1512.3,641.2 1512.7,644.2 1513.1,644.9 1513.5,648.6 1513.9,644.8 1514.3,643.4 1514.7,628.0 1515.1,629.4 1515.5,632.9 1515.9,640.7 1516.3,637.2 1516.7,635.2 1517.1,635.3 1517.5,633.2 1517.9,637.8 1518.3,630.9 1518.7,631.1 1519.1,638.7 1519.5,634.2 1519.9,635.4 1520.3,634.8 1520.7,635.4 1521.1,635.3 1521.5,627.7 1521.9,623.7 1522.3,623.7 1522.7,626.6 1523.1,623.5 1523.5,626.4 1523.9,629.6 1524.3,628.0 1524.7,630.9 1525.1,622.2 1525.5,626.4 1525.9,626.1 1526.3,622.3 1526.7,624.7 1527.1,622.6 1527.5,627.1 1527.9,627.5 1528.3,625.4 1528.7,628.2 1529.1,636.2 1529.5,636.1 1529.9,634.1 1530.3,631.5 1530.7,632.7 1531.1,626.3 1531.5,632.6 1531.9,627.6 1532.3,625.9 1532.7,625.7 1533.1,628.2 1533.5,634.8 1533.9,639.3 1534.3,640.2 1534.7,638.3 1535.1,640.4 1535.5,644.1 1535.9,640.2 1536.3,636.5 1536.7,636.4 1537.1,640.4 1537.5,639.5 1537.9,638.0 1538.3,639.5 1538.7,637.1 1539.1,636.0 1539.5,635.4 1539.9,635.2 1540.3,637.1 1540.7,637.1 1541.1,639.6 1541.5,643.6 1541.9,639.3 1542.3,636.7 1542.7,635.3 1543.1,642.9 1543.5,639.2 1543.9,636.8 1544.3,636.7 1544.7,638.3 1545.1,635.5 1545.5,635.2 1545.9,633.2 1546.3,632.8 1546.7,632.8 1547.1,639.0 1547.5,624.8 1547.9,629.1 1548.3,630.1 1548.7,633.3 1549.1,636.1 1549.5,628.5 1549.9,626.5 1550.3,632.2 1550.7,628.9 1551.1,633.2 1551.5,627.4 1551.9,626.3 1552.3,628.6 1552.7,630.8 1553.1,629.3 1553.5,622.4 1553.9,617.7 1554.3,623.0 1554.7,633.5 1555.1,640.9 1555.5,648.6 1555.9,653.7 1556.3,651.7 1556.7,650.3 1557.1,648.3 1557.5,652.0 1557.9,652.4 1558.3,651.5 1558.7,649.3 1559.1,648.4 1559.5,651.1 1559.9,652.7 1560.3,647.8 1560.7,649.7 1561.1,650.6 1561.5,647.1 1561.9,650.4 1562.3,649.4 1562.7,648.1 1563.1,651.6 1563.5,657.4 1563.9,654.7 1564.3,656.7 1564.7,653.1 1565.1,656.7 1565.5,654.1 1565.9,659.8 1566.3,656.2 1566.7,659.3 1567.1,646.7 1567.5,653.8 1567.9,650.4 1568.3,653.2 1568.7,651.5 1569.1,645.5 1569.5,652.9 1569.9,652.6 1570.3,638.5 1570.7,644.4 1571.1,632.3 1571.5,640.8 1571.9,634.9 1572.3,635.0 1572.7,645.2 1573.1,645.5 1573.5,632.7 1573.9,631.6 1574.3,641.8 1574.7,648.0 1575.1,640.5 1575.5,647.7 1575.9,643.2 1576.3,645.7 1576.7,626.0 1577.1,623.2 1577.5,630.6 1577.9,636.5 1578.3,643.5 1578.7,622.8 1579.1,623.9 1579.5,627.7 1579.9,639.4 1580.3,631.3 1580.7,628.4 1581.1,628.4 1581.5,635.2 1581.9,631.4 1582.3,640.0 1582.7,633.3 1583.1,634.9 1583.5,630.4 1583.9,631.1 1584.3,625.3 1584.7,621.9 1585.1,629.9 1585.5,631.7 1585.9,627.0 1586.3,628.1 1586.7,635.1 1587.1,627.3 1587.5,626.0 1587.9,629.5 1588.3,632.9 1588.7,630.0 1589.1,614.1 1589.5,622.7 1589.9,624.7 1590.3,624.4 1590.7,621.9 1591.1,623.5 1591.5,619.9 1591.9,611.7 1592.3,612.4 1592.7,609.5 1593.1,611.6 1593.5,612.9 1593.9,617.6 1594.3,606.4 1594.7,611.4 1595.1,608.0 1595.5,610.5 1595.9,621.9 1596.3,623.7 1596.7,617.7 1597.1,618.3 1597.5,619.8 1597.9,605.7 1598.3,611.0 1598.7,612.6 1599.1,609.1 1599.5,610.1 1599.9,616.3 1600.3,622.6 1600.7,629.8 1601.1,625.5 1601.5,623.5 1601.9,623.6 1602.3,621.7 1602.7,619.6 1603.1,618.5 1603.5,614.9 1603.9,612.8 1604.3,612.9 1604.7,616.8 1605.1,616.9 1605.5,620.9 1605.9,620.0 1606.3,629.6 1606.7,614.6 1607.1,613.7 1607.5,626.1 1607.9,632.7 1608.3,615.5 1608.7,630.4 1609.1,631.4 1609.5,631.9 1609.9,630.1 1610.3,633.7 1610.7,620.0 1611.1,625.3 1611.5,627.2 1611.9,626.9 1612.3,623.0 1612.7,626.3 1613.1,623.1 1613.5,624.0 1613.9,620.7 1614.3,621.2 1614.7,620.6 1615.1,621.3 1615.5,624.8 1615.9,619.9 1616.3,619.3 1616.7,622.0 1617.1,622.3 1617.5,623.5 1617.9,617.8 1618.3,613.8 1618.7,620.8 1619.1,626.1 1619.5,622.1 1619.9,628.2 1620.3,627.7 1620.7,624.7 1621.1,620.6 1621.5,627.4 1621.9,621.6 1622.3,622.3 1622.7,616.4 1623.1,636.5 1623.5,625.0 1623.9,619.9 1624.3,620.2 1624.7,622.5 1625.1,619.4 1625.5,630.8 1625.9,630.7 1626.3,621.9 1626.7,633.6 1627.1,629.0 1627.5,631.4 1627.9,631.8 1628.3,629.5 1628.7,632.9 1629.1,627.1 1629.5,634.2 1629.9,631.3 1630.3,626.5 1630.7,627.6 1631.1,627.6 1631.5,628.0 1631.9,633.2 1632.3,634.3 1632.7,626.3 1633.1,626.7 1633.5,640.5 1633.9,638.7 1634.3,643.8 1634.7,649.6 1635.1,648.4 1635.5,646.6 1635.9,647.2 1636.3,647.5 1636.7,649.0 1637.1,649.5 1637.5,652.1 1637.9,638.3 1638.3,631.5 1638.7,627.0 1639.1,622.0 1639.5,626.6 1639.9,646.0 1640.3,640.5 1640.7,641.7 1641.1,650.5 1641.5,650.3 1641.9,658.3 1642.3,646.7 1642.7,628.1 1643.1,623.4 1643.5,631.1 1643.9,655.8 1644.3,658.7 1644.7,644.7 1645.1,639.1 1645.5,628.0 1645.9,634.3 1646.3,662.1 1646.7,651.6 1647.1,652.8 1647.5,661.5 1647.9,672.0 1648.3,677.8 1648.7,666.6 1649.1,674.0 1649.5,651.8 1649.9,663.2 1650.3,668.9 1650.7,670.7 1651.1,675.4 1651.5,671.4 1651.9,676.2 1652.3,653.9 1652.7,625.1 1653.1,623.3 1653.5,627.2 1653.9,625.3 1654.3,620.7 1654.7,633.8 1655.1,664.4 1655.5,653.8 1655.9,656.8 1656.3,631.7 1656.7,654.6 1657.1,653.7 1657.5,651.3 1657.9,635.9 1658.3,634.1 1658.7,621.4 1659.1,621.8 1659.5,625.8 1659.9,625.3 1660.3,627.5 1660.7,620.4 1661.1,632.2 1661.5,626.8 1661.9,622.2 1662.3,620.6 1662.7,619.6 1663.1,622.6 1663.5,619.7 1663.9,622.1 1664.3,621.6 1664.7,620.4 1665.1,632.1 1665.5,637.6 1665.9,636.4 1666.3,637.4 1666.7,636.4 1667.1,636.0 1667.5,637.1 1667.9,636.4 1668.3,617.1 1668.7,617.1 1669.1,624.1 1669.5,629.3 1669.9,624.4 1670.3,625.6 1670.7,635.5 1671.1,627.1 1671.5,618.1 1671.9,627.2 1672.3,626.0 1672.7,623.0 1673.1,625.9 1673.5,620.8 1673.9,628.0 1674.3,617.8 1674.7,622.7 1675.1,617.5 1675.5,619.3 1675.9,621.9 1676.3,632.3 1676.7,629.3 1677.1,637.1 1677.5,637.7 1677.9,636.4 1678.3,625.1 1678.7,635.7 1679.1,633.2 1679.5,636.4 1679.9,635.1 1680.3,635.3 1680.7,631.5 1681.1,621.8 1681.5,617.9 1681.9,625.3 1682.3,633.8 1682.7,633.4 1683.1,624.9 1683.5,634.4 1683.9,629.4 1684.3,616.2 1684.7,628.6 1685.1,633.9 1685.5,620.7 1685.9,618.6 1686.3,622.0 1686.7,624.7 1687.1,625.8 1687.5,626.8 1687.9,632.6 1688.3,622.9 1688.7,615.3 1689.1,623.7 1689.5,620.1 1689.9,616.3 1690.3,618.7 1690.7,620.5 1691.1,620.9 1691.5,616.9 1691.9,617.4 1692.3,623.4 1692.7,628.2 1693.1,628.9 1693.5,627.2 1693.9,630.5 1694.3,627.1 1694.7,631.1 1695.1,629.9 1695.5,628.5 1695.9,633.6 1696.3,627.2 1696.7,633.3 1697.1,634.6 1697.5,625.5 1697.9,629.6 1698.3,624.6 1698.7,632.2 1699.1,628.4 1699.5,627.7 1699.9,629.5 1700.3,627.8 1700.7,629.5 1701.1,626.5 1701.5,630.6 1701.9,630.9 1702.3,632.4 1702.7,626.3 1703.1,633.3 1703.5,633.8 1703.9,623.4 1704.3,624.2 1704.7,627.2 1705.1,633.8 1705.5,627.6 1705.9,637.1 1706.3,636.4 1706.7,629.3 1707.1,628.6 1707.5,632.9 1707.9,630.9 1708.3,624.1 1708.7,630.9 1709.1,636.8 1709.5,636.6 1709.9,641.5 1710.3,637.9 1710.7,626.7 1711.1,624.6 1711.5,626.8 1711.9,625.5 1712.3,629.6 1712.7,632.0 1713.1,630.1 1713.5,631.4 1713.9,630.3 1714.3,632.0 1714.7,637.9 1715.1,643.5 1715.5,638.2 1715.9,626.1 1716.3,637.8 1716.7,638.9 1717.1,642.8 1717.5,629.0 1717.9,626.2 1718.3,626.8 1718.7,630.8 1719.1,627.0 1719.5,633.2 1719.9,641.6 1720.3,638.2 1720.7,632.4 1721.1,630.4 1721.5,634.3 1721.9,640.6 1722.3,641.9 1722.7,634.4 1723.1,639.2 1723.5,643.6 1723.9,644.2 1724.3,641.8 1724.7,643.4 1725.1,643.5 1725.5,641.3 1725.9,634.3 1726.3,636.1 1726.7,638.3" fill="none" stroke="#ff0000" stroke-width="2.2" stroke-linejoin="round" stroke-linecap="round" /></g><line x1="1205.00" y1="787.50" x2="1211.00" y2="787.50" stroke="#000" stroke-width="1.0" /><line x1="1205.00" y1="718.50" x2="1211.00" y2="718.50" stroke="#000" stroke-width="1.0" /><line x1="1205.00" y1="650.50" x2="1211.00" y2="650.50" stroke="#000" stroke-width="1.0" /><line x1="1205.00" y1="581.50" x2="1211.00" y2="581.50" stroke="#000" stroke-width="1.0" /><line x1="1205.00" y1="512.50" x2="1211.00" y2="512.50" stroke="#000" stroke-width="1.0" /><line x1="1800.00" y1="736.50" x2="1795.00" y2="736.50" stroke="#ff0000" stroke-width="1.0" /><line x1="1800.00" y1="650.50" x2="1795.00" y2="650.50" stroke="#ff0000" stroke-width="1.0" /><line x1="1800.00" y1="564.50" x2="1795.00" y2="564.50" stroke="#ff0000" stroke-width="1.0" /><line x1="1800.00" y1="796.50" x2="1797.00" y2="796.50" stroke="#ff0000" stroke-width="1.0" /><line x1="1800.00" y1="780.50" x2="1797.00" y2="780.50" stroke="#ff0000" stroke-width="1.0" /><line x1="1800.00" y1="770.50" x2="1797.00" y2="770.50" stroke="#ff0000" stroke-width="1.0" /><line x1="1800.00" y1="761.50" x2="1797.00" y2="761.50" stroke="#ff0000" stroke-width="1.0" /><line x1="1800.00" y1="755.50" x2="1797.00" y2="755.50" stroke="#ff0000" stroke-width="1.0" /><line x1="1800.00" y1="749.50" x2="1797.00" y2="749.50" stroke="#ff0000" stroke-width="1.0" /><line x1="1800.00" y1="744.50" x2="1797.00" y2="744.50" stroke="#ff0000" stroke-width="1.0" /><line x1="1800.00" y1="739.50" x2="1797.00" y2="739.50" stroke="#ff0000" stroke-width="1.0" /><line x1="1800.00" y1="710.50" x2="1797.00" y2="710.50" stroke="#ff0000" stroke-width="1.0" /><line x1="1800.00" y1="694.50" x2="1797.00" y2="694.50" stroke="#ff0000" stroke-width="1.0" /><line x1="1800.00" y1="684.50" x2="1797.00" y2="684.50" stroke="#ff0000" stroke-width="1.0" /><line x1="1800.00" y1="675.50" x2="1797.00" y2="675.50" stroke="#ff0000" stroke-width="1.0" /><line x1="1800.00" y1="669.50" x2="1797.00" y2="669.50" stroke="#ff0000" stroke-width="1.0" /><line x1="1800.00" y1="663.50" x2="1797.00" y2="663.50" stroke="#ff0000" stroke-width="1.0" /><line x1="1800.00" y1="658.50" x2="1797.00" y2="658.50" stroke="#ff0000" stroke-width="1.0" /><line x1="1800.00" y1="653.50" x2="1797.00" y2="653.50" stroke="#ff0000" stroke-width="1.0" /><line x1="1800.00" y1="624.50" x2="1797.00" y2="624.50" stroke="#ff0000" stroke-width="1.0" /><line x1="1800.00" y1="608.50" x2="1797.00" y2="608.50" stroke="#ff0000" stroke-width="1.0" /><line x1="1800.00" y1="598.50" x2="1797.00" y2="598.50" stroke="#ff0000" stroke-width="1.0" /><line x1="1800.00" y1="589.50" x2="1797.00" y2="589.50" stroke="#ff0000" stroke-width="1.0" /><line x1="1800.00" y1="583.50" x2="1797.00" y2="583.50" stroke="#ff0000" stroke-width="1.0" /><line x1="1800.00" y1="577.50" x2="1797.00" y2="577.50" stroke="#ff0000" stroke-width="1.0" /><line x1="1800.00" y1="572.50" x2="1797.00" y2="572.50" stroke="#ff0000" stroke-width="1.0" /><line x1="1800.00" y1="567.50" x2="1797.00" y2="567.50" stroke="#ff0000" stroke-width="1.0" /><line x1="1800.00" y1="538.50" x2="1797.00" y2="538.50" stroke="#ff0000" stroke-width="1.0" /><line x1="1800.00" y1="522.50" x2="1797.00" y2="522.50" stroke="#ff0000" stroke-width="1.0" /><line x1="1800.00" y1="512.50" x2="1797.00" y2="512.50" stroke="#ff0000" stroke-width="1.0" /><line x1="1800.00" y1="503.50" x2="1797.00" y2="503.50" stroke="#ff0000" stroke-width="1.0" /><line x1="1800.00" y1="497.50" x2="1797.00" y2="497.50" stroke="#ff0000" stroke-width="1.0" /><line x1="1800.00" y1="491.50" x2="1797.00" y2="491.50" stroke="#ff0000" stroke-width="1.0" /><line x1="1800.00" y1="486.50" x2="1797.00" y2="486.50" stroke="#ff0000" stroke-width="1.0" /><line x1="1800.00" y1="481.50" x2="1797.00" y2="481.50" stroke="#ff0000" stroke-width="1.0" /><line x1="1244.50" y1="822.00" x2="1244.50" y2="817.00" stroke="#000" stroke-width="1.0" /><line x1="1319.50" y1="822.00" x2="1319.50" y2="817.00" stroke="#000" stroke-width="1.0" /><line x1="1393.50" y1="822.00" x2="1393.50" y2="817.00" stroke="#000" stroke-width="1.0" /><line x1="1467.50" y1="822.00" x2="1467.50" y2="817.00" stroke="#000" stroke-width="1.0" /><line x1="1542.50" y1="822.00" x2="1542.50" y2="817.00" stroke="#000" stroke-width="1.0" /><line x1="1616.50" y1="822.00" x2="1616.50" y2="817.00" stroke="#000" stroke-width="1.0" /><line x1="1691.50" y1="822.00" x2="1691.50" y2="817.00" stroke="#000" stroke-width="1.0" /><line x1="1765.50" y1="822.00" x2="1765.50" y2="817.00" stroke="#000" stroke-width="1.0" /><path d="M1205,822 L1205,478 L1800,478" fill="none" stroke="#000" stroke-width="2" stroke-linecap="square"/><path d="M1205,822 L1800,822" fill="none" stroke="#000" stroke-width="2" stroke-linecap="square"/><path d="M1800,478 L1800,822" fill="none" stroke="#ff0000" stroke-width="2" stroke-linecap="square"/><rect x="1146.69" y="787.86" width="11.89" height="1.58"/><text x="1161.09" y="794.60" font-size="20.14" textLength="37.28" lengthAdjust="spacingAndGlyphs">400</text><rect x="1146.69" y="719.06" width="11.89" height="1.58"/><text x="1161.27" y="725.80" font-size="20.14" textLength="37.09" lengthAdjust="spacingAndGlyphs">300</text><rect x="1146.69" y="650.26" width="11.89" height="1.58"/><text x="1160.94" y="657.00" font-size="20.14" textLength="37.44" lengthAdjust="spacingAndGlyphs">200</text><rect x="1146.69" y="581.46" width="11.89" height="1.58"/><text x="1161.06" y="588.20" font-size="20.14" textLength="37.32" lengthAdjust="spacingAndGlyphs">100</text><text x="1187.14" y="519.40" font-size="20.14" textLength="11.14" lengthAdjust="spacingAndGlyphs">0</text><text x="1805.61" y="829.50" font-size="20.14" textLength="23.23" lengthAdjust="spacingAndGlyphs" fill="#ff0000">10</text><rect x="1830.70" y="817.78" width="8.33" height="1.10" fill="#ff0000"/><text x="1840.73" y="822.50" font-size="14.10" textLength="7.52" lengthAdjust="spacingAndGlyphs" fill="#ff0000">2</text><text x="1805.61" y="743.50" font-size="20.14" textLength="23.23" lengthAdjust="spacingAndGlyphs" fill="#ff0000">10</text><rect x="1830.70" y="731.78" width="8.33" height="1.10" fill="#ff0000"/><text x="1840.87" y="736.50" font-size="14.10" textLength="7.45" lengthAdjust="spacingAndGlyphs" fill="#ff0000">1</text><text x="1805.61" y="657.50" font-size="20.14" textLength="23.23" lengthAdjust="spacingAndGlyphs" fill="#ff0000">10</text><text x="1829.62" y="650.50" font-size="14.10" textLength="7.80" lengthAdjust="spacingAndGlyphs" fill="#ff0000">0</text><text x="1805.61" y="571.50" font-size="20.14" textLength="23.23" lengthAdjust="spacingAndGlyphs" fill="#ff0000">10</text><text x="1829.73" y="564.50" font-size="14.10" textLength="7.45" lengthAdjust="spacingAndGlyphs" fill="#ff0000">1</text><text x="1805.61" y="485.50" font-size="20.14" textLength="23.23" lengthAdjust="spacingAndGlyphs" fill="#ff0000">10</text><text x="1829.58" y="478.50" font-size="14.10" textLength="7.52" lengthAdjust="spacingAndGlyphs" fill="#ff0000">2</text><g transform="rotate(-90 1104.70 653.20)"><text x="1084.72" y="653.20" font-size="25.44" textLength="18.13" lengthAdjust="spacingAndGlyphs">D</text><text x="1103.38" y="653.20" font-size="25.44" textLength="12.04" lengthAdjust="spacingAndGlyphs">s</text><text x="1116.10" y="653.20" font-size="25.44" textLength="8.03" lengthAdjust="spacingAndGlyphs">t</text></g><g transform="rotate(-90 1133.00 650.00)"><text x="1101.45" y="650.00" font-size="25.44" textLength="7.48" lengthAdjust="spacingAndGlyphs">(</text><text x="1118.58" y="650.00" font-size="25.44" textLength="14.28" lengthAdjust="spacingAndGlyphs">n</text><text x="1132.72" y="650.00" font-size="25.44" textLength="15.79" lengthAdjust="spacingAndGlyphs">T</text><text x="1157.07" y="650.00" font-size="25.44" textLength="7.48" lengthAdjust="spacingAndGlyphs">)</text></g><g transform="rotate(-90 1876.00 650.00)"><text x="1800.76" y="650.00" font-size="25.44" textLength="15.43" lengthAdjust="spacingAndGlyphs" fill="#ff0000">S</text><text x="1816.28" y="650.00" font-size="25.44" textLength="23.07" lengthAdjust="spacingAndGlyphs" fill="#ff0000">W</text><text x="1847.31" y="650.00" font-size="25.44" textLength="15.36" lengthAdjust="spacingAndGlyphs" fill="#ff0000">P</text><text x="1862.41" y="650.00" font-size="25.44" textLength="9.40" lengthAdjust="spacingAndGlyphs" fill="#ff0000">r</text><text x="1871.94" y="650.00" font-size="25.44" textLength="14.30" lengthAdjust="spacingAndGlyphs" fill="#ff0000">e</text><text x="1886.82" y="650.00" font-size="25.44" textLength="12.04" lengthAdjust="spacingAndGlyphs" fill="#ff0000">s</text><text x="1899.33" y="650.00" font-size="25.44" textLength="12.04" lengthAdjust="spacingAndGlyphs" fill="#ff0000">s</text><text x="1911.84" y="650.00" font-size="25.44" textLength="14.28" lengthAdjust="spacingAndGlyphs" fill="#ff0000">u</text><text x="1927.26" y="650.00" font-size="25.44" textLength="9.40" lengthAdjust="spacingAndGlyphs" fill="#ff0000">r</text><text x="1936.79" y="650.00" font-size="25.44" textLength="14.30" lengthAdjust="spacingAndGlyphs" fill="#ff0000">e</text></g><g transform="rotate(-90 1905.00 650.00)"><text x="1866.19" y="650.00" font-size="25.44" textLength="7.48" lengthAdjust="spacingAndGlyphs" fill="#ff0000">(</text><text x="1883.32" y="650.00" font-size="25.44" textLength="14.28" lengthAdjust="spacingAndGlyphs" fill="#ff0000">n</text><text x="1898.00" y="650.00" font-size="25.44" textLength="15.36" lengthAdjust="spacingAndGlyphs" fill="#ff0000">P</text><text x="1912.52" y="650.00" font-size="25.44" textLength="12.92" lengthAdjust="spacingAndGlyphs" fill="#ff0000">a</text><text x="1936.33" y="650.00" font-size="25.44" textLength="7.48" lengthAdjust="spacingAndGlyphs" fill="#ff0000">)</text></g><line x1="1205.00" y1="931.00" x2="1800.00" y2="931.00" stroke="#000" stroke-width="2" stroke-dasharray="2 3.5"/><line x1="1726.02" y1="845.00" x2="1726.02" y2="1017.00" stroke="#1f77b4" stroke-width="2" stroke-dasharray="2 3.5"/><line x1="1205.00" y1="974.50" x2="1211.00" y2="974.50" stroke="#000" stroke-width="1.0" /><line x1="1205.00" y1="931.50" x2="1211.00" y2="931.50" stroke="#000" stroke-width="1.0" /><line x1="1205.00" y1="888.50" x2="1211.00" y2="888.50" stroke="#000" stroke-width="1.0" /><line x1="1205.00" y1="1004.50" x2="1209.00" y2="1004.50" stroke="#000" stroke-width="1.0" /><line x1="1205.00" y1="996.50" x2="1209.00" y2="996.50" stroke="#000" stroke-width="1.0" /><line x1="1205.00" y1="991.50" x2="1209.00" y2="991.50" stroke="#000" stroke-width="1.0" /><line x1="1205.00" y1="986.50" x2="1209.00" y2="986.50" stroke="#000" stroke-width="1.0" /><line x1="1205.00" y1="983.50" x2="1209.00" y2="983.50" stroke="#000" stroke-width="1.0" /><line x1="1205.00" y1="980.50" x2="1209.00" y2="980.50" stroke="#000" stroke-width="1.0" /><line x1="1205.00" y1="978.50" x2="1209.00" y2="978.50" stroke="#000" stroke-width="1.0" /><line x1="1205.00" y1="975.50" x2="1209.00" y2="975.50" stroke="#000" stroke-width="1.0" /><line x1="1205.00" y1="961.50" x2="1209.00" y2="961.50" stroke="#000" stroke-width="1.0" /><line x1="1205.00" y1="953.50" x2="1209.00" y2="953.50" stroke="#000" stroke-width="1.0" /><line x1="1205.00" y1="948.50" x2="1209.00" y2="948.50" stroke="#000" stroke-width="1.0" /><line x1="1205.00" y1="943.50" x2="1209.00" y2="943.50" stroke="#000" stroke-width="1.0" /><line x1="1205.00" y1="940.50" x2="1209.00" y2="940.50" stroke="#000" stroke-width="1.0" /><line x1="1205.00" y1="937.50" x2="1209.00" y2="937.50" stroke="#000" stroke-width="1.0" /><line x1="1205.00" y1="935.50" x2="1209.00" y2="935.50" stroke="#000" stroke-width="1.0" /><line x1="1205.00" y1="932.50" x2="1209.00" y2="932.50" stroke="#000" stroke-width="1.0" /><line x1="1205.00" y1="918.50" x2="1209.00" y2="918.50" stroke="#000" stroke-width="1.0" /><line x1="1205.00" y1="910.50" x2="1209.00" y2="910.50" stroke="#000" stroke-width="1.0" /><line x1="1205.00" y1="905.50" x2="1209.00" y2="905.50" stroke="#000" stroke-width="1.0" /><line x1="1205.00" y1="900.50" x2="1209.00" y2="900.50" stroke="#000" stroke-width="1.0" /><line x1="1205.00" y1="897.50" x2="1209.00" y2="897.50" stroke="#000" stroke-width="1.0" /><line x1="1205.00" y1="894.50" x2="1209.00" y2="894.50" stroke="#000" stroke-width="1.0" /><line x1="1205.00" y1="892.50" x2="1209.00" y2="892.50" stroke="#000" stroke-width="1.0" /><line x1="1205.00" y1="889.50" x2="1209.00" y2="889.50" stroke="#000" stroke-width="1.0" /><line x1="1205.00" y1="875.50" x2="1209.00" y2="875.50" stroke="#000" stroke-width="1.0" /><line x1="1205.00" y1="867.50" x2="1209.00" y2="867.50" stroke="#000" stroke-width="1.0" /><line x1="1205.00" y1="862.50" x2="1209.00" y2="862.50" stroke="#000" stroke-width="1.0" /><line x1="1205.00" y1="857.50" x2="1209.00" y2="857.50" stroke="#000" stroke-width="1.0" /><line x1="1205.00" y1="854.50" x2="1209.00" y2="854.50" stroke="#000" stroke-width="1.0" /><line x1="1205.00" y1="851.50" x2="1209.00" y2="851.50" stroke="#000" stroke-width="1.0" /><line x1="1205.00" y1="849.50" x2="1209.00" y2="849.50" stroke="#000" stroke-width="1.0" /><line x1="1205.00" y1="846.50" x2="1209.00" y2="846.50" stroke="#000" stroke-width="1.0" /><line x1="1800.00" y1="974.50" x2="1795.00" y2="974.50" stroke="#000" stroke-width="1.0" /><line x1="1800.00" y1="931.50" x2="1795.00" y2="931.50" stroke="#000" stroke-width="1.0" /><line x1="1800.00" y1="888.50" x2="1795.00" y2="888.50" stroke="#000" stroke-width="1.0" /><line x1="1800.00" y1="1004.50" x2="1797.00" y2="1004.50" stroke="#000" stroke-width="1.0" /><line x1="1800.00" y1="996.50" x2="1797.00" y2="996.50" stroke="#000" stroke-width="1.0" /><line x1="1800.00" y1="991.50" x2="1797.00" y2="991.50" stroke="#000" stroke-width="1.0" /><line x1="1800.00" y1="986.50" x2="1797.00" y2="986.50" stroke="#000" stroke-width="1.0" /><line x1="1800.00" y1="983.50" x2="1797.00" y2="983.50" stroke="#000" stroke-width="1.0" /><line x1="1800.00" y1="980.50" x2="1797.00" y2="980.50" stroke="#000" stroke-width="1.0" /><line x1="1800.00" y1="978.50" x2="1797.00" y2="978.50" stroke="#000" stroke-width="1.0" /><line x1="1800.00" y1="975.50" x2="1797.00" y2="975.50" stroke="#000" stroke-width="1.0" /><line x1="1800.00" y1="961.50" x2="1797.00" y2="961.50" stroke="#000" stroke-width="1.0" /><line x1="1800.00" y1="953.50" x2="1797.00" y2="953.50" stroke="#000" stroke-width="1.0" /><line x1="1800.00" y1="948.50" x2="1797.00" y2="948.50" stroke="#000" stroke-width="1.0" /><line x1="1800.00" y1="943.50" x2="1797.00" y2="943.50" stroke="#000" stroke-width="1.0" /><line x1="1800.00" y1="940.50" x2="1797.00" y2="940.50" stroke="#000" stroke-width="1.0" /><line x1="1800.00" y1="937.50" x2="1797.00" y2="937.50" stroke="#000" stroke-width="1.0" /><line x1="1800.00" y1="935.50" x2="1797.00" y2="935.50" stroke="#000" stroke-width="1.0" /><line x1="1800.00" y1="932.50" x2="1797.00" y2="932.50" stroke="#000" stroke-width="1.0" /><line x1="1800.00" y1="918.50" x2="1797.00" y2="918.50" stroke="#000" stroke-width="1.0" /><line x1="1800.00" y1="910.50" x2="1797.00" y2="910.50" stroke="#000" stroke-width="1.0" /><line x1="1800.00" y1="905.50" x2="1797.00" y2="905.50" stroke="#000" stroke-width="1.0" /><line x1="1800.00" y1="900.50" x2="1797.00" y2="900.50" stroke="#000" stroke-width="1.0" /><line x1="1800.00" y1="897.50" x2="1797.00" y2="897.50" stroke="#000" stroke-width="1.0" /><line x1="1800.00" y1="894.50" x2="1797.00" y2="894.50" stroke="#000" stroke-width="1.0" /><line x1="1800.00" y1="892.50" x2="1797.00" y2="892.50" stroke="#000" stroke-width="1.0" /><line x1="1800.00" y1="889.50" x2="1797.00" y2="889.50" stroke="#000" stroke-width="1.0" /><line x1="1800.00" y1="875.50" x2="1797.00" y2="875.50" stroke="#000" stroke-width="1.0" /><line x1="1800.00" y1="867.50" x2="1797.00" y2="867.50" stroke="#000" stroke-width="1.0" /><line x1="1800.00" y1="862.50" x2="1797.00" y2="862.50" stroke="#000" stroke-width="1.0" /><line x1="1800.00" y1="857.50" x2="1797.00" y2="857.50" stroke="#000" stroke-width="1.0" /><line x1="1800.00" y1="854.50" x2="1797.00" y2="854.50" stroke="#000" stroke-width="1.0" /><line x1="1800.00" y1="851.50" x2="1797.00" y2="851.50" stroke="#000" stroke-width="1.0" /><line x1="1800.00" y1="849.50" x2="1797.00" y2="849.50" stroke="#000" stroke-width="1.0" /><line x1="1800.00" y1="846.50" x2="1797.00" y2="846.50" stroke="#000" stroke-width="1.0" /><line x1="1244.50" y1="1017.00" x2="1244.50" y2="1012.00" stroke="#000" stroke-width="1.0" /><line x1="1319.50" y1="1017.00" x2="1319.50" y2="1012.00" stroke="#000" stroke-width="1.0" /><line x1="1393.50" y1="1017.00" x2="1393.50" y2="1012.00" stroke="#000" stroke-width="1.0" /><line x1="1467.50" y1="1017.00" x2="1467.50" y2="1012.00" stroke="#000" stroke-width="1.0" /><line x1="1542.50" y1="1017.00" x2="1542.50" y2="1012.00" stroke="#000" stroke-width="1.0" /><line x1="1616.50" y1="1017.00" x2="1616.50" y2="1012.00" stroke="#000" stroke-width="1.0" /><line x1="1691.50" y1="1017.00" x2="1691.50" y2="1012.00" stroke="#000" stroke-width="1.0" /><line x1="1765.50" y1="1017.00" x2="1765.50" y2="1012.00" stroke="#000" stroke-width="1.0" /><path d="M1205,1017 L1205,845 L1800,845" fill="none" stroke="#000" stroke-width="2" stroke-linecap="square"/><path d="M1205,1017 L1800,1017" fill="none" stroke="#000" stroke-width="2" stroke-linecap="square"/><path d="M1800,845 L1800,1017" fill="none" stroke="#000" stroke-width="2" stroke-linecap="square"/><text x="1156.94" y="1024.50" font-size="20.14" textLength="23.23" lengthAdjust="spacingAndGlyphs">10</text><rect x="1182.03" y="1012.78" width="8.33" height="1.10"/><text x="1192.21" y="1017.50" font-size="14.10" textLength="7.45" lengthAdjust="spacingAndGlyphs">1</text><text x="1167.74" y="981.50" font-size="20.14" textLength="23.23" lengthAdjust="spacingAndGlyphs">10</text><text x="1191.75" y="974.50" font-size="14.10" textLength="7.80" lengthAdjust="spacingAndGlyphs">0</text><text x="1168.09" y="938.50" font-size="20.14" textLength="23.23" lengthAdjust="spacingAndGlyphs">10</text><text x="1192.21" y="931.50" font-size="14.10" textLength="7.45" lengthAdjust="spacingAndGlyphs">1</text><text x="1168.19" y="895.50" font-size="20.14" textLength="23.23" lengthAdjust="spacingAndGlyphs">10</text><text x="1192.16" y="888.50" font-size="14.10" textLength="7.52" lengthAdjust="spacingAndGlyphs">2</text><text x="1167.92" y="852.50" font-size="20.14" textLength="23.23" lengthAdjust="spacingAndGlyphs">10</text><text x="1192.10" y="845.50" font-size="14.10" textLength="7.49" lengthAdjust="spacingAndGlyphs">3</text><g transform="rotate(-90 1107.00 931.00)"><text x="981.96" y="931.00" font-size="25.44" textLength="16.54" lengthAdjust="spacingAndGlyphs">&gt;</text><text x="1000.92" y="931.00" font-size="25.44" textLength="13.75" lengthAdjust="spacingAndGlyphs">1</text><text x="1016.13" y="931.00" font-size="25.44" textLength="14.11" lengthAdjust="spacingAndGlyphs">0</text><text x="1038.57" y="931.00" font-size="25.44" textLength="20.49" lengthAdjust="spacingAndGlyphs">M</text><text x="1059.45" y="931.00" font-size="25.44" textLength="14.30" lengthAdjust="spacingAndGlyphs">e</text><text x="1073.85" y="931.00" font-size="25.44" textLength="16.57" lengthAdjust="spacingAndGlyphs">V</text><text x="1097.96" y="931.00" font-size="25.44" textLength="15.36" lengthAdjust="spacingAndGlyphs">P</text><text x="1113.07" y="931.00" font-size="25.44" textLength="9.40" lengthAdjust="spacingAndGlyphs">r</text><text x="1122.58" y="931.00" font-size="25.44" textLength="14.17" lengthAdjust="spacingAndGlyphs">o</text><text x="1137.61" y="931.00" font-size="25.44" textLength="8.03" lengthAdjust="spacingAndGlyphs">t</text><text x="1146.67" y="931.00" font-size="25.44" textLength="14.17" lengthAdjust="spacingAndGlyphs">o</text><text x="1161.61" y="931.00" font-size="25.44" textLength="14.28" lengthAdjust="spacingAndGlyphs">n</text><text x="1183.93" y="931.00" font-size="25.44" textLength="13.83" lengthAdjust="spacingAndGlyphs">F</text><text x="1198.30" y="931.00" font-size="25.44" textLength="5.54" lengthAdjust="spacingAndGlyphs">l</text><text x="1204.82" y="931.00" font-size="25.44" textLength="14.28" lengthAdjust="spacingAndGlyphs">u</text><text x="1220.14" y="931.00" font-size="25.44" textLength="13.04" lengthAdjust="spacingAndGlyphs">x</text></g><g transform="rotate(-90 1139.00 931.00)"><text x="1048.93" y="931.00" font-size="25.44" textLength="7.48" lengthAdjust="spacingAndGlyphs">(</text><text x="1065.68" y="931.00" font-size="25.44" textLength="12.34" lengthAdjust="spacingAndGlyphs">c</text><text x="1079.46" y="931.00" font-size="25.44" textLength="22.05" lengthAdjust="spacingAndGlyphs">m</text><text x="1102.39" y="921.20" font-size="17.81" textLength="9.68" lengthAdjust="spacingAndGlyphs">2</text><text x="1120.83" y="931.00" font-size="25.44" textLength="12.04" lengthAdjust="spacingAndGlyphs">s</text><rect x="1134.71" y="915.24" width="10.52" height="1.39"/><text x="1147.45" y="921.20" font-size="17.81" textLength="9.63" lengthAdjust="spacingAndGlyphs">1</text><text x="1165.73" y="931.00" font-size="25.44" textLength="12.04" lengthAdjust="spacingAndGlyphs">s</text><text x="1178.45" y="931.00" font-size="25.44" textLength="9.40" lengthAdjust="spacingAndGlyphs">r</text><rect x="1189.48" y="915.24" width="10.52" height="1.39"/><text x="1202.22" y="921.20" font-size="17.81" textLength="9.63" lengthAdjust="spacingAndGlyphs">1</text><text x="1221.59" y="931.00" font-size="25.44" textLength="7.48" lengthAdjust="spacingAndGlyphs">)</text></g><text x="1232.15" y="1036.80" font-size="20.14" textLength="24.15" lengthAdjust="spacingAndGlyphs">07</text><text x="1306.38" y="1036.80" font-size="20.14" textLength="24.34" lengthAdjust="spacingAndGlyphs">08</text><text x="1380.79" y="1036.80" font-size="20.14" textLength="24.40" lengthAdjust="spacingAndGlyphs">09</text><text x="1454.77" y="1036.80" font-size="20.14" textLength="24.25" lengthAdjust="spacingAndGlyphs">10</text><text x="1529.44" y="1036.80" font-size="20.14" textLength="23.94" lengthAdjust="spacingAndGlyphs">11</text><text x="1603.92" y="1036.80" font-size="20.14" textLength="23.81" lengthAdjust="spacingAndGlyphs">12</text><text x="1678.11" y="1036.80" font-size="20.14" textLength="24.08" lengthAdjust="spacingAndGlyphs">13</text><text x="1752.27" y="1036.80" font-size="20.14" textLength="24.23" lengthAdjust="spacingAndGlyphs">14</text><text x="1401.22" y="1066.00" font-size="25.44" textLength="20.49" lengthAdjust="spacingAndGlyphs">M</text><text x="1421.98" y="1066.00" font-size="25.44" textLength="12.92" lengthAdjust="spacingAndGlyphs">a</text><text x="1437.38" y="1066.00" font-size="25.44" textLength="9.40" lengthAdjust="spacingAndGlyphs">r</text><text x="1446.86" y="1066.00" font-size="25.44" textLength="12.34" lengthAdjust="spacingAndGlyphs">c</text><text x="1460.47" y="1066.00" font-size="25.44" textLength="14.34" lengthAdjust="spacingAndGlyphs">h</text><text x="1483.44" y="1066.00" font-size="25.44" textLength="13.82" lengthAdjust="spacingAndGlyphs">2</text><text x="1499.01" y="1066.00" font-size="25.44" textLength="14.11" lengthAdjust="spacingAndGlyphs">0</text><text x="1514.22" y="1066.00" font-size="25.44" textLength="13.82" lengthAdjust="spacingAndGlyphs">2</text><text x="1529.78" y="1066.00" font-size="25.44" textLength="14.11" lengthAdjust="spacingAndGlyphs">0</text><text x="1552.64" y="1066.00" font-size="25.44" textLength="7.48" lengthAdjust="spacingAndGlyphs">(</text><text x="1561.70" y="1066.00" font-size="25.44" textLength="17.62" lengthAdjust="spacingAndGlyphs">U</text><text x="1578.87" y="1066.00" font-size="25.44" textLength="15.79" lengthAdjust="spacingAndGlyphs">T</text><text x="1595.68" y="1066.00" font-size="25.44" textLength="7.48" lengthAdjust="spacingAndGlyphs">)</text></svg></body></html>
